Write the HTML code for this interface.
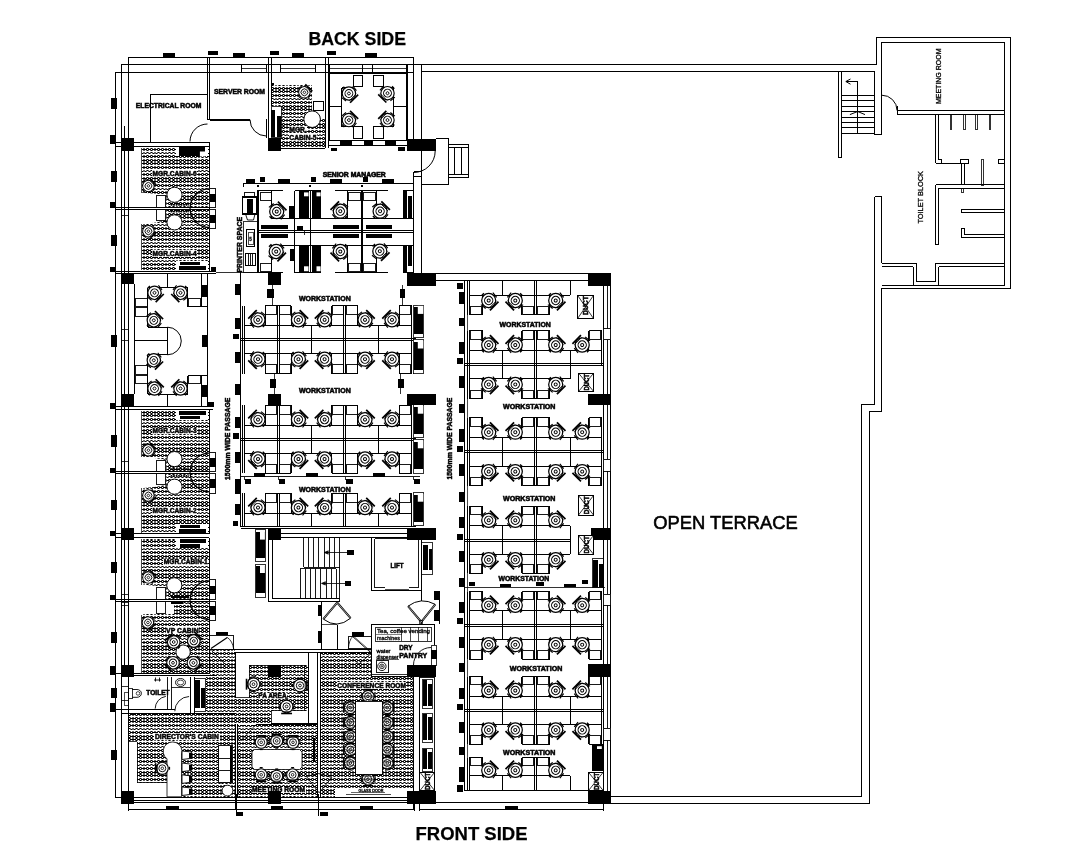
<!DOCTYPE html>
<html><head><meta charset="utf-8"><title>Office floor plan</title>
<style>html,body{margin:0;padding:0;background:#fff}body{width:1086px;height:856px;overflow:hidden;font-family:"Liberation Sans",sans-serif}svg{display:block}.k{shape-rendering:crispEdges}</style>
</head><body>
<svg width="1086" height="856" viewBox="0 0 1086 856">
<defs>
<pattern id="h" width="3.6" height="7.4" patternUnits="userSpaceOnUse">
<g fill="none" stroke="#000" stroke-width="0.8">
<circle cx="1.8" cy="1.85" r="1.05"/>
<path d="M0 1.85H0.75M2.85 1.85H3.6"/>
<path d="M0 5.9Q0.9 4.2 1.8 5.5T3.6 5.9" stroke-width="0.95"/>
</g>
</pattern>
<g id="c" fill="none" stroke="#000" transform="scale(1.08)">
<circle r="6.5" fill="#fff" stroke-width="1.15"/>
<circle r="3.8" stroke-width="1"/>
<circle r="1.4" stroke-width="0.9"/>
<path d="M-5.6 -7.2L5.6 -7.2" stroke-width="1.6"/>
<path d="M-4.8 -5.3L4.8 -5.3" stroke-width="0.8"/>
<path d="M-7.2 -3.2L-7.8 2.4M7.2 -3.2L7.8 2.4" stroke-width="1.1"/>
<path d="M-1.6 7.8L1.6 7.8" stroke-width="1.4"/>
</g>
<g id="c2" fill="none" stroke="#000" transform="scale(1.08)">
<circle r="6.5" fill="#fff" fill-opacity="0.45" stroke-width="1.2"/>
<circle r="3.8" stroke-width="1"/>
<circle r="1.4" stroke-width="0.9"/>
<path d="M-5.6 -7.2L5.6 -7.2" stroke-width="1.6"/>
<path d="M-7.2 -3.2L-7.8 2.4M7.2 -3.2L7.8 2.4" stroke-width="1.1"/>
</g>
</defs>
<rect width="1086" height="856" fill="#fff"/>
<g fill="none" shape-rendering="crispEdges" stroke-width="1"><path stroke="#000" d="M272 85.5h1m6 0h1m3 0h1m6 0h1m3 0h1m6 0h1m3 0h1M272 87.5h1m6 0h1m3 0h1m6 0h1m3 0h1m6 0h1m3 0h1M273 88.5h6m1 0h3m1 0h6m1 0h3m1 0h6m1 0h3m1 0h6M272 89.5h1m6 0h1m3 0h1m6 0h1m3 0h1m6 0h1m3 0h1M272 90.5h1m6 0h1m3 0h1m6 0h1m3 0h1m6 0h1m3 0h1M273 91.5h6m1 0h3m1 0h6m1 0h3m1 0h6m1 0h3m1 0h6M272 92.5h1m6 0h1m3 0h1m6 0h1m3 0h1m6 0h1m3 0h1M272 94.5h1m6 0h1m3 0h1m6 0h1m3 0h1m6 0h1m3 0h1M273 95.5h6m1 0h3m1 0h6m1 0h3m1 0h6m1 0h3m1 0h6M272 96.5h1m6 0h1m3 0h1m6 0h1m3 0h1m6 0h1m3 0h1M272 98.5h1m6 0h1m3 0h1m6 0h1m3 0h1m6 0h1m3 0h1M274 99.5h1m2 0h1m3 0h1m3 0h1m2 0h1m3 0h1m3 0h1m2 0h1m3 0h1m3 0h1m2 0h1M272 101.5h1m6 0h1m3 0h1m6 0h1m3 0h1m6 0h1m3 0h1M273 102.5h6m1 0h3m1 0h6m1 0h3m1 0h6m1 0h3m1 0h6M272 103.5h1m6 0h1m3 0h1m6 0h1m3 0h1m6 0h1m3 0h1M272 105.5h1m6 0h1m3 0h1m6 0h1m3 0h1m6 0h1m3 0h1M273 106.5h6m1 0h3m1 0h6m1 0h3m1 0h6m1 0h3m1 0h6M272 107.5h1m6 0h1m3 0h1m6 0h1m3 0h1m6 0h1m3 0h1M272 108.5h1m6 0h1m3 0h1m6 0h1m3 0h1m6 0h1m3 0h1M273 109.5h6m1 0h3m1 0h6m1 0h3m1 0h6m1 0h3m1 0h6M283 110.5h1m6 0h1m3 0h1m6 0h1m3 0h1M283 112.5h1m6 0h1m3 0h1m6 0h1m3 0h1M280 113.5h3m1 0h6m1 0h3m1 0h6m1 0h3m1 0h6M283 114.5h1m6 0h1m3 0h1m6 0h1m3 0h1M283 116.5h1m6 0h1m3 0h1m6 0h1m3 0h1M281 117.5h1m3 0h1m2 0h1m3 0h1m3 0h1m2 0h1m3 0h1m3 0h1m2 0h1M283 119.5h1m6 0h1m3 0h1m6 0h1m3 0h1m6 0h1m3 0h1m6 0h1M280 120.5h3m1 0h6m1 0h3m1 0h6m1 0h3m1 0h6m1 0h3m1 0h6m1 0h1M283 121.5h1m6 0h1m3 0h1m6 0h1m3 0h1m6 0h1m3 0h1m6 0h1M283 123.5h1m6 0h1m3 0h1m6 0h1m3 0h1m6 0h1m3 0h1m6 0h1M280 124.5h3m1 0h6m1 0h3m1 0h6m1 0h3m1 0h6m1 0h3m1 0h6m1 0h1M283 125.5h1m6 0h1m3 0h1m6 0h1m3 0h1m6 0h1m3 0h1m6 0h1M283 126.5h1m28 0h1m3 0h1m6 0h1M280 127.5h3m1 0h5m18 0h5m1 0h3m1 0h6m1 0h1M283 128.5h1m28 0h1m3 0h1m6 0h1M283 130.5h1m28 0h1m3 0h1m6 0h1M280 131.5h3m1 0h5m18 0h5m1 0h3m1 0h6m1 0h1M283 132.5h1m6 0h1m3 0h1m6 0h1m3 0h1m6 0h1m3 0h1m6 0h1M283 134.5h1m39 0h1M281 135.5h1m3 0h1m2 0h1m29 0h1m2 0h1M283 137.5h1m39 0h1M280 138.5h3m1 0h5m28 0h6m1 0h1M283 139.5h1m39 0h1M283 141.5h1m6 0h1m3 0h1m6 0h1m3 0h1m6 0h1m3 0h1m6 0h1M280 142.5h3m1 0h6m1 0h3m1 0h6m1 0h3m1 0h6m1 0h3m1 0h6m1 0h1M283 143.5h1m6 0h1m3 0h1m6 0h1m3 0h1m6 0h1m3 0h1m6 0h1M283 144.5h1m6 0h1m3 0h1m6 0h1m3 0h1m6 0h1m3 0h1m6 0h1M280 145.5h3m1 0h6m1 0h3m1 0h6m1 0h3m1 0h6m1 0h3m1 0h6m1 0h1M283 146.5h1m6 0h1m3 0h1m6 0h1m3 0h1m6 0h1m3 0h1m6 0h1M147 148.5h1m3 0h1m6 0h1m3 0h1m6 0h1m3 0h1M142 149.5h5m1 0h3m1 0h6m1 0h3m1 0h6m1 0h3m1 0h2m32 0h1M147 150.5h1m3 0h1m6 0h1m3 0h1m6 0h1m3 0h1M147 152.5h1m3 0h1m6 0h1m3 0h1m6 0h1m3 0h1M142 153.5h1m2 0h1m3 0h1m3 0h1m2 0h1m3 0h1m3 0h1m2 0h1m3 0h1m3 0h1m32 0h1M147 155.5h1m3 0h1m6 0h1m3 0h1m6 0h1m3 0h1M142 156.5h5m1 0h3m1 0h6m1 0h3m1 0h6m1 0h3m1 0h6m1 0h3m1 0h6m1 0h3m1 0h6m1 0h3m1 0h2M147 157.5h1m3 0h1m6 0h1m3 0h1m6 0h1m3 0h1m6 0h1m3 0h1m6 0h1m3 0h1m6 0h1m3 0h1M147 159.5h1m3 0h1m6 0h1m3 0h1m6 0h1m3 0h1m6 0h1m3 0h1m6 0h1m3 0h1m6 0h1m3 0h1M142 160.5h5m1 0h3m1 0h6m1 0h3m1 0h6m1 0h3m1 0h6m1 0h3m1 0h6m1 0h3m1 0h6m1 0h3m1 0h2M147 161.5h1m3 0h1m6 0h1m3 0h1m6 0h1m3 0h1m6 0h1m3 0h1m6 0h1m3 0h1m6 0h1m3 0h1M147 162.5h1m3 0h1m6 0h1m3 0h1m6 0h1m3 0h1m6 0h1m3 0h1m6 0h1m3 0h1m6 0h1m3 0h1M142 163.5h5m1 0h3m1 0h6m1 0h3m1 0h6m1 0h3m1 0h6m1 0h3m1 0h6m1 0h3m1 0h6m1 0h3m1 0h2M147 164.5h1m3 0h1m6 0h1m3 0h1m6 0h1m3 0h1m6 0h1m3 0h1m6 0h1m3 0h1m6 0h1m3 0h1M147 166.5h1m3 0h1m6 0h1m3 0h1m6 0h1m3 0h1m6 0h1m3 0h1m6 0h1m3 0h1m6 0h1m3 0h1M142 167.5h5m1 0h3m1 0h6m1 0h3m1 0h6m1 0h3m1 0h6m1 0h3m1 0h6m1 0h3m1 0h6m1 0h3m1 0h2M147 168.5h1m3 0h1m6 0h1m3 0h1m6 0h1m3 0h1m6 0h1m3 0h1m6 0h1m3 0h1m6 0h1m3 0h1M147 170.5h1m3 0h1m50 0h1m3 0h1M142 171.5h1m2 0h1m3 0h1m47 0h1m2 0h1m3 0h1m3 0h1M147 173.5h1m3 0h1m50 0h1m3 0h1M142 174.5h5m1 0h3m46 0h5m1 0h3m1 0h2M147 175.5h1m3 0h1m50 0h1m3 0h1M147 177.5h1m3 0h1m6 0h1m3 0h1m6 0h1m3 0h1m6 0h1m3 0h1m6 0h1m3 0h1m6 0h1m3 0h1M142 178.5h5m1 0h3m1 0h6m1 0h3m1 0h6m1 0h3m1 0h6m1 0h3m1 0h6m1 0h3m1 0h6m1 0h3m1 0h2M147 179.5h1m3 0h1m6 0h1m3 0h1m6 0h1m3 0h1m6 0h1m3 0h1m6 0h1m3 0h1m6 0h1m3 0h1M147 180.5h1m3 0h1m6 0h1m3 0h1m6 0h1m3 0h1m6 0h1m3 0h1m6 0h1m3 0h1m6 0h1m3 0h1M142 181.5h5m1 0h3m1 0h6m1 0h3m1 0h6m1 0h3m1 0h6m1 0h3m1 0h6m1 0h3m1 0h6m1 0h3m1 0h2M147 182.5h1m3 0h1m6 0h1m3 0h1m6 0h1m3 0h1m6 0h1m3 0h1m6 0h1m3 0h1m6 0h1m3 0h1M147 184.5h1m3 0h1m6 0h1m3 0h1m6 0h1m3 0h1m6 0h1m3 0h1m6 0h1m3 0h1m6 0h1m3 0h1M142 185.5h5m1 0h3m1 0h6m1 0h3m1 0h6m1 0h3m1 0h6m1 0h3m1 0h6m1 0h3m1 0h6m1 0h3m1 0h2M147 186.5h1m3 0h1m6 0h1m3 0h1m6 0h1m3 0h1m6 0h1m3 0h1m6 0h1m3 0h1m6 0h1m3 0h1M147 188.5h1m3 0h1m6 0h1m3 0h1m6 0h1m3 0h1m6 0h1m3 0h1m6 0h1m3 0h1m6 0h1m3 0h1M142 189.5h1m2 0h1m3 0h1m3 0h1m2 0h1m3 0h1m3 0h1m2 0h1m3 0h1m3 0h1m2 0h1m3 0h1m3 0h1m2 0h1m3 0h1m3 0h1m2 0h1m3 0h1m3 0h1M147 191.5h1m3 0h1m6 0h1m3 0h1m6 0h1m3 0h1m6 0h1m3 0h1m6 0h1m3 0h1m6 0h1m3 0h1M142 192.5h5m1 0h3m1 0h6m1 0h3m1 0h6m1 0h3m1 0h6m1 0h3m1 0h6m1 0h3m1 0h6m1 0h3m1 0h2M147 193.5h1m3 0h1m6 0h1m3 0h1m6 0h1m3 0h1m6 0h1m3 0h1m6 0h1m3 0h1m6 0h1m3 0h1M147 195.5h1m3 0h1m6 0h1m3 0h1m6 0h1m3 0h1m6 0h1m3 0h1m6 0h1m3 0h1m6 0h1m3 0h1M142 196.5h5m1 0h3m1 0h6m1 0h3m1 0h6m1 0h3m1 0h6m1 0h3m1 0h6m1 0h3m1 0h6m1 0h3m1 0h2M147 197.5h1m3 0h1m6 0h1m3 0h1m6 0h1m3 0h1m6 0h1m3 0h1m6 0h1m3 0h1m6 0h1m3 0h1M147 198.5h1m3 0h1m6 0h1m3 0h1m6 0h1m3 0h1m6 0h1m3 0h1m6 0h1m3 0h1m6 0h1m3 0h1M142 199.5h5m1 0h3m1 0h6m1 0h3m1 0h6m1 0h3m1 0h6m1 0h3m1 0h6m1 0h3m1 0h6m1 0h3m1 0h2M147 200.5h1m3 0h1m6 0h1m3 0h1m6 0h1m3 0h1m6 0h1m3 0h1m6 0h1m3 0h1m6 0h1m3 0h1M147 202.5h1m3 0h1m6 0h1m3 0h1m6 0h1m3 0h1m6 0h1m3 0h1m6 0h1m3 0h1m6 0h1m3 0h1M142 203.5h5m1 0h3m1 0h6m1 0h3m1 0h6m1 0h3m1 0h6m1 0h3m1 0h6m1 0h3m1 0h6m1 0h3m1 0h2M147 204.5h1m3 0h1m6 0h1m3 0h1m6 0h1m3 0h1m6 0h1m3 0h1m6 0h1m3 0h1m6 0h1m3 0h1M147 206.5h1m3 0h1m6 0h1m3 0h1m6 0h1m3 0h1m6 0h1m3 0h1m6 0h1m3 0h1m6 0h1m3 0h1M147 209.5h1m3 0h1m6 0h1m3 0h1m6 0h1m3 0h1m6 0h1m3 0h1m6 0h1m3 0h1m6 0h1m3 0h1M142 210.5h5m1 0h3m1 0h6m1 0h3m1 0h6m1 0h3m1 0h6m1 0h3m1 0h6m1 0h3m1 0h6m1 0h3m1 0h2M147 211.5h1m3 0h1m6 0h1m3 0h1m6 0h1m3 0h1m6 0h1m3 0h1m6 0h1m3 0h1m6 0h1m3 0h1M147 213.5h1m3 0h1m6 0h1m3 0h1m6 0h1m3 0h1m6 0h1m3 0h1m6 0h1m3 0h1m6 0h1m3 0h1M142 214.5h5m1 0h3m1 0h6m1 0h3m1 0h6m1 0h3m1 0h6m1 0h3m1 0h6m1 0h3m1 0h6m1 0h3m1 0h2M147 215.5h1m3 0h1m6 0h1m3 0h1m6 0h1m3 0h1m6 0h1m3 0h1m6 0h1m3 0h1m6 0h1m3 0h1M147 216.5h1m3 0h1m6 0h1m3 0h1m6 0h1m3 0h1m6 0h1m3 0h1m6 0h1m3 0h1m6 0h1m3 0h1M142 217.5h5m1 0h3m1 0h6m1 0h3m1 0h6m1 0h3m1 0h6m1 0h3m1 0h6m1 0h3m1 0h6m1 0h3m1 0h2M147 218.5h1m3 0h1m6 0h1m3 0h1m6 0h1m3 0h1m6 0h1m3 0h1m6 0h1m3 0h1m6 0h1m3 0h1M147 220.5h1m3 0h1m6 0h1m3 0h1m6 0h1m3 0h1m6 0h1m3 0h1m6 0h1m3 0h1m6 0h1m3 0h1M142 221.5h5m1 0h3m1 0h6m1 0h3m1 0h6m1 0h3m1 0h6m1 0h3m1 0h6m1 0h3m1 0h6m1 0h3m1 0h2M147 222.5h1m3 0h1m6 0h1m3 0h1m6 0h1m3 0h1m6 0h1m3 0h1m6 0h1m3 0h1m6 0h1m3 0h1M147 224.5h1m3 0h1m6 0h1m3 0h1m6 0h1m3 0h1m6 0h1m3 0h1m6 0h1m3 0h1m6 0h1m3 0h1M142 225.5h1m2 0h1m3 0h1m3 0h1m2 0h1m3 0h1m3 0h1m2 0h1m3 0h1m3 0h1m2 0h1m3 0h1m3 0h1m2 0h1m3 0h1m3 0h1m2 0h1m3 0h1m3 0h1M147 227.5h1m3 0h1m6 0h1m3 0h1m6 0h1m3 0h1m6 0h1m3 0h1m6 0h1m3 0h1m6 0h1m3 0h1M142 228.5h5m1 0h3m1 0h6m1 0h3m1 0h6m1 0h3m1 0h6m1 0h3m1 0h6m1 0h3m1 0h6m1 0h3m1 0h2M147 229.5h1m3 0h1m6 0h1m3 0h1m6 0h1m3 0h1m6 0h1m3 0h1m6 0h1m3 0h1m6 0h1m3 0h1M147 231.5h1m3 0h1m6 0h1m3 0h1m6 0h1m3 0h1m6 0h1m3 0h1m6 0h1m3 0h1m6 0h1m3 0h1M142 232.5h5m1 0h3m1 0h6m1 0h3m1 0h6m1 0h3m1 0h6m1 0h3m1 0h6m1 0h3m1 0h6m1 0h3m1 0h2M147 233.5h1m3 0h1m6 0h1m3 0h1m6 0h1m3 0h1m6 0h1m3 0h1m6 0h1m3 0h1m6 0h1m3 0h1M147 234.5h1m3 0h1m6 0h1m3 0h1m6 0h1m3 0h1m6 0h1m3 0h1m6 0h1m3 0h1m6 0h1m3 0h1M142 235.5h5m1 0h3m1 0h6m1 0h3m1 0h6m1 0h3m1 0h6m1 0h3m1 0h6m1 0h3m1 0h6m1 0h3m1 0h2M147 236.5h1m3 0h1m6 0h1m3 0h1m6 0h1m3 0h1m6 0h1m3 0h1m6 0h1m3 0h1m6 0h1m3 0h1M147 238.5h1m3 0h1m6 0h1m3 0h1m6 0h1m3 0h1m6 0h1m3 0h1m6 0h1m3 0h1m6 0h1m3 0h1M142 239.5h5m1 0h3m1 0h6m1 0h3m1 0h6m1 0h3m1 0h6m1 0h3m1 0h6m1 0h3m1 0h6m1 0h3m1 0h2M147 240.5h1m3 0h1m6 0h1m3 0h1m6 0h1m3 0h1m6 0h1m3 0h1m6 0h1m3 0h1m6 0h1m3 0h1M147 242.5h1m3 0h1m6 0h1m3 0h1m6 0h1m3 0h1m6 0h1m3 0h1m6 0h1m3 0h1m6 0h1m3 0h1M142 243.5h1m2 0h1m3 0h1m3 0h1m2 0h1m3 0h1m3 0h1m2 0h1m3 0h1m3 0h1m2 0h1m3 0h1m3 0h1m2 0h1m3 0h1m3 0h1m2 0h1m3 0h1m3 0h1M147 245.5h1m3 0h1m6 0h1m3 0h1m6 0h1m3 0h1m6 0h1m3 0h1m6 0h1m3 0h1m6 0h1m3 0h1M142 246.5h5m1 0h3m1 0h6m1 0h3m1 0h6m1 0h3m1 0h6m1 0h3m1 0h6m1 0h3m1 0h6m1 0h3m1 0h2M147 247.5h1m3 0h1m6 0h1m3 0h1m6 0h1m3 0h1m6 0h1m3 0h1m6 0h1m3 0h1m6 0h1m3 0h1M147 249.5h1m3 0h1m6 0h1m3 0h1m6 0h1m3 0h1m6 0h1m3 0h1m6 0h1m3 0h1m6 0h1m3 0h1M142 250.5h5m1 0h3m46 0h5m1 0h3m1 0h2M147 251.5h1m3 0h1m50 0h1m3 0h1M147 252.5h1m3 0h1m50 0h1m3 0h1M142 253.5h5m1 0h3m46 0h5m1 0h3m1 0h2M147 254.5h1m3 0h1m50 0h1m3 0h1M147 256.5h1m3 0h1m50 0h1m3 0h1M142 257.5h5m1 0h3m1 0h6m1 0h3m1 0h6m1 0h3m1 0h6m1 0h3m1 0h6m1 0h3m1 0h6m1 0h3m1 0h2M147 258.5h1m3 0h1m6 0h1m3 0h1m6 0h1m3 0h1m6 0h1m3 0h1m6 0h1m3 0h1m6 0h1m3 0h1M147 260.5h1m3 0h1m6 0h1m3 0h1m6 0h1m3 0h1m6 0h1m3 0h1m6 0h1m3 0h1m6 0h1m3 0h1M142 261.5h1m2 0h1m3 0h1m3 0h1m2 0h1m3 0h1m3 0h1m2 0h1m3 0h1m3 0h1m32 0h1M147 263.5h1m3 0h1m6 0h1m3 0h1m6 0h1m3 0h1M142 264.5h5m1 0h3m1 0h6m1 0h3m1 0h6m1 0h3m1 0h2m32 0h1M147 265.5h1m3 0h1m6 0h1m3 0h1m6 0h1m3 0h1M147 267.5h1m3 0h1m6 0h1m3 0h1m6 0h1m3 0h1M142 268.5h5m1 0h3m1 0h6m1 0h3m1 0h6m1 0h3m1 0h2m32 0h1M147 269.5h1m3 0h1m6 0h1m3 0h1m6 0h1m3 0h1M147 411.5h1m3 0h1m6 0h1m3 0h1m6 0h1m3 0h1M142 412.5h5m1 0h3m1 0h6m1 0h3m1 0h6m1 0h3m1 0h2m32 0h1M147 413.5h1m3 0h1m6 0h1m3 0h1m6 0h1m3 0h1M147 414.5h1m3 0h1m6 0h1m3 0h1m6 0h1m3 0h1M142 415.5h5m1 0h3m1 0h6m1 0h3m1 0h6m1 0h3m1 0h2m32 0h1M147 416.5h1m3 0h1m6 0h1m3 0h1m6 0h1m3 0h1M147 418.5h1m3 0h1m6 0h1m3 0h1m6 0h1m3 0h1M142 419.5h5m1 0h3m1 0h6m1 0h3m1 0h6m1 0h3m1 0h2m32 0h1M147 420.5h1m3 0h1m6 0h1m3 0h1m6 0h1m3 0h1m6 0h1m3 0h1m6 0h1m3 0h1m6 0h1m3 0h1M147 422.5h1m3 0h1m6 0h1m3 0h1m6 0h1m3 0h1m6 0h1m3 0h1m6 0h1m3 0h1m6 0h1m3 0h1M142 423.5h1m2 0h1m3 0h1m3 0h1m2 0h1m3 0h1m3 0h1m2 0h1m3 0h1m3 0h1m2 0h1m3 0h1m3 0h1m2 0h1m3 0h1m3 0h1m2 0h1m3 0h1m3 0h1M147 425.5h1m3 0h1m6 0h1m3 0h1m6 0h1m3 0h1m6 0h1m3 0h1m6 0h1m3 0h1m6 0h1m3 0h1M142 426.5h5m1 0h3m1 0h6m1 0h3m1 0h6m1 0h3m1 0h6m1 0h3m1 0h6m1 0h3m1 0h6m1 0h3m1 0h2M147 427.5h1m3 0h1m6 0h1m3 0h1m6 0h1m3 0h1m6 0h1m3 0h1m6 0h1m3 0h1m6 0h1m3 0h1M147 429.5h1m3 0h1m50 0h1m3 0h1M142 430.5h5m1 0h3m46 0h5m1 0h3m1 0h2M147 431.5h1m3 0h1m50 0h1m3 0h1M147 432.5h1m3 0h1m50 0h1m3 0h1M142 433.5h5m1 0h3m46 0h5m1 0h3m1 0h2M147 434.5h1m3 0h1m6 0h1m3 0h1m6 0h1m3 0h1m6 0h1m3 0h1m6 0h1m3 0h1m6 0h1m3 0h1M147 436.5h1m3 0h1m6 0h1m3 0h1m6 0h1m3 0h1m6 0h1m3 0h1m6 0h1m3 0h1m6 0h1m3 0h1M142 437.5h5m1 0h3m1 0h6m1 0h3m1 0h6m1 0h3m1 0h6m1 0h3m1 0h6m1 0h3m1 0h6m1 0h3m1 0h2M147 438.5h1m3 0h1m6 0h1m3 0h1m6 0h1m3 0h1m6 0h1m3 0h1m6 0h1m3 0h1m6 0h1m3 0h1M147 440.5h1m3 0h1m6 0h1m3 0h1m6 0h1m3 0h1m6 0h1m3 0h1m6 0h1m3 0h1m6 0h1m3 0h1M142 441.5h1m2 0h1m3 0h1m3 0h1m2 0h1m3 0h1m3 0h1m2 0h1m3 0h1m3 0h1m2 0h1m3 0h1m3 0h1m2 0h1m3 0h1m3 0h1m2 0h1m3 0h1m3 0h1M147 443.5h1m3 0h1m6 0h1m3 0h1m6 0h1m3 0h1m6 0h1m3 0h1m6 0h1m3 0h1m6 0h1m3 0h1M142 444.5h5m1 0h3m1 0h6m1 0h3m1 0h6m1 0h3m1 0h6m1 0h3m1 0h6m1 0h3m1 0h6m1 0h3m1 0h2M147 445.5h1m3 0h1m6 0h1m3 0h1m6 0h1m3 0h1m6 0h1m3 0h1m6 0h1m3 0h1m6 0h1m3 0h1M147 447.5h1m3 0h1m6 0h1m3 0h1m6 0h1m3 0h1m6 0h1m3 0h1m6 0h1m3 0h1m6 0h1m3 0h1M142 448.5h5m1 0h3m1 0h6m1 0h3m1 0h6m1 0h3m1 0h6m1 0h3m1 0h6m1 0h3m1 0h6m1 0h3m1 0h2M147 449.5h1m3 0h1m6 0h1m3 0h1m6 0h1m3 0h1m6 0h1m3 0h1m6 0h1m3 0h1m6 0h1m3 0h1M147 450.5h1m3 0h1m6 0h1m3 0h1m6 0h1m3 0h1m6 0h1m3 0h1m6 0h1m3 0h1m6 0h1m3 0h1M142 451.5h5m1 0h3m1 0h6m1 0h3m1 0h6m1 0h3m1 0h6m1 0h3m1 0h6m1 0h3m1 0h6m1 0h3m1 0h2M147 452.5h1m3 0h1m6 0h1m3 0h1m6 0h1m3 0h1m6 0h1m3 0h1m6 0h1m3 0h1m6 0h1m3 0h1M147 454.5h1m3 0h1m6 0h1m3 0h1m6 0h1m3 0h1m6 0h1m3 0h1m6 0h1m3 0h1m6 0h1m3 0h1M142 455.5h5m1 0h3m1 0h6m1 0h3m1 0h6m1 0h3m1 0h6m1 0h3m1 0h6m1 0h3m1 0h6m1 0h3m1 0h2M147 456.5h1m3 0h1m6 0h1m3 0h1m6 0h1m3 0h1m6 0h1m3 0h1m6 0h1m3 0h1m6 0h1m3 0h1M147 458.5h1m3 0h1m6 0h1m3 0h1m6 0h1m3 0h1m6 0h1m3 0h1m6 0h1m3 0h1m6 0h1m3 0h1M142 459.5h1m2 0h1m3 0h1m3 0h1m2 0h1m3 0h1m3 0h1m2 0h1m3 0h1m3 0h1m2 0h1m3 0h1m3 0h1m2 0h1m3 0h1m3 0h1m2 0h1m3 0h1m3 0h1M147 461.5h1m3 0h1m6 0h1m3 0h1m6 0h1m3 0h1m6 0h1m3 0h1m6 0h1m3 0h1m6 0h1m3 0h1M142 462.5h5m1 0h3m1 0h6m1 0h3m1 0h6m1 0h3m1 0h6m1 0h3m1 0h6m1 0h3m1 0h6m1 0h3m1 0h2M147 463.5h1m3 0h1m6 0h1m3 0h1m6 0h1m3 0h1m6 0h1m3 0h1m6 0h1m3 0h1m6 0h1m3 0h1M147 465.5h1m3 0h1m6 0h1m3 0h1m6 0h1m3 0h1m6 0h1m3 0h1m6 0h1m3 0h1m6 0h1m3 0h1M142 466.5h5m1 0h3m1 0h6m1 0h3m1 0h6m1 0h3m1 0h6m1 0h3m1 0h6m1 0h3m1 0h6m1 0h3m1 0h2M147 467.5h1m3 0h1m6 0h1m3 0h1m6 0h1m3 0h1m6 0h1m3 0h1m6 0h1m3 0h1m6 0h1m3 0h1M147 468.5h1m3 0h1m6 0h1m3 0h1m6 0h1m3 0h1m6 0h1m3 0h1m6 0h1m3 0h1m6 0h1m3 0h1M142 469.5h5m1 0h3m1 0h6m1 0h3m1 0h6m1 0h3m1 0h6m1 0h3m1 0h6m1 0h3m1 0h6m1 0h3m1 0h2M147 470.5h1m3 0h1m6 0h1m3 0h1m6 0h1m3 0h1m6 0h1m3 0h1m6 0h1m3 0h1m6 0h1m3 0h1M147 474.5h1m3 0h1m6 0h1m3 0h1m6 0h1m3 0h1m6 0h1m3 0h1m6 0h1m3 0h1m6 0h1m3 0h1M147 476.5h1m3 0h1m6 0h1m3 0h1m6 0h1m3 0h1m6 0h1m3 0h1m6 0h1m3 0h1m6 0h1m3 0h1M142 477.5h1m2 0h1m3 0h1m3 0h1m2 0h1m3 0h1m3 0h1m2 0h1m3 0h1m3 0h1m2 0h1m3 0h1m3 0h1m2 0h1m3 0h1m3 0h1m2 0h1m3 0h1m3 0h1M147 479.5h1m3 0h1m6 0h1m3 0h1m6 0h1m3 0h1m6 0h1m3 0h1m6 0h1m3 0h1m6 0h1m3 0h1M142 480.5h5m1 0h3m1 0h6m1 0h3m1 0h6m1 0h3m1 0h6m1 0h3m1 0h6m1 0h3m1 0h6m1 0h3m1 0h2M147 481.5h1m3 0h1m6 0h1m3 0h1m6 0h1m3 0h1m6 0h1m3 0h1m6 0h1m3 0h1m6 0h1m3 0h1M147 483.5h1m3 0h1m6 0h1m3 0h1m6 0h1m3 0h1m6 0h1m3 0h1m6 0h1m3 0h1m6 0h1m3 0h1M142 484.5h5m1 0h3m1 0h6m1 0h3m1 0h6m1 0h3m1 0h6m1 0h3m1 0h6m1 0h3m1 0h6m1 0h3m1 0h2M147 485.5h1m3 0h1m6 0h1m3 0h1m6 0h1m3 0h1m6 0h1m3 0h1m6 0h1m3 0h1m6 0h1m3 0h1M147 486.5h1m3 0h1m6 0h1m3 0h1m6 0h1m3 0h1m6 0h1m3 0h1m6 0h1m3 0h1m6 0h1m3 0h1M142 487.5h5m1 0h3m1 0h6m1 0h3m1 0h6m1 0h3m1 0h6m1 0h3m1 0h6m1 0h3m1 0h6m1 0h3m1 0h2M147 488.5h1m3 0h1m6 0h1m3 0h1m6 0h1m3 0h1m6 0h1m3 0h1m6 0h1m3 0h1m6 0h1m3 0h1M147 490.5h1m3 0h1m6 0h1m3 0h1m6 0h1m3 0h1m6 0h1m3 0h1m6 0h1m3 0h1m6 0h1m3 0h1M142 491.5h5m1 0h3m1 0h6m1 0h3m1 0h6m1 0h3m1 0h6m1 0h3m1 0h6m1 0h3m1 0h6m1 0h3m1 0h2M147 492.5h1m3 0h1m6 0h1m3 0h1m6 0h1m3 0h1m6 0h1m3 0h1m6 0h1m3 0h1m6 0h1m3 0h1M147 494.5h1m3 0h1m6 0h1m3 0h1m6 0h1m3 0h1m6 0h1m3 0h1m6 0h1m3 0h1m6 0h1m3 0h1M142 495.5h1m2 0h1m3 0h1m3 0h1m2 0h1m3 0h1m3 0h1m2 0h1m3 0h1m3 0h1m2 0h1m3 0h1m3 0h1m2 0h1m3 0h1m3 0h1m2 0h1m3 0h1m3 0h1M147 497.5h1m3 0h1m6 0h1m3 0h1m6 0h1m3 0h1m6 0h1m3 0h1m6 0h1m3 0h1m6 0h1m3 0h1M142 498.5h5m1 0h3m1 0h6m1 0h3m1 0h6m1 0h3m1 0h6m1 0h3m1 0h6m1 0h3m1 0h6m1 0h3m1 0h2M147 499.5h1m3 0h1m6 0h1m3 0h1m6 0h1m3 0h1m6 0h1m3 0h1m6 0h1m3 0h1m6 0h1m3 0h1M147 501.5h1m3 0h1m6 0h1m3 0h1m6 0h1m3 0h1m6 0h1m3 0h1m6 0h1m3 0h1m6 0h1m3 0h1M142 502.5h5m1 0h3m1 0h6m1 0h3m1 0h6m1 0h3m1 0h6m1 0h3m1 0h6m1 0h3m1 0h6m1 0h3m1 0h2M147 503.5h1m3 0h1m6 0h1m3 0h1m6 0h1m3 0h1m6 0h1m3 0h1m6 0h1m3 0h1m6 0h1m3 0h1M147 504.5h1m3 0h1m6 0h1m3 0h1m6 0h1m3 0h1m6 0h1m3 0h1m6 0h1m3 0h1m6 0h1m3 0h1M142 505.5h5m1 0h3m1 0h6m1 0h3m1 0h6m1 0h3m1 0h6m1 0h3m1 0h6m1 0h3m1 0h6m1 0h3m1 0h2M147 506.5h1m3 0h1m6 0h1m3 0h1m6 0h1m3 0h1m6 0h1m3 0h1m6 0h1m3 0h1m6 0h1m3 0h1M147 508.5h1m3 0h1m50 0h1m3 0h1M142 509.5h5m1 0h3m46 0h5m1 0h3m1 0h2M147 510.5h1m3 0h1m50 0h1m3 0h1M147 512.5h1m3 0h1m50 0h1m3 0h1M142 513.5h1m2 0h1m3 0h1m47 0h1m2 0h1m3 0h1m3 0h1M147 515.5h1m3 0h1m6 0h1m3 0h1m6 0h1m3 0h1m6 0h1m3 0h1m6 0h1m3 0h1m6 0h1m3 0h1M142 516.5h5m1 0h3m1 0h6m1 0h3m1 0h6m1 0h3m1 0h6m1 0h3m1 0h6m1 0h3m1 0h6m1 0h3m1 0h2M147 517.5h1m3 0h1m6 0h1m3 0h1m6 0h1m3 0h1m6 0h1m3 0h1m6 0h1m3 0h1m6 0h1m3 0h1M147 519.5h1m3 0h1m6 0h1m3 0h1m6 0h1m3 0h1m6 0h1m3 0h1m6 0h1m3 0h1m6 0h1m3 0h1M142 520.5h5m1 0h3m1 0h6m1 0h3m1 0h6m1 0h3m1 0h6m1 0h3m1 0h6m1 0h3m1 0h6m1 0h3m1 0h2M147 521.5h1m3 0h1m6 0h1m3 0h1m6 0h1m3 0h1m6 0h1m3 0h1m6 0h1m3 0h1m6 0h1m3 0h1M147 522.5h1m3 0h1m6 0h1m3 0h1m6 0h1m3 0h1m6 0h1m3 0h1m6 0h1m3 0h1m6 0h1m3 0h1M142 523.5h5m1 0h3m1 0h6m1 0h3m1 0h6m1 0h3m1 0h6m1 0h3m1 0h6m1 0h3m1 0h6m1 0h3m1 0h2M147 524.5h1m3 0h1m6 0h1m3 0h1m6 0h1m3 0h1M147 526.5h1m3 0h1m6 0h1m3 0h1m6 0h1m3 0h1M142 527.5h5m1 0h3m1 0h6m1 0h3m1 0h6m1 0h3m1 0h2m32 0h1M147 528.5h1m3 0h1m6 0h1m3 0h1m6 0h1m3 0h1M147 530.5h1m3 0h1m6 0h1m3 0h1m6 0h1m3 0h1M142 531.5h1m2 0h1m3 0h1m3 0h1m2 0h1m3 0h1m3 0h1m2 0h1m3 0h1m3 0h1m32 0h1M147 539.5h1m3 0h1m6 0h1m3 0h1m6 0h1m3 0h1M147 540.5h1m3 0h1m6 0h1m3 0h1m6 0h1m3 0h1M142 541.5h5m1 0h3m1 0h6m1 0h3m1 0h6m1 0h3m1 0h2m32 0h1M147 542.5h1m3 0h1m6 0h1m3 0h1m6 0h1m3 0h1M147 544.5h1m3 0h1m6 0h1m3 0h1m6 0h1m3 0h1M142 545.5h5m1 0h3m1 0h6m1 0h3m1 0h6m1 0h3m1 0h2m32 0h1M147 546.5h1m3 0h1m6 0h1m3 0h1m6 0h1m3 0h1M147 548.5h1m3 0h1m6 0h1m3 0h1m6 0h1m3 0h1m6 0h1m3 0h1m6 0h1m3 0h1m6 0h1m3 0h1M142 549.5h1m2 0h1m3 0h1m3 0h1m2 0h1m3 0h1m3 0h1m2 0h1m3 0h1m3 0h1m2 0h1m3 0h1m3 0h1m2 0h1m3 0h1m3 0h1m2 0h1m3 0h1m3 0h1M147 551.5h1m3 0h1m6 0h1m3 0h1m6 0h1m3 0h1m6 0h1m3 0h1m6 0h1m3 0h1m6 0h1m3 0h1M142 552.5h5m1 0h3m1 0h6m1 0h3m1 0h6m1 0h3m1 0h6m1 0h3m1 0h6m1 0h3m1 0h6m1 0h3m1 0h2M147 553.5h1m3 0h1m6 0h1m3 0h1m6 0h1m3 0h1m6 0h1m3 0h1m6 0h1m3 0h1m6 0h1m3 0h1M147 555.5h1m3 0h1m6 0h1m3 0h1m6 0h1m3 0h1m6 0h1m3 0h1m6 0h1m3 0h1m6 0h1m3 0h1M142 556.5h5m1 0h3m1 0h6m1 0h3m1 0h6m1 0h3m1 0h6m1 0h3m1 0h6m1 0h3m1 0h6m1 0h3m1 0h2M147 557.5h1m3 0h1m6 0h1m3 0h1m6 0h1m3 0h1m6 0h1m3 0h1m6 0h1m3 0h1m6 0h1m3 0h1M147 558.5h1m3 0h1m6 0h1m3 0h1m6 0h1m3 0h1m6 0h1m3 0h1m6 0h1m3 0h1m6 0h1m3 0h1M142 559.5h5m1 0h3m1 0h6m1 0h3m46 0h1M147 560.5h1m3 0h1m6 0h1m3 0h1M147 562.5h1m3 0h1m6 0h1m3 0h1M142 563.5h5m1 0h3m1 0h6m1 0h3m46 0h1M147 564.5h1m3 0h1m6 0h1m3 0h1M147 566.5h1m3 0h1m6 0h1m3 0h1m6 0h1m3 0h1m6 0h1m3 0h1m6 0h1m3 0h1m6 0h1m3 0h1M142 567.5h1m2 0h1m3 0h1m3 0h1m2 0h1m3 0h1m3 0h1m2 0h1m3 0h1m3 0h1m2 0h1m3 0h1m3 0h1m2 0h1m3 0h1m3 0h1m2 0h1m3 0h1m3 0h1M147 569.5h1m3 0h1m6 0h1m3 0h1m6 0h1m3 0h1m6 0h1m3 0h1m6 0h1m3 0h1m6 0h1m3 0h1M142 570.5h5m1 0h3m1 0h6m1 0h3m1 0h6m1 0h3m1 0h6m1 0h3m1 0h6m1 0h3m1 0h6m1 0h3m1 0h2M147 571.5h1m3 0h1m6 0h1m3 0h1m6 0h1m3 0h1m6 0h1m3 0h1m6 0h1m3 0h1m6 0h1m3 0h1M147 573.5h1m3 0h1m6 0h1m3 0h1m6 0h1m3 0h1m6 0h1m3 0h1m6 0h1m3 0h1m6 0h1m3 0h1M142 574.5h5m1 0h3m1 0h6m1 0h3m1 0h6m1 0h3m1 0h6m1 0h3m1 0h6m1 0h3m1 0h6m1 0h3m1 0h2M147 575.5h1m3 0h1m6 0h1m3 0h1m6 0h1m3 0h1m6 0h1m3 0h1m6 0h1m3 0h1m6 0h1m3 0h1M147 576.5h1m3 0h1m6 0h1m3 0h1m6 0h1m3 0h1m6 0h1m3 0h1m6 0h1m3 0h1m6 0h1m3 0h1M142 577.5h5m1 0h3m1 0h6m1 0h3m1 0h6m1 0h3m1 0h6m1 0h3m1 0h6m1 0h3m1 0h6m1 0h3m1 0h2M147 578.5h1m3 0h1m6 0h1m3 0h1m6 0h1m3 0h1m6 0h1m3 0h1m6 0h1m3 0h1m6 0h1m3 0h1M147 580.5h1m3 0h1m6 0h1m3 0h1m6 0h1m3 0h1m6 0h1m3 0h1m6 0h1m3 0h1m6 0h1m3 0h1M142 581.5h5m1 0h3m1 0h6m1 0h3m1 0h6m1 0h3m1 0h6m1 0h3m1 0h6m1 0h3m1 0h6m1 0h3m1 0h2M147 582.5h1m3 0h1m6 0h1m3 0h1m6 0h1m3 0h1m6 0h1m3 0h1m6 0h1m3 0h1m6 0h1m3 0h1M147 584.5h1m3 0h1m6 0h1m3 0h1m6 0h1m3 0h1m6 0h1m3 0h1m6 0h1m3 0h1m6 0h1m3 0h1M142 585.5h1m2 0h1m3 0h1m3 0h1m2 0h1m3 0h1m3 0h1m2 0h1m3 0h1m3 0h1m2 0h1m3 0h1m3 0h1m2 0h1m3 0h1m3 0h1m2 0h1m3 0h1m3 0h1M147 587.5h1m3 0h1m6 0h1m3 0h1m6 0h1m3 0h1m6 0h1m3 0h1m6 0h1m3 0h1m6 0h1m3 0h1M142 588.5h5m1 0h3m1 0h6m1 0h3m1 0h6m1 0h3m1 0h6m1 0h3m1 0h6m1 0h3m1 0h6m1 0h3m1 0h2M147 589.5h1m3 0h1m6 0h1m3 0h1m6 0h1m3 0h1m6 0h1m3 0h1m6 0h1m3 0h1m6 0h1m3 0h1M147 591.5h1m3 0h1m6 0h1m3 0h1m6 0h1m3 0h1m6 0h1m3 0h1m6 0h1m3 0h1m6 0h1m3 0h1M142 592.5h5m1 0h3m1 0h6m1 0h3m1 0h6m1 0h3m1 0h6m1 0h3m1 0h6m1 0h3m1 0h6m1 0h3m1 0h2M147 593.5h1m3 0h1m6 0h1m3 0h1m6 0h1m3 0h1m6 0h1m3 0h1m6 0h1m3 0h1m6 0h1m3 0h1M147 594.5h1m3 0h1m6 0h1m3 0h1m6 0h1m3 0h1m6 0h1m3 0h1m6 0h1m3 0h1m6 0h1m3 0h1M142 595.5h5m1 0h3m1 0h6m1 0h3m1 0h6m1 0h3m1 0h6m1 0h3m1 0h6m1 0h3m1 0h6m1 0h3m1 0h2M147 596.5h1m3 0h1m6 0h1m3 0h1m6 0h1m3 0h1m6 0h1m3 0h1m6 0h1m3 0h1m6 0h1m3 0h1M147 598.5h1m3 0h1m6 0h1m3 0h1m6 0h1m3 0h1m6 0h1m3 0h1m6 0h1m3 0h1m6 0h1m3 0h1M180 602.5h1m3 0h1m6 0h1m3 0h1m6 0h1m3 0h1M175 603.5h1m2 0h1m3 0h1m3 0h1m2 0h1m3 0h1m3 0h1m2 0h1m3 0h1m3 0h1M180 605.5h1m3 0h1m6 0h1m3 0h1m6 0h1m3 0h1M174 606.5h6m1 0h3m1 0h6m1 0h3m1 0h6m1 0h3m1 0h2M180 607.5h1m3 0h1m6 0h1m3 0h1m6 0h1m3 0h1M180 609.5h1m3 0h1m6 0h1m3 0h1m6 0h1m3 0h1M174 610.5h6m1 0h3m1 0h6m1 0h3m1 0h6m1 0h3m1 0h2M180 611.5h1m3 0h1m6 0h1m3 0h1m6 0h1m3 0h1M180 612.5h1m3 0h1m6 0h1m3 0h1m6 0h1m3 0h1M174 613.5h6m1 0h3m1 0h6m1 0h3m1 0h6m1 0h3m1 0h2M147 614.5h1m3 0h1m6 0h1m3 0h1m6 0h1m3 0h1m6 0h1m3 0h1m6 0h1m3 0h1m6 0h1m3 0h1M147 616.5h1m3 0h1m6 0h1m3 0h1m6 0h1m3 0h1m6 0h1m3 0h1m6 0h1m3 0h1m6 0h1m3 0h1M142 617.5h5m1 0h3m1 0h6m1 0h3m1 0h6m1 0h3m1 0h6m1 0h3m1 0h6m1 0h3m1 0h6m1 0h3m1 0h2M147 618.5h1m3 0h1m6 0h1m3 0h1m6 0h1m3 0h1m6 0h1m3 0h1m6 0h1m3 0h1m6 0h1m3 0h1M147 620.5h1m3 0h1m6 0h1m3 0h1m6 0h1m3 0h1m6 0h1m3 0h1m6 0h1m3 0h1m6 0h1m3 0h1M142 621.5h1m2 0h1m3 0h1m3 0h1m2 0h1m3 0h1m3 0h1m2 0h1m3 0h1m3 0h1m2 0h1m3 0h1m3 0h1m2 0h1m3 0h1m3 0h1m2 0h1m3 0h1m3 0h1M147 623.5h1m3 0h1m6 0h1m3 0h1m6 0h1m3 0h1m6 0h1m3 0h1m6 0h1m3 0h1m6 0h1m3 0h1M142 624.5h5m1 0h3m1 0h6m1 0h3m1 0h6m1 0h3m1 0h6m1 0h3m1 0h6m1 0h3m1 0h6m1 0h3m1 0h2M147 625.5h1m3 0h1m6 0h1m3 0h1m6 0h1m3 0h1m6 0h1m3 0h1m6 0h1m3 0h1m6 0h1m3 0h1M147 627.5h1m3 0h1m6 0h1m3 0h1m39 0h1m3 0h1M142 628.5h5m1 0h3m1 0h6m1 0h3m1 0h3m33 0h3m1 0h3m1 0h2M147 629.5h1m3 0h1m6 0h1m3 0h1m39 0h1m3 0h1M147 630.5h1m3 0h1m6 0h1m3 0h1m39 0h1m3 0h1M142 631.5h5m1 0h3m1 0h6m1 0h3m1 0h3m33 0h3m1 0h3m1 0h2M147 632.5h1m3 0h1m6 0h1m3 0h1m39 0h1m3 0h1M147 634.5h1m3 0h1m6 0h1m3 0h1m6 0h1m3 0h1m6 0h1m3 0h1m6 0h1m3 0h1m6 0h1m3 0h1M142 635.5h5m1 0h3m1 0h6m1 0h3m1 0h6m1 0h3m1 0h6m1 0h3m1 0h6m1 0h3m1 0h6m1 0h3m1 0h2M147 636.5h1m3 0h1m6 0h1m3 0h1m6 0h1m3 0h1m6 0h1m3 0h1m6 0h1m3 0h1m6 0h1m3 0h1M147 638.5h1m3 0h1m6 0h1m3 0h1m6 0h1m3 0h1m6 0h1m3 0h1m6 0h1m3 0h1m6 0h1m3 0h1M142 639.5h1m2 0h1m3 0h1m3 0h1m2 0h1m3 0h1m3 0h1m2 0h1m3 0h1m3 0h1m2 0h1m3 0h1m3 0h1m2 0h1m3 0h1m3 0h1m2 0h1m3 0h1m3 0h1M147 641.5h1m3 0h1m6 0h1m3 0h1m6 0h1m3 0h1m6 0h1m3 0h1m6 0h1m3 0h1m6 0h1m3 0h1M142 642.5h5m1 0h3m1 0h6m1 0h3m1 0h6m1 0h3m1 0h6m1 0h3m1 0h6m1 0h3m1 0h6m1 0h3m1 0h2M147 643.5h1m3 0h1m6 0h1m3 0h1m6 0h1m3 0h1m6 0h1m3 0h1m6 0h1m3 0h1m6 0h1m3 0h1M147 645.5h1m3 0h1m6 0h1m3 0h1m6 0h1m3 0h1m6 0h1m3 0h1m6 0h1m3 0h1m6 0h1m3 0h1M142 646.5h5m1 0h3m1 0h6m1 0h3m1 0h6m1 0h3m1 0h6m1 0h3m1 0h6m1 0h3m1 0h6m1 0h3m1 0h2M147 647.5h1m3 0h1m6 0h1m3 0h1m6 0h1m3 0h1m6 0h1m3 0h1m6 0h1m3 0h1m6 0h1m3 0h1M147 648.5h1m3 0h1m6 0h1m3 0h1m6 0h1m3 0h1m6 0h1m3 0h1m6 0h1m3 0h1m6 0h1m3 0h1M142 649.5h5m1 0h3m1 0h6m1 0h3m1 0h6m1 0h3m1 0h6m1 0h3m1 0h6m1 0h3m1 0h6m1 0h3m1 0h2m1 0h3m1 0h3m1 0h6m1 0h3m1 0h6M147 650.5h1m3 0h1m6 0h1m3 0h1m6 0h1m3 0h1m6 0h1m3 0h1m6 0h1m3 0h1m6 0h1m3 0h1m6 0h1m3 0h1m6 0h1m3 0h1M147 652.5h1m3 0h1m6 0h1m3 0h1m6 0h1m3 0h1m6 0h1m3 0h1m6 0h1m3 0h1m6 0h1m3 0h1m6 0h1m3 0h1m6 0h1m3 0h1m6 0h1m3 0h1m6 0h1m3 0h1m6 0h1m3 0h1m6 0h1m3 0h1m6 0h1m3 0h1m6 0h1m3 0h1m6 0h1m3 0h1m6 0h1m3 0h1m6 0h1m3 0h1m6 0h1m3 0h1m6 0h1m3 0h1m6 0h1m3 0h1m6 0h1m3 0h1m6 0h1m3 0h1m6 0h1m3 0h1m6 0h1m3 0h1m6 0h1M142 653.5h5m1 0h3m1 0h6m1 0h3m1 0h6m1 0h3m1 0h6m1 0h3m1 0h6m1 0h3m1 0h6m1 0h3m1 0h2m1 0h3m1 0h3m1 0h6m1 0h3m1 0h6m85 0h3m1 0h3m1 0h6m1 0h3m1 0h6m1 0h3m1 0h6m1 0h3m1 0h6m1 0h3m1 0h6m1 0h3m1 0h6m1 0h3m1 0h6m1 0h3m1 0h6m1 0h2M147 654.5h1m3 0h1m6 0h1m3 0h1m6 0h1m3 0h1m6 0h1m3 0h1m6 0h1m3 0h1m6 0h1m3 0h1m6 0h1m3 0h1m6 0h1m3 0h1m6 0h1m87 0h1m3 0h1m6 0h1m3 0h1m6 0h1m3 0h1m6 0h1m3 0h1m6 0h1m3 0h1m6 0h1m3 0h1m6 0h1m3 0h1m6 0h1m3 0h1m6 0h1M147 656.5h1m3 0h1m6 0h1m3 0h1m6 0h1m3 0h1m6 0h1m3 0h1m6 0h1m3 0h1m6 0h1m3 0h1m6 0h1m3 0h1m6 0h1m3 0h1m6 0h1m87 0h1m3 0h1m6 0h1m3 0h1m6 0h1m3 0h1m6 0h1m3 0h1m6 0h1m3 0h1m6 0h1m3 0h1m6 0h1m3 0h1m6 0h1m3 0h1m6 0h1M142 657.5h1m2 0h1m3 0h1m3 0h1m2 0h1m3 0h1m3 0h1m2 0h1m3 0h1m3 0h1m2 0h1m3 0h1m3 0h1m2 0h1m3 0h1m3 0h1m2 0h1m3 0h1m3 0h1m2 0h1m3 0h1m3 0h1m2 0h1m3 0h1m3 0h1m2 0h1m87 0h1m3 0h1m3 0h1m2 0h1m3 0h1m3 0h1m2 0h1m3 0h1m3 0h1m2 0h1m3 0h1m3 0h1m2 0h1m3 0h1m3 0h1m2 0h1m3 0h1m3 0h1m2 0h1m3 0h1m3 0h1m2 0h1m3 0h1m3 0h1m2 0h1m3 0h1M147 659.5h1m3 0h1m6 0h1m3 0h1m6 0h1m3 0h1m6 0h1m3 0h1m6 0h1m3 0h1m6 0h1m3 0h1m6 0h1m3 0h1m6 0h1m3 0h1m6 0h1m87 0h1m3 0h1m6 0h1m3 0h1m6 0h1m3 0h1m6 0h1m3 0h1m6 0h1m3 0h1m6 0h1m3 0h1m6 0h1m3 0h1m6 0h1m3 0h1m6 0h1M142 660.5h5m1 0h3m1 0h6m1 0h3m1 0h6m1 0h3m1 0h6m1 0h3m1 0h6m1 0h3m1 0h6m1 0h3m1 0h2m1 0h3m1 0h3m1 0h6m1 0h3m1 0h6m85 0h3m1 0h3m1 0h6m1 0h3m1 0h6m1 0h3m1 0h6m1 0h3m1 0h6m1 0h3m1 0h6m1 0h3m1 0h6m1 0h3m1 0h6m1 0h3m1 0h6m1 0h2M147 661.5h1m3 0h1m6 0h1m3 0h1m6 0h1m3 0h1m6 0h1m3 0h1m6 0h1m3 0h1m6 0h1m3 0h1m6 0h1m3 0h1m6 0h1m3 0h1m6 0h1m87 0h1m3 0h1m6 0h1m3 0h1m6 0h1m3 0h1m6 0h1m3 0h1m6 0h1m3 0h1m6 0h1m3 0h1m6 0h1m3 0h1m6 0h1m3 0h1m6 0h1M147 663.5h1m3 0h1m6 0h1m3 0h1m6 0h1m3 0h1m6 0h1m3 0h1m6 0h1m3 0h1m6 0h1m3 0h1m6 0h1m3 0h1m6 0h1m3 0h1m6 0h1m87 0h1m3 0h1m6 0h1m3 0h1m6 0h1m3 0h1m6 0h1m3 0h1m6 0h1m3 0h1m6 0h1m3 0h1m6 0h1m3 0h1m6 0h1m3 0h1m6 0h1M142 664.5h5m1 0h3m1 0h6m1 0h3m1 0h6m1 0h3m1 0h6m1 0h3m1 0h6m1 0h3m1 0h6m1 0h3m1 0h2m1 0h3m1 0h3m1 0h6m1 0h3m1 0h6m85 0h3m1 0h3m1 0h6m1 0h3m1 0h6m1 0h3m1 0h6m1 0h3m1 0h6m1 0h3m1 0h6m1 0h3m1 0h6m1 0h3m1 0h6m1 0h3m1 0h6m1 0h2M147 665.5h1m3 0h1m6 0h1m3 0h1m6 0h1m3 0h1m6 0h1m3 0h1m6 0h1m3 0h1m6 0h1m3 0h1m6 0h1m3 0h1m6 0h1m3 0h1m6 0h1m14 0h1m6 0h1m3 0h1m6 0h1m3 0h1m6 0h1m3 0h1m6 0h1m3 0h1m6 0h1m3 0h1m17 0h1m3 0h1m6 0h1m3 0h1m6 0h1m3 0h1m6 0h1m3 0h1m6 0h1m3 0h1m6 0h1m3 0h1m6 0h1m3 0h1m6 0h1m3 0h1m6 0h1M147 666.5h1m3 0h1m6 0h1m3 0h1m6 0h1m3 0h1m6 0h1m3 0h1m6 0h1m3 0h1m6 0h1m3 0h1m6 0h1m3 0h1m6 0h1m3 0h1m6 0h1m14 0h1m6 0h1m3 0h1m6 0h1m3 0h1m6 0h1m3 0h1m6 0h1m3 0h1m6 0h1m3 0h1m17 0h1m3 0h1m6 0h1m3 0h1m6 0h1m3 0h1m6 0h1m3 0h1m6 0h1m3 0h1m6 0h1m3 0h1m6 0h1m3 0h1m6 0h1m3 0h1m6 0h1M142 667.5h5m1 0h3m1 0h6m1 0h3m1 0h6m1 0h3m1 0h6m1 0h3m1 0h6m1 0h3m1 0h6m1 0h3m1 0h2m1 0h3m1 0h3m1 0h6m1 0h3m1 0h6m14 0h1m1 0h6m1 0h3m1 0h6m1 0h3m1 0h6m1 0h3m1 0h6m1 0h3m1 0h6m1 0h3m1 0h2m12 0h3m1 0h3m1 0h6m1 0h3m1 0h6m1 0h3m1 0h6m1 0h3m1 0h6m1 0h3m1 0h6m1 0h3m1 0h6m1 0h3m1 0h6m1 0h3m1 0h6m1 0h2M147 668.5h1m3 0h1m6 0h1m3 0h1m6 0h1m3 0h1m6 0h1m3 0h1m6 0h1m3 0h1m6 0h1m3 0h1m6 0h1m3 0h1m6 0h1m3 0h1m6 0h1m14 0h1m6 0h1m3 0h1m6 0h1m3 0h1m6 0h1m3 0h1m6 0h1m3 0h1m6 0h1m3 0h1m17 0h1m3 0h1m6 0h1m3 0h1m6 0h1m3 0h1m6 0h1m3 0h1m6 0h1m3 0h1m6 0h1m3 0h1m6 0h1m3 0h1m6 0h1m3 0h1m6 0h1M147 670.5h1m3 0h1m6 0h1m3 0h1m6 0h1m3 0h1m6 0h1m3 0h1m6 0h1m3 0h1m6 0h1m3 0h1m6 0h1m3 0h1m6 0h1m3 0h1m6 0h1m14 0h1m6 0h1m3 0h1m6 0h1m3 0h1m6 0h1m3 0h1m6 0h1m3 0h1m6 0h1m3 0h1m17 0h1m3 0h1m6 0h1m3 0h1m6 0h1m3 0h1m6 0h1m3 0h1m6 0h1m3 0h1m6 0h1m3 0h1m6 0h1m3 0h1m6 0h1m3 0h1m6 0h1M142 671.5h5m1 0h3m1 0h6m1 0h3m1 0h6m1 0h3m1 0h6m1 0h3m1 0h6m1 0h3m1 0h6m1 0h3m1 0h2m1 0h3m1 0h3m1 0h6m1 0h3m1 0h6m14 0h1m1 0h6m1 0h3m1 0h6m1 0h3m1 0h6m1 0h3m1 0h6m1 0h3m1 0h6m1 0h3m1 0h2m12 0h3m1 0h3m1 0h6m1 0h3m1 0h6m1 0h3m1 0h6m1 0h3m1 0h6m1 0h3m1 0h6m1 0h3m1 0h6m1 0h3m1 0h6m1 0h3m1 0h6m1 0h2M147 672.5h1m3 0h1m6 0h1m3 0h1m6 0h1m3 0h1m6 0h1m3 0h1m6 0h1m3 0h1m6 0h1m3 0h1m6 0h1m3 0h1m6 0h1m3 0h1m6 0h1m14 0h1m6 0h1m3 0h1m6 0h1m3 0h1m6 0h1m3 0h1m6 0h1m3 0h1m6 0h1m3 0h1m17 0h1m3 0h1m6 0h1m3 0h1m6 0h1m3 0h1m6 0h1m3 0h1m6 0h1m3 0h1m6 0h1m3 0h1m6 0h1m3 0h1m6 0h1m3 0h1m6 0h1M213 674.5h1m3 0h1m6 0h1m3 0h1m6 0h1m14 0h1m6 0h1m3 0h1m6 0h1m3 0h1m6 0h1m3 0h1m6 0h1m3 0h1m6 0h1m3 0h1m17 0h1m3 0h1m6 0h1m3 0h1m6 0h1m3 0h1m6 0h1m3 0h1m6 0h1m3 0h1m6 0h1m3 0h1m6 0h1m3 0h1m6 0h1m3 0h1m6 0h1M211 675.5h1m3 0h1m3 0h1m2 0h1m3 0h1m3 0h1m2 0h1m18 0h1m2 0h1m3 0h1m3 0h1m2 0h1m3 0h1m3 0h1m2 0h1m3 0h1m3 0h1m2 0h1m3 0h1m3 0h1m2 0h1m3 0h1m3 0h1m13 0h1m3 0h1m3 0h1m2 0h1m3 0h1m3 0h1m2 0h1m3 0h1m3 0h1m2 0h1m3 0h1m3 0h1m2 0h1m3 0h1m3 0h1m2 0h1m3 0h1m3 0h1m2 0h1m3 0h1m3 0h1m2 0h1m3 0h1m3 0h1m2 0h1m3 0h1M206 677.5h1m6 0h1m3 0h1m6 0h1m3 0h1m6 0h1m14 0h1m6 0h1m3 0h1m6 0h1m3 0h1m6 0h1m3 0h1m6 0h1m3 0h1m6 0h1m3 0h1m17 0h1m3 0h1m6 0h1m3 0h1m6 0h1m3 0h1m6 0h1m3 0h1m6 0h1m3 0h1m6 0h1m3 0h1m6 0h1m3 0h1m6 0h1m3 0h1m6 0h1M207 678.5h6m1 0h3m1 0h6m1 0h3m1 0h6m14 0h1m1 0h6m1 0h3m1 0h6m1 0h3m1 0h6m1 0h3m1 0h6m1 0h3m1 0h6m1 0h3m1 0h2m12 0h3m1 0h3m1 0h6m1 0h3m1 0h6m1 0h3m1 0h6m1 0h3m1 0h6m1 0h3m1 0h6m1 0h3m1 0h6m1 0h3m1 0h6m1 0h3m1 0h6m1 0h2M206 679.5h1m6 0h1m3 0h1m6 0h1m3 0h1m6 0h1m14 0h1m6 0h1m3 0h1m6 0h1m3 0h1m6 0h1m3 0h1m6 0h1m3 0h1m6 0h1m3 0h1m17 0h1m3 0h1m6 0h1m3 0h1m6 0h1m3 0h1m6 0h1m3 0h1m6 0h1m3 0h1m6 0h1m3 0h1m6 0h1m3 0h1m6 0h1m3 0h1m6 0h1M206 681.5h1m6 0h1m3 0h1m6 0h1m3 0h1m6 0h1m14 0h1m6 0h1m3 0h1m6 0h1m3 0h1m6 0h1m3 0h1m6 0h1m3 0h1m6 0h1m3 0h1m17 0h1m3 0h1m6 0h1m3 0h1m6 0h1m3 0h1m6 0h1m3 0h1m6 0h1m3 0h1m6 0h1m3 0h1m6 0h1m3 0h1m6 0h1m3 0h1m6 0h1M207 682.5h6m1 0h3m1 0h6m1 0h3m1 0h6m14 0h1m1 0h6m1 0h3m1 0h6m1 0h3m1 0h6m1 0h3m1 0h6m1 0h3m1 0h6m1 0h3m1 0h2m12 0h3m1 0h3m1 0h6m1 0h2m69 0h5m1 0h2M206 683.5h1m6 0h1m3 0h1m6 0h1m3 0h1m6 0h1m14 0h1m6 0h1m3 0h1m6 0h1m3 0h1m6 0h1m3 0h1m6 0h1m3 0h1m6 0h1m3 0h1m17 0h1m3 0h1m6 0h1m76 0h1M206 684.5h1m6 0h1m3 0h1m6 0h1m3 0h1m6 0h1m14 0h1m6 0h1m3 0h1m6 0h1m3 0h1m6 0h1m3 0h1m6 0h1m3 0h1m6 0h1m3 0h1m17 0h1m3 0h1m6 0h1m76 0h1M207 685.5h6m1 0h3m1 0h6m1 0h3m1 0h6m14 0h1m1 0h6m1 0h3m1 0h6m1 0h3m1 0h6m1 0h3m1 0h6m1 0h3m1 0h6m1 0h3m1 0h2m12 0h3m1 0h3m1 0h6m1 0h2m69 0h5m1 0h2M206 686.5h1m6 0h1m3 0h1m6 0h1m3 0h1m6 0h1m14 0h1m6 0h1m3 0h1m6 0h1m3 0h1m6 0h1m3 0h1m6 0h1m3 0h1m6 0h1m3 0h1m17 0h1m3 0h1m6 0h1m76 0h1M206 688.5h1m6 0h1m3 0h1m6 0h1m3 0h1m6 0h1m14 0h1m6 0h1m3 0h1m6 0h1m3 0h1m6 0h1m3 0h1m6 0h1m3 0h1m6 0h1m3 0h1m17 0h1m3 0h1m6 0h1m76 0h1M207 689.5h6m1 0h3m1 0h6m1 0h3m1 0h6m14 0h1m1 0h6m1 0h3m1 0h6m1 0h3m1 0h6m1 0h3m1 0h6m1 0h3m1 0h6m1 0h3m1 0h2m12 0h3m1 0h3m1 0h6m1 0h3m1 0h6m1 0h3m1 0h6m1 0h3m1 0h6m1 0h3m1 0h6m1 0h3m1 0h6m1 0h3m1 0h6m1 0h3m1 0h6m1 0h2M206 690.5h1m6 0h1m3 0h1m6 0h1m3 0h1m6 0h1m14 0h1m6 0h1m3 0h1m6 0h1m3 0h1m6 0h1m3 0h1m6 0h1m3 0h1m6 0h1m3 0h1m17 0h1m3 0h1m6 0h1m3 0h1m6 0h1m3 0h1m6 0h1m3 0h1m6 0h1m3 0h1m6 0h1m3 0h1m6 0h1m3 0h1m6 0h1m3 0h1m6 0h1M206 692.5h1m6 0h1m3 0h1m6 0h1m3 0h1m6 0h1m14 0h1m6 0h1m3 0h1m6 0h1m3 0h1m6 0h1m3 0h1m6 0h1m3 0h1m6 0h1m3 0h1m17 0h1m3 0h1m6 0h1m3 0h1m6 0h1m3 0h1m6 0h1m3 0h1m6 0h1m3 0h1m6 0h1m3 0h1m6 0h1m3 0h1m6 0h1m3 0h1m6 0h1M208 693.5h1m2 0h1m3 0h1m3 0h1m2 0h1m3 0h1m3 0h1m2 0h1m18 0h1m2 0h1m32 0h1m3 0h1m3 0h1m2 0h1m3 0h1m3 0h1m13 0h1m3 0h1m3 0h1m2 0h1m3 0h1m3 0h1m2 0h1m3 0h1m3 0h1m2 0h1m3 0h1m3 0h1m2 0h1m3 0h1m3 0h1m2 0h1m3 0h1m3 0h1m2 0h1m3 0h1m3 0h1m2 0h1m3 0h1m3 0h1m2 0h1m3 0h1M206 695.5h1m6 0h1m3 0h1m6 0h1m3 0h1m6 0h1m14 0h1m6 0h1m32 0h1m3 0h1m6 0h1m3 0h1m17 0h1m3 0h1m6 0h1m3 0h1m6 0h1m3 0h1m6 0h1m3 0h1m6 0h1m3 0h1m6 0h1m3 0h1m6 0h1m3 0h1m6 0h1m3 0h1m6 0h1M207 696.5h6m1 0h3m1 0h6m1 0h3m1 0h6m14 0h1m1 0h6m30 0h3m1 0h3m1 0h6m1 0h3m1 0h2m12 0h3m1 0h3m1 0h6m1 0h3m1 0h6m1 0h3m1 0h6m1 0h3m1 0h6m1 0h3m1 0h6m1 0h3m1 0h6m1 0h3m1 0h6m1 0h3m1 0h6m1 0h2M206 697.5h1m6 0h1m3 0h1m6 0h1m3 0h1m6 0h1m14 0h1m6 0h1m32 0h1m3 0h1m6 0h1m3 0h1m17 0h1m3 0h1m6 0h1m3 0h1m6 0h1m3 0h1m6 0h1m3 0h1m6 0h1m3 0h1m6 0h1m3 0h1m6 0h1m3 0h1m6 0h1m3 0h1m6 0h1M206 699.5h1m6 0h1m3 0h1m6 0h1m3 0h1m6 0h1m3 0h1m6 0h1m3 0h1m6 0h1m3 0h1m6 0h1m3 0h1m6 0h1m3 0h1m6 0h1m3 0h1m6 0h1m3 0h1m17 0h1m3 0h1m6 0h1m3 0h1m6 0h1m3 0h1m6 0h1m3 0h1m6 0h1m3 0h1m6 0h1m3 0h1m6 0h1m3 0h1m6 0h1m3 0h1m6 0h1M207 700.5h6m1 0h3m1 0h6m1 0h3m1 0h6m1 0h3m1 0h6m1 0h3m1 0h6m1 0h3m1 0h6m1 0h3m1 0h6m1 0h3m1 0h6m1 0h3m1 0h6m1 0h3m1 0h2m12 0h3m1 0h3m1 0h6m1 0h3m1 0h6m1 0h3m1 0h6m1 0h3m1 0h6m1 0h3m1 0h6m1 0h3m1 0h6m1 0h3m1 0h6m1 0h3m1 0h6m1 0h2M206 701.5h1m6 0h1m3 0h1m6 0h1m3 0h1m6 0h1m3 0h1m6 0h1m3 0h1m6 0h1m3 0h1m6 0h1m3 0h1m6 0h1m3 0h1m6 0h1m3 0h1m6 0h1m3 0h1m17 0h1m3 0h1m6 0h1m3 0h1m6 0h1m3 0h1m6 0h1m3 0h1m6 0h1m3 0h1m6 0h1m3 0h1m6 0h1m3 0h1m6 0h1m3 0h1m6 0h1M206 702.5h1m6 0h1m3 0h1m6 0h1m3 0h1m6 0h1m3 0h1m6 0h1m3 0h1m6 0h1m3 0h1m6 0h1m3 0h1m6 0h1m3 0h1m6 0h1m3 0h1m6 0h1m3 0h1m17 0h1m3 0h1m6 0h1m3 0h1m6 0h1m3 0h1m6 0h1m3 0h1m6 0h1m3 0h1m6 0h1m3 0h1m6 0h1m3 0h1m6 0h1m3 0h1m6 0h1M207 703.5h6m1 0h3m1 0h6m1 0h3m1 0h6m1 0h3m1 0h6m1 0h3m1 0h6m1 0h3m1 0h6m1 0h3m1 0h6m1 0h3m1 0h6m1 0h3m1 0h6m1 0h3m1 0h2m12 0h3m1 0h3m1 0h6m1 0h3m1 0h6m1 0h3m1 0h6m1 0h3m1 0h6m1 0h3m1 0h6m1 0h3m1 0h6m1 0h3m1 0h6m1 0h3m1 0h6m1 0h2M206 704.5h1m6 0h1m3 0h1m6 0h1m3 0h1m6 0h1m3 0h1m6 0h1m3 0h1m6 0h1m3 0h1m6 0h1m3 0h1m6 0h1m3 0h1m6 0h1m3 0h1m6 0h1m3 0h1m17 0h1m3 0h1m6 0h1m3 0h1m6 0h1m3 0h1m6 0h1m3 0h1m6 0h1m3 0h1m6 0h1m3 0h1m6 0h1m3 0h1m6 0h1m3 0h1m6 0h1M206 706.5h1m6 0h1m3 0h1m6 0h1m3 0h1m6 0h1m3 0h1m6 0h1m3 0h1m6 0h1m3 0h1m6 0h1m3 0h1m6 0h1m3 0h1m6 0h1m3 0h1m6 0h1m3 0h1m17 0h1m3 0h1m6 0h1m3 0h1m6 0h1m3 0h1m6 0h1m3 0h1m6 0h1m3 0h1m6 0h1m3 0h1m6 0h1m3 0h1m6 0h1m3 0h1m6 0h1M207 707.5h6m1 0h3m1 0h6m1 0h3m1 0h6m1 0h3m1 0h6m1 0h3m1 0h6m1 0h3m1 0h6m1 0h3m1 0h6m1 0h3m1 0h6m1 0h3m1 0h6m1 0h3m1 0h2m12 0h3m1 0h3m1 0h6m1 0h3m1 0h6m1 0h3m1 0h6m1 0h3m1 0h6m1 0h3m1 0h6m1 0h3m1 0h6m1 0h3m1 0h6m1 0h3m1 0h6m1 0h2M206 708.5h1m6 0h1m3 0h1m6 0h1m3 0h1m6 0h1m3 0h1m6 0h1m3 0h1m6 0h1m3 0h1m6 0h1m3 0h1m6 0h1m3 0h1m6 0h1m3 0h1m6 0h1m3 0h1m17 0h1m3 0h1m6 0h1m3 0h1m6 0h1m3 0h1m6 0h1m3 0h1m6 0h1m3 0h1m6 0h1m3 0h1m6 0h1m3 0h1m6 0h1m3 0h1m6 0h1M206 710.5h1m6 0h1m3 0h1m6 0h1m3 0h1m6 0h1m3 0h1m6 0h1m3 0h1m6 0h1m3 0h1m6 0h1m3 0h1m6 0h1m3 0h1m6 0h1m3 0h1m6 0h1m3 0h1m17 0h1m3 0h1m6 0h1m3 0h1m6 0h1m3 0h1m6 0h1m3 0h1m6 0h1m3 0h1m6 0h1m3 0h1m6 0h1m3 0h1m6 0h1m3 0h1m6 0h1M208 711.5h1m2 0h1m3 0h1m3 0h1m2 0h1m3 0h1m3 0h1m2 0h1m3 0h1m3 0h1m2 0h1m3 0h1m3 0h1m2 0h1m3 0h1m3 0h1m2 0h1m3 0h1m50 0h1m3 0h1m3 0h1m2 0h1m3 0h1m3 0h1m2 0h1m3 0h1m3 0h1m2 0h1m3 0h1m3 0h1m2 0h1m3 0h1m3 0h1m2 0h1m3 0h1m3 0h1m2 0h1m3 0h1m3 0h1m2 0h1m3 0h1m3 0h1m2 0h1m3 0h1M129 713.5h1m6 0h1m3 0h1m6 0h1m3 0h1m6 0h1m3 0h1m6 0h1m3 0h1m6 0h1m3 0h1m6 0h1m3 0h1m6 0h1m3 0h1m6 0h1m3 0h1m6 0h1m3 0h1m6 0h1m3 0h1m6 0h1m3 0h1m6 0h1m3 0h1m6 0h1m54 0h1m3 0h1m6 0h1m3 0h1m6 0h1m3 0h1m6 0h1m3 0h1m6 0h1m3 0h1m6 0h1m3 0h1m6 0h1m3 0h1m6 0h1m3 0h1m6 0h1M128 714.5h1m1 0h6m1 0h3m1 0h6m1 0h3m1 0h6m1 0h3m1 0h6m1 0h3m1 0h6m1 0h3m1 0h6m1 0h3m1 0h6m1 0h3m1 0h6m1 0h3m1 0h6m1 0h3m1 0h6m1 0h3m1 0h6m1 0h3m1 0h6m1 0h3m1 0h6m1 0h2m49 0h3m1 0h3m1 0h6m1 0h3m1 0h6m1 0h3m1 0h6m1 0h3m1 0h6m1 0h3m1 0h6m1 0h3m1 0h6m1 0h3m1 0h6m1 0h3m1 0h6m1 0h2M129 715.5h1m6 0h1m3 0h1m6 0h1m3 0h1m6 0h1m3 0h1m6 0h1m3 0h1m6 0h1m3 0h1m6 0h1m3 0h1m6 0h1m3 0h1m6 0h1m3 0h1m6 0h1m3 0h1m6 0h1m3 0h1m6 0h1m3 0h1m6 0h1m3 0h1m6 0h1m54 0h1m3 0h1m6 0h1m3 0h1m6 0h1m3 0h1m6 0h1m3 0h1m6 0h1m3 0h1m6 0h1m3 0h1m6 0h1m3 0h1m6 0h1m3 0h1m6 0h1M129 717.5h1m6 0h1m3 0h1m6 0h1m3 0h1m6 0h1m3 0h1m6 0h1m3 0h1m6 0h1m3 0h1m6 0h1m3 0h1m6 0h1m3 0h1m6 0h1m3 0h1m6 0h1m3 0h1m6 0h1m3 0h1m6 0h1m3 0h1m6 0h1m3 0h1m6 0h1m54 0h1m3 0h1m6 0h1m3 0h1m6 0h1m3 0h1m6 0h1m3 0h1m6 0h1m3 0h1m6 0h1m3 0h1m6 0h1m3 0h1m6 0h1m3 0h1m6 0h1M128 718.5h1m1 0h6m1 0h3m1 0h6m1 0h3m1 0h6m1 0h3m1 0h6m1 0h3m1 0h6m1 0h3m1 0h6m1 0h3m1 0h6m1 0h3m1 0h6m1 0h3m1 0h6m1 0h3m1 0h6m1 0h3m1 0h6m1 0h3m1 0h6m1 0h3m1 0h6m1 0h2m49 0h3m1 0h3m1 0h6m1 0h3m1 0h6m1 0h3m1 0h6m1 0h3m1 0h6m1 0h3m1 0h6m1 0h3m1 0h6m1 0h3m1 0h6m1 0h3m1 0h6m1 0h2M129 719.5h1m6 0h1m3 0h1m6 0h1m3 0h1m6 0h1m3 0h1m6 0h1m3 0h1m6 0h1m3 0h1m6 0h1m3 0h1m6 0h1m3 0h1m6 0h1m3 0h1m6 0h1m3 0h1m6 0h1m3 0h1m6 0h1m3 0h1m6 0h1m3 0h1m6 0h1m54 0h1m3 0h1m6 0h1m3 0h1m6 0h1m3 0h1m6 0h1m3 0h1m6 0h1m3 0h1m6 0h1m3 0h1m6 0h1m3 0h1m6 0h1m3 0h1m6 0h1M129 720.5h1m6 0h1m3 0h1m6 0h1m3 0h1m6 0h1m3 0h1m6 0h1m3 0h1m6 0h1m3 0h1m6 0h1m3 0h1m6 0h1m3 0h1m6 0h1m3 0h1m6 0h1m3 0h1m6 0h1m3 0h1m6 0h1m3 0h1m6 0h1m3 0h1m6 0h1m54 0h1m3 0h1m6 0h1m3 0h1m6 0h1m3 0h1m6 0h1m3 0h1m6 0h1m3 0h1m6 0h1m3 0h1m6 0h1m3 0h1m6 0h1m3 0h1m6 0h1M128 721.5h1m1 0h6m1 0h3m1 0h6m1 0h3m1 0h6m1 0h3m1 0h6m1 0h3m1 0h6m1 0h3m1 0h6m1 0h3m1 0h6m1 0h3m1 0h6m1 0h3m1 0h6m1 0h3m1 0h6m1 0h3m1 0h6m1 0h3m1 0h6m1 0h3m1 0h6m1 0h2m49 0h3m1 0h3m1 0h6m1 0h3m1 0h6m1 0h3m1 0h6m1 0h3m1 0h6m1 0h3m1 0h6m1 0h3m1 0h6m1 0h3m1 0h6m1 0h3m1 0h6m1 0h2M129 722.5h1m6 0h1m3 0h1m6 0h1m3 0h1m6 0h1m3 0h1m6 0h1m3 0h1m6 0h1m3 0h1m6 0h1m3 0h1m6 0h1m3 0h1m6 0h1m3 0h1m6 0h1m3 0h1m6 0h1m3 0h1m6 0h1m3 0h1m6 0h1m3 0h1m6 0h1m54 0h1m3 0h1m6 0h1m3 0h1m6 0h1m3 0h1m6 0h1m3 0h1m6 0h1m3 0h1m6 0h1m3 0h1m6 0h1m3 0h1m6 0h1m3 0h1m6 0h1M129 724.5h1m6 0h1m3 0h1m6 0h1m3 0h1m6 0h1m3 0h1m6 0h1m3 0h1m6 0h1m3 0h1m6 0h1m3 0h1m6 0h1m3 0h1m6 0h1m3 0h1m6 0h1m3 0h1m94 0h1m3 0h1m6 0h1m3 0h1m6 0h1m3 0h1m6 0h1m3 0h1m6 0h1m3 0h1m6 0h1m3 0h1m6 0h1m3 0h1m6 0h1m3 0h1m6 0h1M128 725.5h1m1 0h6m1 0h3m1 0h6m1 0h3m1 0h6m1 0h3m1 0h6m1 0h3m1 0h6m1 0h3m1 0h6m1 0h3m1 0h6m1 0h3m1 0h6m1 0h3m1 0h6m1 0h3m1 0h6m2 0h2m1 0h6m1 0h3m1 0h6m1 0h3m1 0h6m1 0h3m1 0h6m1 0h3m1 0h6m1 0h3m1 0h6m1 0h3m1 0h6m1 0h3m1 0h1m2 0h3m1 0h3m1 0h6m1 0h3m1 0h6m1 0h3m1 0h6m1 0h3m1 0h6m1 0h3m1 0h6m1 0h3m1 0h6m1 0h3m1 0h6m1 0h3m1 0h6m1 0h2M129 726.5h1m6 0h1m3 0h1m6 0h1m3 0h1m6 0h1m3 0h1m6 0h1m3 0h1m6 0h1m3 0h1m6 0h1m3 0h1m6 0h1m3 0h1m6 0h1m3 0h1m6 0h1m3 0h1m10 0h1m6 0h1m3 0h1m6 0h1m3 0h1m6 0h1m3 0h1m6 0h1m3 0h1m6 0h1m3 0h1m6 0h1m3 0h1m6 0h1m3 0h1m6 0h1m3 0h1m6 0h1m3 0h1m6 0h1m3 0h1m6 0h1m3 0h1m6 0h1m3 0h1m6 0h1m3 0h1m6 0h1m3 0h1m6 0h1m3 0h1m6 0h1M129 728.5h1m6 0h1m3 0h1m6 0h1m3 0h1m6 0h1m3 0h1m6 0h1m3 0h1m6 0h1m3 0h1m6 0h1m3 0h1m6 0h1m3 0h1m6 0h1m3 0h1m6 0h1m3 0h1m10 0h1m6 0h1m3 0h1m6 0h1m3 0h1m6 0h1m3 0h1m6 0h1m3 0h1m6 0h1m3 0h1m6 0h1m3 0h1m6 0h1m3 0h1m6 0h1m3 0h1m6 0h1m3 0h1m6 0h1m3 0h1m6 0h1m3 0h1m6 0h1m3 0h1m6 0h1m3 0h1m6 0h1m3 0h1m6 0h1m3 0h1m6 0h1M131 729.5h1m2 0h1m3 0h1m3 0h1m2 0h1m3 0h1m3 0h1m2 0h1m3 0h1m3 0h1m2 0h1m3 0h1m3 0h1m2 0h1m3 0h1m3 0h1m2 0h1m3 0h1m3 0h1m2 0h1m3 0h1m3 0h1m2 0h1m3 0h1m3 0h1m2 0h1m3 0h1m3 0h1m2 0h1m3 0h1m3 0h1m2 0h1m3 0h1m3 0h1m2 0h1m3 0h1m3 0h1m2 0h1m3 0h1m3 0h1m2 0h1m3 0h1m3 0h1m2 0h1m3 0h1m3 0h1m2 0h1m3 0h1m3 0h1m2 0h1m3 0h1m6 0h1m3 0h1m3 0h1m2 0h1m3 0h1m3 0h1m2 0h1m3 0h1m3 0h1m2 0h1m3 0h1m3 0h1m2 0h1m3 0h1m3 0h1m2 0h1m3 0h1m3 0h1m2 0h1m3 0h1m3 0h1m2 0h1m3 0h1m3 0h1m2 0h1m3 0h1M129 731.5h1m6 0h1m3 0h1m6 0h1m3 0h1m6 0h1m3 0h1m6 0h1m3 0h1m6 0h1m3 0h1m6 0h1m3 0h1m6 0h1m3 0h1m6 0h1m3 0h1m6 0h1m3 0h1m10 0h1m6 0h1m3 0h1m6 0h1m3 0h1m6 0h1m3 0h1m6 0h1m3 0h1m6 0h1m3 0h1m6 0h1m3 0h1m6 0h1m3 0h1m6 0h1m3 0h1m6 0h1m3 0h1m6 0h1m3 0h1m6 0h1m3 0h1m6 0h1m3 0h1m6 0h1m3 0h1m6 0h1m3 0h1m6 0h1m3 0h1m6 0h1M128 732.5h1m1 0h6m1 0h3m1 0h6m1 0h3m1 0h6m1 0h3m1 0h6m1 0h3m1 0h6m1 0h3m1 0h6m1 0h3m1 0h6m1 0h3m1 0h6m1 0h3m1 0h6m1 0h3m1 0h6m2 0h2m1 0h6m1 0h3m1 0h6m1 0h3m1 0h6m1 0h3m1 0h6m1 0h3m1 0h6m1 0h3m1 0h6m1 0h3m1 0h6m1 0h3m1 0h1m2 0h3m1 0h3m1 0h6m1 0h3m1 0h6m1 0h3m1 0h6m1 0h3m1 0h6m1 0h3m1 0h6m1 0h3m1 0h6m1 0h3m1 0h6m1 0h3m1 0h6m1 0h2M129 733.5h1m6 0h1m3 0h1m6 0h1m3 0h1m72 0h1m3 0h1m10 0h1m6 0h1m3 0h1m6 0h1m3 0h1m6 0h1m3 0h1m6 0h1m3 0h1m6 0h1m3 0h1m6 0h1m3 0h1m6 0h1m3 0h1m6 0h1m3 0h1m6 0h1m3 0h1m6 0h1m3 0h1m6 0h1m3 0h1m6 0h1m3 0h1m6 0h1m3 0h1m6 0h1m3 0h1m6 0h1m3 0h1m6 0h1M129 735.5h1m6 0h1m3 0h1m6 0h1m3 0h1m72 0h1m3 0h1m10 0h1m6 0h1m3 0h1m6 0h1m3 0h1m6 0h1m3 0h1m6 0h1m3 0h1m6 0h1m3 0h1m6 0h1m3 0h1m6 0h1m3 0h1m6 0h1m3 0h1m6 0h1m3 0h1m6 0h1m3 0h1m6 0h1m3 0h1m6 0h1m3 0h1m6 0h1m3 0h1m6 0h1m3 0h1m6 0h1m3 0h1m6 0h1M128 736.5h1m1 0h6m1 0h3m1 0h6m1 0h3m1 0h2m66 0h4m1 0h3m1 0h6m2 0h2m1 0h6m1 0h3m1 0h6m1 0h3m1 0h6m1 0h3m1 0h6m1 0h3m1 0h6m1 0h3m1 0h6m1 0h3m1 0h6m1 0h3m1 0h1m2 0h3m1 0h3m1 0h6m1 0h3m1 0h6m1 0h3m1 0h6m1 0h3m1 0h6m1 0h3m1 0h6m1 0h3m1 0h6m1 0h3m1 0h6m1 0h3m1 0h6m1 0h2M129 737.5h1m6 0h1m3 0h1m6 0h1m3 0h1m72 0h1m3 0h1m10 0h1m6 0h1m3 0h1m6 0h1m3 0h1m6 0h1m3 0h1m6 0h1m3 0h1m6 0h1m3 0h1m6 0h1m3 0h1m6 0h1m3 0h1m6 0h1m3 0h1m6 0h1m3 0h1m6 0h1m3 0h1m6 0h1m3 0h1m6 0h1m3 0h1m6 0h1m3 0h1m6 0h1m3 0h1m6 0h1m3 0h1m6 0h1M129 738.5h1m6 0h1m3 0h1m6 0h1m3 0h1m72 0h1m3 0h1m10 0h1m6 0h1m3 0h1m6 0h1m3 0h1m6 0h1m3 0h1m6 0h1m3 0h1m6 0h1m3 0h1m6 0h1m3 0h1m6 0h1m3 0h1m6 0h1m3 0h1m6 0h1m3 0h1m6 0h1m3 0h1m6 0h1m3 0h1m6 0h1m3 0h1m6 0h1m3 0h1m6 0h1m3 0h1m6 0h1m3 0h1m6 0h1M128 739.5h1m1 0h6m1 0h3m1 0h6m1 0h3m1 0h2m66 0h4m1 0h3m1 0h6m2 0h2m1 0h6m1 0h3m1 0h6m1 0h3m1 0h6m1 0h3m1 0h6m1 0h3m1 0h6m1 0h3m1 0h6m1 0h3m1 0h6m1 0h3m1 0h1m2 0h3m1 0h3m1 0h6m1 0h3m1 0h6m1 0h3m1 0h6m1 0h3m1 0h6m1 0h3m1 0h6m1 0h3m1 0h6m1 0h3m1 0h6m1 0h3m1 0h6m1 0h2M129 740.5h1m6 0h1m3 0h1m6 0h1m3 0h1m6 0h1m3 0h1m6 0h1m3 0h1m6 0h1m3 0h1m6 0h1m3 0h1m6 0h1m3 0h1m6 0h1m3 0h1m6 0h1m3 0h1m10 0h1m6 0h1m3 0h1m6 0h1m3 0h1m6 0h1m3 0h1m6 0h1m3 0h1m6 0h1m3 0h1m6 0h1m3 0h1m6 0h1m3 0h1m6 0h1m3 0h1m6 0h1m3 0h1m6 0h1m3 0h1m6 0h1m3 0h1m6 0h1m3 0h1m6 0h1m3 0h1m6 0h1m3 0h1m6 0h1m3 0h1m6 0h1M140 742.5h1m6 0h1m3 0h1m6 0h1m3 0h1m6 0h1m3 0h1m6 0h1m3 0h1m6 0h1m3 0h1m6 0h1m3 0h1m6 0h1m3 0h1m6 0h1m3 0h1m10 0h1m6 0h1m3 0h1m6 0h1m3 0h1m6 0h1m3 0h1m6 0h1m3 0h1m6 0h1m3 0h1m6 0h1m3 0h1m6 0h1m3 0h1m6 0h1m3 0h1m6 0h1m3 0h1m6 0h1m3 0h1m6 0h1m3 0h1m6 0h1m3 0h1m6 0h1m3 0h1m6 0h1m3 0h1m6 0h1m3 0h1m6 0h1M137 743.5h3m1 0h6m1 0h3m1 0h6m1 0h3m1 0h6m1 0h3m1 0h6m1 0h3m1 0h6m1 0h3m1 0h6m1 0h3m1 0h6m1 0h3m1 0h6m1 0h3m1 0h6m2 0h2m1 0h6m1 0h3m1 0h6m1 0h3m1 0h6m1 0h3m1 0h6m1 0h3m1 0h6m1 0h3m1 0h6m1 0h3m1 0h6m1 0h3m1 0h1m2 0h3m1 0h3m1 0h6m1 0h3m1 0h6m1 0h3m1 0h6m1 0h3m1 0h6m1 0h3m1 0h6m1 0h3m1 0h6m1 0h3m1 0h6m1 0h3m1 0h6m1 0h2M140 744.5h1m6 0h1m3 0h1m6 0h1m3 0h1m6 0h1m3 0h1m6 0h1m3 0h1m6 0h1m3 0h1m6 0h1m3 0h1m6 0h1m3 0h1m6 0h1m3 0h1m10 0h1m6 0h1m3 0h1m6 0h1m3 0h1m6 0h1m3 0h1m6 0h1m3 0h1m6 0h1m3 0h1m6 0h1m3 0h1m6 0h1m3 0h1m6 0h1m3 0h1m6 0h1m3 0h1m6 0h1m3 0h1m6 0h1m3 0h1m6 0h1m3 0h1m6 0h1m3 0h1m6 0h1m3 0h1m6 0h1m3 0h1m6 0h1M140 746.5h1m6 0h1m3 0h1m6 0h1m3 0h1m6 0h1m3 0h1m6 0h1m3 0h1m6 0h1m3 0h1m6 0h1m3 0h1m6 0h1m3 0h1m6 0h1m3 0h1m10 0h1m6 0h1m3 0h1m6 0h1m3 0h1m6 0h1m3 0h1m6 0h1m3 0h1m6 0h1m3 0h1m6 0h1m3 0h1m6 0h1m3 0h1m6 0h1m3 0h1m6 0h1m3 0h1m6 0h1m3 0h1m6 0h1m3 0h1m6 0h1m3 0h1m6 0h1m3 0h1m6 0h1m3 0h1m6 0h1m3 0h1m6 0h1M138 747.5h1m3 0h1m2 0h1m3 0h1m3 0h1m2 0h1m3 0h1m3 0h1m2 0h1m3 0h1m3 0h1m2 0h1m3 0h1m3 0h1m2 0h1m3 0h1m3 0h1m2 0h1m3 0h1m3 0h1m2 0h1m3 0h1m3 0h1m2 0h1m3 0h1m3 0h1m2 0h1m3 0h1m3 0h1m2 0h1m3 0h1m3 0h1m2 0h1m3 0h1m3 0h1m2 0h1m3 0h1m3 0h1m2 0h1m3 0h1m3 0h1m2 0h1m3 0h1m3 0h1m2 0h1m3 0h1m3 0h1m2 0h1m3 0h1m6 0h1m3 0h1m3 0h1m2 0h1m3 0h1m3 0h1m2 0h1m3 0h1m3 0h1m2 0h1m3 0h1m3 0h1m2 0h1m3 0h1m3 0h1m2 0h1m3 0h1m3 0h1m2 0h1m3 0h1m3 0h1m2 0h1m3 0h1m3 0h1m2 0h1m3 0h1M140 749.5h1m6 0h1m3 0h1m6 0h1m3 0h1m6 0h1m3 0h1m6 0h1m3 0h1m6 0h1m3 0h1m6 0h1m3 0h1m6 0h1m3 0h1m6 0h1m3 0h1m10 0h1m6 0h1m3 0h1m6 0h1m3 0h1m6 0h1m3 0h1m6 0h1m3 0h1m6 0h1m3 0h1m6 0h1m3 0h1m6 0h1m3 0h1m6 0h1m3 0h1m6 0h1m3 0h1m6 0h1m3 0h1m6 0h1m3 0h1m6 0h1m3 0h1m6 0h1m3 0h1m6 0h1m3 0h1m6 0h1m3 0h1m6 0h1M137 750.5h3m1 0h6m1 0h3m1 0h6m1 0h3m1 0h6m1 0h3m1 0h6m1 0h3m1 0h6m1 0h3m1 0h6m1 0h3m1 0h6m1 0h3m1 0h6m1 0h3m1 0h6m2 0h2m1 0h6m1 0h3m1 0h6m1 0h3m1 0h6m1 0h3m1 0h6m1 0h3m1 0h6m1 0h3m1 0h6m1 0h3m1 0h6m1 0h3m1 0h1m2 0h3m1 0h3m1 0h6m1 0h3m1 0h6m1 0h3m1 0h6m1 0h3m1 0h6m1 0h3m1 0h6m1 0h3m1 0h6m1 0h3m1 0h6m1 0h3m1 0h6m1 0h2M140 751.5h1m6 0h1m3 0h1m6 0h1m3 0h1m6 0h1m3 0h1m6 0h1m3 0h1m6 0h1m3 0h1m6 0h1m3 0h1m6 0h1m3 0h1m6 0h1m3 0h1m10 0h1m6 0h1m3 0h1m6 0h1m3 0h1m6 0h1m3 0h1m6 0h1m3 0h1m6 0h1m3 0h1m6 0h1m3 0h1m6 0h1m3 0h1m6 0h1m3 0h1m6 0h1m3 0h1m6 0h1m3 0h1m6 0h1m3 0h1m6 0h1m3 0h1m6 0h1m3 0h1m6 0h1m3 0h1m6 0h1m3 0h1m6 0h1M140 753.5h1m6 0h1m3 0h1m6 0h1m3 0h1m6 0h1m3 0h1m6 0h1m3 0h1m6 0h1m3 0h1m6 0h1m3 0h1m6 0h1m3 0h1m6 0h1m3 0h1m10 0h1m6 0h1m3 0h1m6 0h1m3 0h1m6 0h1m3 0h1m6 0h1m3 0h1m6 0h1m3 0h1m6 0h1m3 0h1m6 0h1m3 0h1m6 0h1m3 0h1m6 0h1m3 0h1m6 0h1m3 0h1m6 0h1m3 0h1m6 0h1m3 0h1m6 0h1m3 0h1m6 0h1m3 0h1m6 0h1m3 0h1m6 0h1M137 754.5h3m1 0h6m1 0h3m1 0h6m1 0h3m1 0h6m1 0h3m1 0h6m1 0h3m1 0h6m1 0h3m1 0h6m1 0h3m1 0h6m1 0h3m1 0h6m1 0h3m1 0h6m2 0h2m1 0h6m1 0h3m1 0h6m1 0h3m1 0h6m1 0h3m1 0h6m1 0h3m1 0h6m1 0h3m1 0h6m1 0h3m1 0h6m1 0h3m1 0h1m2 0h3m1 0h3m1 0h6m1 0h3m1 0h6m1 0h3m1 0h6m1 0h3m1 0h6m1 0h3m1 0h6m1 0h3m1 0h6m1 0h3m1 0h6m1 0h3m1 0h6m1 0h2M140 755.5h1m6 0h1m3 0h1m6 0h1m3 0h1m6 0h1m3 0h1m6 0h1m3 0h1m6 0h1m3 0h1m6 0h1m3 0h1m6 0h1m3 0h1m6 0h1m3 0h1m10 0h1m6 0h1m3 0h1m6 0h1m3 0h1m6 0h1m3 0h1m6 0h1m3 0h1m6 0h1m3 0h1m6 0h1m3 0h1m6 0h1m3 0h1m6 0h1m3 0h1m6 0h1m3 0h1m6 0h1m3 0h1m6 0h1m3 0h1m6 0h1m3 0h1m6 0h1m3 0h1m6 0h1m3 0h1m6 0h1m3 0h1m6 0h1M140 756.5h1m6 0h1m3 0h1m6 0h1m3 0h1m6 0h1m3 0h1m6 0h1m3 0h1m6 0h1m3 0h1m6 0h1m3 0h1m6 0h1m3 0h1m6 0h1m3 0h1m10 0h1m6 0h1m3 0h1m6 0h1m3 0h1m6 0h1m3 0h1m6 0h1m3 0h1m6 0h1m3 0h1m6 0h1m3 0h1m6 0h1m3 0h1m6 0h1m3 0h1m6 0h1m3 0h1m6 0h1m3 0h1m6 0h1m3 0h1m6 0h1m3 0h1m6 0h1m3 0h1m6 0h1m3 0h1m6 0h1m3 0h1m6 0h1M137 757.5h3m1 0h6m1 0h3m1 0h6m1 0h3m1 0h6m1 0h3m1 0h6m1 0h3m1 0h6m1 0h3m1 0h6m1 0h3m1 0h6m1 0h3m1 0h6m1 0h3m1 0h6m2 0h2m1 0h6m1 0h3m1 0h6m1 0h3m1 0h6m1 0h3m1 0h6m1 0h3m1 0h6m1 0h3m1 0h6m1 0h3m1 0h6m1 0h3m1 0h1m2 0h3m1 0h3m1 0h6m1 0h3m1 0h6m1 0h3m1 0h6m1 0h3m1 0h6m1 0h3m1 0h6m1 0h3m1 0h6m1 0h3m1 0h6m1 0h3m1 0h6m1 0h2M140 758.5h1m6 0h1m3 0h1m6 0h1m3 0h1m6 0h1m3 0h1m6 0h1m3 0h1m6 0h1m3 0h1m6 0h1m3 0h1m6 0h1m3 0h1m6 0h1m3 0h1m10 0h1m6 0h1m3 0h1m6 0h1m3 0h1m6 0h1m3 0h1m6 0h1m3 0h1m6 0h1m3 0h1m6 0h1m3 0h1m6 0h1m3 0h1m6 0h1m3 0h1m6 0h1m3 0h1m6 0h1m3 0h1m6 0h1m3 0h1m6 0h1m3 0h1m6 0h1m3 0h1m6 0h1m3 0h1m6 0h1m3 0h1m6 0h1M140 760.5h1m6 0h1m3 0h1m6 0h1m3 0h1m6 0h1m3 0h1m6 0h1m3 0h1m6 0h1m3 0h1m6 0h1m3 0h1m6 0h1m3 0h1m6 0h1m3 0h1m10 0h1m6 0h1m3 0h1m6 0h1m3 0h1m6 0h1m3 0h1m6 0h1m3 0h1m6 0h1m3 0h1m6 0h1m3 0h1m6 0h1m3 0h1m6 0h1m3 0h1m6 0h1m3 0h1m6 0h1m3 0h1m6 0h1m3 0h1m6 0h1m3 0h1m6 0h1m3 0h1m6 0h1m3 0h1m6 0h1m3 0h1m6 0h1M137 761.5h3m1 0h6m1 0h3m1 0h6m1 0h3m1 0h6m1 0h3m1 0h6m1 0h3m1 0h6m1 0h3m1 0h6m1 0h3m1 0h6m1 0h3m1 0h6m1 0h3m1 0h6m2 0h2m1 0h6m1 0h3m1 0h6m1 0h3m1 0h6m1 0h3m1 0h6m1 0h3m1 0h6m1 0h3m1 0h6m1 0h3m1 0h6m1 0h3m1 0h1m2 0h3m1 0h3m1 0h6m1 0h3m1 0h6m1 0h3m1 0h6m1 0h3m1 0h6m1 0h3m1 0h6m1 0h3m1 0h6m1 0h3m1 0h6m1 0h3m1 0h6m1 0h2M140 762.5h1m6 0h1m3 0h1m6 0h1m3 0h1m6 0h1m3 0h1m6 0h1m3 0h1m6 0h1m3 0h1m6 0h1m3 0h1m6 0h1m3 0h1m6 0h1m3 0h1m10 0h1m6 0h1m3 0h1m6 0h1m3 0h1m6 0h1m3 0h1m6 0h1m3 0h1m6 0h1m3 0h1m6 0h1m3 0h1m6 0h1m3 0h1m6 0h1m3 0h1m6 0h1m3 0h1m6 0h1m3 0h1m6 0h1m3 0h1m6 0h1m3 0h1m6 0h1m3 0h1m6 0h1m3 0h1m6 0h1m3 0h1m6 0h1M140 764.5h1m6 0h1m3 0h1m6 0h1m3 0h1m6 0h1m3 0h1m6 0h1m3 0h1m6 0h1m3 0h1m6 0h1m3 0h1m6 0h1m3 0h1m6 0h1m3 0h1m10 0h1m6 0h1m3 0h1m6 0h1m3 0h1m6 0h1m3 0h1m6 0h1m3 0h1m6 0h1m3 0h1m6 0h1m3 0h1m6 0h1m3 0h1m6 0h1m3 0h1m6 0h1m3 0h1m6 0h1m3 0h1m6 0h1m3 0h1m6 0h1m3 0h1m6 0h1m3 0h1m6 0h1m3 0h1m6 0h1m3 0h1m6 0h1M138 765.5h1m3 0h1m2 0h1m3 0h1m3 0h1m2 0h1m3 0h1m3 0h1m2 0h1m3 0h1m3 0h1m2 0h1m3 0h1m3 0h1m2 0h1m3 0h1m3 0h1m2 0h1m3 0h1m3 0h1m2 0h1m3 0h1m3 0h1m2 0h1m3 0h1m3 0h1m2 0h1m3 0h1m3 0h1m2 0h1m3 0h1m3 0h1m2 0h1m3 0h1m3 0h1m2 0h1m3 0h1m3 0h1m2 0h1m3 0h1m3 0h1m2 0h1m3 0h1m3 0h1m2 0h1m3 0h1m3 0h1m2 0h1m3 0h1m6 0h1m3 0h1m3 0h1m2 0h1m3 0h1m3 0h1m2 0h1m3 0h1m3 0h1m2 0h1m3 0h1m3 0h1m2 0h1m3 0h1m3 0h1m2 0h1m3 0h1m3 0h1m2 0h1m3 0h1m3 0h1m2 0h1m3 0h1m3 0h1m2 0h1m3 0h1M140 767.5h1m6 0h1m3 0h1m6 0h1m3 0h1m6 0h1m3 0h1m6 0h1m3 0h1m6 0h1m3 0h1m6 0h1m3 0h1m6 0h1m3 0h1m6 0h1m3 0h1m10 0h1m6 0h1m3 0h1m6 0h1m3 0h1m6 0h1m3 0h1m6 0h1m3 0h1m6 0h1m3 0h1m6 0h1m3 0h1m6 0h1m3 0h1m6 0h1m3 0h1m6 0h1m3 0h1m6 0h1m3 0h1m6 0h1m3 0h1m6 0h1m3 0h1m6 0h1m3 0h1m6 0h1m3 0h1m6 0h1m3 0h1m6 0h1M137 768.5h3m1 0h6m1 0h3m1 0h6m1 0h3m1 0h6m1 0h3m1 0h6m1 0h3m1 0h6m1 0h3m1 0h6m1 0h3m1 0h6m1 0h3m1 0h6m1 0h3m1 0h6m2 0h2m1 0h6m1 0h3m1 0h6m1 0h3m1 0h6m1 0h3m1 0h6m1 0h3m1 0h6m1 0h3m1 0h6m1 0h3m1 0h6m1 0h3m1 0h1m2 0h3m1 0h3m1 0h6m1 0h3m1 0h6m1 0h3m1 0h6m1 0h3m1 0h6m1 0h3m1 0h6m1 0h3m1 0h6m1 0h3m1 0h6m1 0h3m1 0h6m1 0h2M140 769.5h1m6 0h1m3 0h1m6 0h1m3 0h1m6 0h1m3 0h1m6 0h1m3 0h1m6 0h1m3 0h1m6 0h1m3 0h1m6 0h1m3 0h1m6 0h1m3 0h1m10 0h1m6 0h1m3 0h1m6 0h1m3 0h1m6 0h1m3 0h1m6 0h1m3 0h1m6 0h1m3 0h1m6 0h1m3 0h1m6 0h1m3 0h1m6 0h1m3 0h1m6 0h1m3 0h1m6 0h1m3 0h1m6 0h1m3 0h1m6 0h1m3 0h1m6 0h1m3 0h1m6 0h1m3 0h1m6 0h1m3 0h1m6 0h1M140 771.5h1m6 0h1m3 0h1m6 0h1m3 0h1m6 0h1m3 0h1m6 0h1m3 0h1m6 0h1m3 0h1m6 0h1m3 0h1m6 0h1m3 0h1m6 0h1m3 0h1m10 0h1m6 0h1m3 0h1m6 0h1m3 0h1m6 0h1m3 0h1m6 0h1m3 0h1m6 0h1m3 0h1m6 0h1m3 0h1m6 0h1m3 0h1m6 0h1m3 0h1m6 0h1m3 0h1m6 0h1m3 0h1m6 0h1m3 0h1m6 0h1m3 0h1m6 0h1m3 0h1m6 0h1m3 0h1m6 0h1m3 0h1m6 0h1M137 772.5h3m1 0h6m1 0h3m1 0h6m1 0h3m1 0h6m1 0h3m1 0h6m1 0h3m1 0h6m1 0h3m1 0h6m1 0h3m1 0h6m1 0h3m1 0h6m1 0h3m1 0h6m2 0h2m1 0h6m1 0h3m1 0h6m1 0h3m1 0h6m1 0h3m1 0h6m1 0h3m1 0h6m1 0h3m1 0h6m1 0h3m1 0h6m1 0h3m1 0h1m2 0h3m1 0h3m1 0h6m1 0h3m1 0h6m1 0h3m1 0h6m1 0h3m1 0h6m1 0h3m1 0h6m1 0h3m1 0h6m1 0h3m1 0h6m1 0h3m1 0h6m1 0h2M140 773.5h1m6 0h1m3 0h1m6 0h1m3 0h1m6 0h1m3 0h1m6 0h1m3 0h1m6 0h1m3 0h1m6 0h1m3 0h1m6 0h1m3 0h1m6 0h1m3 0h1m10 0h1m6 0h1m3 0h1m6 0h1m3 0h1m6 0h1m3 0h1m6 0h1m3 0h1m6 0h1m3 0h1m6 0h1m3 0h1m6 0h1m3 0h1m6 0h1m3 0h1m6 0h1m3 0h1m6 0h1m3 0h1m6 0h1m3 0h1m6 0h1m3 0h1m6 0h1m3 0h1m6 0h1m3 0h1m6 0h1m3 0h1m6 0h1M140 774.5h1m6 0h1m3 0h1m6 0h1m3 0h1m6 0h1m3 0h1m6 0h1m3 0h1m6 0h1m3 0h1m6 0h1m3 0h1m6 0h1m3 0h1m6 0h1m3 0h1m10 0h1m6 0h1m3 0h1m6 0h1m3 0h1m6 0h1m3 0h1m6 0h1m3 0h1m6 0h1m3 0h1m6 0h1m3 0h1m6 0h1m3 0h1m6 0h1m3 0h1m6 0h1m3 0h1m6 0h1m3 0h1m6 0h1m3 0h1m6 0h1m3 0h1m6 0h1m3 0h1m6 0h1m3 0h1m6 0h1m3 0h1m6 0h1M137 775.5h3m1 0h6m1 0h3m1 0h6m1 0h3m1 0h6m1 0h3m1 0h6m1 0h3m1 0h6m1 0h3m1 0h6m1 0h3m1 0h6m1 0h3m1 0h6m1 0h3m1 0h6m2 0h2m1 0h6m1 0h3m1 0h6m1 0h3m1 0h6m1 0h3m1 0h6m1 0h3m1 0h6m1 0h3m1 0h6m1 0h3m1 0h6m1 0h3m1 0h1m2 0h3m1 0h3m1 0h6m1 0h3m1 0h6m1 0h3m1 0h6m1 0h3m1 0h6m1 0h3m1 0h6m1 0h3m1 0h6m1 0h3m1 0h6m1 0h3m1 0h6m1 0h2M140 776.5h1m6 0h1m3 0h1m6 0h1m3 0h1m6 0h1m3 0h1m6 0h1m3 0h1m6 0h1m3 0h1m6 0h1m3 0h1m6 0h1m3 0h1m6 0h1m3 0h1m10 0h1m6 0h1m3 0h1m6 0h1m3 0h1m6 0h1m3 0h1m6 0h1m3 0h1m6 0h1m3 0h1m6 0h1m3 0h1m6 0h1m3 0h1m6 0h1m3 0h1m6 0h1m3 0h1m6 0h1m3 0h1m6 0h1m3 0h1m6 0h1m3 0h1m6 0h1m3 0h1m6 0h1m3 0h1m6 0h1m3 0h1m6 0h1M140 778.5h1m6 0h1m3 0h1m6 0h1m3 0h1m6 0h1m3 0h1m6 0h1m3 0h1m6 0h1m3 0h1m6 0h1m3 0h1m6 0h1m3 0h1m6 0h1m3 0h1m10 0h1m6 0h1m3 0h1m6 0h1m3 0h1m6 0h1m3 0h1m6 0h1m3 0h1m6 0h1m3 0h1m6 0h1m3 0h1m6 0h1m3 0h1m6 0h1m3 0h1m6 0h1m3 0h1m6 0h1m3 0h1m6 0h1m3 0h1m6 0h1m3 0h1m6 0h1m3 0h1m6 0h1m3 0h1m6 0h1m3 0h1m6 0h1M137 779.5h3m1 0h6m1 0h3m1 0h6m1 0h3m1 0h6m1 0h3m1 0h6m1 0h3m1 0h6m1 0h3m1 0h6m1 0h3m1 0h6m1 0h3m1 0h6m1 0h3m1 0h6m2 0h2m1 0h6m1 0h3m1 0h6m1 0h3m1 0h6m1 0h3m1 0h6m1 0h3m1 0h6m1 0h3m1 0h6m1 0h3m1 0h6m1 0h3m1 0h1m2 0h3m1 0h3m1 0h6m1 0h3m1 0h6m1 0h3m1 0h6m1 0h3m1 0h6m1 0h3m1 0h6m1 0h3m1 0h6m1 0h3m1 0h6m1 0h3m1 0h6m1 0h2M140 780.5h1m6 0h1m3 0h1m6 0h1m3 0h1m6 0h1m3 0h1m6 0h1m3 0h1m6 0h1m3 0h1m6 0h1m3 0h1m6 0h1m3 0h1m6 0h1m3 0h1m10 0h1m6 0h1m3 0h1m6 0h1m3 0h1m6 0h1m3 0h1m6 0h1m3 0h1m6 0h1m3 0h1m6 0h1m3 0h1m6 0h1m3 0h1m6 0h1m3 0h1m6 0h1m3 0h1m6 0h1m3 0h1m6 0h1m3 0h1m6 0h1m3 0h1m6 0h1m3 0h1m6 0h1m3 0h1m6 0h1m3 0h1m6 0h1M140 782.5h1m6 0h1m3 0h1m6 0h1m3 0h1m6 0h1m3 0h1m6 0h1m3 0h1m6 0h1m3 0h1m6 0h1m3 0h1m6 0h1m3 0h1m6 0h1m3 0h1m10 0h1m6 0h1m3 0h1m6 0h1m3 0h1m6 0h1m3 0h1m6 0h1m3 0h1m6 0h1m3 0h1m6 0h1m3 0h1m6 0h1m3 0h1m6 0h1m3 0h1m6 0h1m3 0h1m6 0h1m3 0h1m6 0h1m3 0h1m6 0h1m3 0h1m6 0h1m3 0h1m6 0h1m3 0h1m6 0h1m3 0h1m6 0h1M182 783.5h1m3 0h1m2 0h1m3 0h1m3 0h1m2 0h1m3 0h1m3 0h1m2 0h1m3 0h1m3 0h1m2 0h1m3 0h1m3 0h1m2 0h1m3 0h1m3 0h1m2 0h1m3 0h1m3 0h1m2 0h1m3 0h1m3 0h1m2 0h1m3 0h1m3 0h1m2 0h1m3 0h1m3 0h1m2 0h1m3 0h1m3 0h1m2 0h1m3 0h1m3 0h1m2 0h1m3 0h1m6 0h1m3 0h1m3 0h1m2 0h1m3 0h1m3 0h1m2 0h1m3 0h1m3 0h1m2 0h1m3 0h1m3 0h1m2 0h1m3 0h1m3 0h1m2 0h1m3 0h1m3 0h1m2 0h1m3 0h1m3 0h1m2 0h1m3 0h1m3 0h1m2 0h1m3 0h1M184 785.5h1m6 0h1m3 0h1m6 0h1m3 0h1m6 0h1m3 0h1m6 0h1m3 0h1m10 0h1m6 0h1m3 0h1m6 0h1m3 0h1m6 0h1m3 0h1m6 0h1m3 0h1m6 0h1m3 0h1m6 0h1m3 0h1m6 0h1m3 0h1m6 0h1m3 0h1m6 0h1m3 0h1m6 0h1m3 0h1m6 0h1m3 0h1m6 0h1m3 0h1m6 0h1m3 0h1m6 0h1m3 0h1m6 0h1m3 0h1m6 0h1M182 786.5h2m1 0h6m1 0h3m1 0h6m1 0h3m1 0h6m1 0h3m1 0h6m1 0h3m1 0h6m2 0h2m1 0h6m1 0h3m1 0h6m1 0h3m1 0h6m1 0h3m1 0h6m1 0h3m1 0h6m1 0h3m1 0h6m1 0h3m1 0h6m1 0h3m1 0h1m2 0h3m1 0h3m1 0h6m1 0h3m1 0h6m1 0h3m1 0h6m1 0h3m1 0h6m1 0h3m1 0h6m1 0h3m1 0h6m1 0h3m1 0h6m1 0h3m1 0h6m1 0h2M184 787.5h1m6 0h1m3 0h1m6 0h1m3 0h1m6 0h1m3 0h1m6 0h1m3 0h1m10 0h1m6 0h1m3 0h1m61 0h1m3 0h1m6 0h1m3 0h1m6 0h1m3 0h1m6 0h1m3 0h1m6 0h1m3 0h1m6 0h1m3 0h1m6 0h1m3 0h1m6 0h1m3 0h1m6 0h1m3 0h1m6 0h1M184 789.5h1m6 0h1m3 0h1m6 0h1m3 0h1m6 0h1m3 0h1m6 0h1m3 0h1m10 0h1m6 0h1m3 0h1m61 0h1m3 0h1m6 0h1m3 0h1m6 0h1M182 790.5h2m1 0h6m1 0h3m1 0h6m1 0h3m1 0h6m1 0h3m1 0h6m1 0h3m1 0h6m2 0h2m1 0h6m1 0h3m1 0h1m54 0h6m1 0h3m1 0h1m2 0h3m1 0h3m1 0h6M184 791.5h1m6 0h1m3 0h1m6 0h1m3 0h1m6 0h1m3 0h1m6 0h1m3 0h1m10 0h1m6 0h1m3 0h1m61 0h1m3 0h1m6 0h1m3 0h1m6 0h1M184 792.5h1m6 0h1m3 0h1m6 0h1m3 0h1m6 0h1m3 0h1m6 0h1m3 0h1m10 0h1m6 0h1m3 0h1m61 0h1m3 0h1m6 0h1m3 0h1m6 0h1M182 793.5h2m1 0h6m1 0h3m1 0h6m1 0h3m1 0h6m1 0h3m1 0h6m1 0h3m1 0h6m2 0h2m1 0h6m1 0h3m1 0h6m1 0h3m1 0h6m1 0h3m1 0h6m1 0h3m1 0h6m1 0h3m1 0h6m1 0h3m1 0h6m1 0h3m1 0h1m2 0h3m1 0h3m1 0h6M184 794.5h1m6 0h1m3 0h1m6 0h1m3 0h1m6 0h1m3 0h1m6 0h1m3 0h1m10 0h1m6 0h1m3 0h1m6 0h1m3 0h1m6 0h1m3 0h1m6 0h1m3 0h1m6 0h1m3 0h1m6 0h1m3 0h1m6 0h1m3 0h1m6 0h1m3 0h1m6 0h1M184 796.5h1m6 0h1m3 0h1m6 0h1m3 0h1m6 0h1m3 0h1m6 0h1m3 0h1m10 0h1m6 0h1m3 0h1m6 0h1m3 0h1m6 0h1m3 0h1m6 0h1m3 0h1m6 0h1m3 0h1m6 0h1m3 0h1m6 0h1m3 0h1m6 0h1m3 0h1m6 0h1M128 797.5h1m1 0h6m1 0h3m1 0h6m1 0h3m1 0h6m1 0h3m1 0h6m1 0h3m1 0h6m1 0h3m1 0h6m1 0h3m1 0h6m1 0h3m1 0h6m1 0h3m1 0h6m1 0h3m1 0h6m2 0h2m1 0h6m1 0h3m1 0h6m1 0h3m1 0h6m1 0h3m1 0h6m1 0h3m1 0h6m1 0h3m1 0h6m1 0h3m1 0h6m1 0h3m1 0h1m2 0h3m1 0h3m1 0h6"/><path stroke="#666" d="M273 85.5h1m1 0h2m1 0h1m1 0h1m1 0h1m1 0h1m1 0h2m1 0h1m1 0h1m1 0h1m1 0h1m1 0h2m1 0h1m1 0h1m1 0h1m1 0h1m1 0h2m1 0h1M273 87.5h1m1 0h2m1 0h1m1 0h1m1 0h1m1 0h1m1 0h2m1 0h1m1 0h1m1 0h1m1 0h1m1 0h2m1 0h1m1 0h1m1 0h1m1 0h1m1 0h2m1 0h1M273 89.5h1m1 0h2m1 0h1m1 0h1m1 0h1m1 0h1m1 0h2m1 0h1m1 0h1m1 0h1m1 0h1m1 0h2m1 0h1m1 0h1m1 0h1m1 0h1m1 0h2m1 0h1M273 90.5h1m1 0h2m1 0h1m1 0h1m1 0h1m1 0h1m1 0h2m1 0h1m1 0h1m1 0h1m1 0h1m1 0h2m1 0h1m1 0h1m1 0h1m1 0h1m1 0h2m1 0h1M273 92.5h1m1 0h2m1 0h1m1 0h1m1 0h1m1 0h1m1 0h2m1 0h1m1 0h1m1 0h1m1 0h1m1 0h2m1 0h1m1 0h1m1 0h1m1 0h1m1 0h2m1 0h1M273 94.5h1m1 0h2m1 0h1m1 0h1m1 0h1m1 0h1m1 0h2m1 0h1m1 0h1m1 0h1m1 0h1m1 0h2m1 0h1m1 0h1m1 0h1m1 0h1m1 0h2m1 0h1M273 96.5h1m1 0h2m1 0h1m1 0h1m1 0h1m1 0h1m1 0h2m1 0h1m1 0h1m1 0h1m1 0h1m1 0h2m1 0h1m1 0h1m1 0h1m1 0h1m1 0h2m1 0h1M273 98.5h1m1 0h2m1 0h1m1 0h1m1 0h1m1 0h1m1 0h2m1 0h1m1 0h1m1 0h1m1 0h1m1 0h2m1 0h1m1 0h1m1 0h1m1 0h1m1 0h2m1 0h1M273 99.5h1m1 0h2m1 0h1m1 0h1m1 0h1m1 0h1m1 0h2m1 0h1m1 0h1m1 0h1m1 0h1m1 0h2m1 0h1m1 0h1m1 0h1m1 0h1m1 0h2m1 0h1M273 101.5h1m1 0h2m1 0h1m1 0h1m1 0h1m1 0h1m1 0h2m1 0h1m1 0h1m1 0h1m1 0h1m1 0h2m1 0h1m1 0h1m1 0h1m1 0h1m1 0h2m1 0h1M273 103.5h1m1 0h2m1 0h1m1 0h1m1 0h1m1 0h1m1 0h2m1 0h1m1 0h1m1 0h1m1 0h1m1 0h2m1 0h1m1 0h1m1 0h1m1 0h1m1 0h2m1 0h1M273 105.5h1m1 0h2m1 0h1m1 0h1m1 0h1m1 0h1m1 0h2m1 0h1m1 0h1m1 0h1m1 0h1m1 0h2m1 0h1m1 0h1m1 0h1m1 0h1m1 0h2m1 0h1M273 107.5h1m1 0h2m1 0h1m1 0h1m1 0h1m1 0h1m1 0h2m1 0h1m1 0h1m1 0h1m1 0h1m1 0h2m1 0h1m1 0h1m1 0h1m1 0h1m1 0h2m1 0h1M273 108.5h1m1 0h2m1 0h1m1 0h1m1 0h1m1 0h1m1 0h2m1 0h1m1 0h1m1 0h1m1 0h1m1 0h2m1 0h1m1 0h1m1 0h1m1 0h1m1 0h2m1 0h1M280 110.5h1m1 0h1m1 0h1m1 0h2m1 0h1m1 0h1m1 0h1m1 0h1m1 0h2m1 0h1m1 0h1m1 0h1m1 0h1m1 0h2m1 0h1M280 112.5h1m1 0h1m1 0h1m1 0h2m1 0h1m1 0h1m1 0h1m1 0h1m1 0h2m1 0h1m1 0h1m1 0h1m1 0h1m1 0h2m1 0h1M280 114.5h1m1 0h1m1 0h1m1 0h2m1 0h1m1 0h1m1 0h1m1 0h1m1 0h2m1 0h1m1 0h1m1 0h1m1 0h1m1 0h2m1 0h1M280 116.5h1m1 0h1m1 0h1m1 0h2m1 0h1m1 0h1m1 0h1m1 0h1m1 0h2m1 0h1m1 0h1m1 0h1m1 0h1m1 0h2m1 0h1M280 117.5h1m1 0h1m1 0h1m1 0h2m1 0h1m1 0h1m1 0h1m1 0h1m1 0h2m1 0h1m1 0h1m1 0h1m1 0h1m1 0h2m1 0h1M280 119.5h1m1 0h1m1 0h1m1 0h2m1 0h1m1 0h1m1 0h1m1 0h1m1 0h2m1 0h1m1 0h1m1 0h1m1 0h1m1 0h2m1 0h1m1 0h1m1 0h1m1 0h1m1 0h2m1 0h1m1 0h1M280 121.5h1m1 0h1m1 0h1m1 0h2m1 0h1m1 0h1m1 0h1m1 0h1m1 0h2m1 0h1m1 0h1m1 0h1m1 0h1m1 0h2m1 0h1m1 0h1m1 0h1m1 0h1m1 0h2m1 0h1m1 0h1M280 123.5h1m1 0h1m1 0h1m1 0h2m1 0h1m1 0h1m1 0h1m1 0h1m1 0h2m1 0h1m1 0h1m1 0h1m1 0h1m1 0h2m1 0h1m1 0h1m1 0h1m1 0h1m1 0h2m1 0h1m1 0h1M280 125.5h1m1 0h1m1 0h1m1 0h2m1 0h1m1 0h1m1 0h1m1 0h1m1 0h2m1 0h1m1 0h1m1 0h1m1 0h1m1 0h2m1 0h1m1 0h1m1 0h1m1 0h1m1 0h2m1 0h1m1 0h1M280 126.5h1m1 0h1m1 0h1m1 0h2m20 0h2m1 0h1m1 0h1m1 0h1m1 0h1m1 0h2m1 0h1m1 0h1M280 128.5h1m1 0h1m1 0h1m1 0h2m20 0h2m1 0h1m1 0h1m1 0h1m1 0h1m1 0h2m1 0h1m1 0h1M280 130.5h1m1 0h1m1 0h1m1 0h2m20 0h2m1 0h1m1 0h1m1 0h1m1 0h1m1 0h2m1 0h1m1 0h1M280 132.5h1m1 0h1m1 0h1m1 0h2m1 0h1m1 0h1m1 0h1m1 0h1m1 0h2m1 0h1m1 0h1m1 0h1m1 0h1m1 0h2m1 0h1m1 0h1m1 0h1m1 0h1m1 0h2m1 0h1m1 0h1M280 134.5h1m1 0h1m1 0h1m1 0h2m29 0h1m1 0h2m1 0h1m1 0h1M280 135.5h1m1 0h1m1 0h1m1 0h2m29 0h1m1 0h2m1 0h1m1 0h1M280 137.5h1m1 0h1m1 0h1m1 0h2m29 0h1m1 0h2m1 0h1m1 0h1M280 139.5h1m1 0h1m1 0h1m1 0h2m29 0h1m1 0h2m1 0h1m1 0h1M280 141.5h1m1 0h1m1 0h1m1 0h2m1 0h1m1 0h1m1 0h1m1 0h1m1 0h2m1 0h1m1 0h1m1 0h1m1 0h1m1 0h2m1 0h1m1 0h1m1 0h1m1 0h1m1 0h2m1 0h1m1 0h1M280 143.5h1m1 0h1m1 0h1m1 0h2m1 0h1m1 0h1m1 0h1m1 0h1m1 0h2m1 0h1m1 0h1m1 0h1m1 0h1m1 0h2m1 0h1m1 0h1m1 0h1m1 0h1m1 0h2m1 0h1m1 0h1M280 144.5h1m1 0h1m1 0h1m1 0h2m1 0h1m1 0h1m1 0h1m1 0h1m1 0h2m1 0h1m1 0h1m1 0h1m1 0h1m1 0h2m1 0h1m1 0h1m1 0h1m1 0h1m1 0h2m1 0h1m1 0h1M280 146.5h1m1 0h1m1 0h1m1 0h2m1 0h1m1 0h1m1 0h1m1 0h1m1 0h2m1 0h1m1 0h1m1 0h1m1 0h1m1 0h2m1 0h1m1 0h1m1 0h1m1 0h1m1 0h2m1 0h1m1 0h1M143 148.5h2m1 0h1m1 0h1m1 0h1m1 0h1m1 0h2m1 0h1m1 0h1m1 0h1m1 0h1m1 0h2m1 0h1m1 0h1m1 0h1m1 0h1M143 150.5h2m1 0h1m1 0h1m1 0h1m1 0h1m1 0h2m1 0h1m1 0h1m1 0h1m1 0h1m1 0h2m1 0h1m1 0h1m1 0h1m1 0h1M143 152.5h2m1 0h1m1 0h1m1 0h1m1 0h1m1 0h2m1 0h1m1 0h1m1 0h1m1 0h1m1 0h2m1 0h1m1 0h1m1 0h1m1 0h1M143 153.5h2m1 0h1m1 0h1m1 0h1m1 0h1m1 0h2m1 0h1m1 0h1m1 0h1m1 0h1m1 0h2m1 0h1m1 0h1m1 0h1m1 0h1M143 155.5h2m1 0h1m1 0h1m1 0h1m1 0h1m1 0h2m1 0h1m1 0h1m1 0h1m1 0h1m1 0h2m1 0h1m1 0h1m1 0h1m1 0h1M143 157.5h2m1 0h1m1 0h1m1 0h1m1 0h1m1 0h2m1 0h1m1 0h1m1 0h1m1 0h1m1 0h2m1 0h1m1 0h1m1 0h1m1 0h1m1 0h2m1 0h1m1 0h1m1 0h1m1 0h1m1 0h2m1 0h1m1 0h1m1 0h1m1 0h1m1 0h2m1 0h1m1 0h1m1 0h1m1 0h1M143 159.5h2m1 0h1m1 0h1m1 0h1m1 0h1m1 0h2m1 0h1m1 0h1m1 0h1m1 0h1m1 0h2m1 0h1m1 0h1m1 0h1m1 0h1m1 0h2m1 0h1m1 0h1m1 0h1m1 0h1m1 0h2m1 0h1m1 0h1m1 0h1m1 0h1m1 0h2m1 0h1m1 0h1m1 0h1m1 0h1M143 161.5h2m1 0h1m1 0h1m1 0h1m1 0h1m1 0h2m1 0h1m1 0h1m1 0h1m1 0h1m1 0h2m1 0h1m1 0h1m1 0h1m1 0h1m1 0h2m1 0h1m1 0h1m1 0h1m1 0h1m1 0h2m1 0h1m1 0h1m1 0h1m1 0h1m1 0h2m1 0h1m1 0h1m1 0h1m1 0h1M143 162.5h2m1 0h1m1 0h1m1 0h1m1 0h1m1 0h2m1 0h1m1 0h1m1 0h1m1 0h1m1 0h2m1 0h1m1 0h1m1 0h1m1 0h1m1 0h2m1 0h1m1 0h1m1 0h1m1 0h1m1 0h2m1 0h1m1 0h1m1 0h1m1 0h1m1 0h2m1 0h1m1 0h1m1 0h1m1 0h1M143 164.5h2m1 0h1m1 0h1m1 0h1m1 0h1m1 0h2m1 0h1m1 0h1m1 0h1m1 0h1m1 0h2m1 0h1m1 0h1m1 0h1m1 0h1m1 0h2m1 0h1m1 0h1m1 0h1m1 0h1m1 0h2m1 0h1m1 0h1m1 0h1m1 0h1m1 0h2m1 0h1m1 0h1m1 0h1m1 0h1M143 166.5h2m1 0h1m1 0h1m1 0h1m1 0h1m1 0h2m1 0h1m1 0h1m1 0h1m1 0h1m1 0h2m1 0h1m1 0h1m1 0h1m1 0h1m1 0h2m1 0h1m1 0h1m1 0h1m1 0h1m1 0h2m1 0h1m1 0h1m1 0h1m1 0h1m1 0h2m1 0h1m1 0h1m1 0h1m1 0h1M143 168.5h2m1 0h1m1 0h1m1 0h1m1 0h1m1 0h2m1 0h1m1 0h1m1 0h1m1 0h1m1 0h2m1 0h1m1 0h1m1 0h1m1 0h1m1 0h2m1 0h1m1 0h1m1 0h1m1 0h1m1 0h2m1 0h1m1 0h1m1 0h1m1 0h1m1 0h2m1 0h1m1 0h1m1 0h1m1 0h1M143 170.5h2m1 0h1m1 0h1m1 0h1m47 0h2m1 0h1m1 0h1m1 0h1m1 0h1M143 171.5h2m1 0h1m1 0h1m1 0h1m47 0h2m1 0h1m1 0h1m1 0h1m1 0h1M143 173.5h2m1 0h1m1 0h1m1 0h1m47 0h2m1 0h1m1 0h1m1 0h1m1 0h1M143 175.5h2m1 0h1m1 0h1m1 0h1m47 0h2m1 0h1m1 0h1m1 0h1m1 0h1M143 177.5h2m1 0h1m1 0h1m1 0h1m1 0h1m1 0h2m1 0h1m1 0h1m1 0h1m1 0h1m1 0h2m1 0h1m1 0h1m1 0h1m1 0h1m1 0h2m1 0h1m1 0h1m1 0h1m1 0h1m1 0h2m1 0h1m1 0h1m1 0h1m1 0h1m1 0h2m1 0h1m1 0h1m1 0h1m1 0h1M143 179.5h2m1 0h1m1 0h1m1 0h1m1 0h1m1 0h2m1 0h1m1 0h1m1 0h1m1 0h1m1 0h2m1 0h1m1 0h1m1 0h1m1 0h1m1 0h2m1 0h1m1 0h1m1 0h1m1 0h1m1 0h2m1 0h1m1 0h1m1 0h1m1 0h1m1 0h2m1 0h1m1 0h1m1 0h1m1 0h1M143 180.5h2m1 0h1m1 0h1m1 0h1m1 0h1m1 0h2m1 0h1m1 0h1m1 0h1m1 0h1m1 0h2m1 0h1m1 0h1m1 0h1m1 0h1m1 0h2m1 0h1m1 0h1m1 0h1m1 0h1m1 0h2m1 0h1m1 0h1m1 0h1m1 0h1m1 0h2m1 0h1m1 0h1m1 0h1m1 0h1M143 182.5h2m1 0h1m1 0h1m1 0h1m1 0h1m1 0h2m1 0h1m1 0h1m1 0h1m1 0h1m1 0h2m1 0h1m1 0h1m1 0h1m1 0h1m1 0h2m1 0h1m1 0h1m1 0h1m1 0h1m1 0h2m1 0h1m1 0h1m1 0h1m1 0h1m1 0h2m1 0h1m1 0h1m1 0h1m1 0h1M143 184.5h2m1 0h1m1 0h1m1 0h1m1 0h1m1 0h2m1 0h1m1 0h1m1 0h1m1 0h1m1 0h2m1 0h1m1 0h1m1 0h1m1 0h1m1 0h2m1 0h1m1 0h1m1 0h1m1 0h1m1 0h2m1 0h1m1 0h1m1 0h1m1 0h1m1 0h2m1 0h1m1 0h1m1 0h1m1 0h1M143 186.5h2m1 0h1m1 0h1m1 0h1m1 0h1m1 0h2m1 0h1m1 0h1m1 0h1m1 0h1m1 0h2m1 0h1m1 0h1m1 0h1m1 0h1m1 0h2m1 0h1m1 0h1m1 0h1m1 0h1m1 0h2m1 0h1m1 0h1m1 0h1m1 0h1m1 0h2m1 0h1m1 0h1m1 0h1m1 0h1M143 188.5h2m1 0h1m1 0h1m1 0h1m1 0h1m1 0h2m1 0h1m1 0h1m1 0h1m1 0h1m1 0h2m1 0h1m1 0h1m1 0h1m1 0h1m1 0h2m1 0h1m1 0h1m1 0h1m1 0h1m1 0h2m1 0h1m1 0h1m1 0h1m1 0h1m1 0h2m1 0h1m1 0h1m1 0h1m1 0h1M143 189.5h2m1 0h1m1 0h1m1 0h1m1 0h1m1 0h2m1 0h1m1 0h1m1 0h1m1 0h1m1 0h2m1 0h1m1 0h1m1 0h1m1 0h1m1 0h2m1 0h1m1 0h1m1 0h1m1 0h1m1 0h2m1 0h1m1 0h1m1 0h1m1 0h1m1 0h2m1 0h1m1 0h1m1 0h1m1 0h1M143 191.5h2m1 0h1m1 0h1m1 0h1m1 0h1m1 0h2m1 0h1m1 0h1m1 0h1m1 0h1m1 0h2m1 0h1m1 0h1m1 0h1m1 0h1m1 0h2m1 0h1m1 0h1m1 0h1m1 0h1m1 0h2m1 0h1m1 0h1m1 0h1m1 0h1m1 0h2m1 0h1m1 0h1m1 0h1m1 0h1M143 193.5h2m1 0h1m1 0h1m1 0h1m1 0h1m1 0h2m1 0h1m1 0h1m1 0h1m1 0h1m1 0h2m1 0h1m1 0h1m1 0h1m1 0h1m1 0h2m1 0h1m1 0h1m1 0h1m1 0h1m1 0h2m1 0h1m1 0h1m1 0h1m1 0h1m1 0h2m1 0h1m1 0h1m1 0h1m1 0h1M143 195.5h2m1 0h1m1 0h1m1 0h1m1 0h1m1 0h2m1 0h1m1 0h1m1 0h1m1 0h1m1 0h2m1 0h1m1 0h1m1 0h1m1 0h1m1 0h2m1 0h1m1 0h1m1 0h1m1 0h1m1 0h2m1 0h1m1 0h1m1 0h1m1 0h1m1 0h2m1 0h1m1 0h1m1 0h1m1 0h1M143 197.5h2m1 0h1m1 0h1m1 0h1m1 0h1m1 0h2m1 0h1m1 0h1m1 0h1m1 0h1m1 0h2m1 0h1m1 0h1m1 0h1m1 0h1m1 0h2m1 0h1m1 0h1m1 0h1m1 0h1m1 0h2m1 0h1m1 0h1m1 0h1m1 0h1m1 0h2m1 0h1m1 0h1m1 0h1m1 0h1M143 198.5h2m1 0h1m1 0h1m1 0h1m1 0h1m1 0h2m1 0h1m1 0h1m1 0h1m1 0h1m1 0h2m1 0h1m1 0h1m1 0h1m1 0h1m1 0h2m1 0h1m1 0h1m1 0h1m1 0h1m1 0h2m1 0h1m1 0h1m1 0h1m1 0h1m1 0h2m1 0h1m1 0h1m1 0h1m1 0h1M143 200.5h2m1 0h1m1 0h1m1 0h1m1 0h1m1 0h2m1 0h1m1 0h1m1 0h1m1 0h1m1 0h2m1 0h1m1 0h1m1 0h1m1 0h1m1 0h2m1 0h1m1 0h1m1 0h1m1 0h1m1 0h2m1 0h1m1 0h1m1 0h1m1 0h1m1 0h2m1 0h1m1 0h1m1 0h1m1 0h1M143 202.5h2m1 0h1m1 0h1m1 0h1m1 0h1m1 0h2m1 0h1m1 0h1m1 0h1m1 0h1m1 0h2m1 0h1m1 0h1m1 0h1m1 0h1m1 0h2m1 0h1m1 0h1m1 0h1m1 0h1m1 0h2m1 0h1m1 0h1m1 0h1m1 0h1m1 0h2m1 0h1m1 0h1m1 0h1m1 0h1M143 204.5h2m1 0h1m1 0h1m1 0h1m1 0h1m1 0h2m1 0h1m1 0h1m1 0h1m1 0h1m1 0h2m1 0h1m1 0h1m1 0h1m1 0h1m1 0h2m1 0h1m1 0h1m1 0h1m1 0h1m1 0h2m1 0h1m1 0h1m1 0h1m1 0h1m1 0h2m1 0h1m1 0h1m1 0h1m1 0h1M143 206.5h2m1 0h1m1 0h1m1 0h1m1 0h1m1 0h2m1 0h1m1 0h1m1 0h1m1 0h1m1 0h2m1 0h1m1 0h1m1 0h1m1 0h1m1 0h2m1 0h1m1 0h1m1 0h1m1 0h1m1 0h2m1 0h1m1 0h1m1 0h1m1 0h1m1 0h2m1 0h1m1 0h1m1 0h1m1 0h1M143 209.5h2m1 0h1m1 0h1m1 0h1m1 0h1m1 0h2m1 0h1m1 0h1m1 0h1m1 0h1m1 0h2m1 0h1m1 0h1m1 0h1m1 0h1m1 0h2m1 0h1m1 0h1m1 0h1m1 0h1m1 0h2m1 0h1m1 0h1m1 0h1m1 0h1m1 0h2m1 0h1m1 0h1m1 0h1m1 0h1M143 211.5h2m1 0h1m1 0h1m1 0h1m1 0h1m1 0h2m1 0h1m1 0h1m1 0h1m1 0h1m1 0h2m1 0h1m1 0h1m1 0h1m1 0h1m1 0h2m1 0h1m1 0h1m1 0h1m1 0h1m1 0h2m1 0h1m1 0h1m1 0h1m1 0h1m1 0h2m1 0h1m1 0h1m1 0h1m1 0h1M143 213.5h2m1 0h1m1 0h1m1 0h1m1 0h1m1 0h2m1 0h1m1 0h1m1 0h1m1 0h1m1 0h2m1 0h1m1 0h1m1 0h1m1 0h1m1 0h2m1 0h1m1 0h1m1 0h1m1 0h1m1 0h2m1 0h1m1 0h1m1 0h1m1 0h1m1 0h2m1 0h1m1 0h1m1 0h1m1 0h1M143 215.5h2m1 0h1m1 0h1m1 0h1m1 0h1m1 0h2m1 0h1m1 0h1m1 0h1m1 0h1m1 0h2m1 0h1m1 0h1m1 0h1m1 0h1m1 0h2m1 0h1m1 0h1m1 0h1m1 0h1m1 0h2m1 0h1m1 0h1m1 0h1m1 0h1m1 0h2m1 0h1m1 0h1m1 0h1m1 0h1M143 216.5h2m1 0h1m1 0h1m1 0h1m1 0h1m1 0h2m1 0h1m1 0h1m1 0h1m1 0h1m1 0h2m1 0h1m1 0h1m1 0h1m1 0h1m1 0h2m1 0h1m1 0h1m1 0h1m1 0h1m1 0h2m1 0h1m1 0h1m1 0h1m1 0h1m1 0h2m1 0h1m1 0h1m1 0h1m1 0h1M143 218.5h2m1 0h1m1 0h1m1 0h1m1 0h1m1 0h2m1 0h1m1 0h1m1 0h1m1 0h1m1 0h2m1 0h1m1 0h1m1 0h1m1 0h1m1 0h2m1 0h1m1 0h1m1 0h1m1 0h1m1 0h2m1 0h1m1 0h1m1 0h1m1 0h1m1 0h2m1 0h1m1 0h1m1 0h1m1 0h1M143 220.5h2m1 0h1m1 0h1m1 0h1m1 0h1m1 0h2m1 0h1m1 0h1m1 0h1m1 0h1m1 0h2m1 0h1m1 0h1m1 0h1m1 0h1m1 0h2m1 0h1m1 0h1m1 0h1m1 0h1m1 0h2m1 0h1m1 0h1m1 0h1m1 0h1m1 0h2m1 0h1m1 0h1m1 0h1m1 0h1M143 222.5h2m1 0h1m1 0h1m1 0h1m1 0h1m1 0h2m1 0h1m1 0h1m1 0h1m1 0h1m1 0h2m1 0h1m1 0h1m1 0h1m1 0h1m1 0h2m1 0h1m1 0h1m1 0h1m1 0h1m1 0h2m1 0h1m1 0h1m1 0h1m1 0h1m1 0h2m1 0h1m1 0h1m1 0h1m1 0h1M143 224.5h2m1 0h1m1 0h1m1 0h1m1 0h1m1 0h2m1 0h1m1 0h1m1 0h1m1 0h1m1 0h2m1 0h1m1 0h1m1 0h1m1 0h1m1 0h2m1 0h1m1 0h1m1 0h1m1 0h1m1 0h2m1 0h1m1 0h1m1 0h1m1 0h1m1 0h2m1 0h1m1 0h1m1 0h1m1 0h1M143 225.5h2m1 0h1m1 0h1m1 0h1m1 0h1m1 0h2m1 0h1m1 0h1m1 0h1m1 0h1m1 0h2m1 0h1m1 0h1m1 0h1m1 0h1m1 0h2m1 0h1m1 0h1m1 0h1m1 0h1m1 0h2m1 0h1m1 0h1m1 0h1m1 0h1m1 0h2m1 0h1m1 0h1m1 0h1m1 0h1M143 227.5h2m1 0h1m1 0h1m1 0h1m1 0h1m1 0h2m1 0h1m1 0h1m1 0h1m1 0h1m1 0h2m1 0h1m1 0h1m1 0h1m1 0h1m1 0h2m1 0h1m1 0h1m1 0h1m1 0h1m1 0h2m1 0h1m1 0h1m1 0h1m1 0h1m1 0h2m1 0h1m1 0h1m1 0h1m1 0h1M143 229.5h2m1 0h1m1 0h1m1 0h1m1 0h1m1 0h2m1 0h1m1 0h1m1 0h1m1 0h1m1 0h2m1 0h1m1 0h1m1 0h1m1 0h1m1 0h2m1 0h1m1 0h1m1 0h1m1 0h1m1 0h2m1 0h1m1 0h1m1 0h1m1 0h1m1 0h2m1 0h1m1 0h1m1 0h1m1 0h1M143 231.5h2m1 0h1m1 0h1m1 0h1m1 0h1m1 0h2m1 0h1m1 0h1m1 0h1m1 0h1m1 0h2m1 0h1m1 0h1m1 0h1m1 0h1m1 0h2m1 0h1m1 0h1m1 0h1m1 0h1m1 0h2m1 0h1m1 0h1m1 0h1m1 0h1m1 0h2m1 0h1m1 0h1m1 0h1m1 0h1M143 233.5h2m1 0h1m1 0h1m1 0h1m1 0h1m1 0h2m1 0h1m1 0h1m1 0h1m1 0h1m1 0h2m1 0h1m1 0h1m1 0h1m1 0h1m1 0h2m1 0h1m1 0h1m1 0h1m1 0h1m1 0h2m1 0h1m1 0h1m1 0h1m1 0h1m1 0h2m1 0h1m1 0h1m1 0h1m1 0h1M143 234.5h2m1 0h1m1 0h1m1 0h1m1 0h1m1 0h2m1 0h1m1 0h1m1 0h1m1 0h1m1 0h2m1 0h1m1 0h1m1 0h1m1 0h1m1 0h2m1 0h1m1 0h1m1 0h1m1 0h1m1 0h2m1 0h1m1 0h1m1 0h1m1 0h1m1 0h2m1 0h1m1 0h1m1 0h1m1 0h1M143 236.5h2m1 0h1m1 0h1m1 0h1m1 0h1m1 0h2m1 0h1m1 0h1m1 0h1m1 0h1m1 0h2m1 0h1m1 0h1m1 0h1m1 0h1m1 0h2m1 0h1m1 0h1m1 0h1m1 0h1m1 0h2m1 0h1m1 0h1m1 0h1m1 0h1m1 0h2m1 0h1m1 0h1m1 0h1m1 0h1M143 238.5h2m1 0h1m1 0h1m1 0h1m1 0h1m1 0h2m1 0h1m1 0h1m1 0h1m1 0h1m1 0h2m1 0h1m1 0h1m1 0h1m1 0h1m1 0h2m1 0h1m1 0h1m1 0h1m1 0h1m1 0h2m1 0h1m1 0h1m1 0h1m1 0h1m1 0h2m1 0h1m1 0h1m1 0h1m1 0h1M143 240.5h2m1 0h1m1 0h1m1 0h1m1 0h1m1 0h2m1 0h1m1 0h1m1 0h1m1 0h1m1 0h2m1 0h1m1 0h1m1 0h1m1 0h1m1 0h2m1 0h1m1 0h1m1 0h1m1 0h1m1 0h2m1 0h1m1 0h1m1 0h1m1 0h1m1 0h2m1 0h1m1 0h1m1 0h1m1 0h1M143 242.5h2m1 0h1m1 0h1m1 0h1m1 0h1m1 0h2m1 0h1m1 0h1m1 0h1m1 0h1m1 0h2m1 0h1m1 0h1m1 0h1m1 0h1m1 0h2m1 0h1m1 0h1m1 0h1m1 0h1m1 0h2m1 0h1m1 0h1m1 0h1m1 0h1m1 0h2m1 0h1m1 0h1m1 0h1m1 0h1M143 243.5h2m1 0h1m1 0h1m1 0h1m1 0h1m1 0h2m1 0h1m1 0h1m1 0h1m1 0h1m1 0h2m1 0h1m1 0h1m1 0h1m1 0h1m1 0h2m1 0h1m1 0h1m1 0h1m1 0h1m1 0h2m1 0h1m1 0h1m1 0h1m1 0h1m1 0h2m1 0h1m1 0h1m1 0h1m1 0h1M143 245.5h2m1 0h1m1 0h1m1 0h1m1 0h1m1 0h2m1 0h1m1 0h1m1 0h1m1 0h1m1 0h2m1 0h1m1 0h1m1 0h1m1 0h1m1 0h2m1 0h1m1 0h1m1 0h1m1 0h1m1 0h2m1 0h1m1 0h1m1 0h1m1 0h1m1 0h2m1 0h1m1 0h1m1 0h1m1 0h1M143 247.5h2m1 0h1m1 0h1m1 0h1m1 0h1m1 0h2m1 0h1m1 0h1m1 0h1m1 0h1m1 0h2m1 0h1m1 0h1m1 0h1m1 0h1m1 0h2m1 0h1m1 0h1m1 0h1m1 0h1m1 0h2m1 0h1m1 0h1m1 0h1m1 0h1m1 0h2m1 0h1m1 0h1m1 0h1m1 0h1M143 249.5h2m1 0h1m1 0h1m1 0h1m1 0h1m1 0h2m1 0h1m1 0h1m1 0h1m1 0h1m1 0h2m1 0h1m1 0h1m1 0h1m1 0h1m1 0h2m1 0h1m1 0h1m1 0h1m1 0h1m1 0h2m1 0h1m1 0h1m1 0h1m1 0h1m1 0h2m1 0h1m1 0h1m1 0h1m1 0h1M143 251.5h2m1 0h1m1 0h1m1 0h1m47 0h2m1 0h1m1 0h1m1 0h1m1 0h1M143 252.5h2m1 0h1m1 0h1m1 0h1m47 0h2m1 0h1m1 0h1m1 0h1m1 0h1M143 254.5h2m1 0h1m1 0h1m1 0h1m47 0h2m1 0h1m1 0h1m1 0h1m1 0h1M143 256.5h2m1 0h1m1 0h1m1 0h1m47 0h2m1 0h1m1 0h1m1 0h1m1 0h1M143 258.5h2m1 0h1m1 0h1m1 0h1m1 0h1m1 0h2m1 0h1m1 0h1m1 0h1m1 0h1m1 0h2m1 0h1m1 0h1m1 0h1m1 0h1m1 0h2m1 0h1m1 0h1m1 0h1m1 0h1m1 0h2m1 0h1m1 0h1m1 0h1m1 0h1m1 0h2m1 0h1m1 0h1m1 0h1m1 0h1M143 260.5h2m1 0h1m1 0h1m1 0h1m1 0h1m1 0h2m1 0h1m1 0h1m1 0h1m1 0h1m1 0h2m1 0h1m1 0h1m1 0h1m1 0h1m1 0h2m1 0h1m1 0h1m1 0h1m1 0h1m1 0h2m1 0h1m1 0h1m1 0h1m1 0h1m1 0h2m1 0h1m1 0h1m1 0h1m1 0h1M143 261.5h2m1 0h1m1 0h1m1 0h1m1 0h1m1 0h2m1 0h1m1 0h1m1 0h1m1 0h1m1 0h2m1 0h1m1 0h1m1 0h1m1 0h1M143 263.5h2m1 0h1m1 0h1m1 0h1m1 0h1m1 0h2m1 0h1m1 0h1m1 0h1m1 0h1m1 0h2m1 0h1m1 0h1m1 0h1m1 0h1M143 265.5h2m1 0h1m1 0h1m1 0h1m1 0h1m1 0h2m1 0h1m1 0h1m1 0h1m1 0h1m1 0h2m1 0h1m1 0h1m1 0h1m1 0h1M143 267.5h2m1 0h1m1 0h1m1 0h1m1 0h1m1 0h2m1 0h1m1 0h1m1 0h1m1 0h1m1 0h2m1 0h1m1 0h1m1 0h1m1 0h1M143 269.5h2m1 0h1m1 0h1m1 0h1m1 0h1m1 0h2m1 0h1m1 0h1m1 0h1m1 0h1m1 0h2m1 0h1m1 0h1m1 0h1m1 0h1M143 411.5h2m1 0h1m1 0h1m1 0h1m1 0h1m1 0h2m1 0h1m1 0h1m1 0h1m1 0h1m1 0h2m1 0h1m1 0h1m1 0h1m1 0h1M143 413.5h2m1 0h1m1 0h1m1 0h1m1 0h1m1 0h2m1 0h1m1 0h1m1 0h1m1 0h1m1 0h2m1 0h1m1 0h1m1 0h1m1 0h1M143 414.5h2m1 0h1m1 0h1m1 0h1m1 0h1m1 0h2m1 0h1m1 0h1m1 0h1m1 0h1m1 0h2m1 0h1m1 0h1m1 0h1m1 0h1M143 416.5h2m1 0h1m1 0h1m1 0h1m1 0h1m1 0h2m1 0h1m1 0h1m1 0h1m1 0h1m1 0h2m1 0h1m1 0h1m1 0h1m1 0h1M143 418.5h2m1 0h1m1 0h1m1 0h1m1 0h1m1 0h2m1 0h1m1 0h1m1 0h1m1 0h1m1 0h2m1 0h1m1 0h1m1 0h1m1 0h1M143 420.5h2m1 0h1m1 0h1m1 0h1m1 0h1m1 0h2m1 0h1m1 0h1m1 0h1m1 0h1m1 0h2m1 0h1m1 0h1m1 0h1m1 0h1m1 0h2m1 0h1m1 0h1m1 0h1m1 0h1m1 0h2m1 0h1m1 0h1m1 0h1m1 0h1m1 0h2m1 0h1m1 0h1m1 0h1m1 0h1M143 422.5h2m1 0h1m1 0h1m1 0h1m1 0h1m1 0h2m1 0h1m1 0h1m1 0h1m1 0h1m1 0h2m1 0h1m1 0h1m1 0h1m1 0h1m1 0h2m1 0h1m1 0h1m1 0h1m1 0h1m1 0h2m1 0h1m1 0h1m1 0h1m1 0h1m1 0h2m1 0h1m1 0h1m1 0h1m1 0h1M143 423.5h2m1 0h1m1 0h1m1 0h1m1 0h1m1 0h2m1 0h1m1 0h1m1 0h1m1 0h1m1 0h2m1 0h1m1 0h1m1 0h1m1 0h1m1 0h2m1 0h1m1 0h1m1 0h1m1 0h1m1 0h2m1 0h1m1 0h1m1 0h1m1 0h1m1 0h2m1 0h1m1 0h1m1 0h1m1 0h1M143 425.5h2m1 0h1m1 0h1m1 0h1m1 0h1m1 0h2m1 0h1m1 0h1m1 0h1m1 0h1m1 0h2m1 0h1m1 0h1m1 0h1m1 0h1m1 0h2m1 0h1m1 0h1m1 0h1m1 0h1m1 0h2m1 0h1m1 0h1m1 0h1m1 0h1m1 0h2m1 0h1m1 0h1m1 0h1m1 0h1M143 427.5h2m1 0h1m1 0h1m1 0h1m1 0h1m1 0h2m1 0h1m1 0h1m1 0h1m1 0h1m1 0h2m1 0h1m1 0h1m1 0h1m1 0h1m1 0h2m1 0h1m1 0h1m1 0h1m1 0h1m1 0h2m1 0h1m1 0h1m1 0h1m1 0h1m1 0h2m1 0h1m1 0h1m1 0h1m1 0h1M143 429.5h2m1 0h1m1 0h1m1 0h1m47 0h2m1 0h1m1 0h1m1 0h1m1 0h1M143 431.5h2m1 0h1m1 0h1m1 0h1m47 0h2m1 0h1m1 0h1m1 0h1m1 0h1M143 432.5h2m1 0h1m1 0h1m1 0h1m47 0h2m1 0h1m1 0h1m1 0h1m1 0h1M143 434.5h2m1 0h1m1 0h1m1 0h1m1 0h1m1 0h2m1 0h1m1 0h1m1 0h1m1 0h1m1 0h2m1 0h1m1 0h1m1 0h1m1 0h1m1 0h2m1 0h1m1 0h1m1 0h1m1 0h1m1 0h2m1 0h1m1 0h1m1 0h1m1 0h1m1 0h2m1 0h1m1 0h1m1 0h1m1 0h1M143 436.5h2m1 0h1m1 0h1m1 0h1m1 0h1m1 0h2m1 0h1m1 0h1m1 0h1m1 0h1m1 0h2m1 0h1m1 0h1m1 0h1m1 0h1m1 0h2m1 0h1m1 0h1m1 0h1m1 0h1m1 0h2m1 0h1m1 0h1m1 0h1m1 0h1m1 0h2m1 0h1m1 0h1m1 0h1m1 0h1M143 438.5h2m1 0h1m1 0h1m1 0h1m1 0h1m1 0h2m1 0h1m1 0h1m1 0h1m1 0h1m1 0h2m1 0h1m1 0h1m1 0h1m1 0h1m1 0h2m1 0h1m1 0h1m1 0h1m1 0h1m1 0h2m1 0h1m1 0h1m1 0h1m1 0h1m1 0h2m1 0h1m1 0h1m1 0h1m1 0h1M143 440.5h2m1 0h1m1 0h1m1 0h1m1 0h1m1 0h2m1 0h1m1 0h1m1 0h1m1 0h1m1 0h2m1 0h1m1 0h1m1 0h1m1 0h1m1 0h2m1 0h1m1 0h1m1 0h1m1 0h1m1 0h2m1 0h1m1 0h1m1 0h1m1 0h1m1 0h2m1 0h1m1 0h1m1 0h1m1 0h1M143 441.5h2m1 0h1m1 0h1m1 0h1m1 0h1m1 0h2m1 0h1m1 0h1m1 0h1m1 0h1m1 0h2m1 0h1m1 0h1m1 0h1m1 0h1m1 0h2m1 0h1m1 0h1m1 0h1m1 0h1m1 0h2m1 0h1m1 0h1m1 0h1m1 0h1m1 0h2m1 0h1m1 0h1m1 0h1m1 0h1M143 443.5h2m1 0h1m1 0h1m1 0h1m1 0h1m1 0h2m1 0h1m1 0h1m1 0h1m1 0h1m1 0h2m1 0h1m1 0h1m1 0h1m1 0h1m1 0h2m1 0h1m1 0h1m1 0h1m1 0h1m1 0h2m1 0h1m1 0h1m1 0h1m1 0h1m1 0h2m1 0h1m1 0h1m1 0h1m1 0h1M143 445.5h2m1 0h1m1 0h1m1 0h1m1 0h1m1 0h2m1 0h1m1 0h1m1 0h1m1 0h1m1 0h2m1 0h1m1 0h1m1 0h1m1 0h1m1 0h2m1 0h1m1 0h1m1 0h1m1 0h1m1 0h2m1 0h1m1 0h1m1 0h1m1 0h1m1 0h2m1 0h1m1 0h1m1 0h1m1 0h1M143 447.5h2m1 0h1m1 0h1m1 0h1m1 0h1m1 0h2m1 0h1m1 0h1m1 0h1m1 0h1m1 0h2m1 0h1m1 0h1m1 0h1m1 0h1m1 0h2m1 0h1m1 0h1m1 0h1m1 0h1m1 0h2m1 0h1m1 0h1m1 0h1m1 0h1m1 0h2m1 0h1m1 0h1m1 0h1m1 0h1M143 449.5h2m1 0h1m1 0h1m1 0h1m1 0h1m1 0h2m1 0h1m1 0h1m1 0h1m1 0h1m1 0h2m1 0h1m1 0h1m1 0h1m1 0h1m1 0h2m1 0h1m1 0h1m1 0h1m1 0h1m1 0h2m1 0h1m1 0h1m1 0h1m1 0h1m1 0h2m1 0h1m1 0h1m1 0h1m1 0h1M143 450.5h2m1 0h1m1 0h1m1 0h1m1 0h1m1 0h2m1 0h1m1 0h1m1 0h1m1 0h1m1 0h2m1 0h1m1 0h1m1 0h1m1 0h1m1 0h2m1 0h1m1 0h1m1 0h1m1 0h1m1 0h2m1 0h1m1 0h1m1 0h1m1 0h1m1 0h2m1 0h1m1 0h1m1 0h1m1 0h1M143 452.5h2m1 0h1m1 0h1m1 0h1m1 0h1m1 0h2m1 0h1m1 0h1m1 0h1m1 0h1m1 0h2m1 0h1m1 0h1m1 0h1m1 0h1m1 0h2m1 0h1m1 0h1m1 0h1m1 0h1m1 0h2m1 0h1m1 0h1m1 0h1m1 0h1m1 0h2m1 0h1m1 0h1m1 0h1m1 0h1M143 454.5h2m1 0h1m1 0h1m1 0h1m1 0h1m1 0h2m1 0h1m1 0h1m1 0h1m1 0h1m1 0h2m1 0h1m1 0h1m1 0h1m1 0h1m1 0h2m1 0h1m1 0h1m1 0h1m1 0h1m1 0h2m1 0h1m1 0h1m1 0h1m1 0h1m1 0h2m1 0h1m1 0h1m1 0h1m1 0h1M143 456.5h2m1 0h1m1 0h1m1 0h1m1 0h1m1 0h2m1 0h1m1 0h1m1 0h1m1 0h1m1 0h2m1 0h1m1 0h1m1 0h1m1 0h1m1 0h2m1 0h1m1 0h1m1 0h1m1 0h1m1 0h2m1 0h1m1 0h1m1 0h1m1 0h1m1 0h2m1 0h1m1 0h1m1 0h1m1 0h1M143 458.5h2m1 0h1m1 0h1m1 0h1m1 0h1m1 0h2m1 0h1m1 0h1m1 0h1m1 0h1m1 0h2m1 0h1m1 0h1m1 0h1m1 0h1m1 0h2m1 0h1m1 0h1m1 0h1m1 0h1m1 0h2m1 0h1m1 0h1m1 0h1m1 0h1m1 0h2m1 0h1m1 0h1m1 0h1m1 0h1M143 459.5h2m1 0h1m1 0h1m1 0h1m1 0h1m1 0h2m1 0h1m1 0h1m1 0h1m1 0h1m1 0h2m1 0h1m1 0h1m1 0h1m1 0h1m1 0h2m1 0h1m1 0h1m1 0h1m1 0h1m1 0h2m1 0h1m1 0h1m1 0h1m1 0h1m1 0h2m1 0h1m1 0h1m1 0h1m1 0h1M143 461.5h2m1 0h1m1 0h1m1 0h1m1 0h1m1 0h2m1 0h1m1 0h1m1 0h1m1 0h1m1 0h2m1 0h1m1 0h1m1 0h1m1 0h1m1 0h2m1 0h1m1 0h1m1 0h1m1 0h1m1 0h2m1 0h1m1 0h1m1 0h1m1 0h1m1 0h2m1 0h1m1 0h1m1 0h1m1 0h1M143 463.5h2m1 0h1m1 0h1m1 0h1m1 0h1m1 0h2m1 0h1m1 0h1m1 0h1m1 0h1m1 0h2m1 0h1m1 0h1m1 0h1m1 0h1m1 0h2m1 0h1m1 0h1m1 0h1m1 0h1m1 0h2m1 0h1m1 0h1m1 0h1m1 0h1m1 0h2m1 0h1m1 0h1m1 0h1m1 0h1M143 465.5h2m1 0h1m1 0h1m1 0h1m1 0h1m1 0h2m1 0h1m1 0h1m1 0h1m1 0h1m1 0h2m1 0h1m1 0h1m1 0h1m1 0h1m1 0h2m1 0h1m1 0h1m1 0h1m1 0h1m1 0h2m1 0h1m1 0h1m1 0h1m1 0h1m1 0h2m1 0h1m1 0h1m1 0h1m1 0h1M143 467.5h2m1 0h1m1 0h1m1 0h1m1 0h1m1 0h2m1 0h1m1 0h1m1 0h1m1 0h1m1 0h2m1 0h1m1 0h1m1 0h1m1 0h1m1 0h2m1 0h1m1 0h1m1 0h1m1 0h1m1 0h2m1 0h1m1 0h1m1 0h1m1 0h1m1 0h2m1 0h1m1 0h1m1 0h1m1 0h1M143 468.5h2m1 0h1m1 0h1m1 0h1m1 0h1m1 0h2m1 0h1m1 0h1m1 0h1m1 0h1m1 0h2m1 0h1m1 0h1m1 0h1m1 0h1m1 0h2m1 0h1m1 0h1m1 0h1m1 0h1m1 0h2m1 0h1m1 0h1m1 0h1m1 0h1m1 0h2m1 0h1m1 0h1m1 0h1m1 0h1M143 470.5h2m1 0h1m1 0h1m1 0h1m1 0h1m1 0h2m1 0h1m1 0h1m1 0h1m1 0h1m1 0h2m1 0h1m1 0h1m1 0h1m1 0h1m1 0h2m1 0h1m1 0h1m1 0h1m1 0h1m1 0h2m1 0h1m1 0h1m1 0h1m1 0h1m1 0h2m1 0h1m1 0h1m1 0h1m1 0h1M143 474.5h2m1 0h1m1 0h1m1 0h1m1 0h1m1 0h2m1 0h1m1 0h1m1 0h1m1 0h1m1 0h2m1 0h1m1 0h1m1 0h1m1 0h1m1 0h2m1 0h1m1 0h1m1 0h1m1 0h1m1 0h2m1 0h1m1 0h1m1 0h1m1 0h1m1 0h2m1 0h1m1 0h1m1 0h1m1 0h1M143 476.5h2m1 0h1m1 0h1m1 0h1m1 0h1m1 0h2m1 0h1m1 0h1m1 0h1m1 0h1m1 0h2m1 0h1m1 0h1m1 0h1m1 0h1m1 0h2m1 0h1m1 0h1m1 0h1m1 0h1m1 0h2m1 0h1m1 0h1m1 0h1m1 0h1m1 0h2m1 0h1m1 0h1m1 0h1m1 0h1M143 477.5h2m1 0h1m1 0h1m1 0h1m1 0h1m1 0h2m1 0h1m1 0h1m1 0h1m1 0h1m1 0h2m1 0h1m1 0h1m1 0h1m1 0h1m1 0h2m1 0h1m1 0h1m1 0h1m1 0h1m1 0h2m1 0h1m1 0h1m1 0h1m1 0h1m1 0h2m1 0h1m1 0h1m1 0h1m1 0h1M143 479.5h2m1 0h1m1 0h1m1 0h1m1 0h1m1 0h2m1 0h1m1 0h1m1 0h1m1 0h1m1 0h2m1 0h1m1 0h1m1 0h1m1 0h1m1 0h2m1 0h1m1 0h1m1 0h1m1 0h1m1 0h2m1 0h1m1 0h1m1 0h1m1 0h1m1 0h2m1 0h1m1 0h1m1 0h1m1 0h1M143 481.5h2m1 0h1m1 0h1m1 0h1m1 0h1m1 0h2m1 0h1m1 0h1m1 0h1m1 0h1m1 0h2m1 0h1m1 0h1m1 0h1m1 0h1m1 0h2m1 0h1m1 0h1m1 0h1m1 0h1m1 0h2m1 0h1m1 0h1m1 0h1m1 0h1m1 0h2m1 0h1m1 0h1m1 0h1m1 0h1M143 483.5h2m1 0h1m1 0h1m1 0h1m1 0h1m1 0h2m1 0h1m1 0h1m1 0h1m1 0h1m1 0h2m1 0h1m1 0h1m1 0h1m1 0h1m1 0h2m1 0h1m1 0h1m1 0h1m1 0h1m1 0h2m1 0h1m1 0h1m1 0h1m1 0h1m1 0h2m1 0h1m1 0h1m1 0h1m1 0h1M143 485.5h2m1 0h1m1 0h1m1 0h1m1 0h1m1 0h2m1 0h1m1 0h1m1 0h1m1 0h1m1 0h2m1 0h1m1 0h1m1 0h1m1 0h1m1 0h2m1 0h1m1 0h1m1 0h1m1 0h1m1 0h2m1 0h1m1 0h1m1 0h1m1 0h1m1 0h2m1 0h1m1 0h1m1 0h1m1 0h1M143 486.5h2m1 0h1m1 0h1m1 0h1m1 0h1m1 0h2m1 0h1m1 0h1m1 0h1m1 0h1m1 0h2m1 0h1m1 0h1m1 0h1m1 0h1m1 0h2m1 0h1m1 0h1m1 0h1m1 0h1m1 0h2m1 0h1m1 0h1m1 0h1m1 0h1m1 0h2m1 0h1m1 0h1m1 0h1m1 0h1M143 488.5h2m1 0h1m1 0h1m1 0h1m1 0h1m1 0h2m1 0h1m1 0h1m1 0h1m1 0h1m1 0h2m1 0h1m1 0h1m1 0h1m1 0h1m1 0h2m1 0h1m1 0h1m1 0h1m1 0h1m1 0h2m1 0h1m1 0h1m1 0h1m1 0h1m1 0h2m1 0h1m1 0h1m1 0h1m1 0h1M143 490.5h2m1 0h1m1 0h1m1 0h1m1 0h1m1 0h2m1 0h1m1 0h1m1 0h1m1 0h1m1 0h2m1 0h1m1 0h1m1 0h1m1 0h1m1 0h2m1 0h1m1 0h1m1 0h1m1 0h1m1 0h2m1 0h1m1 0h1m1 0h1m1 0h1m1 0h2m1 0h1m1 0h1m1 0h1m1 0h1M143 492.5h2m1 0h1m1 0h1m1 0h1m1 0h1m1 0h2m1 0h1m1 0h1m1 0h1m1 0h1m1 0h2m1 0h1m1 0h1m1 0h1m1 0h1m1 0h2m1 0h1m1 0h1m1 0h1m1 0h1m1 0h2m1 0h1m1 0h1m1 0h1m1 0h1m1 0h2m1 0h1m1 0h1m1 0h1m1 0h1M143 494.5h2m1 0h1m1 0h1m1 0h1m1 0h1m1 0h2m1 0h1m1 0h1m1 0h1m1 0h1m1 0h2m1 0h1m1 0h1m1 0h1m1 0h1m1 0h2m1 0h1m1 0h1m1 0h1m1 0h1m1 0h2m1 0h1m1 0h1m1 0h1m1 0h1m1 0h2m1 0h1m1 0h1m1 0h1m1 0h1M143 495.5h2m1 0h1m1 0h1m1 0h1m1 0h1m1 0h2m1 0h1m1 0h1m1 0h1m1 0h1m1 0h2m1 0h1m1 0h1m1 0h1m1 0h1m1 0h2m1 0h1m1 0h1m1 0h1m1 0h1m1 0h2m1 0h1m1 0h1m1 0h1m1 0h1m1 0h2m1 0h1m1 0h1m1 0h1m1 0h1M143 497.5h2m1 0h1m1 0h1m1 0h1m1 0h1m1 0h2m1 0h1m1 0h1m1 0h1m1 0h1m1 0h2m1 0h1m1 0h1m1 0h1m1 0h1m1 0h2m1 0h1m1 0h1m1 0h1m1 0h1m1 0h2m1 0h1m1 0h1m1 0h1m1 0h1m1 0h2m1 0h1m1 0h1m1 0h1m1 0h1M143 499.5h2m1 0h1m1 0h1m1 0h1m1 0h1m1 0h2m1 0h1m1 0h1m1 0h1m1 0h1m1 0h2m1 0h1m1 0h1m1 0h1m1 0h1m1 0h2m1 0h1m1 0h1m1 0h1m1 0h1m1 0h2m1 0h1m1 0h1m1 0h1m1 0h1m1 0h2m1 0h1m1 0h1m1 0h1m1 0h1M143 501.5h2m1 0h1m1 0h1m1 0h1m1 0h1m1 0h2m1 0h1m1 0h1m1 0h1m1 0h1m1 0h2m1 0h1m1 0h1m1 0h1m1 0h1m1 0h2m1 0h1m1 0h1m1 0h1m1 0h1m1 0h2m1 0h1m1 0h1m1 0h1m1 0h1m1 0h2m1 0h1m1 0h1m1 0h1m1 0h1M143 503.5h2m1 0h1m1 0h1m1 0h1m1 0h1m1 0h2m1 0h1m1 0h1m1 0h1m1 0h1m1 0h2m1 0h1m1 0h1m1 0h1m1 0h1m1 0h2m1 0h1m1 0h1m1 0h1m1 0h1m1 0h2m1 0h1m1 0h1m1 0h1m1 0h1m1 0h2m1 0h1m1 0h1m1 0h1m1 0h1M143 504.5h2m1 0h1m1 0h1m1 0h1m1 0h1m1 0h2m1 0h1m1 0h1m1 0h1m1 0h1m1 0h2m1 0h1m1 0h1m1 0h1m1 0h1m1 0h2m1 0h1m1 0h1m1 0h1m1 0h1m1 0h2m1 0h1m1 0h1m1 0h1m1 0h1m1 0h2m1 0h1m1 0h1m1 0h1m1 0h1M143 506.5h2m1 0h1m1 0h1m1 0h1m1 0h1m1 0h2m1 0h1m1 0h1m1 0h1m1 0h1m1 0h2m1 0h1m1 0h1m1 0h1m1 0h1m1 0h2m1 0h1m1 0h1m1 0h1m1 0h1m1 0h2m1 0h1m1 0h1m1 0h1m1 0h1m1 0h2m1 0h1m1 0h1m1 0h1m1 0h1M143 508.5h2m1 0h1m1 0h1m1 0h1m47 0h2m1 0h1m1 0h1m1 0h1m1 0h1M143 510.5h2m1 0h1m1 0h1m1 0h1m47 0h2m1 0h1m1 0h1m1 0h1m1 0h1M143 512.5h2m1 0h1m1 0h1m1 0h1m47 0h2m1 0h1m1 0h1m1 0h1m1 0h1M143 513.5h2m1 0h1m1 0h1m1 0h1m47 0h2m1 0h1m1 0h1m1 0h1m1 0h1M143 515.5h2m1 0h1m1 0h1m1 0h1m1 0h1m1 0h2m1 0h1m1 0h1m1 0h1m1 0h1m1 0h2m1 0h1m1 0h1m1 0h1m1 0h1m1 0h2m1 0h1m1 0h1m1 0h1m1 0h1m1 0h2m1 0h1m1 0h1m1 0h1m1 0h1m1 0h2m1 0h1m1 0h1m1 0h1m1 0h1M143 517.5h2m1 0h1m1 0h1m1 0h1m1 0h1m1 0h2m1 0h1m1 0h1m1 0h1m1 0h1m1 0h2m1 0h1m1 0h1m1 0h1m1 0h1m1 0h2m1 0h1m1 0h1m1 0h1m1 0h1m1 0h2m1 0h1m1 0h1m1 0h1m1 0h1m1 0h2m1 0h1m1 0h1m1 0h1m1 0h1M143 519.5h2m1 0h1m1 0h1m1 0h1m1 0h1m1 0h2m1 0h1m1 0h1m1 0h1m1 0h1m1 0h2m1 0h1m1 0h1m1 0h1m1 0h1m1 0h2m1 0h1m1 0h1m1 0h1m1 0h1m1 0h2m1 0h1m1 0h1m1 0h1m1 0h1m1 0h2m1 0h1m1 0h1m1 0h1m1 0h1M143 521.5h2m1 0h1m1 0h1m1 0h1m1 0h1m1 0h2m1 0h1m1 0h1m1 0h1m1 0h1m1 0h2m1 0h1m1 0h1m1 0h1m1 0h1m1 0h2m1 0h1m1 0h1m1 0h1m1 0h1m1 0h2m1 0h1m1 0h1m1 0h1m1 0h1m1 0h2m1 0h1m1 0h1m1 0h1m1 0h1M143 522.5h2m1 0h1m1 0h1m1 0h1m1 0h1m1 0h2m1 0h1m1 0h1m1 0h1m1 0h1m1 0h2m1 0h1m1 0h1m1 0h1m1 0h1m1 0h2m1 0h1m1 0h1m1 0h1m1 0h1m1 0h2m1 0h1m1 0h1m1 0h1m1 0h1m1 0h2m1 0h1m1 0h1m1 0h1m1 0h1M143 524.5h2m1 0h1m1 0h1m1 0h1m1 0h1m1 0h2m1 0h1m1 0h1m1 0h1m1 0h1m1 0h2m1 0h1m1 0h1m1 0h1m1 0h1M143 526.5h2m1 0h1m1 0h1m1 0h1m1 0h1m1 0h2m1 0h1m1 0h1m1 0h1m1 0h1m1 0h2m1 0h1m1 0h1m1 0h1m1 0h1M143 528.5h2m1 0h1m1 0h1m1 0h1m1 0h1m1 0h2m1 0h1m1 0h1m1 0h1m1 0h1m1 0h2m1 0h1m1 0h1m1 0h1m1 0h1M143 530.5h2m1 0h1m1 0h1m1 0h1m1 0h1m1 0h2m1 0h1m1 0h1m1 0h1m1 0h1m1 0h2m1 0h1m1 0h1m1 0h1m1 0h1M143 531.5h2m1 0h1m1 0h1m1 0h1m1 0h1m1 0h2m1 0h1m1 0h1m1 0h1m1 0h1m1 0h2m1 0h1m1 0h1m1 0h1m1 0h1M143 539.5h2m1 0h1m1 0h1m1 0h1m1 0h1m1 0h2m1 0h1m1 0h1m1 0h1m1 0h1m1 0h2m1 0h1m1 0h1m1 0h1m1 0h1M143 540.5h2m1 0h1m1 0h1m1 0h1m1 0h1m1 0h2m1 0h1m1 0h1m1 0h1m1 0h1m1 0h2m1 0h1m1 0h1m1 0h1m1 0h1M143 542.5h2m1 0h1m1 0h1m1 0h1m1 0h1m1 0h2m1 0h1m1 0h1m1 0h1m1 0h1m1 0h2m1 0h1m1 0h1m1 0h1m1 0h1M143 544.5h2m1 0h1m1 0h1m1 0h1m1 0h1m1 0h2m1 0h1m1 0h1m1 0h1m1 0h1m1 0h2m1 0h1m1 0h1m1 0h1m1 0h1M143 546.5h2m1 0h1m1 0h1m1 0h1m1 0h1m1 0h2m1 0h1m1 0h1m1 0h1m1 0h1m1 0h2m1 0h1m1 0h1m1 0h1m1 0h1M143 548.5h2m1 0h1m1 0h1m1 0h1m1 0h1m1 0h2m1 0h1m1 0h1m1 0h1m1 0h1m1 0h2m1 0h1m1 0h1m1 0h1m1 0h1m1 0h2m1 0h1m1 0h1m1 0h1m1 0h1m1 0h2m1 0h1m1 0h1m1 0h1m1 0h1m1 0h2m1 0h1m1 0h1m1 0h1m1 0h1M143 549.5h2m1 0h1m1 0h1m1 0h1m1 0h1m1 0h2m1 0h1m1 0h1m1 0h1m1 0h1m1 0h2m1 0h1m1 0h1m1 0h1m1 0h1m1 0h2m1 0h1m1 0h1m1 0h1m1 0h1m1 0h2m1 0h1m1 0h1m1 0h1m1 0h1m1 0h2m1 0h1m1 0h1m1 0h1m1 0h1M143 551.5h2m1 0h1m1 0h1m1 0h1m1 0h1m1 0h2m1 0h1m1 0h1m1 0h1m1 0h1m1 0h2m1 0h1m1 0h1m1 0h1m1 0h1m1 0h2m1 0h1m1 0h1m1 0h1m1 0h1m1 0h2m1 0h1m1 0h1m1 0h1m1 0h1m1 0h2m1 0h1m1 0h1m1 0h1m1 0h1M143 553.5h2m1 0h1m1 0h1m1 0h1m1 0h1m1 0h2m1 0h1m1 0h1m1 0h1m1 0h1m1 0h2m1 0h1m1 0h1m1 0h1m1 0h1m1 0h2m1 0h1m1 0h1m1 0h1m1 0h1m1 0h2m1 0h1m1 0h1m1 0h1m1 0h1m1 0h2m1 0h1m1 0h1m1 0h1m1 0h1M143 555.5h2m1 0h1m1 0h1m1 0h1m1 0h1m1 0h2m1 0h1m1 0h1m1 0h1m1 0h1m1 0h2m1 0h1m1 0h1m1 0h1m1 0h1m1 0h2m1 0h1m1 0h1m1 0h1m1 0h1m1 0h2m1 0h1m1 0h1m1 0h1m1 0h1m1 0h2m1 0h1m1 0h1m1 0h1m1 0h1M143 557.5h2m1 0h1m1 0h1m1 0h1m1 0h1m1 0h2m1 0h1m1 0h1m1 0h1m1 0h1m1 0h2m1 0h1m1 0h1m1 0h1m1 0h1m1 0h2m1 0h1m1 0h1m1 0h1m1 0h1m1 0h2m1 0h1m1 0h1m1 0h1m1 0h1m1 0h2m1 0h1m1 0h1m1 0h1m1 0h1M143 558.5h2m1 0h1m1 0h1m1 0h1m1 0h1m1 0h2m1 0h1m1 0h1m1 0h1m1 0h1m1 0h2m1 0h1m1 0h1m1 0h1m1 0h1m1 0h2m1 0h1m1 0h1m1 0h1m1 0h1m1 0h2m1 0h1m1 0h1m1 0h1m1 0h1m1 0h2m1 0h1m1 0h1m1 0h1m1 0h1M143 560.5h2m1 0h1m1 0h1m1 0h1m1 0h1m1 0h2m1 0h1m1 0h1m1 0h1M143 562.5h2m1 0h1m1 0h1m1 0h1m1 0h1m1 0h2m1 0h1m1 0h1m1 0h1M143 564.5h2m1 0h1m1 0h1m1 0h1m1 0h1m1 0h2m1 0h1m1 0h1m1 0h1M143 566.5h2m1 0h1m1 0h1m1 0h1m1 0h1m1 0h2m1 0h1m1 0h1m1 0h1m1 0h1m1 0h2m1 0h1m1 0h1m1 0h1m1 0h1m1 0h2m1 0h1m1 0h1m1 0h1m1 0h1m1 0h2m1 0h1m1 0h1m1 0h1m1 0h1m1 0h2m1 0h1m1 0h1m1 0h1m1 0h1M143 567.5h2m1 0h1m1 0h1m1 0h1m1 0h1m1 0h2m1 0h1m1 0h1m1 0h1m1 0h1m1 0h2m1 0h1m1 0h1m1 0h1m1 0h1m1 0h2m1 0h1m1 0h1m1 0h1m1 0h1m1 0h2m1 0h1m1 0h1m1 0h1m1 0h1m1 0h2m1 0h1m1 0h1m1 0h1m1 0h1M143 569.5h2m1 0h1m1 0h1m1 0h1m1 0h1m1 0h2m1 0h1m1 0h1m1 0h1m1 0h1m1 0h2m1 0h1m1 0h1m1 0h1m1 0h1m1 0h2m1 0h1m1 0h1m1 0h1m1 0h1m1 0h2m1 0h1m1 0h1m1 0h1m1 0h1m1 0h2m1 0h1m1 0h1m1 0h1m1 0h1M143 571.5h2m1 0h1m1 0h1m1 0h1m1 0h1m1 0h2m1 0h1m1 0h1m1 0h1m1 0h1m1 0h2m1 0h1m1 0h1m1 0h1m1 0h1m1 0h2m1 0h1m1 0h1m1 0h1m1 0h1m1 0h2m1 0h1m1 0h1m1 0h1m1 0h1m1 0h2m1 0h1m1 0h1m1 0h1m1 0h1M143 573.5h2m1 0h1m1 0h1m1 0h1m1 0h1m1 0h2m1 0h1m1 0h1m1 0h1m1 0h1m1 0h2m1 0h1m1 0h1m1 0h1m1 0h1m1 0h2m1 0h1m1 0h1m1 0h1m1 0h1m1 0h2m1 0h1m1 0h1m1 0h1m1 0h1m1 0h2m1 0h1m1 0h1m1 0h1m1 0h1M143 575.5h2m1 0h1m1 0h1m1 0h1m1 0h1m1 0h2m1 0h1m1 0h1m1 0h1m1 0h1m1 0h2m1 0h1m1 0h1m1 0h1m1 0h1m1 0h2m1 0h1m1 0h1m1 0h1m1 0h1m1 0h2m1 0h1m1 0h1m1 0h1m1 0h1m1 0h2m1 0h1m1 0h1m1 0h1m1 0h1M143 576.5h2m1 0h1m1 0h1m1 0h1m1 0h1m1 0h2m1 0h1m1 0h1m1 0h1m1 0h1m1 0h2m1 0h1m1 0h1m1 0h1m1 0h1m1 0h2m1 0h1m1 0h1m1 0h1m1 0h1m1 0h2m1 0h1m1 0h1m1 0h1m1 0h1m1 0h2m1 0h1m1 0h1m1 0h1m1 0h1M143 578.5h2m1 0h1m1 0h1m1 0h1m1 0h1m1 0h2m1 0h1m1 0h1m1 0h1m1 0h1m1 0h2m1 0h1m1 0h1m1 0h1m1 0h1m1 0h2m1 0h1m1 0h1m1 0h1m1 0h1m1 0h2m1 0h1m1 0h1m1 0h1m1 0h1m1 0h2m1 0h1m1 0h1m1 0h1m1 0h1M143 580.5h2m1 0h1m1 0h1m1 0h1m1 0h1m1 0h2m1 0h1m1 0h1m1 0h1m1 0h1m1 0h2m1 0h1m1 0h1m1 0h1m1 0h1m1 0h2m1 0h1m1 0h1m1 0h1m1 0h1m1 0h2m1 0h1m1 0h1m1 0h1m1 0h1m1 0h2m1 0h1m1 0h1m1 0h1m1 0h1M143 582.5h2m1 0h1m1 0h1m1 0h1m1 0h1m1 0h2m1 0h1m1 0h1m1 0h1m1 0h1m1 0h2m1 0h1m1 0h1m1 0h1m1 0h1m1 0h2m1 0h1m1 0h1m1 0h1m1 0h1m1 0h2m1 0h1m1 0h1m1 0h1m1 0h1m1 0h2m1 0h1m1 0h1m1 0h1m1 0h1M143 584.5h2m1 0h1m1 0h1m1 0h1m1 0h1m1 0h2m1 0h1m1 0h1m1 0h1m1 0h1m1 0h2m1 0h1m1 0h1m1 0h1m1 0h1m1 0h2m1 0h1m1 0h1m1 0h1m1 0h1m1 0h2m1 0h1m1 0h1m1 0h1m1 0h1m1 0h2m1 0h1m1 0h1m1 0h1m1 0h1M143 585.5h2m1 0h1m1 0h1m1 0h1m1 0h1m1 0h2m1 0h1m1 0h1m1 0h1m1 0h1m1 0h2m1 0h1m1 0h1m1 0h1m1 0h1m1 0h2m1 0h1m1 0h1m1 0h1m1 0h1m1 0h2m1 0h1m1 0h1m1 0h1m1 0h1m1 0h2m1 0h1m1 0h1m1 0h1m1 0h1M143 587.5h2m1 0h1m1 0h1m1 0h1m1 0h1m1 0h2m1 0h1m1 0h1m1 0h1m1 0h1m1 0h2m1 0h1m1 0h1m1 0h1m1 0h1m1 0h2m1 0h1m1 0h1m1 0h1m1 0h1m1 0h2m1 0h1m1 0h1m1 0h1m1 0h1m1 0h2m1 0h1m1 0h1m1 0h1m1 0h1M143 589.5h2m1 0h1m1 0h1m1 0h1m1 0h1m1 0h2m1 0h1m1 0h1m1 0h1m1 0h1m1 0h2m1 0h1m1 0h1m1 0h1m1 0h1m1 0h2m1 0h1m1 0h1m1 0h1m1 0h1m1 0h2m1 0h1m1 0h1m1 0h1m1 0h1m1 0h2m1 0h1m1 0h1m1 0h1m1 0h1M143 591.5h2m1 0h1m1 0h1m1 0h1m1 0h1m1 0h2m1 0h1m1 0h1m1 0h1m1 0h1m1 0h2m1 0h1m1 0h1m1 0h1m1 0h1m1 0h2m1 0h1m1 0h1m1 0h1m1 0h1m1 0h2m1 0h1m1 0h1m1 0h1m1 0h1m1 0h2m1 0h1m1 0h1m1 0h1m1 0h1M143 593.5h2m1 0h1m1 0h1m1 0h1m1 0h1m1 0h2m1 0h1m1 0h1m1 0h1m1 0h1m1 0h2m1 0h1m1 0h1m1 0h1m1 0h1m1 0h2m1 0h1m1 0h1m1 0h1m1 0h1m1 0h2m1 0h1m1 0h1m1 0h1m1 0h1m1 0h2m1 0h1m1 0h1m1 0h1m1 0h1M143 594.5h2m1 0h1m1 0h1m1 0h1m1 0h1m1 0h2m1 0h1m1 0h1m1 0h1m1 0h1m1 0h2m1 0h1m1 0h1m1 0h1m1 0h1m1 0h2m1 0h1m1 0h1m1 0h1m1 0h1m1 0h2m1 0h1m1 0h1m1 0h1m1 0h1m1 0h2m1 0h1m1 0h1m1 0h1m1 0h1M143 596.5h2m1 0h1m1 0h1m1 0h1m1 0h1m1 0h2m1 0h1m1 0h1m1 0h1m1 0h1m1 0h2m1 0h1m1 0h1m1 0h1m1 0h1m1 0h2m1 0h1m1 0h1m1 0h1m1 0h1m1 0h2m1 0h1m1 0h1m1 0h1m1 0h1m1 0h2m1 0h1m1 0h1m1 0h1m1 0h1M143 598.5h2m1 0h1m1 0h1m1 0h1m1 0h1m1 0h2m1 0h1m1 0h1m1 0h1m1 0h1m1 0h2m1 0h1m1 0h1m1 0h1m1 0h1m1 0h2m1 0h1m1 0h1m1 0h1m1 0h1m1 0h2m1 0h1m1 0h1m1 0h1m1 0h1m1 0h2m1 0h1m1 0h1m1 0h1m1 0h1M174 602.5h1m1 0h2m1 0h1m1 0h1m1 0h1m1 0h1m1 0h2m1 0h1m1 0h1m1 0h1m1 0h1m1 0h2m1 0h1m1 0h1m1 0h1m1 0h1M174 603.5h1m1 0h2m1 0h1m1 0h1m1 0h1m1 0h1m1 0h2m1 0h1m1 0h1m1 0h1m1 0h1m1 0h2m1 0h1m1 0h1m1 0h1m1 0h1M174 605.5h1m1 0h2m1 0h1m1 0h1m1 0h1m1 0h1m1 0h2m1 0h1m1 0h1m1 0h1m1 0h1m1 0h2m1 0h1m1 0h1m1 0h1m1 0h1M174 607.5h1m1 0h2m1 0h1m1 0h1m1 0h1m1 0h1m1 0h2m1 0h1m1 0h1m1 0h1m1 0h1m1 0h2m1 0h1m1 0h1m1 0h1m1 0h1M174 609.5h1m1 0h2m1 0h1m1 0h1m1 0h1m1 0h1m1 0h2m1 0h1m1 0h1m1 0h1m1 0h1m1 0h2m1 0h1m1 0h1m1 0h1m1 0h1M174 611.5h1m1 0h2m1 0h1m1 0h1m1 0h1m1 0h1m1 0h2m1 0h1m1 0h1m1 0h1m1 0h1m1 0h2m1 0h1m1 0h1m1 0h1m1 0h1M174 612.5h1m1 0h2m1 0h1m1 0h1m1 0h1m1 0h1m1 0h2m1 0h1m1 0h1m1 0h1m1 0h1m1 0h2m1 0h1m1 0h1m1 0h1m1 0h1M143 614.5h2m1 0h1m1 0h1m1 0h1m1 0h1m1 0h2m1 0h1m1 0h1m1 0h1m1 0h1m1 0h2m1 0h1m1 0h1m1 0h1m1 0h1m1 0h2m1 0h1m1 0h1m1 0h1m1 0h1m1 0h2m1 0h1m1 0h1m1 0h1m1 0h1m1 0h2m1 0h1m1 0h1m1 0h1m1 0h1M143 616.5h2m1 0h1m1 0h1m1 0h1m1 0h1m1 0h2m1 0h1m1 0h1m1 0h1m1 0h1m1 0h2m1 0h1m1 0h1m1 0h1m1 0h1m1 0h2m1 0h1m1 0h1m1 0h1m1 0h1m1 0h2m1 0h1m1 0h1m1 0h1m1 0h1m1 0h2m1 0h1m1 0h1m1 0h1m1 0h1M143 618.5h2m1 0h1m1 0h1m1 0h1m1 0h1m1 0h2m1 0h1m1 0h1m1 0h1m1 0h1m1 0h2m1 0h1m1 0h1m1 0h1m1 0h1m1 0h2m1 0h1m1 0h1m1 0h1m1 0h1m1 0h2m1 0h1m1 0h1m1 0h1m1 0h1m1 0h2m1 0h1m1 0h1m1 0h1m1 0h1M143 620.5h2m1 0h1m1 0h1m1 0h1m1 0h1m1 0h2m1 0h1m1 0h1m1 0h1m1 0h1m1 0h2m1 0h1m1 0h1m1 0h1m1 0h1m1 0h2m1 0h1m1 0h1m1 0h1m1 0h1m1 0h2m1 0h1m1 0h1m1 0h1m1 0h1m1 0h2m1 0h1m1 0h1m1 0h1m1 0h1M143 621.5h2m1 0h1m1 0h1m1 0h1m1 0h1m1 0h2m1 0h1m1 0h1m1 0h1m1 0h1m1 0h2m1 0h1m1 0h1m1 0h1m1 0h1m1 0h2m1 0h1m1 0h1m1 0h1m1 0h1m1 0h2m1 0h1m1 0h1m1 0h1m1 0h1m1 0h2m1 0h1m1 0h1m1 0h1m1 0h1M143 623.5h2m1 0h1m1 0h1m1 0h1m1 0h1m1 0h2m1 0h1m1 0h1m1 0h1m1 0h1m1 0h2m1 0h1m1 0h1m1 0h1m1 0h1m1 0h2m1 0h1m1 0h1m1 0h1m1 0h1m1 0h2m1 0h1m1 0h1m1 0h1m1 0h1m1 0h2m1 0h1m1 0h1m1 0h1m1 0h1M143 625.5h2m1 0h1m1 0h1m1 0h1m1 0h1m1 0h2m1 0h1m1 0h1m1 0h1m1 0h1m1 0h2m1 0h1m1 0h1m1 0h1m1 0h1m1 0h2m1 0h1m1 0h1m1 0h1m1 0h1m1 0h2m1 0h1m1 0h1m1 0h1m1 0h1m1 0h2m1 0h1m1 0h1m1 0h1m1 0h1M143 627.5h2m1 0h1m1 0h1m1 0h1m1 0h1m1 0h2m1 0h1m1 0h1m1 0h1m1 0h1m1 0h1m33 0h1m1 0h1m1 0h1m1 0h1m1 0h1M143 629.5h2m1 0h1m1 0h1m1 0h1m1 0h1m1 0h2m1 0h1m1 0h1m1 0h1m1 0h1m1 0h1m33 0h1m1 0h1m1 0h1m1 0h1m1 0h1M143 630.5h2m1 0h1m1 0h1m1 0h1m1 0h1m1 0h2m1 0h1m1 0h1m1 0h1m1 0h1m1 0h1m33 0h1m1 0h1m1 0h1m1 0h1m1 0h1M143 632.5h2m1 0h1m1 0h1m1 0h1m1 0h1m1 0h2m1 0h1m1 0h1m1 0h1m1 0h1m1 0h1m33 0h1m1 0h1m1 0h1m1 0h1m1 0h1M143 634.5h2m1 0h1m1 0h1m1 0h1m1 0h1m1 0h2m1 0h1m1 0h1m1 0h1m1 0h1m1 0h2m1 0h1m1 0h1m1 0h1m1 0h1m1 0h2m1 0h1m1 0h1m1 0h1m1 0h1m1 0h2m1 0h1m1 0h1m1 0h1m1 0h1m1 0h2m1 0h1m1 0h1m1 0h1m1 0h1M143 636.5h2m1 0h1m1 0h1m1 0h1m1 0h1m1 0h2m1 0h1m1 0h1m1 0h1m1 0h1m1 0h2m1 0h1m1 0h1m1 0h1m1 0h1m1 0h2m1 0h1m1 0h1m1 0h1m1 0h1m1 0h2m1 0h1m1 0h1m1 0h1m1 0h1m1 0h2m1 0h1m1 0h1m1 0h1m1 0h1M143 638.5h2m1 0h1m1 0h1m1 0h1m1 0h1m1 0h2m1 0h1m1 0h1m1 0h1m1 0h1m1 0h2m1 0h1m1 0h1m1 0h1m1 0h1m1 0h2m1 0h1m1 0h1m1 0h1m1 0h1m1 0h2m1 0h1m1 0h1m1 0h1m1 0h1m1 0h2m1 0h1m1 0h1m1 0h1m1 0h1M143 639.5h2m1 0h1m1 0h1m1 0h1m1 0h1m1 0h2m1 0h1m1 0h1m1 0h1m1 0h1m1 0h2m1 0h1m1 0h1m1 0h1m1 0h1m1 0h2m1 0h1m1 0h1m1 0h1m1 0h1m1 0h2m1 0h1m1 0h1m1 0h1m1 0h1m1 0h2m1 0h1m1 0h1m1 0h1m1 0h1M143 641.5h2m1 0h1m1 0h1m1 0h1m1 0h1m1 0h2m1 0h1m1 0h1m1 0h1m1 0h1m1 0h2m1 0h1m1 0h1m1 0h1m1 0h1m1 0h2m1 0h1m1 0h1m1 0h1m1 0h1m1 0h2m1 0h1m1 0h1m1 0h1m1 0h1m1 0h2m1 0h1m1 0h1m1 0h1m1 0h1M143 643.5h2m1 0h1m1 0h1m1 0h1m1 0h1m1 0h2m1 0h1m1 0h1m1 0h1m1 0h1m1 0h2m1 0h1m1 0h1m1 0h1m1 0h1m1 0h2m1 0h1m1 0h1m1 0h1m1 0h1m1 0h2m1 0h1m1 0h1m1 0h1m1 0h1m1 0h2m1 0h1m1 0h1m1 0h1m1 0h1M143 645.5h2m1 0h1m1 0h1m1 0h1m1 0h1m1 0h2m1 0h1m1 0h1m1 0h1m1 0h1m1 0h2m1 0h1m1 0h1m1 0h1m1 0h1m1 0h2m1 0h1m1 0h1m1 0h1m1 0h1m1 0h2m1 0h1m1 0h1m1 0h1m1 0h1m1 0h2m1 0h1m1 0h1m1 0h1m1 0h1M143 647.5h2m1 0h1m1 0h1m1 0h1m1 0h1m1 0h2m1 0h1m1 0h1m1 0h1m1 0h1m1 0h2m1 0h1m1 0h1m1 0h1m1 0h1m1 0h2m1 0h1m1 0h1m1 0h1m1 0h1m1 0h2m1 0h1m1 0h1m1 0h1m1 0h1m1 0h2m1 0h1m1 0h1m1 0h1m1 0h1M143 648.5h2m1 0h1m1 0h1m1 0h1m1 0h1m1 0h2m1 0h1m1 0h1m1 0h1m1 0h1m1 0h2m1 0h1m1 0h1m1 0h1m1 0h1m1 0h2m1 0h1m1 0h1m1 0h1m1 0h1m1 0h2m1 0h1m1 0h1m1 0h1m1 0h1m1 0h2m1 0h1m1 0h1m1 0h1m1 0h1M143 650.5h2m1 0h1m1 0h1m1 0h1m1 0h1m1 0h2m1 0h1m1 0h1m1 0h1m1 0h1m1 0h2m1 0h1m1 0h1m1 0h1m1 0h1m1 0h2m1 0h1m1 0h1m1 0h1m1 0h1m1 0h2m1 0h1m1 0h1m1 0h1m1 0h1m1 0h2m1 0h1m1 0h1m1 0h1m1 0h1m2 0h1m1 0h1m1 0h1m1 0h1m1 0h1m1 0h2m1 0h1m1 0h1m1 0h1m1 0h1m1 0h2m1 0h1M143 652.5h2m1 0h1m1 0h1m1 0h1m1 0h1m1 0h2m1 0h1m1 0h1m1 0h1m1 0h1m1 0h2m1 0h1m1 0h1m1 0h1m1 0h1m1 0h2m1 0h1m1 0h1m1 0h1m1 0h1m1 0h2m1 0h1m1 0h1m1 0h1m1 0h1m1 0h2m1 0h1m1 0h1m1 0h1m1 0h1m2 0h1m1 0h1m1 0h1m1 0h1m1 0h1m1 0h2m1 0h1m1 0h1m1 0h1m1 0h1m1 0h2m1 0h1m1 0h1m1 0h1m1 0h1m1 0h2m1 0h1m1 0h1m1 0h1m1 0h1m1 0h2m1 0h1m1 0h1m1 0h1m1 0h1m1 0h2m1 0h1m1 0h1m1 0h1m1 0h1m1 0h2m1 0h1m1 0h1m1 0h1m1 0h1m1 0h2m1 0h1m1 0h1m1 0h1m1 0h1m1 0h2m1 0h1m1 0h1m1 0h1m1 0h1m1 0h2m1 0h1m1 0h1m1 0h1m1 0h1m2 0h1m1 0h1m1 0h1m1 0h1m1 0h1m1 0h2m1 0h1m1 0h1m1 0h1m1 0h1m1 0h2m1 0h1m1 0h1m1 0h1m1 0h1m1 0h2m1 0h1m1 0h1m1 0h1m1 0h1m1 0h2m1 0h1m1 0h1m1 0h1m1 0h1m1 0h2m1 0h1m1 0h1m1 0h1m1 0h1m1 0h2m1 0h1m1 0h1m1 0h1m1 0h1m1 0h2m1 0h1m1 0h1m1 0h1m1 0h1m1 0h2m1 0h1m1 0h1M143 654.5h2m1 0h1m1 0h1m1 0h1m1 0h1m1 0h2m1 0h1m1 0h1m1 0h1m1 0h1m1 0h2m1 0h1m1 0h1m1 0h1m1 0h1m1 0h2m1 0h1m1 0h1m1 0h1m1 0h1m1 0h2m1 0h1m1 0h1m1 0h1m1 0h1m1 0h2m1 0h1m1 0h1m1 0h1m1 0h1m2 0h1m1 0h1m1 0h1m1 0h1m1 0h1m1 0h2m1 0h1m1 0h1m1 0h1m1 0h1m1 0h2m1 0h1m85 0h1m1 0h1m1 0h1m1 0h1m1 0h1m1 0h2m1 0h1m1 0h1m1 0h1m1 0h1m1 0h2m1 0h1m1 0h1m1 0h1m1 0h1m1 0h2m1 0h1m1 0h1m1 0h1m1 0h1m1 0h2m1 0h1m1 0h1m1 0h1m1 0h1m1 0h2m1 0h1m1 0h1m1 0h1m1 0h1m1 0h2m1 0h1m1 0h1m1 0h1m1 0h1m1 0h2m1 0h1m1 0h1m1 0h1m1 0h1m1 0h2m1 0h1m1 0h1M143 656.5h2m1 0h1m1 0h1m1 0h1m1 0h1m1 0h2m1 0h1m1 0h1m1 0h1m1 0h1m1 0h2m1 0h1m1 0h1m1 0h1m1 0h1m1 0h2m1 0h1m1 0h1m1 0h1m1 0h1m1 0h2m1 0h1m1 0h1m1 0h1m1 0h1m1 0h2m1 0h1m1 0h1m1 0h1m1 0h1m2 0h1m1 0h1m1 0h1m1 0h1m1 0h1m1 0h2m1 0h1m1 0h1m1 0h1m1 0h1m1 0h2m1 0h1m85 0h1m1 0h1m1 0h1m1 0h1m1 0h1m1 0h2m1 0h1m1 0h1m1 0h1m1 0h1m1 0h2m1 0h1m1 0h1m1 0h1m1 0h1m1 0h2m1 0h1m1 0h1m1 0h1m1 0h1m1 0h2m1 0h1m1 0h1m1 0h1m1 0h1m1 0h2m1 0h1m1 0h1m1 0h1m1 0h1m1 0h2m1 0h1m1 0h1m1 0h1m1 0h1m1 0h2m1 0h1m1 0h1m1 0h1m1 0h1m1 0h2m1 0h1m1 0h1M143 657.5h2m1 0h1m1 0h1m1 0h1m1 0h1m1 0h2m1 0h1m1 0h1m1 0h1m1 0h1m1 0h2m1 0h1m1 0h1m1 0h1m1 0h1m1 0h2m1 0h1m1 0h1m1 0h1m1 0h1m1 0h2m1 0h1m1 0h1m1 0h1m1 0h1m1 0h2m1 0h1m1 0h1m1 0h1m1 0h1m2 0h1m1 0h1m1 0h1m1 0h1m1 0h1m1 0h2m1 0h1m1 0h1m1 0h1m1 0h1m1 0h2m1 0h1m85 0h1m1 0h1m1 0h1m1 0h1m1 0h1m1 0h2m1 0h1m1 0h1m1 0h1m1 0h1m1 0h2m1 0h1m1 0h1m1 0h1m1 0h1m1 0h2m1 0h1m1 0h1m1 0h1m1 0h1m1 0h2m1 0h1m1 0h1m1 0h1m1 0h1m1 0h2m1 0h1m1 0h1m1 0h1m1 0h1m1 0h2m1 0h1m1 0h1m1 0h1m1 0h1m1 0h2m1 0h1m1 0h1m1 0h1m1 0h1m1 0h2m1 0h1m1 0h1M143 659.5h2m1 0h1m1 0h1m1 0h1m1 0h1m1 0h2m1 0h1m1 0h1m1 0h1m1 0h1m1 0h2m1 0h1m1 0h1m1 0h1m1 0h1m1 0h2m1 0h1m1 0h1m1 0h1m1 0h1m1 0h2m1 0h1m1 0h1m1 0h1m1 0h1m1 0h2m1 0h1m1 0h1m1 0h1m1 0h1m2 0h1m1 0h1m1 0h1m1 0h1m1 0h1m1 0h2m1 0h1m1 0h1m1 0h1m1 0h1m1 0h2m1 0h1m85 0h1m1 0h1m1 0h1m1 0h1m1 0h1m1 0h2m1 0h1m1 0h1m1 0h1m1 0h1m1 0h2m1 0h1m1 0h1m1 0h1m1 0h1m1 0h2m1 0h1m1 0h1m1 0h1m1 0h1m1 0h2m1 0h1m1 0h1m1 0h1m1 0h1m1 0h2m1 0h1m1 0h1m1 0h1m1 0h1m1 0h2m1 0h1m1 0h1m1 0h1m1 0h1m1 0h2m1 0h1m1 0h1m1 0h1m1 0h1m1 0h2m1 0h1m1 0h1M143 661.5h2m1 0h1m1 0h1m1 0h1m1 0h1m1 0h2m1 0h1m1 0h1m1 0h1m1 0h1m1 0h2m1 0h1m1 0h1m1 0h1m1 0h1m1 0h2m1 0h1m1 0h1m1 0h1m1 0h1m1 0h2m1 0h1m1 0h1m1 0h1m1 0h1m1 0h2m1 0h1m1 0h1m1 0h1m1 0h1m2 0h1m1 0h1m1 0h1m1 0h1m1 0h1m1 0h2m1 0h1m1 0h1m1 0h1m1 0h1m1 0h2m1 0h1m85 0h1m1 0h1m1 0h1m1 0h1m1 0h1m1 0h2m1 0h1m1 0h1m1 0h1m1 0h1m1 0h2m1 0h1m1 0h1m1 0h1m1 0h1m1 0h2m1 0h1m1 0h1m1 0h1m1 0h1m1 0h2m1 0h1m1 0h1m1 0h1m1 0h1m1 0h2m1 0h1m1 0h1m1 0h1m1 0h1m1 0h2m1 0h1m1 0h1m1 0h1m1 0h1m1 0h2m1 0h1m1 0h1m1 0h1m1 0h1m1 0h2m1 0h1m1 0h1M143 663.5h2m1 0h1m1 0h1m1 0h1m1 0h1m1 0h2m1 0h1m1 0h1m1 0h1m1 0h1m1 0h2m1 0h1m1 0h1m1 0h1m1 0h1m1 0h2m1 0h1m1 0h1m1 0h1m1 0h1m1 0h2m1 0h1m1 0h1m1 0h1m1 0h1m1 0h2m1 0h1m1 0h1m1 0h1m1 0h1m2 0h1m1 0h1m1 0h1m1 0h1m1 0h1m1 0h2m1 0h1m1 0h1m1 0h1m1 0h1m1 0h2m1 0h1m85 0h1m1 0h1m1 0h1m1 0h1m1 0h1m1 0h2m1 0h1m1 0h1m1 0h1m1 0h1m1 0h2m1 0h1m1 0h1m1 0h1m1 0h1m1 0h2m1 0h1m1 0h1m1 0h1m1 0h1m1 0h2m1 0h1m1 0h1m1 0h1m1 0h1m1 0h2m1 0h1m1 0h1m1 0h1m1 0h1m1 0h2m1 0h1m1 0h1m1 0h1m1 0h1m1 0h2m1 0h1m1 0h1m1 0h1m1 0h1m1 0h2m1 0h1m1 0h1M143 665.5h2m1 0h1m1 0h1m1 0h1m1 0h1m1 0h2m1 0h1m1 0h1m1 0h1m1 0h1m1 0h2m1 0h1m1 0h1m1 0h1m1 0h1m1 0h2m1 0h1m1 0h1m1 0h1m1 0h1m1 0h2m1 0h1m1 0h1m1 0h1m1 0h1m1 0h2m1 0h1m1 0h1m1 0h1m1 0h1m2 0h1m1 0h1m1 0h1m1 0h1m1 0h1m1 0h2m1 0h1m1 0h1m1 0h1m1 0h1m1 0h2m1 0h1m14 0h1m1 0h1m1 0h2m1 0h1m1 0h1m1 0h1m1 0h1m1 0h2m1 0h1m1 0h1m1 0h1m1 0h1m1 0h2m1 0h1m1 0h1m1 0h1m1 0h1m1 0h2m1 0h1m1 0h1m1 0h1m1 0h1m1 0h2m1 0h1m1 0h1m1 0h1m1 0h1m13 0h1m1 0h1m1 0h1m1 0h1m1 0h1m1 0h2m1 0h1m1 0h1m1 0h1m1 0h1m1 0h2m1 0h1m1 0h1m1 0h1m1 0h1m1 0h2m1 0h1m1 0h1m1 0h1m1 0h1m1 0h2m1 0h1m1 0h1m1 0h1m1 0h1m1 0h2m1 0h1m1 0h1m1 0h1m1 0h1m1 0h2m1 0h1m1 0h1m1 0h1m1 0h1m1 0h2m1 0h1m1 0h1m1 0h1m1 0h1m1 0h2m1 0h1m1 0h1M143 666.5h2m1 0h1m1 0h1m1 0h1m1 0h1m1 0h2m1 0h1m1 0h1m1 0h1m1 0h1m1 0h2m1 0h1m1 0h1m1 0h1m1 0h1m1 0h2m1 0h1m1 0h1m1 0h1m1 0h1m1 0h2m1 0h1m1 0h1m1 0h1m1 0h1m1 0h2m1 0h1m1 0h1m1 0h1m1 0h1m2 0h1m1 0h1m1 0h1m1 0h1m1 0h1m1 0h2m1 0h1m1 0h1m1 0h1m1 0h1m1 0h2m1 0h1m14 0h1m1 0h1m1 0h2m1 0h1m1 0h1m1 0h1m1 0h1m1 0h2m1 0h1m1 0h1m1 0h1m1 0h1m1 0h2m1 0h1m1 0h1m1 0h1m1 0h1m1 0h2m1 0h1m1 0h1m1 0h1m1 0h1m1 0h2m1 0h1m1 0h1m1 0h1m1 0h1m13 0h1m1 0h1m1 0h1m1 0h1m1 0h1m1 0h2m1 0h1m1 0h1m1 0h1m1 0h1m1 0h2m1 0h1m1 0h1m1 0h1m1 0h1m1 0h2m1 0h1m1 0h1m1 0h1m1 0h1m1 0h2m1 0h1m1 0h1m1 0h1m1 0h1m1 0h2m1 0h1m1 0h1m1 0h1m1 0h1m1 0h2m1 0h1m1 0h1m1 0h1m1 0h1m1 0h2m1 0h1m1 0h1m1 0h1m1 0h1m1 0h2m1 0h1m1 0h1M143 668.5h2m1 0h1m1 0h1m1 0h1m1 0h1m1 0h2m1 0h1m1 0h1m1 0h1m1 0h1m1 0h2m1 0h1m1 0h1m1 0h1m1 0h1m1 0h2m1 0h1m1 0h1m1 0h1m1 0h1m1 0h2m1 0h1m1 0h1m1 0h1m1 0h1m1 0h2m1 0h1m1 0h1m1 0h1m1 0h1m2 0h1m1 0h1m1 0h1m1 0h1m1 0h1m1 0h2m1 0h1m1 0h1m1 0h1m1 0h1m1 0h2m1 0h1m14 0h1m1 0h1m1 0h2m1 0h1m1 0h1m1 0h1m1 0h1m1 0h2m1 0h1m1 0h1m1 0h1m1 0h1m1 0h2m1 0h1m1 0h1m1 0h1m1 0h1m1 0h2m1 0h1m1 0h1m1 0h1m1 0h1m1 0h2m1 0h1m1 0h1m1 0h1m1 0h1m13 0h1m1 0h1m1 0h1m1 0h1m1 0h1m1 0h2m1 0h1m1 0h1m1 0h1m1 0h1m1 0h2m1 0h1m1 0h1m1 0h1m1 0h1m1 0h2m1 0h1m1 0h1m1 0h1m1 0h1m1 0h2m1 0h1m1 0h1m1 0h1m1 0h1m1 0h2m1 0h1m1 0h1m1 0h1m1 0h1m1 0h2m1 0h1m1 0h1m1 0h1m1 0h1m1 0h2m1 0h1m1 0h1m1 0h1m1 0h1m1 0h2m1 0h1m1 0h1M143 670.5h2m1 0h1m1 0h1m1 0h1m1 0h1m1 0h2m1 0h1m1 0h1m1 0h1m1 0h1m1 0h2m1 0h1m1 0h1m1 0h1m1 0h1m1 0h2m1 0h1m1 0h1m1 0h1m1 0h1m1 0h2m1 0h1m1 0h1m1 0h1m1 0h1m1 0h2m1 0h1m1 0h1m1 0h1m1 0h1m2 0h1m1 0h1m1 0h1m1 0h1m1 0h1m1 0h2m1 0h1m1 0h1m1 0h1m1 0h1m1 0h2m1 0h1m14 0h1m1 0h1m1 0h2m1 0h1m1 0h1m1 0h1m1 0h1m1 0h2m1 0h1m1 0h1m1 0h1m1 0h1m1 0h2m1 0h1m1 0h1m1 0h1m1 0h1m1 0h2m1 0h1m1 0h1m1 0h1m1 0h1m1 0h2m1 0h1m1 0h1m1 0h1m1 0h1m13 0h1m1 0h1m1 0h1m1 0h1m1 0h1m1 0h2m1 0h1m1 0h1m1 0h1m1 0h1m1 0h2m1 0h1m1 0h1m1 0h1m1 0h1m1 0h2m1 0h1m1 0h1m1 0h1m1 0h1m1 0h2m1 0h1m1 0h1m1 0h1m1 0h1m1 0h2m1 0h1m1 0h1m1 0h1m1 0h1m1 0h2m1 0h1m1 0h1m1 0h1m1 0h1m1 0h2m1 0h1m1 0h1m1 0h1m1 0h1m1 0h2m1 0h1m1 0h1M143 672.5h2m1 0h1m1 0h1m1 0h1m1 0h1m1 0h2m1 0h1m1 0h1m1 0h1m1 0h1m1 0h2m1 0h1m1 0h1m1 0h1m1 0h1m1 0h2m1 0h1m1 0h1m1 0h1m1 0h1m1 0h2m1 0h1m1 0h1m1 0h1m1 0h1m1 0h2m1 0h1m1 0h1m1 0h1m1 0h1m2 0h1m1 0h1m1 0h1m1 0h1m1 0h1m1 0h2m1 0h1m1 0h1m1 0h1m1 0h1m1 0h2m1 0h1m14 0h1m1 0h1m1 0h2m1 0h1m1 0h1m1 0h1m1 0h1m1 0h2m1 0h1m1 0h1m1 0h1m1 0h1m1 0h2m1 0h1m1 0h1m1 0h1m1 0h1m1 0h2m1 0h1m1 0h1m1 0h1m1 0h1m1 0h2m1 0h1m1 0h1m1 0h1m1 0h1m13 0h1m1 0h1m1 0h1m1 0h1m1 0h1m1 0h2m1 0h1m1 0h1m1 0h1m1 0h1m1 0h2m1 0h1m1 0h1m1 0h1m1 0h1m1 0h2m1 0h1m1 0h1m1 0h1m1 0h1m1 0h2m1 0h1m1 0h1m1 0h1m1 0h1m1 0h2m1 0h1m1 0h1m1 0h1m1 0h1m1 0h2m1 0h1m1 0h1m1 0h1m1 0h1m1 0h2m1 0h1m1 0h1m1 0h1m1 0h1m1 0h2m1 0h1m1 0h1M210 674.5h1m1 0h1m1 0h1m1 0h1m1 0h1m1 0h2m1 0h1m1 0h1m1 0h1m1 0h1m1 0h2m1 0h1m14 0h1m1 0h1m1 0h2m1 0h1m1 0h1m1 0h1m1 0h1m1 0h2m1 0h1m1 0h1m1 0h1m1 0h1m1 0h2m1 0h1m1 0h1m1 0h1m1 0h1m1 0h2m1 0h1m1 0h1m1 0h1m1 0h1m1 0h2m1 0h1m1 0h1m1 0h1m1 0h1m13 0h1m1 0h1m1 0h1m1 0h1m1 0h1m1 0h2m1 0h1m1 0h1m1 0h1m1 0h1m1 0h2m1 0h1m1 0h1m1 0h1m1 0h1m1 0h2m1 0h1m1 0h1m1 0h1m1 0h1m1 0h2m1 0h1m1 0h1m1 0h1m1 0h1m1 0h2m1 0h1m1 0h1m1 0h1m1 0h1m1 0h2m1 0h1m1 0h1m1 0h1m1 0h1m1 0h2m1 0h1m1 0h1m1 0h1m1 0h1m1 0h2m1 0h1m1 0h1M210 675.5h1m1 0h1m1 0h1m1 0h1m1 0h1m1 0h2m1 0h1m1 0h1m1 0h1m1 0h1m1 0h2m1 0h1m14 0h1m1 0h1m1 0h2m1 0h1m1 0h1m1 0h1m1 0h1m1 0h2m1 0h1m1 0h1m1 0h1m1 0h1m1 0h2m1 0h1m1 0h1m1 0h1m1 0h1m1 0h2m1 0h1m1 0h1m1 0h1m1 0h1m1 0h2m1 0h1m1 0h1m1 0h1m1 0h1m13 0h1m1 0h1m1 0h1m1 0h1m1 0h1m1 0h2m1 0h1m1 0h1m1 0h1m1 0h1m1 0h2m1 0h1m1 0h1m1 0h1m1 0h1m1 0h2m1 0h1m1 0h1m1 0h1m1 0h1m1 0h2m1 0h1m1 0h1m1 0h1m1 0h1m1 0h2m1 0h1m1 0h1m1 0h1m1 0h1m1 0h2m1 0h1m1 0h1m1 0h1m1 0h1m1 0h2m1 0h1m1 0h1m1 0h1m1 0h1m1 0h2m1 0h1m1 0h1M207 677.5h1m1 0h2m1 0h1m1 0h1m1 0h1m1 0h1m1 0h2m1 0h1m1 0h1m1 0h1m1 0h1m1 0h2m1 0h1m14 0h1m1 0h1m1 0h2m1 0h1m1 0h1m1 0h1m1 0h1m1 0h2m1 0h1m1 0h1m1 0h1m1 0h1m1 0h2m1 0h1m1 0h1m1 0h1m1 0h1m1 0h2m1 0h1m1 0h1m1 0h1m1 0h1m1 0h2m1 0h1m1 0h1m1 0h1m1 0h1m13 0h1m1 0h1m1 0h1m1 0h1m1 0h1m1 0h2m1 0h1m1 0h1m1 0h1m1 0h1m1 0h2m1 0h1m1 0h1m1 0h1m1 0h1m1 0h2m1 0h1m1 0h1m1 0h1m1 0h1m1 0h2m1 0h1m1 0h1m1 0h1m1 0h1m1 0h2m1 0h1m1 0h1m1 0h1m1 0h1m1 0h2m1 0h1m1 0h1m1 0h1m1 0h1m1 0h2m1 0h1m1 0h1m1 0h1m1 0h1m1 0h2m1 0h1m1 0h1M207 679.5h1m1 0h2m1 0h1m1 0h1m1 0h1m1 0h1m1 0h2m1 0h1m1 0h1m1 0h1m1 0h1m1 0h2m1 0h1m14 0h1m1 0h1m1 0h2m1 0h1m1 0h1m1 0h1m1 0h1m1 0h2m1 0h1m1 0h1m1 0h1m1 0h1m1 0h2m1 0h1m1 0h1m1 0h1m1 0h1m1 0h2m1 0h1m1 0h1m1 0h1m1 0h1m1 0h2m1 0h1m1 0h1m1 0h1m1 0h1m13 0h1m1 0h1m1 0h1m1 0h1m1 0h1m1 0h2m1 0h1m1 0h1m1 0h1m1 0h1m1 0h2m1 0h1m1 0h1m1 0h1m1 0h1m1 0h2m1 0h1m1 0h1m1 0h1m1 0h1m1 0h2m1 0h1m1 0h1m1 0h1m1 0h1m1 0h2m1 0h1m1 0h1m1 0h1m1 0h1m1 0h2m1 0h1m1 0h1m1 0h1m1 0h1m1 0h2m1 0h1m1 0h1m1 0h1m1 0h1m1 0h2m1 0h1m1 0h1M207 681.5h1m1 0h2m1 0h1m1 0h1m1 0h1m1 0h1m1 0h2m1 0h1m1 0h1m1 0h1m1 0h1m1 0h2m1 0h1m14 0h1m1 0h1m1 0h2m1 0h1m1 0h1m1 0h1m1 0h1m1 0h2m1 0h1m1 0h1m1 0h1m1 0h1m1 0h2m1 0h1m1 0h1m1 0h1m1 0h1m1 0h2m1 0h1m1 0h1m1 0h1m1 0h1m1 0h2m1 0h1m1 0h1m1 0h1m1 0h1m13 0h1m1 0h1m1 0h1m1 0h1m1 0h1m1 0h2m1 0h1m1 0h1m1 0h1m1 0h1m1 0h2m1 0h1m1 0h1m1 0h1m1 0h1m1 0h2m1 0h1m1 0h1m1 0h1m1 0h1m1 0h2m1 0h1m1 0h1m1 0h1m1 0h1m1 0h2m1 0h1m1 0h1m1 0h1m1 0h1m1 0h2m1 0h1m1 0h1m1 0h1m1 0h1m1 0h2m1 0h1m1 0h1m1 0h1m1 0h1m1 0h2m1 0h1m1 0h1M207 683.5h1m1 0h2m1 0h1m1 0h1m1 0h1m1 0h1m1 0h2m1 0h1m1 0h1m1 0h1m1 0h1m1 0h2m1 0h1m14 0h1m1 0h1m1 0h2m1 0h1m1 0h1m1 0h1m1 0h1m1 0h2m1 0h1m1 0h1m1 0h1m1 0h1m1 0h2m1 0h1m1 0h1m1 0h1m1 0h1m1 0h2m1 0h1m1 0h1m1 0h1m1 0h1m1 0h2m1 0h1m1 0h1m1 0h1m1 0h1m13 0h1m1 0h1m1 0h1m1 0h1m1 0h1m1 0h2m1 0h1m1 0h1m71 0h2m1 0h1m1 0h1M207 684.5h1m1 0h2m1 0h1m1 0h1m1 0h1m1 0h1m1 0h2m1 0h1m1 0h1m1 0h1m1 0h1m1 0h2m1 0h1m14 0h1m1 0h1m1 0h2m1 0h1m1 0h1m1 0h1m1 0h1m1 0h2m1 0h1m1 0h1m1 0h1m1 0h1m1 0h2m1 0h1m1 0h1m1 0h1m1 0h1m1 0h2m1 0h1m1 0h1m1 0h1m1 0h1m1 0h2m1 0h1m1 0h1m1 0h1m1 0h1m13 0h1m1 0h1m1 0h1m1 0h1m1 0h1m1 0h2m1 0h1m1 0h1m71 0h2m1 0h1m1 0h1M207 686.5h1m1 0h2m1 0h1m1 0h1m1 0h1m1 0h1m1 0h2m1 0h1m1 0h1m1 0h1m1 0h1m1 0h2m1 0h1m14 0h1m1 0h1m1 0h2m1 0h1m1 0h1m1 0h1m1 0h1m1 0h2m1 0h1m1 0h1m1 0h1m1 0h1m1 0h2m1 0h1m1 0h1m1 0h1m1 0h1m1 0h2m1 0h1m1 0h1m1 0h1m1 0h1m1 0h2m1 0h1m1 0h1m1 0h1m1 0h1m13 0h1m1 0h1m1 0h1m1 0h1m1 0h1m1 0h2m1 0h1m1 0h1m71 0h2m1 0h1m1 0h1M207 688.5h1m1 0h2m1 0h1m1 0h1m1 0h1m1 0h1m1 0h2m1 0h1m1 0h1m1 0h1m1 0h1m1 0h2m1 0h1m14 0h1m1 0h1m1 0h2m1 0h1m1 0h1m1 0h1m1 0h1m1 0h2m1 0h1m1 0h1m1 0h1m1 0h1m1 0h2m1 0h1m1 0h1m1 0h1m1 0h1m1 0h2m1 0h1m1 0h1m1 0h1m1 0h1m1 0h2m1 0h1m1 0h1m1 0h1m1 0h1m13 0h1m1 0h1m1 0h1m1 0h1m1 0h1m1 0h2m1 0h1m1 0h1m71 0h2m1 0h1m1 0h1M207 690.5h1m1 0h2m1 0h1m1 0h1m1 0h1m1 0h1m1 0h2m1 0h1m1 0h1m1 0h1m1 0h1m1 0h2m1 0h1m14 0h1m1 0h1m1 0h2m1 0h1m1 0h1m1 0h1m1 0h1m1 0h2m1 0h1m1 0h1m1 0h1m1 0h1m1 0h2m1 0h1m1 0h1m1 0h1m1 0h1m1 0h2m1 0h1m1 0h1m1 0h1m1 0h1m1 0h2m1 0h1m1 0h1m1 0h1m1 0h1m13 0h1m1 0h1m1 0h1m1 0h1m1 0h1m1 0h2m1 0h1m1 0h1m1 0h1m1 0h1m1 0h2m1 0h1m1 0h1m1 0h1m1 0h1m1 0h2m1 0h1m1 0h1m1 0h1m1 0h1m1 0h2m1 0h1m1 0h1m1 0h1m1 0h1m1 0h2m1 0h1m1 0h1m1 0h1m1 0h1m1 0h2m1 0h1m1 0h1m1 0h1m1 0h1m1 0h2m1 0h1m1 0h1m1 0h1m1 0h1m1 0h2m1 0h1m1 0h1M207 692.5h1m1 0h2m1 0h1m1 0h1m1 0h1m1 0h1m1 0h2m1 0h1m1 0h1m1 0h1m1 0h1m1 0h2m1 0h1m14 0h1m1 0h1m1 0h2m1 0h1m1 0h1m1 0h1m1 0h1m1 0h2m1 0h1m1 0h1m1 0h1m1 0h1m1 0h2m1 0h1m1 0h1m1 0h1m1 0h1m1 0h2m1 0h1m1 0h1m1 0h1m1 0h1m1 0h2m1 0h1m1 0h1m1 0h1m1 0h1m13 0h1m1 0h1m1 0h1m1 0h1m1 0h1m1 0h2m1 0h1m1 0h1m1 0h1m1 0h1m1 0h2m1 0h1m1 0h1m1 0h1m1 0h1m1 0h2m1 0h1m1 0h1m1 0h1m1 0h1m1 0h2m1 0h1m1 0h1m1 0h1m1 0h1m1 0h2m1 0h1m1 0h1m1 0h1m1 0h1m1 0h2m1 0h1m1 0h1m1 0h1m1 0h1m1 0h2m1 0h1m1 0h1m1 0h1m1 0h1m1 0h2m1 0h1m1 0h1M207 693.5h1m1 0h2m1 0h1m1 0h1m1 0h1m1 0h1m1 0h2m1 0h1m1 0h1m1 0h1m1 0h1m1 0h2m1 0h1m14 0h1m1 0h1m1 0h2m1 0h1m30 0h1m1 0h1m1 0h1m1 0h1m1 0h1m1 0h2m1 0h1m1 0h1m1 0h1m1 0h1m13 0h1m1 0h1m1 0h1m1 0h1m1 0h1m1 0h2m1 0h1m1 0h1m1 0h1m1 0h1m1 0h2m1 0h1m1 0h1m1 0h1m1 0h1m1 0h2m1 0h1m1 0h1m1 0h1m1 0h1m1 0h2m1 0h1m1 0h1m1 0h1m1 0h1m1 0h2m1 0h1m1 0h1m1 0h1m1 0h1m1 0h2m1 0h1m1 0h1m1 0h1m1 0h1m1 0h2m1 0h1m1 0h1m1 0h1m1 0h1m1 0h2m1 0h1m1 0h1M207 695.5h1m1 0h2m1 0h1m1 0h1m1 0h1m1 0h1m1 0h2m1 0h1m1 0h1m1 0h1m1 0h1m1 0h2m1 0h1m14 0h1m1 0h1m1 0h2m1 0h1m30 0h1m1 0h1m1 0h1m1 0h1m1 0h1m1 0h2m1 0h1m1 0h1m1 0h1m1 0h1m13 0h1m1 0h1m1 0h1m1 0h1m1 0h1m1 0h2m1 0h1m1 0h1m1 0h1m1 0h1m1 0h2m1 0h1m1 0h1m1 0h1m1 0h1m1 0h2m1 0h1m1 0h1m1 0h1m1 0h1m1 0h2m1 0h1m1 0h1m1 0h1m1 0h1m1 0h2m1 0h1m1 0h1m1 0h1m1 0h1m1 0h2m1 0h1m1 0h1m1 0h1m1 0h1m1 0h2m1 0h1m1 0h1m1 0h1m1 0h1m1 0h2m1 0h1m1 0h1M207 697.5h1m1 0h2m1 0h1m1 0h1m1 0h1m1 0h1m1 0h2m1 0h1m1 0h1m1 0h1m1 0h1m1 0h2m1 0h1m14 0h1m1 0h1m1 0h2m1 0h1m30 0h1m1 0h1m1 0h1m1 0h1m1 0h1m1 0h2m1 0h1m1 0h1m1 0h1m1 0h1m13 0h1m1 0h1m1 0h1m1 0h1m1 0h1m1 0h2m1 0h1m1 0h1m1 0h1m1 0h1m1 0h2m1 0h1m1 0h1m1 0h1m1 0h1m1 0h2m1 0h1m1 0h1m1 0h1m1 0h1m1 0h2m1 0h1m1 0h1m1 0h1m1 0h1m1 0h2m1 0h1m1 0h1m1 0h1m1 0h1m1 0h2m1 0h1m1 0h1m1 0h1m1 0h1m1 0h2m1 0h1m1 0h1m1 0h1m1 0h1m1 0h2m1 0h1m1 0h1M207 699.5h1m1 0h2m1 0h1m1 0h1m1 0h1m1 0h1m1 0h2m1 0h1m1 0h1m1 0h1m1 0h1m1 0h2m1 0h1m1 0h1m1 0h1m1 0h1m1 0h2m1 0h1m1 0h1m1 0h1m1 0h1m1 0h2m1 0h1m1 0h1m1 0h1m1 0h1m1 0h2m1 0h1m1 0h1m1 0h1m1 0h1m1 0h2m1 0h1m1 0h1m1 0h1m1 0h1m1 0h2m1 0h1m1 0h1m1 0h1m1 0h1m1 0h2m1 0h1m1 0h1m1 0h1m1 0h1m13 0h1m1 0h1m1 0h1m1 0h1m1 0h1m1 0h2m1 0h1m1 0h1m1 0h1m1 0h1m1 0h2m1 0h1m1 0h1m1 0h1m1 0h1m1 0h2m1 0h1m1 0h1m1 0h1m1 0h1m1 0h2m1 0h1m1 0h1m1 0h1m1 0h1m1 0h2m1 0h1m1 0h1m1 0h1m1 0h1m1 0h2m1 0h1m1 0h1m1 0h1m1 0h1m1 0h2m1 0h1m1 0h1m1 0h1m1 0h1m1 0h2m1 0h1m1 0h1M207 701.5h1m1 0h2m1 0h1m1 0h1m1 0h1m1 0h1m1 0h2m1 0h1m1 0h1m1 0h1m1 0h1m1 0h2m1 0h1m1 0h1m1 0h1m1 0h1m1 0h2m1 0h1m1 0h1m1 0h1m1 0h1m1 0h2m1 0h1m1 0h1m1 0h1m1 0h1m1 0h2m1 0h1m1 0h1m1 0h1m1 0h1m1 0h2m1 0h1m1 0h1m1 0h1m1 0h1m1 0h2m1 0h1m1 0h1m1 0h1m1 0h1m1 0h2m1 0h1m1 0h1m1 0h1m1 0h1m13 0h1m1 0h1m1 0h1m1 0h1m1 0h1m1 0h2m1 0h1m1 0h1m1 0h1m1 0h1m1 0h2m1 0h1m1 0h1m1 0h1m1 0h1m1 0h2m1 0h1m1 0h1m1 0h1m1 0h1m1 0h2m1 0h1m1 0h1m1 0h1m1 0h1m1 0h2m1 0h1m1 0h1m1 0h1m1 0h1m1 0h2m1 0h1m1 0h1m1 0h1m1 0h1m1 0h2m1 0h1m1 0h1m1 0h1m1 0h1m1 0h2m1 0h1m1 0h1M207 702.5h1m1 0h2m1 0h1m1 0h1m1 0h1m1 0h1m1 0h2m1 0h1m1 0h1m1 0h1m1 0h1m1 0h2m1 0h1m1 0h1m1 0h1m1 0h1m1 0h2m1 0h1m1 0h1m1 0h1m1 0h1m1 0h2m1 0h1m1 0h1m1 0h1m1 0h1m1 0h2m1 0h1m1 0h1m1 0h1m1 0h1m1 0h2m1 0h1m1 0h1m1 0h1m1 0h1m1 0h2m1 0h1m1 0h1m1 0h1m1 0h1m1 0h2m1 0h1m1 0h1m1 0h1m1 0h1m13 0h1m1 0h1m1 0h1m1 0h1m1 0h1m1 0h2m1 0h1m1 0h1m1 0h1m1 0h1m1 0h2m1 0h1m1 0h1m1 0h1m1 0h1m1 0h2m1 0h1m1 0h1m1 0h1m1 0h1m1 0h2m1 0h1m1 0h1m1 0h1m1 0h1m1 0h2m1 0h1m1 0h1m1 0h1m1 0h1m1 0h2m1 0h1m1 0h1m1 0h1m1 0h1m1 0h2m1 0h1m1 0h1m1 0h1m1 0h1m1 0h2m1 0h1m1 0h1M207 704.5h1m1 0h2m1 0h1m1 0h1m1 0h1m1 0h1m1 0h2m1 0h1m1 0h1m1 0h1m1 0h1m1 0h2m1 0h1m1 0h1m1 0h1m1 0h1m1 0h2m1 0h1m1 0h1m1 0h1m1 0h1m1 0h2m1 0h1m1 0h1m1 0h1m1 0h1m1 0h2m1 0h1m1 0h1m1 0h1m1 0h1m1 0h2m1 0h1m1 0h1m1 0h1m1 0h1m1 0h2m1 0h1m1 0h1m1 0h1m1 0h1m1 0h2m1 0h1m1 0h1m1 0h1m1 0h1m13 0h1m1 0h1m1 0h1m1 0h1m1 0h1m1 0h2m1 0h1m1 0h1m1 0h1m1 0h1m1 0h2m1 0h1m1 0h1m1 0h1m1 0h1m1 0h2m1 0h1m1 0h1m1 0h1m1 0h1m1 0h2m1 0h1m1 0h1m1 0h1m1 0h1m1 0h2m1 0h1m1 0h1m1 0h1m1 0h1m1 0h2m1 0h1m1 0h1m1 0h1m1 0h1m1 0h2m1 0h1m1 0h1m1 0h1m1 0h1m1 0h2m1 0h1m1 0h1M207 706.5h1m1 0h2m1 0h1m1 0h1m1 0h1m1 0h1m1 0h2m1 0h1m1 0h1m1 0h1m1 0h1m1 0h2m1 0h1m1 0h1m1 0h1m1 0h1m1 0h2m1 0h1m1 0h1m1 0h1m1 0h1m1 0h2m1 0h1m1 0h1m1 0h1m1 0h1m1 0h2m1 0h1m1 0h1m1 0h1m1 0h1m1 0h2m1 0h1m1 0h1m1 0h1m1 0h1m1 0h2m1 0h1m1 0h1m1 0h1m1 0h1m1 0h2m1 0h1m1 0h1m1 0h1m1 0h1m13 0h1m1 0h1m1 0h1m1 0h1m1 0h1m1 0h2m1 0h1m1 0h1m1 0h1m1 0h1m1 0h2m1 0h1m1 0h1m1 0h1m1 0h1m1 0h2m1 0h1m1 0h1m1 0h1m1 0h1m1 0h2m1 0h1m1 0h1m1 0h1m1 0h1m1 0h2m1 0h1m1 0h1m1 0h1m1 0h1m1 0h2m1 0h1m1 0h1m1 0h1m1 0h1m1 0h2m1 0h1m1 0h1m1 0h1m1 0h1m1 0h2m1 0h1m1 0h1M207 708.5h1m1 0h2m1 0h1m1 0h1m1 0h1m1 0h1m1 0h2m1 0h1m1 0h1m1 0h1m1 0h1m1 0h2m1 0h1m1 0h1m1 0h1m1 0h1m1 0h2m1 0h1m1 0h1m1 0h1m1 0h1m1 0h2m1 0h1m1 0h1m1 0h1m1 0h1m1 0h2m1 0h1m1 0h1m1 0h1m1 0h1m1 0h2m1 0h1m1 0h1m1 0h1m1 0h1m1 0h2m1 0h1m1 0h1m1 0h1m1 0h1m1 0h2m1 0h1m1 0h1m1 0h1m1 0h1m13 0h1m1 0h1m1 0h1m1 0h1m1 0h1m1 0h2m1 0h1m1 0h1m1 0h1m1 0h1m1 0h2m1 0h1m1 0h1m1 0h1m1 0h1m1 0h2m1 0h1m1 0h1m1 0h1m1 0h1m1 0h2m1 0h1m1 0h1m1 0h1m1 0h1m1 0h2m1 0h1m1 0h1m1 0h1m1 0h1m1 0h2m1 0h1m1 0h1m1 0h1m1 0h1m1 0h2m1 0h1m1 0h1m1 0h1m1 0h1m1 0h2m1 0h1m1 0h1M207 710.5h1m1 0h2m1 0h1m1 0h1m1 0h1m1 0h1m1 0h2m1 0h1m1 0h1m1 0h1m1 0h1m1 0h2m1 0h1m1 0h1m1 0h1m1 0h1m1 0h2m1 0h1m1 0h1m1 0h1m1 0h1m1 0h2m1 0h1m1 0h1m1 0h1m1 0h1m1 0h2m1 0h1m1 0h1m1 0h1m1 0h1m1 0h2m1 0h1m1 0h1m1 0h1m1 0h1m1 0h2m1 0h1m1 0h1m1 0h1m1 0h1m1 0h2m1 0h1m1 0h1m1 0h1m1 0h1m13 0h1m1 0h1m1 0h1m1 0h1m1 0h1m1 0h2m1 0h1m1 0h1m1 0h1m1 0h1m1 0h2m1 0h1m1 0h1m1 0h1m1 0h1m1 0h2m1 0h1m1 0h1m1 0h1m1 0h1m1 0h2m1 0h1m1 0h1m1 0h1m1 0h1m1 0h2m1 0h1m1 0h1m1 0h1m1 0h1m1 0h2m1 0h1m1 0h1m1 0h1m1 0h1m1 0h2m1 0h1m1 0h1m1 0h1m1 0h1m1 0h2m1 0h1m1 0h1M207 711.5h1m1 0h2m1 0h1m1 0h1m1 0h1m1 0h1m1 0h2m1 0h1m1 0h1m1 0h1m1 0h1m1 0h2m1 0h1m1 0h1m1 0h1m1 0h1m1 0h2m1 0h1m1 0h1m1 0h1m1 0h1m1 0h2m1 0h1m1 0h1m1 0h1m1 0h1m1 0h2m1 0h1m1 0h1m50 0h1m1 0h1m1 0h1m1 0h1m1 0h1m1 0h2m1 0h1m1 0h1m1 0h1m1 0h1m1 0h2m1 0h1m1 0h1m1 0h1m1 0h1m1 0h2m1 0h1m1 0h1m1 0h1m1 0h1m1 0h2m1 0h1m1 0h1m1 0h1m1 0h1m1 0h2m1 0h1m1 0h1m1 0h1m1 0h1m1 0h2m1 0h1m1 0h1m1 0h1m1 0h1m1 0h2m1 0h1m1 0h1m1 0h1m1 0h1m1 0h2m1 0h1m1 0h1M128 713.5h1m1 0h1m1 0h2m1 0h1m1 0h1m1 0h1m1 0h1m1 0h2m1 0h1m1 0h1m1 0h1m1 0h1m1 0h2m1 0h1m1 0h1m1 0h1m1 0h1m1 0h2m1 0h1m1 0h1m1 0h1m1 0h1m1 0h2m1 0h1m1 0h1m1 0h1m1 0h1m1 0h2m1 0h1m1 0h1m1 0h1m1 0h1m1 0h2m1 0h1m1 0h1m1 0h1m1 0h1m1 0h2m1 0h1m1 0h1m1 0h1m1 0h1m1 0h2m1 0h1m1 0h1m1 0h1m1 0h1m1 0h2m1 0h1m1 0h1m1 0h1m1 0h1m1 0h2m1 0h1m1 0h1m1 0h1m1 0h1m1 0h2m1 0h1m1 0h1m1 0h1m1 0h1m1 0h2m1 0h1m1 0h1m50 0h1m1 0h1m1 0h1m1 0h1m1 0h1m1 0h2m1 0h1m1 0h1m1 0h1m1 0h1m1 0h2m1 0h1m1 0h1m1 0h1m1 0h1m1 0h2m1 0h1m1 0h1m1 0h1m1 0h1m1 0h2m1 0h1m1 0h1m1 0h1m1 0h1m1 0h2m1 0h1m1 0h1m1 0h1m1 0h1m1 0h2m1 0h1m1 0h1m1 0h1m1 0h1m1 0h2m1 0h1m1 0h1m1 0h1m1 0h1m1 0h2m1 0h1m1 0h1M128 715.5h1m1 0h1m1 0h2m1 0h1m1 0h1m1 0h1m1 0h1m1 0h2m1 0h1m1 0h1m1 0h1m1 0h1m1 0h2m1 0h1m1 0h1m1 0h1m1 0h1m1 0h2m1 0h1m1 0h1m1 0h1m1 0h1m1 0h2m1 0h1m1 0h1m1 0h1m1 0h1m1 0h2m1 0h1m1 0h1m1 0h1m1 0h1m1 0h2m1 0h1m1 0h1m1 0h1m1 0h1m1 0h2m1 0h1m1 0h1m1 0h1m1 0h1m1 0h2m1 0h1m1 0h1m1 0h1m1 0h1m1 0h2m1 0h1m1 0h1m1 0h1m1 0h1m1 0h2m1 0h1m1 0h1m1 0h1m1 0h1m1 0h2m1 0h1m1 0h1m1 0h1m1 0h1m1 0h2m1 0h1m1 0h1m50 0h1m1 0h1m1 0h1m1 0h1m1 0h1m1 0h2m1 0h1m1 0h1m1 0h1m1 0h1m1 0h2m1 0h1m1 0h1m1 0h1m1 0h1m1 0h2m1 0h1m1 0h1m1 0h1m1 0h1m1 0h2m1 0h1m1 0h1m1 0h1m1 0h1m1 0h2m1 0h1m1 0h1m1 0h1m1 0h1m1 0h2m1 0h1m1 0h1m1 0h1m1 0h1m1 0h2m1 0h1m1 0h1m1 0h1m1 0h1m1 0h2m1 0h1m1 0h1M128 717.5h1m1 0h1m1 0h2m1 0h1m1 0h1m1 0h1m1 0h1m1 0h2m1 0h1m1 0h1m1 0h1m1 0h1m1 0h2m1 0h1m1 0h1m1 0h1m1 0h1m1 0h2m1 0h1m1 0h1m1 0h1m1 0h1m1 0h2m1 0h1m1 0h1m1 0h1m1 0h1m1 0h2m1 0h1m1 0h1m1 0h1m1 0h1m1 0h2m1 0h1m1 0h1m1 0h1m1 0h1m1 0h2m1 0h1m1 0h1m1 0h1m1 0h1m1 0h2m1 0h1m1 0h1m1 0h1m1 0h1m1 0h2m1 0h1m1 0h1m1 0h1m1 0h1m1 0h2m1 0h1m1 0h1m1 0h1m1 0h1m1 0h2m1 0h1m1 0h1m1 0h1m1 0h1m1 0h2m1 0h1m1 0h1m50 0h1m1 0h1m1 0h1m1 0h1m1 0h1m1 0h2m1 0h1m1 0h1m1 0h1m1 0h1m1 0h2m1 0h1m1 0h1m1 0h1m1 0h1m1 0h2m1 0h1m1 0h1m1 0h1m1 0h1m1 0h2m1 0h1m1 0h1m1 0h1m1 0h1m1 0h2m1 0h1m1 0h1m1 0h1m1 0h1m1 0h2m1 0h1m1 0h1m1 0h1m1 0h1m1 0h2m1 0h1m1 0h1m1 0h1m1 0h1m1 0h2m1 0h1m1 0h1M128 719.5h1m1 0h1m1 0h2m1 0h1m1 0h1m1 0h1m1 0h1m1 0h2m1 0h1m1 0h1m1 0h1m1 0h1m1 0h2m1 0h1m1 0h1m1 0h1m1 0h1m1 0h2m1 0h1m1 0h1m1 0h1m1 0h1m1 0h2m1 0h1m1 0h1m1 0h1m1 0h1m1 0h2m1 0h1m1 0h1m1 0h1m1 0h1m1 0h2m1 0h1m1 0h1m1 0h1m1 0h1m1 0h2m1 0h1m1 0h1m1 0h1m1 0h1m1 0h2m1 0h1m1 0h1m1 0h1m1 0h1m1 0h2m1 0h1m1 0h1m1 0h1m1 0h1m1 0h2m1 0h1m1 0h1m1 0h1m1 0h1m1 0h2m1 0h1m1 0h1m1 0h1m1 0h1m1 0h2m1 0h1m1 0h1m50 0h1m1 0h1m1 0h1m1 0h1m1 0h1m1 0h2m1 0h1m1 0h1m1 0h1m1 0h1m1 0h2m1 0h1m1 0h1m1 0h1m1 0h1m1 0h2m1 0h1m1 0h1m1 0h1m1 0h1m1 0h2m1 0h1m1 0h1m1 0h1m1 0h1m1 0h2m1 0h1m1 0h1m1 0h1m1 0h1m1 0h2m1 0h1m1 0h1m1 0h1m1 0h1m1 0h2m1 0h1m1 0h1m1 0h1m1 0h1m1 0h2m1 0h1m1 0h1M128 720.5h1m1 0h1m1 0h2m1 0h1m1 0h1m1 0h1m1 0h1m1 0h2m1 0h1m1 0h1m1 0h1m1 0h1m1 0h2m1 0h1m1 0h1m1 0h1m1 0h1m1 0h2m1 0h1m1 0h1m1 0h1m1 0h1m1 0h2m1 0h1m1 0h1m1 0h1m1 0h1m1 0h2m1 0h1m1 0h1m1 0h1m1 0h1m1 0h2m1 0h1m1 0h1m1 0h1m1 0h1m1 0h2m1 0h1m1 0h1m1 0h1m1 0h1m1 0h2m1 0h1m1 0h1m1 0h1m1 0h1m1 0h2m1 0h1m1 0h1m1 0h1m1 0h1m1 0h2m1 0h1m1 0h1m1 0h1m1 0h1m1 0h2m1 0h1m1 0h1m1 0h1m1 0h1m1 0h2m1 0h1m1 0h1m50 0h1m1 0h1m1 0h1m1 0h1m1 0h1m1 0h2m1 0h1m1 0h1m1 0h1m1 0h1m1 0h2m1 0h1m1 0h1m1 0h1m1 0h1m1 0h2m1 0h1m1 0h1m1 0h1m1 0h1m1 0h2m1 0h1m1 0h1m1 0h1m1 0h1m1 0h2m1 0h1m1 0h1m1 0h1m1 0h1m1 0h2m1 0h1m1 0h1m1 0h1m1 0h1m1 0h2m1 0h1m1 0h1m1 0h1m1 0h1m1 0h2m1 0h1m1 0h1M128 722.5h1m1 0h1m1 0h2m1 0h1m1 0h1m1 0h1m1 0h1m1 0h2m1 0h1m1 0h1m1 0h1m1 0h1m1 0h2m1 0h1m1 0h1m1 0h1m1 0h1m1 0h2m1 0h1m1 0h1m1 0h1m1 0h1m1 0h2m1 0h1m1 0h1m1 0h1m1 0h1m1 0h2m1 0h1m1 0h1m1 0h1m1 0h1m1 0h2m1 0h1m1 0h1m1 0h1m1 0h1m1 0h2m1 0h1m1 0h1m1 0h1m1 0h1m1 0h2m1 0h1m1 0h1m1 0h1m1 0h1m1 0h2m1 0h1m1 0h1m1 0h1m1 0h1m1 0h2m1 0h1m1 0h1m1 0h1m1 0h1m1 0h2m1 0h1m1 0h1m1 0h1m1 0h1m1 0h2m1 0h1m1 0h1m50 0h1m1 0h1m1 0h1m1 0h1m1 0h1m1 0h2m1 0h1m1 0h1m1 0h1m1 0h1m1 0h2m1 0h1m1 0h1m1 0h1m1 0h1m1 0h2m1 0h1m1 0h1m1 0h1m1 0h1m1 0h2m1 0h1m1 0h1m1 0h1m1 0h1m1 0h2m1 0h1m1 0h1m1 0h1m1 0h1m1 0h2m1 0h1m1 0h1m1 0h1m1 0h1m1 0h2m1 0h1m1 0h1m1 0h1m1 0h1m1 0h2m1 0h1m1 0h1M128 724.5h1m1 0h1m1 0h2m1 0h1m1 0h1m1 0h1m1 0h1m1 0h2m1 0h1m1 0h1m1 0h1m1 0h1m1 0h2m1 0h1m1 0h1m1 0h1m1 0h1m1 0h2m1 0h1m1 0h1m1 0h1m1 0h1m1 0h2m1 0h1m1 0h1m1 0h1m1 0h1m1 0h2m1 0h1m1 0h1m1 0h1m1 0h1m1 0h2m1 0h1m1 0h1m1 0h1m1 0h1m1 0h2m1 0h1m1 0h1m1 0h1m1 0h1m1 0h2m1 0h1m1 0h1m1 0h1m1 0h1m1 0h2m1 0h1m85 0h1m1 0h1m1 0h1m1 0h1m1 0h1m1 0h2m1 0h1m1 0h1m1 0h1m1 0h1m1 0h2m1 0h1m1 0h1m1 0h1m1 0h1m1 0h2m1 0h1m1 0h1m1 0h1m1 0h1m1 0h2m1 0h1m1 0h1m1 0h1m1 0h1m1 0h2m1 0h1m1 0h1m1 0h1m1 0h1m1 0h2m1 0h1m1 0h1m1 0h1m1 0h1m1 0h2m1 0h1m1 0h1m1 0h1m1 0h1m1 0h2m1 0h1m1 0h1M128 726.5h1m1 0h1m1 0h2m1 0h1m1 0h1m1 0h1m1 0h1m1 0h2m1 0h1m1 0h1m1 0h1m1 0h1m1 0h2m1 0h1m1 0h1m1 0h1m1 0h1m1 0h2m1 0h1m1 0h1m1 0h1m1 0h1m1 0h2m1 0h1m1 0h1m1 0h1m1 0h1m1 0h2m1 0h1m1 0h1m1 0h1m1 0h1m1 0h2m1 0h1m1 0h1m1 0h1m1 0h1m1 0h2m1 0h1m1 0h1m1 0h1m1 0h1m1 0h2m1 0h1m1 0h1m1 0h1m1 0h1m1 0h2m1 0h1m3 0h1m1 0h1m1 0h2m1 0h1m1 0h1m1 0h1m1 0h1m1 0h2m1 0h1m1 0h1m1 0h1m1 0h1m1 0h2m1 0h1m1 0h1m1 0h1m1 0h1m1 0h2m1 0h1m1 0h1m1 0h1m1 0h1m1 0h2m1 0h1m1 0h1m1 0h1m1 0h1m1 0h2m1 0h1m1 0h1m1 0h1m1 0h1m1 0h2m1 0h1m1 0h1m1 0h1m1 0h1m2 0h1m1 0h1m1 0h1m1 0h1m1 0h1m1 0h2m1 0h1m1 0h1m1 0h1m1 0h1m1 0h2m1 0h1m1 0h1m1 0h1m1 0h1m1 0h2m1 0h1m1 0h1m1 0h1m1 0h1m1 0h2m1 0h1m1 0h1m1 0h1m1 0h1m1 0h2m1 0h1m1 0h1m1 0h1m1 0h1m1 0h2m1 0h1m1 0h1m1 0h1m1 0h1m1 0h2m1 0h1m1 0h1m1 0h1m1 0h1m1 0h2m1 0h1m1 0h1M128 728.5h1m1 0h1m1 0h2m1 0h1m1 0h1m1 0h1m1 0h1m1 0h2m1 0h1m1 0h1m1 0h1m1 0h1m1 0h2m1 0h1m1 0h1m1 0h1m1 0h1m1 0h2m1 0h1m1 0h1m1 0h1m1 0h1m1 0h2m1 0h1m1 0h1m1 0h1m1 0h1m1 0h2m1 0h1m1 0h1m1 0h1m1 0h1m1 0h2m1 0h1m1 0h1m1 0h1m1 0h1m1 0h2m1 0h1m1 0h1m1 0h1m1 0h1m1 0h2m1 0h1m1 0h1m1 0h1m1 0h1m1 0h2m1 0h1m3 0h1m1 0h1m1 0h2m1 0h1m1 0h1m1 0h1m1 0h1m1 0h2m1 0h1m1 0h1m1 0h1m1 0h1m1 0h2m1 0h1m1 0h1m1 0h1m1 0h1m1 0h2m1 0h1m1 0h1m1 0h1m1 0h1m1 0h2m1 0h1m1 0h1m1 0h1m1 0h1m1 0h2m1 0h1m1 0h1m1 0h1m1 0h1m1 0h2m1 0h1m1 0h1m1 0h1m1 0h1m2 0h1m1 0h1m1 0h1m1 0h1m1 0h1m1 0h2m1 0h1m1 0h1m1 0h1m1 0h1m1 0h2m1 0h1m1 0h1m1 0h1m1 0h1m1 0h2m1 0h1m1 0h1m1 0h1m1 0h1m1 0h2m1 0h1m1 0h1m1 0h1m1 0h1m1 0h2m1 0h1m1 0h1m1 0h1m1 0h1m1 0h2m1 0h1m1 0h1m1 0h1m1 0h1m1 0h2m1 0h1m1 0h1m1 0h1m1 0h1m1 0h2m1 0h1m1 0h1M128 729.5h1m1 0h1m1 0h2m1 0h1m1 0h1m1 0h1m1 0h1m1 0h2m1 0h1m1 0h1m1 0h1m1 0h1m1 0h2m1 0h1m1 0h1m1 0h1m1 0h1m1 0h2m1 0h1m1 0h1m1 0h1m1 0h1m1 0h2m1 0h1m1 0h1m1 0h1m1 0h1m1 0h2m1 0h1m1 0h1m1 0h1m1 0h1m1 0h2m1 0h1m1 0h1m1 0h1m1 0h1m1 0h2m1 0h1m1 0h1m1 0h1m1 0h1m1 0h2m1 0h1m1 0h1m1 0h1m1 0h1m1 0h2m1 0h1m3 0h1m1 0h1m1 0h2m1 0h1m1 0h1m1 0h1m1 0h1m1 0h2m1 0h1m1 0h1m1 0h1m1 0h1m1 0h2m1 0h1m1 0h1m1 0h1m1 0h1m1 0h2m1 0h1m1 0h1m1 0h1m1 0h1m1 0h2m1 0h1m1 0h1m1 0h1m1 0h1m1 0h2m1 0h1m1 0h1m1 0h1m1 0h1m1 0h2m1 0h1m1 0h1m1 0h1m1 0h1m2 0h1m1 0h1m1 0h1m1 0h1m1 0h1m1 0h2m1 0h1m1 0h1m1 0h1m1 0h1m1 0h2m1 0h1m1 0h1m1 0h1m1 0h1m1 0h2m1 0h1m1 0h1m1 0h1m1 0h1m1 0h2m1 0h1m1 0h1m1 0h1m1 0h1m1 0h2m1 0h1m1 0h1m1 0h1m1 0h1m1 0h2m1 0h1m1 0h1m1 0h1m1 0h1m1 0h2m1 0h1m1 0h1m1 0h1m1 0h1m1 0h2m1 0h1m1 0h1M128 731.5h1m1 0h1m1 0h2m1 0h1m1 0h1m1 0h1m1 0h1m1 0h2m1 0h1m1 0h1m1 0h1m1 0h1m1 0h2m1 0h1m1 0h1m1 0h1m1 0h1m1 0h2m1 0h1m1 0h1m1 0h1m1 0h1m1 0h2m1 0h1m1 0h1m1 0h1m1 0h1m1 0h2m1 0h1m1 0h1m1 0h1m1 0h1m1 0h2m1 0h1m1 0h1m1 0h1m1 0h1m1 0h2m1 0h1m1 0h1m1 0h1m1 0h1m1 0h2m1 0h1m1 0h1m1 0h1m1 0h1m1 0h2m1 0h1m3 0h1m1 0h1m1 0h2m1 0h1m1 0h1m1 0h1m1 0h1m1 0h2m1 0h1m1 0h1m1 0h1m1 0h1m1 0h2m1 0h1m1 0h1m1 0h1m1 0h1m1 0h2m1 0h1m1 0h1m1 0h1m1 0h1m1 0h2m1 0h1m1 0h1m1 0h1m1 0h1m1 0h2m1 0h1m1 0h1m1 0h1m1 0h1m1 0h2m1 0h1m1 0h1m1 0h1m1 0h1m2 0h1m1 0h1m1 0h1m1 0h1m1 0h1m1 0h2m1 0h1m1 0h1m1 0h1m1 0h1m1 0h2m1 0h1m1 0h1m1 0h1m1 0h1m1 0h2m1 0h1m1 0h1m1 0h1m1 0h1m1 0h2m1 0h1m1 0h1m1 0h1m1 0h1m1 0h2m1 0h1m1 0h1m1 0h1m1 0h1m1 0h2m1 0h1m1 0h1m1 0h1m1 0h1m1 0h2m1 0h1m1 0h1m1 0h1m1 0h1m1 0h2m1 0h1m1 0h1M128 733.5h1m1 0h1m1 0h2m1 0h1m1 0h1m1 0h1m1 0h1m1 0h2m1 0h1m1 0h1m1 0h1m1 0h1m67 0h2m1 0h1m1 0h1m1 0h1m1 0h1m1 0h2m1 0h1m3 0h1m1 0h1m1 0h2m1 0h1m1 0h1m1 0h1m1 0h1m1 0h2m1 0h1m1 0h1m1 0h1m1 0h1m1 0h2m1 0h1m1 0h1m1 0h1m1 0h1m1 0h2m1 0h1m1 0h1m1 0h1m1 0h1m1 0h2m1 0h1m1 0h1m1 0h1m1 0h1m1 0h2m1 0h1m1 0h1m1 0h1m1 0h1m1 0h2m1 0h1m1 0h1m1 0h1m1 0h1m2 0h1m1 0h1m1 0h1m1 0h1m1 0h1m1 0h2m1 0h1m1 0h1m1 0h1m1 0h1m1 0h2m1 0h1m1 0h1m1 0h1m1 0h1m1 0h2m1 0h1m1 0h1m1 0h1m1 0h1m1 0h2m1 0h1m1 0h1m1 0h1m1 0h1m1 0h2m1 0h1m1 0h1m1 0h1m1 0h1m1 0h2m1 0h1m1 0h1m1 0h1m1 0h1m1 0h2m1 0h1m1 0h1m1 0h1m1 0h1m1 0h2m1 0h1m1 0h1M128 735.5h1m1 0h1m1 0h2m1 0h1m1 0h1m1 0h1m1 0h1m1 0h2m1 0h1m1 0h1m1 0h1m1 0h1m67 0h2m1 0h1m1 0h1m1 0h1m1 0h1m1 0h2m1 0h1m3 0h1m1 0h1m1 0h2m1 0h1m1 0h1m1 0h1m1 0h1m1 0h2m1 0h1m1 0h1m1 0h1m1 0h1m1 0h2m1 0h1m1 0h1m1 0h1m1 0h1m1 0h2m1 0h1m1 0h1m1 0h1m1 0h1m1 0h2m1 0h1m1 0h1m1 0h1m1 0h1m1 0h2m1 0h1m1 0h1m1 0h1m1 0h1m1 0h2m1 0h1m1 0h1m1 0h1m1 0h1m2 0h1m1 0h1m1 0h1m1 0h1m1 0h1m1 0h2m1 0h1m1 0h1m1 0h1m1 0h1m1 0h2m1 0h1m1 0h1m1 0h1m1 0h1m1 0h2m1 0h1m1 0h1m1 0h1m1 0h1m1 0h2m1 0h1m1 0h1m1 0h1m1 0h1m1 0h2m1 0h1m1 0h1m1 0h1m1 0h1m1 0h2m1 0h1m1 0h1m1 0h1m1 0h1m1 0h2m1 0h1m1 0h1m1 0h1m1 0h1m1 0h2m1 0h1m1 0h1M128 737.5h1m1 0h1m1 0h2m1 0h1m1 0h1m1 0h1m1 0h1m1 0h2m1 0h1m1 0h1m1 0h1m1 0h1m67 0h2m1 0h1m1 0h1m1 0h1m1 0h1m1 0h2m1 0h1m3 0h1m1 0h1m1 0h2m1 0h1m1 0h1m1 0h1m1 0h1m1 0h2m1 0h1m1 0h1m1 0h1m1 0h1m1 0h2m1 0h1m1 0h1m1 0h1m1 0h1m1 0h2m1 0h1m1 0h1m1 0h1m1 0h1m1 0h2m1 0h1m1 0h1m1 0h1m1 0h1m1 0h2m1 0h1m1 0h1m1 0h1m1 0h1m1 0h2m1 0h1m1 0h1m1 0h1m1 0h1m2 0h1m1 0h1m1 0h1m1 0h1m1 0h1m1 0h2m1 0h1m1 0h1m1 0h1m1 0h1m1 0h2m1 0h1m1 0h1m1 0h1m1 0h1m1 0h2m1 0h1m1 0h1m1 0h1m1 0h1m1 0h2m1 0h1m1 0h1m1 0h1m1 0h1m1 0h2m1 0h1m1 0h1m1 0h1m1 0h1m1 0h2m1 0h1m1 0h1m1 0h1m1 0h1m1 0h2m1 0h1m1 0h1m1 0h1m1 0h1m1 0h2m1 0h1m1 0h1M128 738.5h1m1 0h1m1 0h2m1 0h1m1 0h1m1 0h1m1 0h1m1 0h2m1 0h1m1 0h1m1 0h1m1 0h1m67 0h2m1 0h1m1 0h1m1 0h1m1 0h1m1 0h2m1 0h1m3 0h1m1 0h1m1 0h2m1 0h1m1 0h1m1 0h1m1 0h1m1 0h2m1 0h1m1 0h1m1 0h1m1 0h1m1 0h2m1 0h1m1 0h1m1 0h1m1 0h1m1 0h2m1 0h1m1 0h1m1 0h1m1 0h1m1 0h2m1 0h1m1 0h1m1 0h1m1 0h1m1 0h2m1 0h1m1 0h1m1 0h1m1 0h1m1 0h2m1 0h1m1 0h1m1 0h1m1 0h1m2 0h1m1 0h1m1 0h1m1 0h1m1 0h1m1 0h2m1 0h1m1 0h1m1 0h1m1 0h1m1 0h2m1 0h1m1 0h1m1 0h1m1 0h1m1 0h2m1 0h1m1 0h1m1 0h1m1 0h1m1 0h2m1 0h1m1 0h1m1 0h1m1 0h1m1 0h2m1 0h1m1 0h1m1 0h1m1 0h1m1 0h2m1 0h1m1 0h1m1 0h1m1 0h1m1 0h2m1 0h1m1 0h1m1 0h1m1 0h1m1 0h2m1 0h1m1 0h1M128 740.5h1m1 0h1m1 0h2m1 0h1m1 0h1m1 0h1m1 0h1m1 0h2m1 0h1m1 0h1m1 0h1m1 0h1m1 0h2m1 0h1m1 0h1m1 0h1m1 0h1m1 0h2m1 0h1m1 0h1m1 0h1m1 0h1m1 0h2m1 0h1m1 0h1m1 0h1m1 0h1m1 0h2m1 0h1m1 0h1m1 0h1m1 0h1m1 0h2m1 0h1m1 0h1m1 0h1m1 0h1m1 0h2m1 0h1m1 0h1m1 0h1m1 0h1m1 0h2m1 0h1m1 0h1m1 0h1m1 0h1m1 0h2m1 0h1m3 0h1m1 0h1m1 0h2m1 0h1m1 0h1m1 0h1m1 0h1m1 0h2m1 0h1m1 0h1m1 0h1m1 0h1m1 0h2m1 0h1m1 0h1m1 0h1m1 0h1m1 0h2m1 0h1m1 0h1m1 0h1m1 0h1m1 0h2m1 0h1m1 0h1m1 0h1m1 0h1m1 0h2m1 0h1m1 0h1m1 0h1m1 0h1m1 0h2m1 0h1m1 0h1m1 0h1m1 0h1m2 0h1m1 0h1m1 0h1m1 0h1m1 0h1m1 0h2m1 0h1m1 0h1m1 0h1m1 0h1m1 0h2m1 0h1m1 0h1m1 0h1m1 0h1m1 0h2m1 0h1m1 0h1m1 0h1m1 0h1m1 0h2m1 0h1m1 0h1m1 0h1m1 0h1m1 0h2m1 0h1m1 0h1m1 0h1m1 0h1m1 0h2m1 0h1m1 0h1m1 0h1m1 0h1m1 0h2m1 0h1m1 0h1m1 0h1m1 0h1m1 0h2m1 0h1m1 0h1M137 742.5h1m1 0h1m1 0h1m1 0h2m1 0h1m1 0h1m1 0h1m1 0h1m1 0h2m1 0h1m1 0h1m1 0h1m1 0h1m1 0h2m1 0h1m1 0h1m1 0h1m1 0h1m1 0h2m1 0h1m1 0h1m1 0h1m1 0h1m1 0h2m1 0h1m1 0h1m1 0h1m1 0h1m1 0h2m1 0h1m1 0h1m1 0h1m1 0h1m1 0h2m1 0h1m1 0h1m1 0h1m1 0h1m1 0h2m1 0h1m1 0h1m1 0h1m1 0h1m1 0h2m1 0h1m3 0h1m1 0h1m1 0h2m1 0h1m1 0h1m1 0h1m1 0h1m1 0h2m1 0h1m1 0h1m1 0h1m1 0h1m1 0h2m1 0h1m1 0h1m1 0h1m1 0h1m1 0h2m1 0h1m1 0h1m1 0h1m1 0h1m1 0h2m1 0h1m1 0h1m1 0h1m1 0h1m1 0h2m1 0h1m1 0h1m1 0h1m1 0h1m1 0h2m1 0h1m1 0h1m1 0h1m1 0h1m2 0h1m1 0h1m1 0h1m1 0h1m1 0h1m1 0h2m1 0h1m1 0h1m1 0h1m1 0h1m1 0h2m1 0h1m1 0h1m1 0h1m1 0h1m1 0h2m1 0h1m1 0h1m1 0h1m1 0h1m1 0h2m1 0h1m1 0h1m1 0h1m1 0h1m1 0h2m1 0h1m1 0h1m1 0h1m1 0h1m1 0h2m1 0h1m1 0h1m1 0h1m1 0h1m1 0h2m1 0h1m1 0h1m1 0h1m1 0h1m1 0h2m1 0h1m1 0h1M137 744.5h1m1 0h1m1 0h1m1 0h2m1 0h1m1 0h1m1 0h1m1 0h1m1 0h2m1 0h1m1 0h1m1 0h1m1 0h1m1 0h2m1 0h1m1 0h1m1 0h1m1 0h1m1 0h2m1 0h1m1 0h1m1 0h1m1 0h1m1 0h2m1 0h1m1 0h1m1 0h1m1 0h1m1 0h2m1 0h1m1 0h1m1 0h1m1 0h1m1 0h2m1 0h1m1 0h1m1 0h1m1 0h1m1 0h2m1 0h1m1 0h1m1 0h1m1 0h1m1 0h2m1 0h1m3 0h1m1 0h1m1 0h2m1 0h1m1 0h1m1 0h1m1 0h1m1 0h2m1 0h1m1 0h1m1 0h1m1 0h1m1 0h2m1 0h1m1 0h1m1 0h1m1 0h1m1 0h2m1 0h1m1 0h1m1 0h1m1 0h1m1 0h2m1 0h1m1 0h1m1 0h1m1 0h1m1 0h2m1 0h1m1 0h1m1 0h1m1 0h1m1 0h2m1 0h1m1 0h1m1 0h1m1 0h1m2 0h1m1 0h1m1 0h1m1 0h1m1 0h1m1 0h2m1 0h1m1 0h1m1 0h1m1 0h1m1 0h2m1 0h1m1 0h1m1 0h1m1 0h1m1 0h2m1 0h1m1 0h1m1 0h1m1 0h1m1 0h2m1 0h1m1 0h1m1 0h1m1 0h1m1 0h2m1 0h1m1 0h1m1 0h1m1 0h1m1 0h2m1 0h1m1 0h1m1 0h1m1 0h1m1 0h2m1 0h1m1 0h1m1 0h1m1 0h1m1 0h2m1 0h1m1 0h1M137 746.5h1m1 0h1m1 0h1m1 0h2m1 0h1m1 0h1m1 0h1m1 0h1m1 0h2m1 0h1m1 0h1m1 0h1m1 0h1m1 0h2m1 0h1m1 0h1m1 0h1m1 0h1m1 0h2m1 0h1m1 0h1m1 0h1m1 0h1m1 0h2m1 0h1m1 0h1m1 0h1m1 0h1m1 0h2m1 0h1m1 0h1m1 0h1m1 0h1m1 0h2m1 0h1m1 0h1m1 0h1m1 0h1m1 0h2m1 0h1m1 0h1m1 0h1m1 0h1m1 0h2m1 0h1m3 0h1m1 0h1m1 0h2m1 0h1m1 0h1m1 0h1m1 0h1m1 0h2m1 0h1m1 0h1m1 0h1m1 0h1m1 0h2m1 0h1m1 0h1m1 0h1m1 0h1m1 0h2m1 0h1m1 0h1m1 0h1m1 0h1m1 0h2m1 0h1m1 0h1m1 0h1m1 0h1m1 0h2m1 0h1m1 0h1m1 0h1m1 0h1m1 0h2m1 0h1m1 0h1m1 0h1m1 0h1m2 0h1m1 0h1m1 0h1m1 0h1m1 0h1m1 0h2m1 0h1m1 0h1m1 0h1m1 0h1m1 0h2m1 0h1m1 0h1m1 0h1m1 0h1m1 0h2m1 0h1m1 0h1m1 0h1m1 0h1m1 0h2m1 0h1m1 0h1m1 0h1m1 0h1m1 0h2m1 0h1m1 0h1m1 0h1m1 0h1m1 0h2m1 0h1m1 0h1m1 0h1m1 0h1m1 0h2m1 0h1m1 0h1m1 0h1m1 0h1m1 0h2m1 0h1m1 0h1M137 747.5h1m1 0h1m1 0h1m1 0h2m1 0h1m1 0h1m1 0h1m1 0h1m1 0h2m1 0h1m1 0h1m1 0h1m1 0h1m1 0h2m1 0h1m1 0h1m1 0h1m1 0h1m1 0h2m1 0h1m1 0h1m1 0h1m1 0h1m1 0h2m1 0h1m1 0h1m1 0h1m1 0h1m1 0h2m1 0h1m1 0h1m1 0h1m1 0h1m1 0h2m1 0h1m1 0h1m1 0h1m1 0h1m1 0h2m1 0h1m1 0h1m1 0h1m1 0h1m1 0h2m1 0h1m3 0h1m1 0h1m1 0h2m1 0h1m1 0h1m1 0h1m1 0h1m1 0h2m1 0h1m1 0h1m1 0h1m1 0h1m1 0h2m1 0h1m1 0h1m1 0h1m1 0h1m1 0h2m1 0h1m1 0h1m1 0h1m1 0h1m1 0h2m1 0h1m1 0h1m1 0h1m1 0h1m1 0h2m1 0h1m1 0h1m1 0h1m1 0h1m1 0h2m1 0h1m1 0h1m1 0h1m1 0h1m2 0h1m1 0h1m1 0h1m1 0h1m1 0h1m1 0h2m1 0h1m1 0h1m1 0h1m1 0h1m1 0h2m1 0h1m1 0h1m1 0h1m1 0h1m1 0h2m1 0h1m1 0h1m1 0h1m1 0h1m1 0h2m1 0h1m1 0h1m1 0h1m1 0h1m1 0h2m1 0h1m1 0h1m1 0h1m1 0h1m1 0h2m1 0h1m1 0h1m1 0h1m1 0h1m1 0h2m1 0h1m1 0h1m1 0h1m1 0h1m1 0h2m1 0h1m1 0h1M137 749.5h1m1 0h1m1 0h1m1 0h2m1 0h1m1 0h1m1 0h1m1 0h1m1 0h2m1 0h1m1 0h1m1 0h1m1 0h1m1 0h2m1 0h1m1 0h1m1 0h1m1 0h1m1 0h2m1 0h1m1 0h1m1 0h1m1 0h1m1 0h2m1 0h1m1 0h1m1 0h1m1 0h1m1 0h2m1 0h1m1 0h1m1 0h1m1 0h1m1 0h2m1 0h1m1 0h1m1 0h1m1 0h1m1 0h2m1 0h1m1 0h1m1 0h1m1 0h1m1 0h2m1 0h1m3 0h1m1 0h1m1 0h2m1 0h1m1 0h1m1 0h1m1 0h1m1 0h2m1 0h1m1 0h1m1 0h1m1 0h1m1 0h2m1 0h1m1 0h1m1 0h1m1 0h1m1 0h2m1 0h1m1 0h1m1 0h1m1 0h1m1 0h2m1 0h1m1 0h1m1 0h1m1 0h1m1 0h2m1 0h1m1 0h1m1 0h1m1 0h1m1 0h2m1 0h1m1 0h1m1 0h1m1 0h1m2 0h1m1 0h1m1 0h1m1 0h1m1 0h1m1 0h2m1 0h1m1 0h1m1 0h1m1 0h1m1 0h2m1 0h1m1 0h1m1 0h1m1 0h1m1 0h2m1 0h1m1 0h1m1 0h1m1 0h1m1 0h2m1 0h1m1 0h1m1 0h1m1 0h1m1 0h2m1 0h1m1 0h1m1 0h1m1 0h1m1 0h2m1 0h1m1 0h1m1 0h1m1 0h1m1 0h2m1 0h1m1 0h1m1 0h1m1 0h1m1 0h2m1 0h1m1 0h1M137 751.5h1m1 0h1m1 0h1m1 0h2m1 0h1m1 0h1m1 0h1m1 0h1m1 0h2m1 0h1m1 0h1m1 0h1m1 0h1m1 0h2m1 0h1m1 0h1m1 0h1m1 0h1m1 0h2m1 0h1m1 0h1m1 0h1m1 0h1m1 0h2m1 0h1m1 0h1m1 0h1m1 0h1m1 0h2m1 0h1m1 0h1m1 0h1m1 0h1m1 0h2m1 0h1m1 0h1m1 0h1m1 0h1m1 0h2m1 0h1m1 0h1m1 0h1m1 0h1m1 0h2m1 0h1m3 0h1m1 0h1m1 0h2m1 0h1m1 0h1m1 0h1m1 0h1m1 0h2m1 0h1m1 0h1m1 0h1m1 0h1m1 0h2m1 0h1m1 0h1m1 0h1m1 0h1m1 0h2m1 0h1m1 0h1m1 0h1m1 0h1m1 0h2m1 0h1m1 0h1m1 0h1m1 0h1m1 0h2m1 0h1m1 0h1m1 0h1m1 0h1m1 0h2m1 0h1m1 0h1m1 0h1m1 0h1m2 0h1m1 0h1m1 0h1m1 0h1m1 0h1m1 0h2m1 0h1m1 0h1m1 0h1m1 0h1m1 0h2m1 0h1m1 0h1m1 0h1m1 0h1m1 0h2m1 0h1m1 0h1m1 0h1m1 0h1m1 0h2m1 0h1m1 0h1m1 0h1m1 0h1m1 0h2m1 0h1m1 0h1m1 0h1m1 0h1m1 0h2m1 0h1m1 0h1m1 0h1m1 0h1m1 0h2m1 0h1m1 0h1m1 0h1m1 0h1m1 0h2m1 0h1m1 0h1M137 753.5h1m1 0h1m1 0h1m1 0h2m1 0h1m1 0h1m1 0h1m1 0h1m1 0h2m1 0h1m1 0h1m1 0h1m1 0h1m1 0h2m1 0h1m1 0h1m1 0h1m1 0h1m1 0h2m1 0h1m1 0h1m1 0h1m1 0h1m1 0h2m1 0h1m1 0h1m1 0h1m1 0h1m1 0h2m1 0h1m1 0h1m1 0h1m1 0h1m1 0h2m1 0h1m1 0h1m1 0h1m1 0h1m1 0h2m1 0h1m1 0h1m1 0h1m1 0h1m1 0h2m1 0h1m3 0h1m1 0h1m1 0h2m1 0h1m1 0h1m1 0h1m1 0h1m1 0h2m1 0h1m1 0h1m1 0h1m1 0h1m1 0h2m1 0h1m1 0h1m1 0h1m1 0h1m1 0h2m1 0h1m1 0h1m1 0h1m1 0h1m1 0h2m1 0h1m1 0h1m1 0h1m1 0h1m1 0h2m1 0h1m1 0h1m1 0h1m1 0h1m1 0h2m1 0h1m1 0h1m1 0h1m1 0h1m2 0h1m1 0h1m1 0h1m1 0h1m1 0h1m1 0h2m1 0h1m1 0h1m1 0h1m1 0h1m1 0h2m1 0h1m1 0h1m1 0h1m1 0h1m1 0h2m1 0h1m1 0h1m1 0h1m1 0h1m1 0h2m1 0h1m1 0h1m1 0h1m1 0h1m1 0h2m1 0h1m1 0h1m1 0h1m1 0h1m1 0h2m1 0h1m1 0h1m1 0h1m1 0h1m1 0h2m1 0h1m1 0h1m1 0h1m1 0h1m1 0h2m1 0h1m1 0h1M137 755.5h1m1 0h1m1 0h1m1 0h2m1 0h1m1 0h1m1 0h1m1 0h1m1 0h2m1 0h1m1 0h1m1 0h1m1 0h1m1 0h2m1 0h1m1 0h1m1 0h1m1 0h1m1 0h2m1 0h1m1 0h1m1 0h1m1 0h1m1 0h2m1 0h1m1 0h1m1 0h1m1 0h1m1 0h2m1 0h1m1 0h1m1 0h1m1 0h1m1 0h2m1 0h1m1 0h1m1 0h1m1 0h1m1 0h2m1 0h1m1 0h1m1 0h1m1 0h1m1 0h2m1 0h1m3 0h1m1 0h1m1 0h2m1 0h1m1 0h1m1 0h1m1 0h1m1 0h2m1 0h1m1 0h1m1 0h1m1 0h1m1 0h2m1 0h1m1 0h1m1 0h1m1 0h1m1 0h2m1 0h1m1 0h1m1 0h1m1 0h1m1 0h2m1 0h1m1 0h1m1 0h1m1 0h1m1 0h2m1 0h1m1 0h1m1 0h1m1 0h1m1 0h2m1 0h1m1 0h1m1 0h1m1 0h1m2 0h1m1 0h1m1 0h1m1 0h1m1 0h1m1 0h2m1 0h1m1 0h1m1 0h1m1 0h1m1 0h2m1 0h1m1 0h1m1 0h1m1 0h1m1 0h2m1 0h1m1 0h1m1 0h1m1 0h1m1 0h2m1 0h1m1 0h1m1 0h1m1 0h1m1 0h2m1 0h1m1 0h1m1 0h1m1 0h1m1 0h2m1 0h1m1 0h1m1 0h1m1 0h1m1 0h2m1 0h1m1 0h1m1 0h1m1 0h1m1 0h2m1 0h1m1 0h1M137 756.5h1m1 0h1m1 0h1m1 0h2m1 0h1m1 0h1m1 0h1m1 0h1m1 0h2m1 0h1m1 0h1m1 0h1m1 0h1m1 0h2m1 0h1m1 0h1m1 0h1m1 0h1m1 0h2m1 0h1m1 0h1m1 0h1m1 0h1m1 0h2m1 0h1m1 0h1m1 0h1m1 0h1m1 0h2m1 0h1m1 0h1m1 0h1m1 0h1m1 0h2m1 0h1m1 0h1m1 0h1m1 0h1m1 0h2m1 0h1m1 0h1m1 0h1m1 0h1m1 0h2m1 0h1m3 0h1m1 0h1m1 0h2m1 0h1m1 0h1m1 0h1m1 0h1m1 0h2m1 0h1m1 0h1m1 0h1m1 0h1m1 0h2m1 0h1m1 0h1m1 0h1m1 0h1m1 0h2m1 0h1m1 0h1m1 0h1m1 0h1m1 0h2m1 0h1m1 0h1m1 0h1m1 0h1m1 0h2m1 0h1m1 0h1m1 0h1m1 0h1m1 0h2m1 0h1m1 0h1m1 0h1m1 0h1m2 0h1m1 0h1m1 0h1m1 0h1m1 0h1m1 0h2m1 0h1m1 0h1m1 0h1m1 0h1m1 0h2m1 0h1m1 0h1m1 0h1m1 0h1m1 0h2m1 0h1m1 0h1m1 0h1m1 0h1m1 0h2m1 0h1m1 0h1m1 0h1m1 0h1m1 0h2m1 0h1m1 0h1m1 0h1m1 0h1m1 0h2m1 0h1m1 0h1m1 0h1m1 0h1m1 0h2m1 0h1m1 0h1m1 0h1m1 0h1m1 0h2m1 0h1m1 0h1M137 758.5h1m1 0h1m1 0h1m1 0h2m1 0h1m1 0h1m1 0h1m1 0h1m1 0h2m1 0h1m1 0h1m1 0h1m1 0h1m1 0h2m1 0h1m1 0h1m1 0h1m1 0h1m1 0h2m1 0h1m1 0h1m1 0h1m1 0h1m1 0h2m1 0h1m1 0h1m1 0h1m1 0h1m1 0h2m1 0h1m1 0h1m1 0h1m1 0h1m1 0h2m1 0h1m1 0h1m1 0h1m1 0h1m1 0h2m1 0h1m1 0h1m1 0h1m1 0h1m1 0h2m1 0h1m3 0h1m1 0h1m1 0h2m1 0h1m1 0h1m1 0h1m1 0h1m1 0h2m1 0h1m1 0h1m1 0h1m1 0h1m1 0h2m1 0h1m1 0h1m1 0h1m1 0h1m1 0h2m1 0h1m1 0h1m1 0h1m1 0h1m1 0h2m1 0h1m1 0h1m1 0h1m1 0h1m1 0h2m1 0h1m1 0h1m1 0h1m1 0h1m1 0h2m1 0h1m1 0h1m1 0h1m1 0h1m2 0h1m1 0h1m1 0h1m1 0h1m1 0h1m1 0h2m1 0h1m1 0h1m1 0h1m1 0h1m1 0h2m1 0h1m1 0h1m1 0h1m1 0h1m1 0h2m1 0h1m1 0h1m1 0h1m1 0h1m1 0h2m1 0h1m1 0h1m1 0h1m1 0h1m1 0h2m1 0h1m1 0h1m1 0h1m1 0h1m1 0h2m1 0h1m1 0h1m1 0h1m1 0h1m1 0h2m1 0h1m1 0h1m1 0h1m1 0h1m1 0h2m1 0h1m1 0h1M137 760.5h1m1 0h1m1 0h1m1 0h2m1 0h1m1 0h1m1 0h1m1 0h1m1 0h2m1 0h1m1 0h1m1 0h1m1 0h1m1 0h2m1 0h1m1 0h1m1 0h1m1 0h1m1 0h2m1 0h1m1 0h1m1 0h1m1 0h1m1 0h2m1 0h1m1 0h1m1 0h1m1 0h1m1 0h2m1 0h1m1 0h1m1 0h1m1 0h1m1 0h2m1 0h1m1 0h1m1 0h1m1 0h1m1 0h2m1 0h1m1 0h1m1 0h1m1 0h1m1 0h2m1 0h1m3 0h1m1 0h1m1 0h2m1 0h1m1 0h1m1 0h1m1 0h1m1 0h2m1 0h1m1 0h1m1 0h1m1 0h1m1 0h2m1 0h1m1 0h1m1 0h1m1 0h1m1 0h2m1 0h1m1 0h1m1 0h1m1 0h1m1 0h2m1 0h1m1 0h1m1 0h1m1 0h1m1 0h2m1 0h1m1 0h1m1 0h1m1 0h1m1 0h2m1 0h1m1 0h1m1 0h1m1 0h1m2 0h1m1 0h1m1 0h1m1 0h1m1 0h1m1 0h2m1 0h1m1 0h1m1 0h1m1 0h1m1 0h2m1 0h1m1 0h1m1 0h1m1 0h1m1 0h2m1 0h1m1 0h1m1 0h1m1 0h1m1 0h2m1 0h1m1 0h1m1 0h1m1 0h1m1 0h2m1 0h1m1 0h1m1 0h1m1 0h1m1 0h2m1 0h1m1 0h1m1 0h1m1 0h1m1 0h2m1 0h1m1 0h1m1 0h1m1 0h1m1 0h2m1 0h1m1 0h1M137 762.5h1m1 0h1m1 0h1m1 0h2m1 0h1m1 0h1m1 0h1m1 0h1m1 0h2m1 0h1m1 0h1m1 0h1m1 0h1m1 0h2m1 0h1m1 0h1m1 0h1m1 0h1m1 0h2m1 0h1m1 0h1m1 0h1m1 0h1m1 0h2m1 0h1m1 0h1m1 0h1m1 0h1m1 0h2m1 0h1m1 0h1m1 0h1m1 0h1m1 0h2m1 0h1m1 0h1m1 0h1m1 0h1m1 0h2m1 0h1m1 0h1m1 0h1m1 0h1m1 0h2m1 0h1m3 0h1m1 0h1m1 0h2m1 0h1m1 0h1m1 0h1m1 0h1m1 0h2m1 0h1m1 0h1m1 0h1m1 0h1m1 0h2m1 0h1m1 0h1m1 0h1m1 0h1m1 0h2m1 0h1m1 0h1m1 0h1m1 0h1m1 0h2m1 0h1m1 0h1m1 0h1m1 0h1m1 0h2m1 0h1m1 0h1m1 0h1m1 0h1m1 0h2m1 0h1m1 0h1m1 0h1m1 0h1m2 0h1m1 0h1m1 0h1m1 0h1m1 0h1m1 0h2m1 0h1m1 0h1m1 0h1m1 0h1m1 0h2m1 0h1m1 0h1m1 0h1m1 0h1m1 0h2m1 0h1m1 0h1m1 0h1m1 0h1m1 0h2m1 0h1m1 0h1m1 0h1m1 0h1m1 0h2m1 0h1m1 0h1m1 0h1m1 0h1m1 0h2m1 0h1m1 0h1m1 0h1m1 0h1m1 0h2m1 0h1m1 0h1m1 0h1m1 0h1m1 0h2m1 0h1m1 0h1M137 764.5h1m1 0h1m1 0h1m1 0h2m1 0h1m1 0h1m1 0h1m1 0h1m1 0h2m1 0h1m1 0h1m1 0h1m1 0h1m1 0h2m1 0h1m1 0h1m1 0h1m1 0h1m1 0h2m1 0h1m1 0h1m1 0h1m1 0h1m1 0h2m1 0h1m1 0h1m1 0h1m1 0h1m1 0h2m1 0h1m1 0h1m1 0h1m1 0h1m1 0h2m1 0h1m1 0h1m1 0h1m1 0h1m1 0h2m1 0h1m1 0h1m1 0h1m1 0h1m1 0h2m1 0h1m3 0h1m1 0h1m1 0h2m1 0h1m1 0h1m1 0h1m1 0h1m1 0h2m1 0h1m1 0h1m1 0h1m1 0h1m1 0h2m1 0h1m1 0h1m1 0h1m1 0h1m1 0h2m1 0h1m1 0h1m1 0h1m1 0h1m1 0h2m1 0h1m1 0h1m1 0h1m1 0h1m1 0h2m1 0h1m1 0h1m1 0h1m1 0h1m1 0h2m1 0h1m1 0h1m1 0h1m1 0h1m2 0h1m1 0h1m1 0h1m1 0h1m1 0h1m1 0h2m1 0h1m1 0h1m1 0h1m1 0h1m1 0h2m1 0h1m1 0h1m1 0h1m1 0h1m1 0h2m1 0h1m1 0h1m1 0h1m1 0h1m1 0h2m1 0h1m1 0h1m1 0h1m1 0h1m1 0h2m1 0h1m1 0h1m1 0h1m1 0h1m1 0h2m1 0h1m1 0h1m1 0h1m1 0h1m1 0h2m1 0h1m1 0h1m1 0h1m1 0h1m1 0h2m1 0h1m1 0h1M137 765.5h1m1 0h1m1 0h1m1 0h2m1 0h1m1 0h1m1 0h1m1 0h1m1 0h2m1 0h1m1 0h1m1 0h1m1 0h1m1 0h2m1 0h1m1 0h1m1 0h1m1 0h1m1 0h2m1 0h1m1 0h1m1 0h1m1 0h1m1 0h2m1 0h1m1 0h1m1 0h1m1 0h1m1 0h2m1 0h1m1 0h1m1 0h1m1 0h1m1 0h2m1 0h1m1 0h1m1 0h1m1 0h1m1 0h2m1 0h1m1 0h1m1 0h1m1 0h1m1 0h2m1 0h1m3 0h1m1 0h1m1 0h2m1 0h1m1 0h1m1 0h1m1 0h1m1 0h2m1 0h1m1 0h1m1 0h1m1 0h1m1 0h2m1 0h1m1 0h1m1 0h1m1 0h1m1 0h2m1 0h1m1 0h1m1 0h1m1 0h1m1 0h2m1 0h1m1 0h1m1 0h1m1 0h1m1 0h2m1 0h1m1 0h1m1 0h1m1 0h1m1 0h2m1 0h1m1 0h1m1 0h1m1 0h1m2 0h1m1 0h1m1 0h1m1 0h1m1 0h1m1 0h2m1 0h1m1 0h1m1 0h1m1 0h1m1 0h2m1 0h1m1 0h1m1 0h1m1 0h1m1 0h2m1 0h1m1 0h1m1 0h1m1 0h1m1 0h2m1 0h1m1 0h1m1 0h1m1 0h1m1 0h2m1 0h1m1 0h1m1 0h1m1 0h1m1 0h2m1 0h1m1 0h1m1 0h1m1 0h1m1 0h2m1 0h1m1 0h1m1 0h1m1 0h1m1 0h2m1 0h1m1 0h1M137 767.5h1m1 0h1m1 0h1m1 0h2m1 0h1m1 0h1m1 0h1m1 0h1m1 0h2m1 0h1m1 0h1m1 0h1m1 0h1m1 0h2m1 0h1m1 0h1m1 0h1m1 0h1m1 0h2m1 0h1m1 0h1m1 0h1m1 0h1m1 0h2m1 0h1m1 0h1m1 0h1m1 0h1m1 0h2m1 0h1m1 0h1m1 0h1m1 0h1m1 0h2m1 0h1m1 0h1m1 0h1m1 0h1m1 0h2m1 0h1m1 0h1m1 0h1m1 0h1m1 0h2m1 0h1m3 0h1m1 0h1m1 0h2m1 0h1m1 0h1m1 0h1m1 0h1m1 0h2m1 0h1m1 0h1m1 0h1m1 0h1m1 0h2m1 0h1m1 0h1m1 0h1m1 0h1m1 0h2m1 0h1m1 0h1m1 0h1m1 0h1m1 0h2m1 0h1m1 0h1m1 0h1m1 0h1m1 0h2m1 0h1m1 0h1m1 0h1m1 0h1m1 0h2m1 0h1m1 0h1m1 0h1m1 0h1m2 0h1m1 0h1m1 0h1m1 0h1m1 0h1m1 0h2m1 0h1m1 0h1m1 0h1m1 0h1m1 0h2m1 0h1m1 0h1m1 0h1m1 0h1m1 0h2m1 0h1m1 0h1m1 0h1m1 0h1m1 0h2m1 0h1m1 0h1m1 0h1m1 0h1m1 0h2m1 0h1m1 0h1m1 0h1m1 0h1m1 0h2m1 0h1m1 0h1m1 0h1m1 0h1m1 0h2m1 0h1m1 0h1m1 0h1m1 0h1m1 0h2m1 0h1m1 0h1M137 769.5h1m1 0h1m1 0h1m1 0h2m1 0h1m1 0h1m1 0h1m1 0h1m1 0h2m1 0h1m1 0h1m1 0h1m1 0h1m1 0h2m1 0h1m1 0h1m1 0h1m1 0h1m1 0h2m1 0h1m1 0h1m1 0h1m1 0h1m1 0h2m1 0h1m1 0h1m1 0h1m1 0h1m1 0h2m1 0h1m1 0h1m1 0h1m1 0h1m1 0h2m1 0h1m1 0h1m1 0h1m1 0h1m1 0h2m1 0h1m1 0h1m1 0h1m1 0h1m1 0h2m1 0h1m3 0h1m1 0h1m1 0h2m1 0h1m1 0h1m1 0h1m1 0h1m1 0h2m1 0h1m1 0h1m1 0h1m1 0h1m1 0h2m1 0h1m1 0h1m1 0h1m1 0h1m1 0h2m1 0h1m1 0h1m1 0h1m1 0h1m1 0h2m1 0h1m1 0h1m1 0h1m1 0h1m1 0h2m1 0h1m1 0h1m1 0h1m1 0h1m1 0h2m1 0h1m1 0h1m1 0h1m1 0h1m2 0h1m1 0h1m1 0h1m1 0h1m1 0h1m1 0h2m1 0h1m1 0h1m1 0h1m1 0h1m1 0h2m1 0h1m1 0h1m1 0h1m1 0h1m1 0h2m1 0h1m1 0h1m1 0h1m1 0h1m1 0h2m1 0h1m1 0h1m1 0h1m1 0h1m1 0h2m1 0h1m1 0h1m1 0h1m1 0h1m1 0h2m1 0h1m1 0h1m1 0h1m1 0h1m1 0h2m1 0h1m1 0h1m1 0h1m1 0h1m1 0h2m1 0h1m1 0h1M137 771.5h1m1 0h1m1 0h1m1 0h2m1 0h1m1 0h1m1 0h1m1 0h1m1 0h2m1 0h1m1 0h1m1 0h1m1 0h1m1 0h2m1 0h1m1 0h1m1 0h1m1 0h1m1 0h2m1 0h1m1 0h1m1 0h1m1 0h1m1 0h2m1 0h1m1 0h1m1 0h1m1 0h1m1 0h2m1 0h1m1 0h1m1 0h1m1 0h1m1 0h2m1 0h1m1 0h1m1 0h1m1 0h1m1 0h2m1 0h1m1 0h1m1 0h1m1 0h1m1 0h2m1 0h1m3 0h1m1 0h1m1 0h2m1 0h1m1 0h1m1 0h1m1 0h1m1 0h2m1 0h1m1 0h1m1 0h1m1 0h1m1 0h2m1 0h1m1 0h1m1 0h1m1 0h1m1 0h2m1 0h1m1 0h1m1 0h1m1 0h1m1 0h2m1 0h1m1 0h1m1 0h1m1 0h1m1 0h2m1 0h1m1 0h1m1 0h1m1 0h1m1 0h2m1 0h1m1 0h1m1 0h1m1 0h1m2 0h1m1 0h1m1 0h1m1 0h1m1 0h1m1 0h2m1 0h1m1 0h1m1 0h1m1 0h1m1 0h2m1 0h1m1 0h1m1 0h1m1 0h1m1 0h2m1 0h1m1 0h1m1 0h1m1 0h1m1 0h2m1 0h1m1 0h1m1 0h1m1 0h1m1 0h2m1 0h1m1 0h1m1 0h1m1 0h1m1 0h2m1 0h1m1 0h1m1 0h1m1 0h1m1 0h2m1 0h1m1 0h1m1 0h1m1 0h1m1 0h2m1 0h1m1 0h1M137 773.5h1m1 0h1m1 0h1m1 0h2m1 0h1m1 0h1m1 0h1m1 0h1m1 0h2m1 0h1m1 0h1m1 0h1m1 0h1m1 0h2m1 0h1m1 0h1m1 0h1m1 0h1m1 0h2m1 0h1m1 0h1m1 0h1m1 0h1m1 0h2m1 0h1m1 0h1m1 0h1m1 0h1m1 0h2m1 0h1m1 0h1m1 0h1m1 0h1m1 0h2m1 0h1m1 0h1m1 0h1m1 0h1m1 0h2m1 0h1m1 0h1m1 0h1m1 0h1m1 0h2m1 0h1m3 0h1m1 0h1m1 0h2m1 0h1m1 0h1m1 0h1m1 0h1m1 0h2m1 0h1m1 0h1m1 0h1m1 0h1m1 0h2m1 0h1m1 0h1m1 0h1m1 0h1m1 0h2m1 0h1m1 0h1m1 0h1m1 0h1m1 0h2m1 0h1m1 0h1m1 0h1m1 0h1m1 0h2m1 0h1m1 0h1m1 0h1m1 0h1m1 0h2m1 0h1m1 0h1m1 0h1m1 0h1m2 0h1m1 0h1m1 0h1m1 0h1m1 0h1m1 0h2m1 0h1m1 0h1m1 0h1m1 0h1m1 0h2m1 0h1m1 0h1m1 0h1m1 0h1m1 0h2m1 0h1m1 0h1m1 0h1m1 0h1m1 0h2m1 0h1m1 0h1m1 0h1m1 0h1m1 0h2m1 0h1m1 0h1m1 0h1m1 0h1m1 0h2m1 0h1m1 0h1m1 0h1m1 0h1m1 0h2m1 0h1m1 0h1m1 0h1m1 0h1m1 0h2m1 0h1m1 0h1M137 774.5h1m1 0h1m1 0h1m1 0h2m1 0h1m1 0h1m1 0h1m1 0h1m1 0h2m1 0h1m1 0h1m1 0h1m1 0h1m1 0h2m1 0h1m1 0h1m1 0h1m1 0h1m1 0h2m1 0h1m1 0h1m1 0h1m1 0h1m1 0h2m1 0h1m1 0h1m1 0h1m1 0h1m1 0h2m1 0h1m1 0h1m1 0h1m1 0h1m1 0h2m1 0h1m1 0h1m1 0h1m1 0h1m1 0h2m1 0h1m1 0h1m1 0h1m1 0h1m1 0h2m1 0h1m3 0h1m1 0h1m1 0h2m1 0h1m1 0h1m1 0h1m1 0h1m1 0h2m1 0h1m1 0h1m1 0h1m1 0h1m1 0h2m1 0h1m1 0h1m1 0h1m1 0h1m1 0h2m1 0h1m1 0h1m1 0h1m1 0h1m1 0h2m1 0h1m1 0h1m1 0h1m1 0h1m1 0h2m1 0h1m1 0h1m1 0h1m1 0h1m1 0h2m1 0h1m1 0h1m1 0h1m1 0h1m2 0h1m1 0h1m1 0h1m1 0h1m1 0h1m1 0h2m1 0h1m1 0h1m1 0h1m1 0h1m1 0h2m1 0h1m1 0h1m1 0h1m1 0h1m1 0h2m1 0h1m1 0h1m1 0h1m1 0h1m1 0h2m1 0h1m1 0h1m1 0h1m1 0h1m1 0h2m1 0h1m1 0h1m1 0h1m1 0h1m1 0h2m1 0h1m1 0h1m1 0h1m1 0h1m1 0h2m1 0h1m1 0h1m1 0h1m1 0h1m1 0h2m1 0h1m1 0h1M137 776.5h1m1 0h1m1 0h1m1 0h2m1 0h1m1 0h1m1 0h1m1 0h1m1 0h2m1 0h1m1 0h1m1 0h1m1 0h1m1 0h2m1 0h1m1 0h1m1 0h1m1 0h1m1 0h2m1 0h1m1 0h1m1 0h1m1 0h1m1 0h2m1 0h1m1 0h1m1 0h1m1 0h1m1 0h2m1 0h1m1 0h1m1 0h1m1 0h1m1 0h2m1 0h1m1 0h1m1 0h1m1 0h1m1 0h2m1 0h1m1 0h1m1 0h1m1 0h1m1 0h2m1 0h1m3 0h1m1 0h1m1 0h2m1 0h1m1 0h1m1 0h1m1 0h1m1 0h2m1 0h1m1 0h1m1 0h1m1 0h1m1 0h2m1 0h1m1 0h1m1 0h1m1 0h1m1 0h2m1 0h1m1 0h1m1 0h1m1 0h1m1 0h2m1 0h1m1 0h1m1 0h1m1 0h1m1 0h2m1 0h1m1 0h1m1 0h1m1 0h1m1 0h2m1 0h1m1 0h1m1 0h1m1 0h1m2 0h1m1 0h1m1 0h1m1 0h1m1 0h1m1 0h2m1 0h1m1 0h1m1 0h1m1 0h1m1 0h2m1 0h1m1 0h1m1 0h1m1 0h1m1 0h2m1 0h1m1 0h1m1 0h1m1 0h1m1 0h2m1 0h1m1 0h1m1 0h1m1 0h1m1 0h2m1 0h1m1 0h1m1 0h1m1 0h1m1 0h2m1 0h1m1 0h1m1 0h1m1 0h1m1 0h2m1 0h1m1 0h1m1 0h1m1 0h1m1 0h2m1 0h1m1 0h1M137 778.5h1m1 0h1m1 0h1m1 0h2m1 0h1m1 0h1m1 0h1m1 0h1m1 0h2m1 0h1m1 0h1m1 0h1m1 0h1m1 0h2m1 0h1m1 0h1m1 0h1m1 0h1m1 0h2m1 0h1m1 0h1m1 0h1m1 0h1m1 0h2m1 0h1m1 0h1m1 0h1m1 0h1m1 0h2m1 0h1m1 0h1m1 0h1m1 0h1m1 0h2m1 0h1m1 0h1m1 0h1m1 0h1m1 0h2m1 0h1m1 0h1m1 0h1m1 0h1m1 0h2m1 0h1m3 0h1m1 0h1m1 0h2m1 0h1m1 0h1m1 0h1m1 0h1m1 0h2m1 0h1m1 0h1m1 0h1m1 0h1m1 0h2m1 0h1m1 0h1m1 0h1m1 0h1m1 0h2m1 0h1m1 0h1m1 0h1m1 0h1m1 0h2m1 0h1m1 0h1m1 0h1m1 0h1m1 0h2m1 0h1m1 0h1m1 0h1m1 0h1m1 0h2m1 0h1m1 0h1m1 0h1m1 0h1m2 0h1m1 0h1m1 0h1m1 0h1m1 0h1m1 0h2m1 0h1m1 0h1m1 0h1m1 0h1m1 0h2m1 0h1m1 0h1m1 0h1m1 0h1m1 0h2m1 0h1m1 0h1m1 0h1m1 0h1m1 0h2m1 0h1m1 0h1m1 0h1m1 0h1m1 0h2m1 0h1m1 0h1m1 0h1m1 0h1m1 0h2m1 0h1m1 0h1m1 0h1m1 0h1m1 0h2m1 0h1m1 0h1m1 0h1m1 0h1m1 0h2m1 0h1m1 0h1M137 780.5h1m1 0h1m1 0h1m1 0h2m1 0h1m1 0h1m1 0h1m1 0h1m1 0h2m1 0h1m1 0h1m1 0h1m1 0h1m1 0h2m1 0h1m1 0h1m1 0h1m1 0h1m1 0h2m1 0h1m1 0h1m1 0h1m1 0h1m1 0h2m1 0h1m1 0h1m1 0h1m1 0h1m1 0h2m1 0h1m1 0h1m1 0h1m1 0h1m1 0h2m1 0h1m1 0h1m1 0h1m1 0h1m1 0h2m1 0h1m1 0h1m1 0h1m1 0h1m1 0h2m1 0h1m3 0h1m1 0h1m1 0h2m1 0h1m1 0h1m1 0h1m1 0h1m1 0h2m1 0h1m1 0h1m1 0h1m1 0h1m1 0h2m1 0h1m1 0h1m1 0h1m1 0h1m1 0h2m1 0h1m1 0h1m1 0h1m1 0h1m1 0h2m1 0h1m1 0h1m1 0h1m1 0h1m1 0h2m1 0h1m1 0h1m1 0h1m1 0h1m1 0h2m1 0h1m1 0h1m1 0h1m1 0h1m2 0h1m1 0h1m1 0h1m1 0h1m1 0h1m1 0h2m1 0h1m1 0h1m1 0h1m1 0h1m1 0h2m1 0h1m1 0h1m1 0h1m1 0h1m1 0h2m1 0h1m1 0h1m1 0h1m1 0h1m1 0h2m1 0h1m1 0h1m1 0h1m1 0h1m1 0h2m1 0h1m1 0h1m1 0h1m1 0h1m1 0h2m1 0h1m1 0h1m1 0h1m1 0h1m1 0h2m1 0h1m1 0h1m1 0h1m1 0h1m1 0h2m1 0h1m1 0h1M137 782.5h1m1 0h1m1 0h1m1 0h2m1 0h1m1 0h1m1 0h1m1 0h1m1 0h2m1 0h1m1 0h1m1 0h1m1 0h1m1 0h2m1 0h1m1 0h1m1 0h1m1 0h1m1 0h2m1 0h1m1 0h1m1 0h1m1 0h1m1 0h2m1 0h1m1 0h1m1 0h1m1 0h1m1 0h2m1 0h1m1 0h1m1 0h1m1 0h1m1 0h2m1 0h1m1 0h1m1 0h1m1 0h1m1 0h2m1 0h1m1 0h1m1 0h1m1 0h1m1 0h2m1 0h1m3 0h1m1 0h1m1 0h2m1 0h1m1 0h1m1 0h1m1 0h1m1 0h2m1 0h1m1 0h1m1 0h1m1 0h1m1 0h2m1 0h1m1 0h1m1 0h1m1 0h1m1 0h2m1 0h1m1 0h1m1 0h1m1 0h1m1 0h2m1 0h1m1 0h1m1 0h1m1 0h1m1 0h2m1 0h1m1 0h1m1 0h1m1 0h1m1 0h2m1 0h1m1 0h1m1 0h1m1 0h1m2 0h1m1 0h1m1 0h1m1 0h1m1 0h1m1 0h2m1 0h1m1 0h1m1 0h1m1 0h1m1 0h2m1 0h1m1 0h1m1 0h1m1 0h1m1 0h2m1 0h1m1 0h1m1 0h1m1 0h1m1 0h2m1 0h1m1 0h1m1 0h1m1 0h1m1 0h2m1 0h1m1 0h1m1 0h1m1 0h1m1 0h2m1 0h1m1 0h1m1 0h1m1 0h1m1 0h2m1 0h1m1 0h1m1 0h1m1 0h1m1 0h2m1 0h1m1 0h1M183 783.5h1m1 0h1m1 0h2m1 0h1m1 0h1m1 0h1m1 0h1m1 0h2m1 0h1m1 0h1m1 0h1m1 0h1m1 0h2m1 0h1m1 0h1m1 0h1m1 0h1m1 0h2m1 0h1m1 0h1m1 0h1m1 0h1m1 0h2m1 0h1m3 0h1m1 0h1m1 0h2m1 0h1m1 0h1m1 0h1m1 0h1m1 0h2m1 0h1m1 0h1m1 0h1m1 0h1m1 0h2m1 0h1m1 0h1m1 0h1m1 0h1m1 0h2m1 0h1m1 0h1m1 0h1m1 0h1m1 0h2m1 0h1m1 0h1m1 0h1m1 0h1m1 0h2m1 0h1m1 0h1m1 0h1m1 0h1m1 0h2m1 0h1m1 0h1m1 0h1m1 0h1m2 0h1m1 0h1m1 0h1m1 0h1m1 0h1m1 0h2m1 0h1m1 0h1m1 0h1m1 0h1m1 0h2m1 0h1m1 0h1m1 0h1m1 0h1m1 0h2m1 0h1m1 0h1m1 0h1m1 0h1m1 0h2m1 0h1m1 0h1m1 0h1m1 0h1m1 0h2m1 0h1m1 0h1m1 0h1m1 0h1m1 0h2m1 0h1m1 0h1m1 0h1m1 0h1m1 0h2m1 0h1m1 0h1m1 0h1m1 0h1m1 0h2m1 0h1m1 0h1M183 785.5h1m1 0h1m1 0h2m1 0h1m1 0h1m1 0h1m1 0h1m1 0h2m1 0h1m1 0h1m1 0h1m1 0h1m1 0h2m1 0h1m1 0h1m1 0h1m1 0h1m1 0h2m1 0h1m1 0h1m1 0h1m1 0h1m1 0h2m1 0h1m3 0h1m1 0h1m1 0h2m1 0h1m1 0h1m1 0h1m1 0h1m1 0h2m1 0h1m1 0h1m1 0h1m1 0h1m1 0h2m1 0h1m1 0h1m1 0h1m1 0h1m1 0h2m1 0h1m1 0h1m1 0h1m1 0h1m1 0h2m1 0h1m1 0h1m1 0h1m1 0h1m1 0h2m1 0h1m1 0h1m1 0h1m1 0h1m1 0h2m1 0h1m1 0h1m1 0h1m1 0h1m2 0h1m1 0h1m1 0h1m1 0h1m1 0h1m1 0h2m1 0h1m1 0h1m1 0h1m1 0h1m1 0h2m1 0h1m1 0h1m1 0h1m1 0h1m1 0h2m1 0h1m1 0h1m1 0h1m1 0h1m1 0h2m1 0h1m1 0h1m1 0h1m1 0h1m1 0h2m1 0h1m1 0h1m1 0h1m1 0h1m1 0h2m1 0h1m1 0h1m1 0h1m1 0h1m1 0h2m1 0h1m1 0h1m1 0h1m1 0h1m1 0h2m1 0h1m1 0h1M183 787.5h1m1 0h1m1 0h2m1 0h1m1 0h1m1 0h1m1 0h1m1 0h2m1 0h1m1 0h1m1 0h1m1 0h1m1 0h2m1 0h1m1 0h1m1 0h1m1 0h1m1 0h2m1 0h1m1 0h1m1 0h1m1 0h1m1 0h2m1 0h1m3 0h1m1 0h1m1 0h2m1 0h1m1 0h1m1 0h1m1 0h1m54 0h1m1 0h2m1 0h1m1 0h1m1 0h1m1 0h1m2 0h1m1 0h1m1 0h1m1 0h1m1 0h1m1 0h2m1 0h1m1 0h1m1 0h1m1 0h1m1 0h2m1 0h1m1 0h1m1 0h1m1 0h1m1 0h2m1 0h1m1 0h1m1 0h1m1 0h1m1 0h2m1 0h1m1 0h1m1 0h1m1 0h1m1 0h2m1 0h1m1 0h1m1 0h1m1 0h1m1 0h2m1 0h1m1 0h1m1 0h1m1 0h1m1 0h2m1 0h1m1 0h1m1 0h1m1 0h1m1 0h2m1 0h1m1 0h1M183 789.5h1m1 0h1m1 0h2m1 0h1m1 0h1m1 0h1m1 0h1m1 0h2m1 0h1m1 0h1m1 0h1m1 0h1m1 0h2m1 0h1m1 0h1m1 0h1m1 0h1m1 0h2m1 0h1m1 0h1m1 0h1m1 0h1m1 0h2m1 0h1m3 0h1m1 0h1m1 0h2m1 0h1m1 0h1m1 0h1m1 0h1m54 0h1m1 0h2m1 0h1m1 0h1m1 0h1m1 0h1m2 0h1m1 0h1m1 0h1m1 0h1m1 0h1m1 0h2m1 0h1M183 791.5h1m1 0h1m1 0h2m1 0h1m1 0h1m1 0h1m1 0h1m1 0h2m1 0h1m1 0h1m1 0h1m1 0h1m1 0h2m1 0h1m1 0h1m1 0h1m1 0h1m1 0h2m1 0h1m1 0h1m1 0h1m1 0h1m1 0h2m1 0h1m3 0h1m1 0h1m1 0h2m1 0h1m1 0h1m1 0h1m1 0h1m54 0h1m1 0h2m1 0h1m1 0h1m1 0h1m1 0h1m2 0h1m1 0h1m1 0h1m1 0h1m1 0h1m1 0h2m1 0h1M183 792.5h1m1 0h1m1 0h2m1 0h1m1 0h1m1 0h1m1 0h1m1 0h2m1 0h1m1 0h1m1 0h1m1 0h1m1 0h2m1 0h1m1 0h1m1 0h1m1 0h1m1 0h2m1 0h1m1 0h1m1 0h1m1 0h1m1 0h2m1 0h1m3 0h1m1 0h1m1 0h2m1 0h1m1 0h1m1 0h1m1 0h1m54 0h1m1 0h2m1 0h1m1 0h1m1 0h1m1 0h1m2 0h1m1 0h1m1 0h1m1 0h1m1 0h1m1 0h2m1 0h1M183 794.5h1m1 0h1m1 0h2m1 0h1m1 0h1m1 0h1m1 0h1m1 0h2m1 0h1m1 0h1m1 0h1m1 0h1m1 0h2m1 0h1m1 0h1m1 0h1m1 0h1m1 0h2m1 0h1m1 0h1m1 0h1m1 0h1m1 0h2m1 0h1m3 0h1m1 0h1m1 0h2m1 0h1m1 0h1m1 0h1m1 0h1m1 0h2m1 0h1m1 0h1m1 0h1m1 0h1m1 0h2m1 0h1m1 0h1m1 0h1m1 0h1m1 0h2m1 0h1m1 0h1m1 0h1m1 0h1m1 0h2m1 0h1m1 0h1m1 0h1m1 0h1m1 0h2m1 0h1m1 0h1m1 0h1m1 0h1m1 0h2m1 0h1m1 0h1m1 0h1m1 0h1m2 0h1m1 0h1m1 0h1m1 0h1m1 0h1m1 0h2m1 0h1M183 796.5h1m1 0h1m1 0h2m1 0h1m1 0h1m1 0h1m1 0h1m1 0h2m1 0h1m1 0h1m1 0h1m1 0h1m1 0h2m1 0h1m1 0h1m1 0h1m1 0h1m1 0h2m1 0h1m1 0h1m1 0h1m1 0h1m1 0h2m1 0h1m3 0h1m1 0h1m1 0h2m1 0h1m1 0h1m1 0h1m1 0h1m1 0h2m1 0h1m1 0h1m1 0h1m1 0h1m1 0h2m1 0h1m1 0h1m1 0h1m1 0h1m1 0h2m1 0h1m1 0h1m1 0h1m1 0h1m1 0h2m1 0h1m1 0h1m1 0h1m1 0h1m1 0h2m1 0h1m1 0h1m1 0h1m1 0h1m1 0h2m1 0h1m1 0h1m1 0h1m1 0h1m2 0h1m1 0h1m1 0h1m1 0h1m1 0h1m1 0h2m1 0h1"/></g>
<g><path d="M141.2 192.4Q155 193.4 166.2 195.8L166.2 207.7L141.2 207.7Z" fill="#fff"/>
<path d="M141.2 224Q155 223 166.2 220.6L166.2 208.7L141.2 208.7Z" fill="#fff"/>
<path d="M141.2 456.7Q155 457.7 166.2 460.1L166.2 472L141.2 472Z" fill="#fff"/>
<path d="M141.2 488.3Q155 487.3 166.2 484.9L166.2 473L141.2 473Z" fill="#fff"/>
<path d="M141.2 584.4Q155 585.4 166.2 587.8L166.2 599.7L141.2 599.7Z" fill="#fff"/>
<rect class="k" x="371.8" y="624.7" width="63" height="51.6" stroke-width="1" fill="#fff"/>
<path d="M167 796.8V758.9A9.4 9.4 0 1 1 181.6 754V796.8Z" fill="#fff" stroke="#000" stroke-width="0.8"/>
<path d="M182 750.9 L191.6 752.1 L191.6 758.3 L182 759.5 Z" fill="#fff" stroke="#000" stroke-width="0.9"/>
<path d="M182 763 L191.6 764.2 L191.6 770.4 L182 771.6 Z" fill="#fff" stroke="#000" stroke-width="0.9"/>
<path d="M182 774.8 L191.6 776 L191.6 782.2 L182 783.4 Z" fill="#fff" stroke="#000" stroke-width="0.9"/>
<path d="M182 786.9 L191.6 788.1 L191.6 794.3 L182 795.5 Z" fill="#fff" stroke="#000" stroke-width="0.9"/>
<rect class="k" x="218.8" y="745.8" width="13.7" height="36.2" stroke-width="0.9" fill="#fff"/>
<path d="M254.5 749.5H299.5L302 752V767L299.5 769.5H254.5L252 767V752Z" fill="#fff" stroke="#000" stroke-width="0.8"/>
<rect class="k" x="356" y="701.3" width="26.3" height="72.5" stroke-width="0.9" fill="#fff"/></g>
<g fill="none" stroke="#000" stroke-width="1"><path d="M128 57L414 57" stroke-width="1" class="k"/>
<path d="M121.25 64.4L876.3 64.4" stroke-width="1" class="k"/>
<path d="M115.5 72L413.5 72" stroke-width="1" class="k"/>
<path d="M422 71.4L874.5 71.4" stroke-width="1" class="k"/>
<path d="M115.8 72L115.8 797.5" stroke-width="1" class="k"/>
<path d="M121.25 64.4L121.25 802.7" stroke-width="1" class="k"/>
<path d="M128 57L128 809.5" stroke-width="1" class="k"/>
<path d="M124.3 126L124.3 665" stroke-width="1" class="k"/>
<path d="M115.8 797.2L413.5 797.2" stroke-width="1" class="k"/>
<path d="M121.25 802.7L610.5 802.7" stroke-width="1" class="k"/>
<path d="M134.4 800.2L407.2 800.2" stroke-width="1" class="k"/>
<path d="M128 809.5L414 809.5" stroke-width="1" class="k"/>
<path d="M419.2 809.5L603.3 809.5" stroke-width="1" class="k"/>
<path d="M128.2 803.5L128.2 811" stroke-width="1" class="k"/>
<path d="M414 803.5L414 811" stroke-width="1" class="k"/>
<path d="M419.2 803.5L419.2 811" stroke-width="1" class="k"/>
<path d="M603.3 803.5L603.3 811" stroke-width="1" class="k"/>
<path d="M236.7 794L236.7 815.5" stroke-width="1" class="k"/>
<path d="M318.8 794L318.8 815.5" stroke-width="1" class="k"/>
<rect class="k" x="121.3" y="138" width="13.1" height="12.5" fill="#000" stroke="none"/>
<rect class="k" x="121.3" y="273.5" width="13.1" height="10.8" fill="#000" stroke="none"/>
<rect class="k" x="121.3" y="394" width="13.1" height="12" fill="#000" stroke="none"/>
<rect class="k" x="121.3" y="528" width="13.1" height="12" fill="#000" stroke="none"/>
<rect class="k" x="121.3" y="665" width="13.1" height="11.5" fill="#000" stroke="none"/>
<rect class="k" x="121.3" y="790.8" width="13.1" height="12.9" fill="#000" stroke="none"/>
<rect class="k" x="268" y="138" width="12.5" height="12.6" fill="#000" stroke="none"/>
<rect class="k" x="268" y="273" width="12.5" height="11.6" fill="#000" stroke="none"/>
<rect class="k" x="268" y="394" width="12.5" height="12" fill="#000" stroke="none"/>
<rect class="k" x="268" y="528" width="12.5" height="12" fill="#000" stroke="none"/>
<rect class="k" x="268" y="665" width="12.5" height="11.5" fill="#000" stroke="none"/>
<rect class="k" x="268" y="790.8" width="12.5" height="12.9" fill="#000" stroke="none"/>
<rect class="k" x="407.2" y="138.7" width="28.8" height="12.1" fill="#000" stroke="none"/>
<rect class="k" x="407.2" y="273.2" width="28.8" height="12.7" fill="#000" stroke="none"/>
<rect class="k" x="407.2" y="393.5" width="28.8" height="11.8" fill="#000" stroke="none"/>
<rect class="k" x="407.2" y="528" width="28.8" height="12" fill="#000" stroke="none"/>
<rect class="k" x="407.2" y="664.5" width="28.8" height="12" fill="#000" stroke="none"/>
<rect class="k" x="407.2" y="790.8" width="28.8" height="12.9" fill="#000" stroke="none"/>
<rect class="k" x="588" y="273.2" width="22.7" height="12.7" fill="#000" stroke="none"/>
<rect class="k" x="588" y="393.5" width="22.7" height="11.8" fill="#000" stroke="none"/>
<rect class="k" x="590.5" y="528" width="20.2" height="12" fill="#000" stroke="none"/>
<rect class="k" x="588" y="664" width="22.7" height="12.5" fill="#000" stroke="none"/>
<rect class="k" x="588" y="790.8" width="22.7" height="12.9" fill="#000" stroke="none"/>
<rect class="k" x="111.2" y="97.5" width="5.6" height="11.5" fill="#000" stroke="none"/>
<rect class="k" x="111.2" y="171" width="5.6" height="11.3" fill="#000" stroke="none"/>
<rect class="k" x="111.2" y="235" width="5.6" height="11" fill="#000" stroke="none"/>
<rect class="k" x="111.2" y="335.3" width="5.6" height="11.2" fill="#000" stroke="none"/>
<rect class="k" x="111.2" y="435.3" width="5.6" height="11.2" fill="#000" stroke="none"/>
<rect class="k" x="111.2" y="500" width="5.6" height="10" fill="#000" stroke="none"/>
<rect class="k" x="111.2" y="562.4" width="5.6" height="10.6" fill="#000" stroke="none"/>
<rect class="k" x="111.2" y="631.5" width="5.6" height="11" fill="#000" stroke="none"/>
<rect class="k" x="111.2" y="688.3" width="5.6" height="10" fill="#000" stroke="none"/>
<rect class="k" x="111.2" y="749.5" width="5.6" height="10" fill="#000" stroke="none"/>
<rect class="k" x="109.7" y="135" width="5.9" height="9" fill="#000" stroke="none"/>
<rect class="k" x="109.7" y="201.5" width="5.9" height="6.5" fill="#000" stroke="none"/>
<rect class="k" x="109.7" y="266.5" width="5.9" height="5.2" fill="#000" stroke="none"/>
<rect class="k" x="109.7" y="402.7" width="5.9" height="6.3" fill="#000" stroke="none"/>
<rect class="k" x="109.7" y="467.5" width="5.9" height="5.2" fill="#000" stroke="none"/>
<rect class="k" x="109.7" y="530.5" width="5.9" height="5.8" fill="#000" stroke="none"/>
<rect class="k" x="109.7" y="594.5" width="5.9" height="5.5" fill="#000" stroke="none"/>
<rect class="k" x="109.7" y="666.3" width="5.9" height="8.2" fill="#000" stroke="none"/>
<rect class="k" x="109.7" y="703.3" width="5.9" height="8.2" fill="#000" stroke="none"/>
<rect class="k" x="162.5" y="53" width="12.5" height="4" fill="#000" stroke="none"/>
<rect class="k" x="208" y="51.2" width="9.5" height="4" fill="#000" stroke="none"/>
<rect class="k" x="233" y="53" width="11.5" height="4" fill="#000" stroke="none"/>
<rect class="k" x="270" y="51.2" width="9" height="4" fill="#000" stroke="none"/>
<rect class="k" x="292" y="53" width="12" height="4" fill="#000" stroke="none"/>
<rect class="k" x="327" y="51.2" width="9" height="4" fill="#000" stroke="none"/>
<rect class="k" x="365" y="53" width="12" height="4" fill="#000" stroke="none"/>
<rect class="k" x="166" y="806" width="12.7" height="3.5" fill="#000" stroke="none"/>
<rect class="k" x="270.5" y="806" width="12.5" height="3.5" fill="#000" stroke="none"/>
<rect class="k" x="360" y="806" width="12.6" height="3.5" fill="#000" stroke="none"/>
<rect class="k" x="505" y="806" width="12.7" height="3.5" fill="#000" stroke="none"/>
<rect class="k" x="236.7" y="812.3" width="6.5" height="3.2" fill="#000" stroke="none"/>
<rect class="k" x="320.3" y="812.3" width="7.7" height="3.2" fill="#000" stroke="none"/>
<path class="k" d="M874.5 196.5L874.5 404.3L861.3 404.3L861.3 796.4L610.5 796.4" stroke-width="1" fill="none"/>
<path class="k" d="M881.75 288.3L881.75 411.3L869.5 411.3L869.5 803.3L610.5 803.3" stroke-width="1" fill="none"/>
<path d="M874.5 196.5L881.75 196.5" stroke-width="1" class="k"/>
<path d="M881.75 196.5L881.75 263.3" stroke-width="1" class="k"/>
<path d="M838.8 71.4L838.8 157.5" stroke-width="1" class="k"/>
<path d="M841.8 71.4L841.8 157.5" stroke-width="1" class="k"/>
<path d="M838.8 157.5L841.8 157.5" stroke-width="1" class="k"/>
<path d="M874.5 71.4L874.5 134.5" stroke-width="1" class="k"/>
<path d="M874.5 134.5L881.75 134.5" stroke-width="1" class="k"/>
<path d="M841.8 95.3L874.5 95.3" stroke-width="1" class="k"/>
<path d="M841.8 100.74L874.5 100.74" stroke-width="1" class="k"/>
<path d="M841.8 106.18L874.5 106.18" stroke-width="1" class="k"/>
<path d="M841.8 111.62L874.5 111.62" stroke-width="1" class="k"/>
<path d="M841.8 117.06L874.5 117.06" stroke-width="1" class="k"/>
<path d="M841.8 122.5L874.5 122.5" stroke-width="1" class="k"/>
<path d="M841.8 127.94L874.5 127.94" stroke-width="1" class="k"/>
<path d="M841.8 133.38L874.5 133.38" stroke-width="1" class="k"/>
<path d="M857.7 81.5L857.7 133.4" stroke-width="1" class="k"/>
<path d="M845.8 81.5L857.7 81.5" stroke-width="1" class="k"/>
<path d="M850.5 79L845.8 81.5L850.5 84.2" stroke-width="1" fill="none"/>
<path d="M849.9 114.6L857.7 111.5L865 114.6" stroke-width="1" fill="none"/>
<path class="k" d="M876.3 65L876.3 37.5L1010 37.5L1010 288.3L881.75 288.3" stroke-width="1" fill="none"/>
<path class="k" d="M881.75 134.5L881.75 42.5L1004.5 42.5L1004.5 285L938.8 285" stroke-width="1" fill="none"/>
<path d="M897 110.5L1004.5 110.5" stroke-width="1" class="k"/>
<path d="M897 114.5L1004.5 114.5" stroke-width="1" class="k"/>
<path d="M897 106.3L897 114.5" stroke-width="1" class="k"/>
<path d="M881.75 95.2A15.3 15.3 0 0 1 897.05 110.5" stroke-width="1" fill="none"/>
<path d="M935.5 114.5L935.5 163" stroke-width="1" class="k"/>
<path d="M938.8 114.5L938.8 159.5" stroke-width="1" class="k"/>
<rect class="k" x="950" y="114.5" width="1.6" height="15" stroke-width="0.8" fill="none"/>
<rect class="k" x="963.5" y="114.5" width="1.6" height="15" stroke-width="0.8" fill="none"/>
<rect class="k" x="975.5" y="114.5" width="1.6" height="15" stroke-width="0.8" fill="none"/>
<rect class="k" x="989.2" y="114.5" width="1.6" height="15" stroke-width="0.8" fill="none"/>
<path d="M935.5 163L960 163" stroke-width="1" class="k"/>
<path d="M938.8 159.5L941.8 159.5" stroke-width="1" class="k"/>
<path d="M941.8 159.5L941.8 163" stroke-width="1" class="k"/>
<rect class="k" x="960" y="159.5" width="8.3" height="3.5" stroke-width="1" fill="none"/>
<path d="M961.3 163L961.3 185" stroke-width="1" class="k"/>
<path d="M964.3 163L964.3 185" stroke-width="1" class="k"/>
<rect class="k" x="981.3" y="159.5" width="1.9" height="25.5" stroke-width="0.8" fill="none"/>
<rect class="k" x="998.3" y="159.5" width="6.2" height="3.5" stroke-width="1" fill="none"/>
<path d="M935.5 184.5L1004.5 184.5" stroke-width="1" class="k"/>
<path d="M938.8 188.3L1004.5 188.3" stroke-width="1" class="k"/>
<path d="M935.5 184.5L935.5 244.5" stroke-width="1" class="k"/>
<path d="M938.8 188.3L938.8 244.5" stroke-width="1" class="k"/>
<path d="M935.5 244.5L938.8 244.5" stroke-width="1" class="k"/>
<rect class="k" x="961.3" y="188.3" width="2.5" height="4.2" stroke-width="0.8" fill="none"/>
<rect class="k" x="961.3" y="209.2" width="43.2" height="3.1" stroke-width="1" fill="none"/>
<path class="k" d="M961.3 228L961.3 237.5L1004.5 237.5" stroke-width="1" fill="none"/>
<path class="k" d="M964.3 228L964.3 234.3L1004.5 234.3" stroke-width="1" fill="none"/>
<path d="M961.3 228L964.3 228" stroke-width="1" class="k"/>
<path d="M881.75 263.3L916.3 263.3" stroke-width="1" class="k"/>
<path d="M881.75 266.8L913.3 266.8" stroke-width="1" class="k"/>
<path d="M913.3 266.8L913.3 285" stroke-width="1" class="k"/>
<path d="M916.3 263.3L916.3 281.3" stroke-width="1" class="k"/>
<path d="M916.3 281.3L935.5 281.3" stroke-width="1" class="k"/>
<path d="M881.75 285L938.8 285" stroke-width="1" class="k"/>
<path d="M935.5 263.3L935.5 281.3" stroke-width="1" class="k"/>
<path d="M938.8 266.8L938.8 285" stroke-width="1" class="k"/>
<path d="M935.5 263.3L1004.5 263.3" stroke-width="1" class="k"/>
<path d="M938.8 266.8L1004.5 266.8" stroke-width="1" class="k"/>
<path d="M150 94.5L150 141.5" stroke-width="1" class="k"/>
<path d="M150 94.5L207 94.5" stroke-width="1" class="k"/>
<path d="M207 57L207 119.5" stroke-width="1" class="k"/>
<path d="M209.5 57L209.5 119" stroke-width="1" class="k"/>
<path d="M207 119L250 119" stroke-width="1" class="k"/>
<path d="M209.5 120.4L250 120.4" stroke-width="1" class="k"/>
<path d="M190 141.5A17.5 17.5 0 0 1 207.5 124" stroke-width="1" fill="none"/>
<path d="M250 119.7A16.3 16.3 0 0 0 266.3 136" stroke-width="1" fill="none"/>
<path d="M266.3 119L266.3 138" stroke-width="1" class="k"/>
<path d="M268.3 57L268.3 138" stroke-width="1" class="k"/>
<path d="M271.4 57L271.4 138" stroke-width="1" class="k"/>
<rect class="k" x="241" y="64.4" width="25" height="7.6" stroke-width="1" fill="none"/>
<path d="M241 68.4L266 68.4" stroke-width="0.8" class="k"/>
<rect class="k" x="280.5" y="64.4" width="35.1" height="7.6" stroke-width="1" fill="none"/>
<path d="M280.5 68.4L315.6 68.4" stroke-width="0.8" class="k"/>
<rect class="k" x="329.6" y="64.4" width="77.1" height="7.6" stroke-width="1" fill="none"/>
<path d="M329.6 68.4L406.7 68.4" stroke-width="0.8" class="k"/>
<path d="M362.9 64.4L362.9 72" stroke-width="1" class="k"/>
<path d="M372.6 64.4L372.6 72" stroke-width="1" class="k"/>
<path d="M325.2 57L325.2 148" stroke-width="1" class="k"/>
<path d="M328.2 57L328.2 148" stroke-width="1" class="k"/>
<rect class="k" x="271" y="106" width="10" height="31.6" stroke-width="0.8" fill="#fff"/>
<rect class="k" x="271.4" y="110.1" width="3.3" height="27.2" fill="#000" stroke="none"/>
<rect class="k" x="276.5" y="116.2" width="4.2" height="20.6" fill="#000" stroke="none"/>
<circle cx="312.1" cy="119.2" r="8.3" stroke-width="1" fill="#fff"/>
<rect class="k" x="313" y="101.2" width="10.5" height="9.3" stroke-width="1" fill="#fff"/>
<use href="#c" transform="translate(304.4 92.3) rotate(45) scale(0.82)"/>
<rect class="k" x="272" y="83" width="2" height="2" fill="#000" stroke="none"/>
<path d="M280.5 148.4L325.2 148.4" stroke-width="1" class="k"/>
<rect class="k" x="329.3" y="73.1" width="77.1" height="67.2" stroke-width="1" fill="none"/>
<path d="M341.9 87.7L341.9 127" stroke-width="1" class="k"/>
<path d="M393.6 87.7L393.6 127" stroke-width="1" class="k"/>
<path d="M329.3 106.1L341.9 106.1" stroke-width="1" class="k"/>
<path d="M393.6 106.1L406.4 106.1" stroke-width="1" class="k"/>
<rect class="k" x="353.3" y="75.4" width="9.2" height="11.4" stroke-width="1" fill="none"/>
<rect class="k" x="353.3" y="126.8" width="9.2" height="11.7" stroke-width="1" fill="none"/>
<rect class="k" x="373.8" y="75.4" width="9.2" height="11.4" stroke-width="1" fill="none"/>
<rect class="k" x="373.8" y="126.8" width="9.2" height="11.7" stroke-width="1" fill="none"/>
<path d="M341.9 87.7L353.3 87.7" stroke-width="1" class="k"/>
<path d="M383 87.7L393.6 87.7" stroke-width="1" class="k"/>
<path d="M341.9 126.8L353.3 126.8" stroke-width="1" class="k"/>
<path d="M383 126.8L393.6 126.8" stroke-width="1" class="k"/>
<use href="#c" transform="translate(348.9 93.5) rotate(135) scale(0.95)"/>
<use href="#c" transform="translate(387.5 93.2) rotate(-135) scale(0.95)"/>
<use href="#c" transform="translate(348.9 120.1) rotate(45) scale(0.95)"/>
<use href="#c" transform="translate(387.5 120.1) rotate(-45) scale(0.95)"/>
<path d="M328.2 140.3L407.1 140.3" stroke-width="1" class="k"/>
<path d="M328.2 145.5L407.1 145.5" stroke-width="1" class="k"/>
<rect class="k" x="340.1" y="140.6" width="11.4" height="4.9" fill="#000" stroke="none"/>
<rect class="k" x="363.8" y="140.6" width="9.3" height="4.9" fill="#000" stroke="none"/>
<rect class="k" x="384.8" y="140.6" width="11.4" height="4.9" fill="#000" stroke="none"/>
<rect class="k" x="330.5" y="147.8" width="6.5" height="3.5" fill="#000" stroke="none"/>
<rect class="k" x="398" y="147.3" width="6.6" height="3.5" fill="#000" stroke="none"/>
<path d="M407.1 64.4L407.1 139" stroke-width="1" class="k"/>
<path d="M413.6 57L413.6 139" stroke-width="1" class="k"/>
<path d="M421.6 64.4L421.6 139" stroke-width="1" class="k"/>
<path d="M413.6 171.6L413.6 272.8" stroke-width="1" class="k"/>
<path d="M421.6 151L421.6 272.8" stroke-width="1" class="k"/>
<path d="M413.6 171.6L421.6 171.6" stroke-width="1" class="k"/>
<path d="M413.6 176.4L421.6 176.4" stroke-width="1" class="k"/>
<path d="M435.2 151A21.5 21.5 0 0 1 413.7 172.5" stroke-width="1" fill="none"/>
<path class="k" d="M435.8 138.3L448.7 138.3L448.7 184.5L421.6 184.5" stroke-width="1" fill="none"/>
<rect class="k" x="448.7" y="144.4" width="20.2" height="33.1" stroke-width="1" fill="none"/>
<path d="M448.7 147.3L468.9 147.3" stroke-width="1" class="k"/>
<path d="M448.7 174.6L468.9 174.6" stroke-width="1" class="k"/>
<path d="M454.6 147.3L454.6 174.6" stroke-width="1" class="k"/>
<path d="M461.6 147.3L461.6 174.6" stroke-width="1" class="k"/>
<path d="M115.8 142L209.4 142" stroke-width="1" class="k"/>
<path d="M115.8 146L209.4 146" stroke-width="1" class="k"/>
<path d="M209.7 142L209.7 146" stroke-width="1" class="k"/>
<path d="M115.8 207.2L209.4 207.2" stroke-width="1" class="k"/>
<path d="M115.8 209.2L209.4 209.2" stroke-width="1" class="k"/>
<path d="M209.4 146L209.4 271.5" stroke-width="1" class="k"/>
<path d="M141.7 147.5L141.7 192.7" stroke-width="0.7" class="k"/>
<path d="M141.7 223.7L141.7 270" stroke-width="0.7" class="k"/>
<rect class="k" x="179.3" y="147" width="25.9" height="9.3" fill="#000" stroke="none"/>
<rect x="199.9" y="151.5" width="5.6" height="5" fill="#fff" stroke="none"/>
<rect class="k" x="179.1" y="266.2" width="26.5" height="3.8" fill="#000" stroke="none"/>
<rect class="k" x="180.4" y="261.9" width="19.4" height="3.4" fill="#000" stroke="none"/>
<circle cx="174.5" cy="194.8" r="7.6" stroke-width="1" fill="#fff"/>
<circle cx="174.5" cy="222.4" r="7.6" stroke-width="1" fill="#fff"/>
<rect class="k" x="156.6" y="195.9" width="8.6" height="11.3" stroke-width="0.9" fill="none"/>
<rect class="k" x="156.6" y="209.2" width="8.6" height="11.3" stroke-width="0.9" fill="none"/>
<use href="#c" transform="translate(148.4 185.9) rotate(45) scale(0.82)"/>
<use href="#c" transform="translate(148.4 231.2) rotate(135) scale(0.82)"/>
<path d="M170.7 204.8H188.8M170.7 211.6H188.8" stroke-width="1.8" stroke-dasharray="1.6 0.9"/>
<path d="M209.4 188.9A19.3 19.3 0 0 0 190.1 208.2" stroke-width="1.3" fill="none"/>
<path d="M209.4 227.5A19.3 19.3 0 0 1 190.1 208.2" stroke-width="1.3" fill="none"/>
<rect class="k" x="209.4" y="188.2" width="6.2" height="19.2" stroke-width="0.9" fill="#fff"/>
<rect class="k" x="209.4" y="209" width="6.2" height="19.7" stroke-width="0.9" fill="#fff"/>
<rect class="k" x="210" y="193.9" width="5.6" height="8.3" fill="#000" stroke="none"/>
<rect class="k" x="210" y="214.7" width="5.6" height="8.5" fill="#000" stroke="none"/>
<path d="M115.8 271.3L216 271.3" stroke-width="1" class="k"/>
<path d="M115.8 273.5L216 273.5" stroke-width="1" class="k"/>
<rect class="k" x="211.2" y="266.5" width="5.1" height="5" fill="#000" stroke="none"/>
<rect class="k" x="121.5" y="209.3" width="6.7" height="6.5" stroke-width="0.8" fill="none"/>
<rect class="k" x="121.5" y="461.2" width="6.7" height="10.3" stroke-width="0.8" fill="none"/>
<rect class="k" x="121.5" y="594.6" width="6.7" height="4.4" stroke-width="0.8" fill="none"/>
<rect class="k" x="121.5" y="602" width="6.7" height="3.7" stroke-width="0.8" fill="none"/>
<path d="M115.8 406.8L213 406.8" stroke-width="1" class="k"/>
<path d="M115.8 409.3L213 409.3" stroke-width="1" class="k"/>
<rect class="k" x="208" y="401.5" width="5.7" height="5.5" fill="#000" stroke="none"/>
<path d="M115.8 471.5L209.4 471.5" stroke-width="1" class="k"/>
<path d="M115.8 473.5L209.4 473.5" stroke-width="1" class="k"/>
<path d="M209.4 409.3L209.4 534.2" stroke-width="1" class="k"/>
<path d="M141.7 410.8L141.7 457" stroke-width="0.7" class="k"/>
<path d="M141.7 488L141.7 532.7" stroke-width="0.7" class="k"/>
<rect class="k" x="179.1" y="410.8" width="26.5" height="3.8" fill="#000" stroke="none"/>
<rect class="k" x="180.4" y="415.5" width="19.4" height="3.4" fill="#000" stroke="none"/>
<rect class="k" x="179.1" y="528.9" width="26.5" height="3.8" fill="#000" stroke="none"/>
<rect class="k" x="180.4" y="524.6" width="19.4" height="3.4" fill="#000" stroke="none"/>
<circle cx="174.5" cy="459.1" r="7.6" stroke-width="1" fill="#fff"/>
<circle cx="174.5" cy="486.7" r="7.6" stroke-width="1" fill="#fff"/>
<rect class="k" x="156.6" y="460.2" width="8.6" height="11.3" stroke-width="0.9" fill="none"/>
<rect class="k" x="156.6" y="473.5" width="8.6" height="11.3" stroke-width="0.9" fill="none"/>
<use href="#c" transform="translate(148.4 450.2) rotate(45) scale(0.82)"/>
<use href="#c" transform="translate(148.4 495.5) rotate(135) scale(0.82)"/>
<path d="M170.7 469.1H188.8M170.7 475.9H188.8" stroke-width="1.8" stroke-dasharray="1.6 0.9"/>
<path d="M209.4 453.2A19.3 19.3 0 0 0 190.1 472.5" stroke-width="1.3" fill="none"/>
<path d="M209.4 491.8A19.3 19.3 0 0 1 190.1 472.5" stroke-width="1.3" fill="none"/>
<rect class="k" x="209.4" y="452.5" width="6.2" height="19.2" stroke-width="0.9" fill="#fff"/>
<rect class="k" x="209.4" y="473.3" width="6.2" height="19.7" stroke-width="0.9" fill="#fff"/>
<rect class="k" x="210" y="458.2" width="5.6" height="8.3" fill="#000" stroke="none"/>
<rect class="k" x="210" y="479" width="5.6" height="8.5" fill="#000" stroke="none"/>
<path d="M115.8 533.8L209.4 533.8" stroke-width="1" class="k"/>
<path d="M115.8 537.5L209.4 537.5" stroke-width="1" class="k"/>
<path d="M115.8 599.2L209.4 599.2" stroke-width="1" class="k"/>
<path d="M115.8 601.2L209.4 601.2" stroke-width="1" class="k"/>
<path d="M209.4 537.5L209.4 674" stroke-width="1" class="k"/>
<path d="M141.7 539L141.7 584.7" stroke-width="0.7" class="k"/>
<path d="M141.7 614.5L141.7 673.4" stroke-width="0.7" class="k"/>
<rect class="k" x="179.5" y="539" width="26.8" height="4" fill="#000" stroke="none"/>
<rect class="k" x="180.4" y="544" width="19.4" height="3.5" fill="#000" stroke="none"/>
<circle cx="174.3" cy="585.3" r="7.6" stroke-width="1" fill="#fff"/>
<rect class="k" x="156.6" y="587.9" width="8.6" height="11.3" stroke-width="0.9" fill="none"/>
<rect class="k" x="156.6" y="601.7" width="8.6" height="11.3" stroke-width="0.9" fill="none"/>
<use href="#c" transform="translate(148.4 577.5) rotate(45) scale(0.82)"/>
<use href="#c" transform="translate(147.9 622.5) rotate(135) scale(0.82)"/>
<rect class="k" x="170.7" y="596" width="18.1" height="2" fill="#000" stroke="none"/>
<rect class="k" x="170.7" y="602.4" width="12.3" height="2" fill="#000" stroke="none"/>
<path d="M209.4 580.9A19.3 19.3 0 0 0 190.1 600.2" stroke-width="1.3" fill="none"/>
<path d="M209.4 619.5A19.3 19.3 0 0 1 190.1 600.2" stroke-width="1.3" fill="none"/>
<rect class="k" x="209.9" y="579.2" width="5.7" height="20" stroke-width="0.9" fill="#fff"/>
<rect class="k" x="209.9" y="601.5" width="5.7" height="18.7" stroke-width="0.9" fill="#fff"/>
<rect class="k" x="210.3" y="585.8" width="5.3" height="8.2" fill="#000" stroke="none"/>
<rect class="k" x="210.3" y="606.4" width="5.3" height="8.8" fill="#000" stroke="none"/>
<circle cx="183.1" cy="652.1" r="7.2" stroke-width="1" fill="#fff"/>
<use href="#c" transform="translate(173.7 642) rotate(-45) scale(0.9)"/>
<use href="#c" transform="translate(193.8 641) rotate(45) scale(0.9)"/>
<use href="#c" transform="translate(173 662.8) rotate(-135) scale(0.9)"/>
<use href="#c" transform="translate(193.4 662.8) rotate(135) scale(0.9)"/>
<path d="M115.8 673.4L209.4 673.4" stroke-width="1" class="k"/>
<path d="M133.7 675.8L216.5 675.8" stroke-width="1" class="k"/>
<path d="M207.5 273.5L207.5 406.8" stroke-width="1" class="k"/>
<path d="M134.3 284L134.3 394" stroke-width="1.3" class="k"/>
<path d="M201.3 273.5L201.3 306.5" stroke-width="1" class="k"/>
<path d="M201.3 375.5L201.3 406.8" stroke-width="1" class="k"/>
<rect class="k" x="202" y="285.3" width="5.5" height="11.2" fill="#000" stroke="none"/>
<rect class="k" x="202" y="335.3" width="5.5" height="11.2" fill="#000" stroke="none"/>
<rect class="k" x="202" y="385.3" width="5.5" height="11.2" fill="#000" stroke="none"/>
<path d="M167.5 273.5L167.5 287.8" stroke-width="1" class="k"/>
<path d="M167.5 394.2L167.5 406.8" stroke-width="1" class="k"/>
<path d="M147.5 287.8L187.5 287.8" stroke-width="1" class="k"/>
<path d="M147.5 394.2L187.5 394.2" stroke-width="1" class="k"/>
<path d="M147.5 287.8L147.5 327.3" stroke-width="1" class="k"/>
<path d="M147.5 354.8L147.5 394.2" stroke-width="1" class="k"/>
<path d="M187.5 287.8L187.5 306.5" stroke-width="1" class="k"/>
<path d="M187.5 375.5L187.5 394.2" stroke-width="1" class="k"/>
<path d="M187.5 306.5L207.5 306.5" stroke-width="1" class="k"/>
<path d="M187.5 375.5L207.5 375.5" stroke-width="1" class="k"/>
<rect class="k" x="135" y="298.5" width="12" height="8" stroke-width="0.9" fill="none"/>
<rect class="k" x="135" y="307.8" width="12" height="8.7" stroke-width="0.9" fill="none"/>
<rect class="k" x="135" y="365.5" width="12" height="8.7" stroke-width="0.9" fill="none"/>
<rect class="k" x="135" y="375.5" width="12" height="8" stroke-width="0.9" fill="none"/>
<rect class="k" x="188.8" y="298.5" width="11.2" height="8" stroke-width="0.9" fill="none"/>
<rect class="k" x="188.8" y="375.5" width="11.2" height="8" stroke-width="0.9" fill="none"/>
<path d="M147.5 327.3L167.5 327.3" stroke-width="1" class="k"/>
<path d="M147.5 354.8L167.5 354.8" stroke-width="1" class="k"/>
<path d="M167.5 327.3L167.5 354.8" stroke-width="1" class="k"/>
<path d="M167.5 327.2A13.8 13.8 0 0 1 167.5 354.8" stroke-width="1" fill="none"/>
<path d="M134.3 340.6L167.5 340.6" stroke-width="1.6" class="k"/>
<rect class="k" x="121.5" y="329" width="6.5" height="11.5" stroke-width="0.8" fill="none"/>
<use href="#c" transform="translate(154.5 292.8) rotate(135) scale(0.95)"/>
<use href="#c" transform="translate(180.5 292.8) rotate(-135) scale(0.95)"/>
<use href="#c" transform="translate(153.8 320.3) rotate(45) scale(0.95)"/>
<use href="#c" transform="translate(153.8 360.3) rotate(135) scale(0.95)"/>
<use href="#c" transform="translate(154.5 388.5) rotate(45) scale(0.95)"/>
<use href="#c" transform="translate(180.5 388.5) rotate(-45) scale(0.95)"/>
<path d="M243 183.1L413.8 183.1" stroke-width="1" class="k"/>
<rect class="k" x="246.2" y="179.3" width="8.7" height="3.8" fill="#000" stroke="none"/>
<rect class="k" x="259.7" y="177.2" width="5.2" height="4.5" fill="#000" stroke="none"/>
<rect class="k" x="278" y="179.3" width="12" height="3.8" fill="#000" stroke="none"/>
<rect class="k" x="310.5" y="177.2" width="5.8" height="4.5" fill="#000" stroke="none"/>
<rect class="k" x="329.8" y="179.3" width="12.2" height="3.8" fill="#000" stroke="none"/>
<rect class="k" x="362.6" y="177.2" width="5.2" height="4.5" fill="#000" stroke="none"/>
<rect class="k" x="382.4" y="179.3" width="11.4" height="3.8" fill="#000" stroke="none"/>
<path d="M243 183.1L243 187" stroke-width="1" class="k"/>
<rect class="k" x="257.2" y="184.5" width="1.6" height="2.3" fill="#000" stroke="none"/>
<rect class="k" x="309.2" y="184.5" width="1.6" height="2.3" fill="#000" stroke="none"/>
<rect class="k" x="361.2" y="184.5" width="1.6" height="2.3" fill="#000" stroke="none"/>
<path d="M257.4 190.7L257.4 272.5" stroke-width="1" class="k"/>
<path d="M258.9 190.7L258.9 272.5" stroke-width="1" class="k"/>
<path d="M257.4 190.7L283.3 190.7" stroke-width="1.3" class="k"/>
<path d="M257.4 272.5L283.3 272.5" stroke-width="1.3" class="k"/>
<path d="M294.7 190.7L321 190.7" stroke-width="1.3" class="k"/>
<path d="M294.7 272.5L321 272.5" stroke-width="1.3" class="k"/>
<path d="M335 190.7L387.6 190.7" stroke-width="1.3" class="k"/>
<path d="M335 272.5L387.6 272.5" stroke-width="1.3" class="k"/>
<path d="M403.4 190.7L413.8 190.7" stroke-width="1.3" class="k"/>
<path d="M403.4 272.5L413.8 272.5" stroke-width="1.3" class="k"/>
<path d="M257.4 230.5L413.8 230.5" stroke-width="1" class="k"/>
<path d="M257.4 232.3L413.8 232.3" stroke-width="1" class="k"/>
<path d="M310.5 190.7L310.5 272.5" stroke-width="1.6" class="k"/>
<path d="M361.9 190.7L361.9 272.5" stroke-width="1.6" class="k"/>
<path d="M294.7 190.7L294.7 272.5" stroke-width="1" class="k"/>
<path d="M271.9 190.7L271.9 218.2" stroke-width="1" class="k"/>
<path d="M271.9 245.4L271.9 272.5" stroke-width="1" class="k"/>
<path d="M347.8 190.7L347.8 218.2" stroke-width="1" class="k"/>
<path d="M347.8 245.4L347.8 272.5" stroke-width="1" class="k"/>
<path d="M376.2 190.7L376.2 218.2" stroke-width="1" class="k"/>
<path d="M376.2 245.4L376.2 272.5" stroke-width="1" class="k"/>
<path d="M271.9 218.2L413.8 218.2" stroke-width="1" class="k"/>
<path d="M271.9 245.4L413.8 245.4" stroke-width="1" class="k"/>
<rect class="k" x="260.2" y="192.4" width="10.8" height="8.3" stroke-width="0.9" fill="none"/>
<rect class="k" x="260.2" y="263.5" width="10.8" height="8" stroke-width="0.9" fill="none"/>
<rect class="k" x="348.2" y="192.4" width="12" height="8.3" stroke-width="0.9" fill="none"/>
<rect class="k" x="348.2" y="263.5" width="12" height="8" stroke-width="0.9" fill="none"/>
<rect class="k" x="363.6" y="192.4" width="12" height="8.3" stroke-width="0.9" fill="none"/>
<rect class="k" x="363.6" y="263.5" width="12" height="8" stroke-width="0.9" fill="none"/>
<rect class="k" x="299.1" y="191.4" width="9.8" height="26.1" fill="#000" stroke="none"/>
<rect x="304" y="192.4" width="4.5" height="3.9" fill="#fff" stroke="none"/>
<rect class="k" x="299.1" y="245.8" width="9.8" height="26.2" fill="#000" stroke="none"/>
<rect x="304" y="266.3" width="4.5" height="4.9" fill="#fff" stroke="none"/>
<rect class="k" x="311.6" y="191.4" width="9.4" height="26.1" fill="#000" stroke="none"/>
<rect x="316.5" y="192.4" width="4.1" height="3.9" fill="#fff" stroke="none"/>
<rect class="k" x="311.6" y="245.8" width="9.4" height="26.2" fill="#000" stroke="none"/>
<rect x="316.5" y="266.3" width="4.1" height="4.9" fill="#fff" stroke="none"/>
<rect class="k" x="288.9" y="206" width="5.8" height="12.2" fill="#000" stroke="none"/>
<rect class="k" x="290" y="249.2" width="5.2" height="11.6" fill="#000" stroke="none"/>
<rect class="k" x="297" y="225.7" width="6" height="5.7" fill="#000" stroke="none"/>
<path d="M304.3 229.5L304.3 235" stroke-width="0.8" class="k"/>
<rect class="k" x="261.4" y="225.2" width="26.8" height="3.5" fill="#000" stroke="none"/>
<rect class="k" x="261.4" y="234.3" width="26.8" height="3.5" fill="#000" stroke="none"/>
<rect class="k" x="333.3" y="225.2" width="25.4" height="3.5" fill="#000" stroke="none"/>
<rect class="k" x="333.3" y="234.3" width="25.4" height="3.5" fill="#000" stroke="none"/>
<rect class="k" x="366" y="225.2" width="26" height="3.5" fill="#000" stroke="none"/>
<rect class="k" x="366" y="234.3" width="26" height="3.5" fill="#000" stroke="none"/>
<rect class="k" x="403.4" y="191.4" width="3.6" height="26.1" fill="#000" stroke="none"/>
<rect class="k" x="408" y="195.5" width="4.2" height="22" fill="#000" stroke="none"/>
<rect class="k" x="403.4" y="245.8" width="3.6" height="26" fill="#000" stroke="none"/>
<rect class="k" x="408" y="245.8" width="4.2" height="19.7" fill="#000" stroke="none"/>
<use href="#c" transform="translate(276.7 211.5) rotate(45)"/>
<use href="#c" transform="translate(340.3 211.2) rotate(-45)"/>
<use href="#c" transform="translate(380.1 211.2) rotate(45)"/>
<use href="#c" transform="translate(276.2 251.5) rotate(135)"/>
<use href="#c" transform="translate(340.3 251.5) rotate(-135)"/>
<use href="#c" transform="translate(379.8 251.2) rotate(135)"/>
<rect class="k" x="244.8" y="192.4" width="9.5" height="5.1" stroke-width="0.9" fill="none"/>
<rect class="k" x="242.7" y="197" width="14" height="17" stroke-width="1.1" fill="none"/>
<rect class="k" x="246.5" y="198.5" width="6.3" height="14" fill="#000" stroke="none"/>
<path d="M245.5 214L247.5 220L253.5 220L255 214" stroke-width="0.9" fill="none"/>
<rect class="k" x="243.5" y="221" width="13.5" height="51.5" stroke-width="0.8" fill="none"/>
<rect class="k" x="246.9" y="229.6" width="8" height="16.6" stroke-width="1.1" fill="none"/>
<rect class="k" x="248.5" y="232" width="4.8" height="12" stroke-width="0.7" fill="none"/>
<rect class="k" x="245.6" y="253.8" width="9.7" height="11.7" stroke-width="1.2" fill="none"/>
<path d="M248.5 254L248.5 265.5" stroke-width="0.9" class="k"/>
<path d="M250.5 254L250.5 265.5" stroke-width="0.9" class="k"/>
<path d="M252.8 254L252.8 265.5" stroke-width="0.9" class="k"/>
<path d="M240.9 271.3L240.9 527" stroke-width="1" class="k"/>
<path d="M216 272.3L268 272.3" stroke-width="0.8" class="k"/>
<rect class="k" x="235" y="284" width="5.9" height="11.3" fill="#000" stroke="none"/>
<rect class="k" x="235" y="317.8" width="5.9" height="11.2" fill="#000" stroke="none"/>
<rect class="k" x="233.3" y="333.5" width="5.9" height="5.5" fill="#000" stroke="none"/>
<rect class="k" x="235" y="351.5" width="5.9" height="11.3" fill="#000" stroke="none"/>
<rect class="k" x="235" y="384" width="5.9" height="11.3" fill="#000" stroke="none"/>
<rect class="k" x="235" y="416.5" width="5.9" height="11.3" fill="#000" stroke="none"/>
<rect class="k" x="233.3" y="433.3" width="5.9" height="5.2" fill="#000" stroke="none"/>
<rect class="k" x="235" y="451.5" width="5.9" height="11.3" fill="#000" stroke="none"/>
<rect class="k" x="235" y="479" width="5.9" height="14.8" fill="#000" stroke="none"/>
<rect class="k" x="232.6" y="520.5" width="5.7" height="5.8" fill="#000" stroke="none"/>
<rect class="k" x="235" y="504.3" width="5.9" height="10.3" fill="#000" stroke="none"/>
<path d="M241 338.5L416 338.5" stroke-width="1" class="k"/>
<path d="M241 340.5L416 340.5" stroke-width="1" class="k"/>
<path d="M242.5 305.5L242.5 373.5" stroke-width="1" class="k"/>
<path d="M244.5 305.5L244.5 373.5" stroke-width="1" class="k"/>
<path d="M277.5 305.5L277.5 373.5" stroke-width="1" class="k"/>
<path d="M279.5 305.5L279.5 373.5" stroke-width="1" class="k"/>
<path d="M343.5 305.5L343.5 373.5" stroke-width="1" class="k"/>
<path d="M345.5 305.5L345.5 373.5" stroke-width="1" class="k"/>
<path d="M411.5 305.5L411.5 373.5" stroke-width="1" class="k"/>
<path d="M413.5 305.5L413.5 373.5" stroke-width="1" class="k"/>
<path d="M243.5 325.3L278.2 325.3" stroke-width="1" class="k"/>
<rect class="k" x="265.7" y="305.5" width="11" height="9.2" stroke-width="0.9" fill="none"/>
<path d="M265.3 305.5L265.3 325.3" stroke-width="1" class="k"/>
<use href="#c" transform="translate(258 319.8) rotate(-45)"/>
<path d="M278.2 325.3L344.8 325.3" stroke-width="1" class="k"/>
<rect class="k" x="279.7" y="305.5" width="11" height="9.2" stroke-width="0.9" fill="none"/>
<path d="M291.1 305.5L291.1 325.3" stroke-width="1" class="k"/>
<use href="#c" transform="translate(298.4 319.8) rotate(45)"/>
<rect class="k" x="332.3" y="305.5" width="11" height="9.2" stroke-width="0.9" fill="none"/>
<path d="M331.9 305.5L331.9 325.3" stroke-width="1" class="k"/>
<use href="#c" transform="translate(324.6 319.8) rotate(-45)"/>
<path d="M311.5 325.3L311.5 339.5" stroke-width="1" class="k"/>
<path d="M344.8 325.3L412.2 325.3" stroke-width="1" class="k"/>
<rect class="k" x="346.3" y="305.5" width="11" height="9.2" stroke-width="0.9" fill="none"/>
<path d="M357.7 305.5L357.7 325.3" stroke-width="1" class="k"/>
<use href="#c" transform="translate(365 319.8) rotate(45)"/>
<rect class="k" x="399.7" y="305.5" width="11" height="9.2" stroke-width="0.9" fill="none"/>
<path d="M399.3 305.5L399.3 325.3" stroke-width="1" class="k"/>
<use href="#c" transform="translate(392 319.8) rotate(-45)"/>
<path d="M378.5 325.3L378.5 339.5" stroke-width="1" class="k"/>
<path d="M265 305.5L291 305.5" stroke-width="1" class="k"/>
<path d="M332 305.5L358 305.5" stroke-width="1" class="k"/>
<path d="M399 305.5L412 305.5" stroke-width="1" class="k"/>
<path d="M243.5 353.7L278.2 353.7" stroke-width="1" class="k"/>
<rect class="k" x="265.7" y="364.3" width="11" height="9.2" stroke-width="0.9" fill="none"/>
<path d="M265.3 373.5L265.3 353.7" stroke-width="1" class="k"/>
<use href="#c" transform="translate(258 359.2) rotate(-135)"/>
<path d="M278.2 353.7L344.8 353.7" stroke-width="1" class="k"/>
<rect class="k" x="279.7" y="364.3" width="11" height="9.2" stroke-width="0.9" fill="none"/>
<path d="M291.1 373.5L291.1 353.7" stroke-width="1" class="k"/>
<use href="#c" transform="translate(298.4 359.2) rotate(135)"/>
<rect class="k" x="332.3" y="364.3" width="11" height="9.2" stroke-width="0.9" fill="none"/>
<path d="M331.9 373.5L331.9 353.7" stroke-width="1" class="k"/>
<use href="#c" transform="translate(324.6 359.2) rotate(-135)"/>
<path d="M311.5 353.7L311.5 339.5" stroke-width="1" class="k"/>
<path d="M344.8 353.7L412.2 353.7" stroke-width="1" class="k"/>
<rect class="k" x="346.3" y="364.3" width="11" height="9.2" stroke-width="0.9" fill="none"/>
<path d="M357.7 373.5L357.7 353.7" stroke-width="1" class="k"/>
<use href="#c" transform="translate(365 359.2) rotate(135)"/>
<rect class="k" x="399.7" y="364.3" width="11" height="9.2" stroke-width="0.9" fill="none"/>
<path d="M399.3 373.5L399.3 353.7" stroke-width="1" class="k"/>
<use href="#c" transform="translate(392 359.2) rotate(-135)"/>
<path d="M378.5 353.7L378.5 339.5" stroke-width="1" class="k"/>
<path d="M265 373.5L291 373.5" stroke-width="1" class="k"/>
<path d="M332 373.5L358 373.5" stroke-width="1" class="k"/>
<path d="M399 373.5L412 373.5" stroke-width="1" class="k"/>
<path d="M241 438.5L416 438.5" stroke-width="1" class="k"/>
<path d="M241 440.5L416 440.5" stroke-width="1" class="k"/>
<path d="M242.5 405.3L242.5 473.3" stroke-width="1" class="k"/>
<path d="M244.5 405.3L244.5 473.3" stroke-width="1" class="k"/>
<path d="M277.5 405.3L277.5 473.3" stroke-width="1" class="k"/>
<path d="M279.5 405.3L279.5 473.3" stroke-width="1" class="k"/>
<path d="M343.5 405.3L343.5 473.3" stroke-width="1" class="k"/>
<path d="M345.5 405.3L345.5 473.3" stroke-width="1" class="k"/>
<path d="M411.5 405.3L411.5 473.3" stroke-width="1" class="k"/>
<path d="M413.5 405.3L413.5 473.3" stroke-width="1" class="k"/>
<path d="M243.5 425.1L278.2 425.1" stroke-width="1" class="k"/>
<rect class="k" x="265.7" y="405.3" width="11" height="9.2" stroke-width="0.9" fill="none"/>
<path d="M265.3 405.3L265.3 425.1" stroke-width="1" class="k"/>
<use href="#c" transform="translate(258 419.6) rotate(-45)"/>
<path d="M278.2 425.1L344.8 425.1" stroke-width="1" class="k"/>
<rect class="k" x="279.7" y="405.3" width="11" height="9.2" stroke-width="0.9" fill="none"/>
<path d="M291.1 405.3L291.1 425.1" stroke-width="1" class="k"/>
<use href="#c" transform="translate(298.4 419.6) rotate(45)"/>
<rect class="k" x="332.3" y="405.3" width="11" height="9.2" stroke-width="0.9" fill="none"/>
<path d="M331.9 405.3L331.9 425.1" stroke-width="1" class="k"/>
<use href="#c" transform="translate(324.6 419.6) rotate(-45)"/>
<path d="M311.5 425.1L311.5 439.3" stroke-width="1" class="k"/>
<path d="M344.8 425.1L412.2 425.1" stroke-width="1" class="k"/>
<rect class="k" x="346.3" y="405.3" width="11" height="9.2" stroke-width="0.9" fill="none"/>
<path d="M357.7 405.3L357.7 425.1" stroke-width="1" class="k"/>
<use href="#c" transform="translate(365 419.6) rotate(45)"/>
<rect class="k" x="399.7" y="405.3" width="11" height="9.2" stroke-width="0.9" fill="none"/>
<path d="M399.3 405.3L399.3 425.1" stroke-width="1" class="k"/>
<use href="#c" transform="translate(392 419.6) rotate(-45)"/>
<path d="M378.5 425.1L378.5 439.3" stroke-width="1" class="k"/>
<path d="M265 405.3L291 405.3" stroke-width="1" class="k"/>
<path d="M332 405.3L358 405.3" stroke-width="1" class="k"/>
<path d="M399 405.3L412 405.3" stroke-width="1" class="k"/>
<path d="M243.5 453.5L278.2 453.5" stroke-width="1" class="k"/>
<rect class="k" x="265.7" y="464.1" width="11" height="9.2" stroke-width="0.9" fill="none"/>
<path d="M265.3 473.3L265.3 453.5" stroke-width="1" class="k"/>
<use href="#c" transform="translate(258 459) rotate(-135)"/>
<path d="M278.2 453.5L344.8 453.5" stroke-width="1" class="k"/>
<rect class="k" x="279.7" y="464.1" width="11" height="9.2" stroke-width="0.9" fill="none"/>
<path d="M291.1 473.3L291.1 453.5" stroke-width="1" class="k"/>
<use href="#c" transform="translate(298.4 459) rotate(135)"/>
<rect class="k" x="332.3" y="464.1" width="11" height="9.2" stroke-width="0.9" fill="none"/>
<path d="M331.9 473.3L331.9 453.5" stroke-width="1" class="k"/>
<use href="#c" transform="translate(324.6 459) rotate(-135)"/>
<path d="M311.5 453.5L311.5 439.3" stroke-width="1" class="k"/>
<path d="M344.8 453.5L412.2 453.5" stroke-width="1" class="k"/>
<rect class="k" x="346.3" y="464.1" width="11" height="9.2" stroke-width="0.9" fill="none"/>
<path d="M357.7 473.3L357.7 453.5" stroke-width="1" class="k"/>
<use href="#c" transform="translate(365 459) rotate(135)"/>
<rect class="k" x="399.7" y="464.1" width="11" height="9.2" stroke-width="0.9" fill="none"/>
<path d="M399.3 473.3L399.3 453.5" stroke-width="1" class="k"/>
<use href="#c" transform="translate(392 459) rotate(-135)"/>
<path d="M378.5 453.5L378.5 439.3" stroke-width="1" class="k"/>
<path d="M265 473.3L291 473.3" stroke-width="1" class="k"/>
<path d="M332 473.3L358 473.3" stroke-width="1" class="k"/>
<path d="M399 473.3L412 473.3" stroke-width="1" class="k"/>
<path d="M241 526.5L416 526.5" stroke-width="1" class="k"/>
<path d="M241 528.5L416 528.5" stroke-width="1" class="k"/>
<path d="M242.5 493.3L242.5 527.3" stroke-width="1" class="k"/>
<path d="M244.5 493.3L244.5 527.3" stroke-width="1" class="k"/>
<path d="M277.5 493.3L277.5 527.3" stroke-width="1" class="k"/>
<path d="M279.5 493.3L279.5 527.3" stroke-width="1" class="k"/>
<path d="M343.5 493.3L343.5 527.3" stroke-width="1" class="k"/>
<path d="M345.5 493.3L345.5 527.3" stroke-width="1" class="k"/>
<path d="M411.5 493.3L411.5 527.3" stroke-width="1" class="k"/>
<path d="M413.5 493.3L413.5 527.3" stroke-width="1" class="k"/>
<path d="M243.5 513.1L278.2 513.1" stroke-width="1" class="k"/>
<rect class="k" x="265.7" y="493.3" width="11" height="9.2" stroke-width="0.9" fill="none"/>
<path d="M265.3 493.3L265.3 513.1" stroke-width="1" class="k"/>
<use href="#c" transform="translate(258 507.6) rotate(-45)"/>
<path d="M278.2 513.1L344.8 513.1" stroke-width="1" class="k"/>
<rect class="k" x="279.7" y="493.3" width="11" height="9.2" stroke-width="0.9" fill="none"/>
<path d="M291.1 493.3L291.1 513.1" stroke-width="1" class="k"/>
<use href="#c" transform="translate(298.4 507.6) rotate(45)"/>
<rect class="k" x="332.3" y="493.3" width="11" height="9.2" stroke-width="0.9" fill="none"/>
<path d="M331.9 493.3L331.9 513.1" stroke-width="1" class="k"/>
<use href="#c" transform="translate(324.6 507.6) rotate(-45)"/>
<path d="M311.5 513.1L311.5 527.3" stroke-width="1" class="k"/>
<path d="M344.8 513.1L412.2 513.1" stroke-width="1" class="k"/>
<rect class="k" x="346.3" y="493.3" width="11" height="9.2" stroke-width="0.9" fill="none"/>
<path d="M357.7 493.3L357.7 513.1" stroke-width="1" class="k"/>
<use href="#c" transform="translate(365 507.6) rotate(45)"/>
<rect class="k" x="399.7" y="493.3" width="11" height="9.2" stroke-width="0.9" fill="none"/>
<path d="M399.3 493.3L399.3 513.1" stroke-width="1" class="k"/>
<use href="#c" transform="translate(392 507.6) rotate(-45)"/>
<path d="M378.5 513.1L378.5 527.3" stroke-width="1" class="k"/>
<path d="M265 493.3L291 493.3" stroke-width="1" class="k"/>
<path d="M332 493.3L358 493.3" stroke-width="1" class="k"/>
<path d="M399 493.3L412 493.3" stroke-width="1" class="k"/>
<rect class="k" x="413.1" y="305.1" width="10.7" height="32.8" stroke-width="0.8" fill="#fff"/>
<rect class="k" x="413.6" y="307.3" width="9.8" height="26.8" fill="#000" stroke="none"/>
<rect x="417.8" y="305.9" width="5.5" height="8" fill="#fff" stroke="none"/>
<rect class="k" x="413.1" y="339.7" width="10.7" height="33.7" stroke-width="0.8" fill="#fff"/>
<rect class="k" x="413.6" y="341.9" width="9.8" height="27.7" fill="#000" stroke="none"/>
<rect x="417.8" y="340.5" width="5.5" height="8" fill="#fff" stroke="none"/>
<rect class="k" x="413.1" y="404.9" width="10.7" height="32.8" stroke-width="0.8" fill="#fff"/>
<rect class="k" x="413.6" y="407.1" width="9.8" height="26.8" fill="#000" stroke="none"/>
<rect x="417.8" y="405.7" width="5.5" height="8" fill="#fff" stroke="none"/>
<rect class="k" x="413.1" y="439.5" width="10.7" height="33.7" stroke-width="0.8" fill="#fff"/>
<rect class="k" x="413.6" y="441.7" width="9.8" height="27.7" fill="#000" stroke="none"/>
<rect x="417.8" y="440.3" width="5.5" height="8" fill="#fff" stroke="none"/>
<rect class="k" x="413.1" y="492.9" width="10.7" height="32.8" stroke-width="0.8" fill="#fff"/>
<rect class="k" x="413.6" y="495.1" width="9.8" height="26.8" fill="#000" stroke="none"/>
<rect x="417.8" y="493.7" width="5.5" height="8" fill="#fff" stroke="none"/>
<rect class="k" x="267.4" y="289" width="6.4" height="8.8" fill="#000" stroke="none"/>
<rect class="k" x="399.6" y="289" width="5.2" height="8.8" fill="#000" stroke="none"/>
<rect class="k" x="270" y="379" width="5.5" height="8.8" fill="#000" stroke="none"/>
<rect class="k" x="398" y="379" width="5.5" height="8.8" fill="#000" stroke="none"/>
<path d="M272.4 284.5L272.4 305.3" stroke-width="0.8" class="k"/>
<path d="M402.5 285L402.5 305.3" stroke-width="0.8" class="k"/>
<path d="M274.3 373.7L274.3 394" stroke-width="0.8" class="k"/>
<path d="M400.8 373.7L400.8 394" stroke-width="0.8" class="k"/>
<path d="M241 476.9L420 476.9" stroke-width="0.9" class="k"/>
<rect class="k" x="253.5" y="472.8" width="11" height="4.1" fill="#000" stroke="none"/>
<rect class="k" x="306" y="472.8" width="12" height="4.1" fill="#000" stroke="none"/>
<rect class="k" x="373.2" y="472.8" width="11.6" height="4.1" fill="#000" stroke="none"/>
<rect class="k" x="245.2" y="479.3" width="5.5" height="4.2" fill="#000" stroke="none"/>
<rect class="k" x="278.7" y="479.3" width="6.7" height="4.2" fill="#000" stroke="none"/>
<rect class="k" x="346.1" y="479.3" width="6.9" height="4.2" fill="#000" stroke="none"/>
<rect class="k" x="413.7" y="479.3" width="6.1" height="4.2" fill="#000" stroke="none"/>
<path d="M244.5 476.9L244.5 480" stroke-width="0.8" class="k"/>
<path d="M278.2 476.9L278.2 480" stroke-width="0.8" class="k"/>
<path d="M345.5 476.9L345.5 480" stroke-width="0.8" class="k"/>
<path d="M413 476.9L413 480" stroke-width="0.8" class="k"/>
<path d="M464.7 281L464.7 791" stroke-width="1" class="k"/>
<path d="M467.3 281L467.3 791" stroke-width="0.7" class="k"/>
<path d="M464.7 280.8L571 280.8" stroke-width="1" class="k"/>
<path d="M467.5 280.8L467.5 314.8" stroke-width="1" class="k"/>
<path d="M469.5 280.8L469.5 314.8" stroke-width="1" class="k"/>
<path d="M534.5 280.8L534.5 314.8" stroke-width="1" class="k"/>
<path d="M536.5 280.8L536.5 314.8" stroke-width="1" class="k"/>
<path d="M468.5 295L535.5 295" stroke-width="1" class="k"/>
<rect class="k" x="470.5" y="306.5" width="11.2" height="8.3" stroke-width="0.9" fill="none"/>
<path d="M482.1 314.8L482.1 295" stroke-width="1" class="k"/>
<use href="#c" transform="translate(488.7 300.5) rotate(135)"/>
<rect class="k" x="522.3" y="306.5" width="11.2" height="8.3" stroke-width="0.9" fill="none"/>
<path d="M521.9 314.8L521.9 295" stroke-width="1" class="k"/>
<use href="#c" transform="translate(515.3 300.5) rotate(-135)"/>
<path d="M502 295L502 280.8" stroke-width="1" class="k"/>
<path d="M535.5 295L570 295" stroke-width="1" class="k"/>
<rect class="k" x="537.5" y="306.5" width="11.2" height="8.3" stroke-width="0.9" fill="none"/>
<path d="M549.1 314.8L549.1 295" stroke-width="1" class="k"/>
<use href="#c" transform="translate(555.7 300.5) rotate(135)"/>
<path d="M570 295L570 280.8" stroke-width="1" class="k"/>
<path d="M468.5 314.8L482.5 314.8" stroke-width="1" class="k"/>
<path d="M522.5 314.8L549.5 314.8" stroke-width="1" class="k"/>
<path d="M464.7 363.5L603.4 363.5" stroke-width="1" class="k"/>
<path d="M464.7 365.5L603.4 365.5" stroke-width="1" class="k"/>
<path d="M467.5 330.7L467.5 398.7" stroke-width="1" class="k"/>
<path d="M469.5 330.7L469.5 398.7" stroke-width="1" class="k"/>
<path d="M534.5 330.7L534.5 398.7" stroke-width="1" class="k"/>
<path d="M536.5 330.7L536.5 398.7" stroke-width="1" class="k"/>
<path d="M468.5 350.5L535.5 350.5" stroke-width="1" class="k"/>
<rect class="k" x="470.5" y="330.7" width="11.2" height="8.3" stroke-width="0.9" fill="none"/>
<path d="M482.1 330.7L482.1 350.5" stroke-width="1" class="k"/>
<use href="#c" transform="translate(488.7 345) rotate(45)"/>
<rect class="k" x="522.3" y="330.7" width="11.2" height="8.3" stroke-width="0.9" fill="none"/>
<path d="M521.9 330.7L521.9 350.5" stroke-width="1" class="k"/>
<use href="#c" transform="translate(515.3 345) rotate(-45)"/>
<path d="M502 350.5L502 364.7" stroke-width="1" class="k"/>
<path d="M535.5 350.5L602.4 350.5" stroke-width="1" class="k"/>
<rect class="k" x="537.5" y="330.7" width="11.2" height="8.3" stroke-width="0.9" fill="none"/>
<path d="M549.1 330.7L549.1 350.5" stroke-width="1" class="k"/>
<use href="#c" transform="translate(555.7 345) rotate(45)"/>
<rect class="k" x="589.2" y="330.7" width="11.2" height="8.3" stroke-width="0.9" fill="none"/>
<path d="M588.8 330.7L588.8 350.5" stroke-width="1" class="k"/>
<use href="#c" transform="translate(582.2 345) rotate(-45)"/>
<path d="M570 350.5L570 364.7" stroke-width="1" class="k"/>
<path d="M601.5 364.7L601.5 330.7" stroke-width="1" class="k"/>
<path d="M603.5 364.7L603.5 330.7" stroke-width="1" class="k"/>
<path d="M468.5 330.7L482.5 330.7" stroke-width="1" class="k"/>
<path d="M522.5 330.7L549.5 330.7" stroke-width="1" class="k"/>
<path d="M589.5 330.7L602.4 330.7" stroke-width="1" class="k"/>
<path d="M468.5 378.9L535.5 378.9" stroke-width="1" class="k"/>
<rect class="k" x="470.5" y="390.4" width="11.2" height="8.3" stroke-width="0.9" fill="none"/>
<path d="M482.1 398.7L482.1 378.9" stroke-width="1" class="k"/>
<use href="#c" transform="translate(488.7 384.4) rotate(135)"/>
<rect class="k" x="522.3" y="390.4" width="11.2" height="8.3" stroke-width="0.9" fill="none"/>
<path d="M521.9 398.7L521.9 378.9" stroke-width="1" class="k"/>
<use href="#c" transform="translate(515.3 384.4) rotate(-135)"/>
<path d="M502 378.9L502 364.7" stroke-width="1" class="k"/>
<path d="M535.5 378.9L570 378.9" stroke-width="1" class="k"/>
<rect class="k" x="537.5" y="390.4" width="11.2" height="8.3" stroke-width="0.9" fill="none"/>
<path d="M549.1 398.7L549.1 378.9" stroke-width="1" class="k"/>
<use href="#c" transform="translate(555.7 384.4) rotate(135)"/>
<path d="M570 378.9L570 364.7" stroke-width="1" class="k"/>
<path d="M468.5 398.7L482.5 398.7" stroke-width="1" class="k"/>
<path d="M522.5 398.7L549.5 398.7" stroke-width="1" class="k"/>
<path d="M464.7 450.5L603.4 450.5" stroke-width="1" class="k"/>
<path d="M464.7 452.5L603.4 452.5" stroke-width="1" class="k"/>
<path d="M467.5 417.9L467.5 485.9" stroke-width="1" class="k"/>
<path d="M469.5 417.9L469.5 485.9" stroke-width="1" class="k"/>
<path d="M534.5 417.9L534.5 485.9" stroke-width="1" class="k"/>
<path d="M536.5 417.9L536.5 485.9" stroke-width="1" class="k"/>
<path d="M468.5 437.7L535.5 437.7" stroke-width="1" class="k"/>
<rect class="k" x="470.5" y="417.9" width="11.2" height="8.3" stroke-width="0.9" fill="none"/>
<path d="M482.1 417.9L482.1 437.7" stroke-width="1" class="k"/>
<use href="#c" transform="translate(488.7 432.2) rotate(45)"/>
<rect class="k" x="522.3" y="417.9" width="11.2" height="8.3" stroke-width="0.9" fill="none"/>
<path d="M521.9 417.9L521.9 437.7" stroke-width="1" class="k"/>
<use href="#c" transform="translate(515.3 432.2) rotate(-45)"/>
<path d="M502 437.7L502 451.9" stroke-width="1" class="k"/>
<path d="M535.5 437.7L602.4 437.7" stroke-width="1" class="k"/>
<rect class="k" x="537.5" y="417.9" width="11.2" height="8.3" stroke-width="0.9" fill="none"/>
<path d="M549.1 417.9L549.1 437.7" stroke-width="1" class="k"/>
<use href="#c" transform="translate(555.7 432.2) rotate(45)"/>
<rect class="k" x="589.2" y="417.9" width="11.2" height="8.3" stroke-width="0.9" fill="none"/>
<path d="M588.8 417.9L588.8 437.7" stroke-width="1" class="k"/>
<use href="#c" transform="translate(582.2 432.2) rotate(-45)"/>
<path d="M570 437.7L570 451.9" stroke-width="1" class="k"/>
<path d="M601.5 451.9L601.5 417.9" stroke-width="1" class="k"/>
<path d="M603.5 451.9L603.5 417.9" stroke-width="1" class="k"/>
<path d="M468.5 417.9L482.5 417.9" stroke-width="1" class="k"/>
<path d="M522.5 417.9L549.5 417.9" stroke-width="1" class="k"/>
<path d="M589.5 417.9L602.4 417.9" stroke-width="1" class="k"/>
<path d="M468.5 466.1L535.5 466.1" stroke-width="1" class="k"/>
<rect class="k" x="470.5" y="477.6" width="11.2" height="8.3" stroke-width="0.9" fill="none"/>
<path d="M482.1 485.9L482.1 466.1" stroke-width="1" class="k"/>
<use href="#c" transform="translate(488.7 471.6) rotate(135)"/>
<rect class="k" x="522.3" y="477.6" width="11.2" height="8.3" stroke-width="0.9" fill="none"/>
<path d="M521.9 485.9L521.9 466.1" stroke-width="1" class="k"/>
<use href="#c" transform="translate(515.3 471.6) rotate(-135)"/>
<path d="M502 466.1L502 451.9" stroke-width="1" class="k"/>
<path d="M535.5 466.1L602.4 466.1" stroke-width="1" class="k"/>
<rect class="k" x="537.5" y="477.6" width="11.2" height="8.3" stroke-width="0.9" fill="none"/>
<path d="M549.1 485.9L549.1 466.1" stroke-width="1" class="k"/>
<use href="#c" transform="translate(555.7 471.6) rotate(135)"/>
<rect class="k" x="589.2" y="477.6" width="11.2" height="8.3" stroke-width="0.9" fill="none"/>
<path d="M588.8 485.9L588.8 466.1" stroke-width="1" class="k"/>
<use href="#c" transform="translate(582.2 471.6) rotate(-135)"/>
<path d="M570 466.1L570 451.9" stroke-width="1" class="k"/>
<path d="M601.5 451.9L601.5 485.9" stroke-width="1" class="k"/>
<path d="M603.5 451.9L603.5 485.9" stroke-width="1" class="k"/>
<path d="M468.5 485.9L482.5 485.9" stroke-width="1" class="k"/>
<path d="M522.5 485.9L549.5 485.9" stroke-width="1" class="k"/>
<path d="M589.5 485.9L602.4 485.9" stroke-width="1" class="k"/>
<path d="M464.7 539.5L570 539.5" stroke-width="1" class="k"/>
<path d="M464.7 541.5L570 541.5" stroke-width="1" class="k"/>
<path d="M467.5 506L467.5 573.2" stroke-width="1" class="k"/>
<path d="M469.5 506L469.5 573.2" stroke-width="1" class="k"/>
<path d="M534.5 506L534.5 573.2" stroke-width="1" class="k"/>
<path d="M536.5 506L536.5 573.2" stroke-width="1" class="k"/>
<path d="M468.5 525.8L535.5 525.8" stroke-width="1" class="k"/>
<rect class="k" x="470.5" y="506" width="11.2" height="8.3" stroke-width="0.9" fill="none"/>
<path d="M482.1 506L482.1 525.8" stroke-width="1" class="k"/>
<use href="#c" transform="translate(488.7 520.3) rotate(45)"/>
<rect class="k" x="522.3" y="506" width="11.2" height="8.3" stroke-width="0.9" fill="none"/>
<path d="M521.9 506L521.9 525.8" stroke-width="1" class="k"/>
<use href="#c" transform="translate(515.3 520.3) rotate(-45)"/>
<path d="M502 525.8L502 540" stroke-width="1" class="k"/>
<path d="M535.5 525.8L570 525.8" stroke-width="1" class="k"/>
<rect class="k" x="537.5" y="506" width="11.2" height="8.3" stroke-width="0.9" fill="none"/>
<path d="M549.1 506L549.1 525.8" stroke-width="1" class="k"/>
<use href="#c" transform="translate(555.7 520.3) rotate(45)"/>
<path d="M570 525.8L570 540" stroke-width="1" class="k"/>
<path d="M468.5 506L482.5 506" stroke-width="1" class="k"/>
<path d="M522.5 506L549.5 506" stroke-width="1" class="k"/>
<path d="M468.5 554.2L535.5 554.2" stroke-width="1" class="k"/>
<rect class="k" x="470.5" y="564.9" width="11.2" height="8.3" stroke-width="0.9" fill="none"/>
<path d="M482.1 573.2L482.1 554.2" stroke-width="1" class="k"/>
<use href="#c" transform="translate(488.7 559.7) rotate(135)"/>
<rect class="k" x="522.3" y="564.9" width="11.2" height="8.3" stroke-width="0.9" fill="none"/>
<path d="M521.9 573.2L521.9 554.2" stroke-width="1" class="k"/>
<use href="#c" transform="translate(515.3 559.7) rotate(-135)"/>
<path d="M502 554.2L502 540" stroke-width="1" class="k"/>
<path d="M535.5 554.2L570 554.2" stroke-width="1" class="k"/>
<rect class="k" x="537.5" y="564.9" width="11.2" height="8.3" stroke-width="0.9" fill="none"/>
<path d="M549.1 573.2L549.1 554.2" stroke-width="1" class="k"/>
<use href="#c" transform="translate(555.7 559.7) rotate(135)"/>
<path d="M570 554.2L570 540" stroke-width="1" class="k"/>
<path d="M468.5 573.2L482.5 573.2" stroke-width="1" class="k"/>
<path d="M522.5 573.2L549.5 573.2" stroke-width="1" class="k"/>
<path d="M464.7 624.5L603.4 624.5" stroke-width="1" class="k"/>
<path d="M464.7 626.5L603.4 626.5" stroke-width="1" class="k"/>
<path d="M467.5 591.6L467.5 659" stroke-width="1" class="k"/>
<path d="M469.5 591.6L469.5 659" stroke-width="1" class="k"/>
<path d="M534.5 591.6L534.5 659" stroke-width="1" class="k"/>
<path d="M536.5 591.6L536.5 659" stroke-width="1" class="k"/>
<path d="M468.5 610.8L535.5 610.8" stroke-width="1" class="k"/>
<rect class="k" x="470.5" y="591.6" width="11.2" height="8.3" stroke-width="0.9" fill="none"/>
<path d="M482.1 591.6L482.1 610.8" stroke-width="1" class="k"/>
<use href="#c" transform="translate(488.7 605.3) rotate(45)"/>
<rect class="k" x="522.3" y="591.6" width="11.2" height="8.3" stroke-width="0.9" fill="none"/>
<path d="M521.9 591.6L521.9 610.8" stroke-width="1" class="k"/>
<use href="#c" transform="translate(515.3 605.3) rotate(-45)"/>
<path d="M502 610.8L502 625" stroke-width="1" class="k"/>
<path d="M535.5 610.8L602.4 610.8" stroke-width="1" class="k"/>
<rect class="k" x="537.5" y="591.6" width="11.2" height="8.3" stroke-width="0.9" fill="none"/>
<path d="M549.1 591.6L549.1 610.8" stroke-width="1" class="k"/>
<use href="#c" transform="translate(555.7 605.3) rotate(45)"/>
<rect class="k" x="589.2" y="591.6" width="11.2" height="8.3" stroke-width="0.9" fill="none"/>
<path d="M588.8 591.6L588.8 610.8" stroke-width="1" class="k"/>
<use href="#c" transform="translate(582.2 605.3) rotate(-45)"/>
<path d="M570 610.8L570 625" stroke-width="1" class="k"/>
<path d="M601.5 625L601.5 591.6" stroke-width="1" class="k"/>
<path d="M603.5 625L603.5 591.6" stroke-width="1" class="k"/>
<path d="M468.5 591.6L482.5 591.6" stroke-width="1" class="k"/>
<path d="M522.5 591.6L549.5 591.6" stroke-width="1" class="k"/>
<path d="M589.5 591.6L602.4 591.6" stroke-width="1" class="k"/>
<path d="M468.5 639.2L535.5 639.2" stroke-width="1" class="k"/>
<rect class="k" x="470.5" y="650.7" width="11.2" height="8.3" stroke-width="0.9" fill="none"/>
<path d="M482.1 659L482.1 639.2" stroke-width="1" class="k"/>
<use href="#c" transform="translate(488.7 644.7) rotate(135)"/>
<rect class="k" x="522.3" y="650.7" width="11.2" height="8.3" stroke-width="0.9" fill="none"/>
<path d="M521.9 659L521.9 639.2" stroke-width="1" class="k"/>
<use href="#c" transform="translate(515.3 644.7) rotate(-135)"/>
<path d="M502 639.2L502 625" stroke-width="1" class="k"/>
<path d="M535.5 639.2L602.4 639.2" stroke-width="1" class="k"/>
<rect class="k" x="537.5" y="650.7" width="11.2" height="8.3" stroke-width="0.9" fill="none"/>
<path d="M549.1 659L549.1 639.2" stroke-width="1" class="k"/>
<use href="#c" transform="translate(555.7 644.7) rotate(135)"/>
<rect class="k" x="589.2" y="650.7" width="11.2" height="8.3" stroke-width="0.9" fill="none"/>
<path d="M588.8 659L588.8 639.2" stroke-width="1" class="k"/>
<use href="#c" transform="translate(582.2 644.7) rotate(-135)"/>
<path d="M570 639.2L570 625" stroke-width="1" class="k"/>
<path d="M601.5 625L601.5 659" stroke-width="1" class="k"/>
<path d="M603.5 625L603.5 659" stroke-width="1" class="k"/>
<path d="M468.5 659L482.5 659" stroke-width="1" class="k"/>
<path d="M522.5 659L549.5 659" stroke-width="1" class="k"/>
<path d="M589.5 659L602.4 659" stroke-width="1" class="k"/>
<path d="M464.7 709.5L603.4 709.5" stroke-width="1" class="k"/>
<path d="M464.7 711.5L603.4 711.5" stroke-width="1" class="k"/>
<path d="M467.5 676.6L467.5 744.2" stroke-width="1" class="k"/>
<path d="M469.5 676.6L469.5 744.2" stroke-width="1" class="k"/>
<path d="M534.5 676.6L534.5 744.2" stroke-width="1" class="k"/>
<path d="M536.5 676.6L536.5 744.2" stroke-width="1" class="k"/>
<path d="M468.5 696L535.5 696" stroke-width="1" class="k"/>
<rect class="k" x="470.5" y="676.6" width="11.2" height="8.3" stroke-width="0.9" fill="none"/>
<path d="M482.1 676.6L482.1 696" stroke-width="1" class="k"/>
<use href="#c" transform="translate(488.7 690.5) rotate(45)"/>
<rect class="k" x="522.3" y="676.6" width="11.2" height="8.3" stroke-width="0.9" fill="none"/>
<path d="M521.9 676.6L521.9 696" stroke-width="1" class="k"/>
<use href="#c" transform="translate(515.3 690.5) rotate(-45)"/>
<path d="M502 696L502 710.2" stroke-width="1" class="k"/>
<path d="M535.5 696L602.4 696" stroke-width="1" class="k"/>
<rect class="k" x="537.5" y="676.6" width="11.2" height="8.3" stroke-width="0.9" fill="none"/>
<path d="M549.1 676.6L549.1 696" stroke-width="1" class="k"/>
<use href="#c" transform="translate(555.7 690.5) rotate(45)"/>
<rect class="k" x="589.2" y="676.6" width="11.2" height="8.3" stroke-width="0.9" fill="none"/>
<path d="M588.8 676.6L588.8 696" stroke-width="1" class="k"/>
<use href="#c" transform="translate(582.2 690.5) rotate(-45)"/>
<path d="M570 696L570 710.2" stroke-width="1" class="k"/>
<path d="M601.5 710.2L601.5 676.6" stroke-width="1" class="k"/>
<path d="M603.5 710.2L603.5 676.6" stroke-width="1" class="k"/>
<path d="M468.5 676.6L482.5 676.6" stroke-width="1" class="k"/>
<path d="M522.5 676.6L549.5 676.6" stroke-width="1" class="k"/>
<path d="M589.5 676.6L602.4 676.6" stroke-width="1" class="k"/>
<path d="M468.5 724.4L535.5 724.4" stroke-width="1" class="k"/>
<rect class="k" x="470.5" y="735.9" width="11.2" height="8.3" stroke-width="0.9" fill="none"/>
<path d="M482.1 744.2L482.1 724.4" stroke-width="1" class="k"/>
<use href="#c" transform="translate(488.7 729.9) rotate(135)"/>
<rect class="k" x="522.3" y="735.9" width="11.2" height="8.3" stroke-width="0.9" fill="none"/>
<path d="M521.9 744.2L521.9 724.4" stroke-width="1" class="k"/>
<use href="#c" transform="translate(515.3 729.9) rotate(-135)"/>
<path d="M502 724.4L502 710.2" stroke-width="1" class="k"/>
<path d="M535.5 724.4L602.4 724.4" stroke-width="1" class="k"/>
<rect class="k" x="537.5" y="735.9" width="11.2" height="8.3" stroke-width="0.9" fill="none"/>
<path d="M549.1 744.2L549.1 724.4" stroke-width="1" class="k"/>
<use href="#c" transform="translate(555.7 729.9) rotate(135)"/>
<rect class="k" x="589.2" y="735.9" width="11.2" height="8.3" stroke-width="0.9" fill="none"/>
<path d="M588.8 744.2L588.8 724.4" stroke-width="1" class="k"/>
<use href="#c" transform="translate(582.2 729.9) rotate(-135)"/>
<path d="M570 724.4L570 710.2" stroke-width="1" class="k"/>
<path d="M601.5 710.2L601.5 744.2" stroke-width="1" class="k"/>
<path d="M603.5 710.2L603.5 744.2" stroke-width="1" class="k"/>
<path d="M468.5 744.2L482.5 744.2" stroke-width="1" class="k"/>
<path d="M522.5 744.2L549.5 744.2" stroke-width="1" class="k"/>
<path d="M589.5 744.2L602.4 744.2" stroke-width="1" class="k"/>
<path d="M464.7 790L603.4 790" stroke-width="1" class="k"/>
<path d="M467.5 757.5L467.5 790" stroke-width="1" class="k"/>
<path d="M469.5 757.5L469.5 790" stroke-width="1" class="k"/>
<path d="M534.5 757.5L534.5 790" stroke-width="1" class="k"/>
<path d="M536.5 757.5L536.5 790" stroke-width="1" class="k"/>
<path d="M468.5 775.8L535.5 775.8" stroke-width="1" class="k"/>
<rect class="k" x="470.5" y="757.5" width="11.2" height="8.3" stroke-width="0.9" fill="none"/>
<path d="M482.1 757.5L482.1 775.8" stroke-width="1" class="k"/>
<use href="#c" transform="translate(488.7 770.3) rotate(45)"/>
<rect class="k" x="522.3" y="757.5" width="11.2" height="8.3" stroke-width="0.9" fill="none"/>
<path d="M521.9 757.5L521.9 775.8" stroke-width="1" class="k"/>
<use href="#c" transform="translate(515.3 770.3) rotate(-45)"/>
<path d="M502 775.8L502 790" stroke-width="1" class="k"/>
<path d="M535.5 775.8L570 775.8" stroke-width="1" class="k"/>
<rect class="k" x="537.5" y="757.5" width="11.2" height="8.3" stroke-width="0.9" fill="none"/>
<path d="M549.1 757.5L549.1 775.8" stroke-width="1" class="k"/>
<use href="#c" transform="translate(555.7 770.3) rotate(45)"/>
<path d="M570 775.8L570 790" stroke-width="1" class="k"/>
<path d="M468.5 757.5L482.5 757.5" stroke-width="1" class="k"/>
<path d="M522.5 757.5L549.5 757.5" stroke-width="1" class="k"/>
<rect class="k" x="577.6" y="295.4" width="15.9" height="23.1" stroke-width="1" fill="#fff"/>
<path d="M577.6 295.4L593.5 318.5" stroke-width="0.8"/>
<path d="M577.6 318.5L593.5 295.4" stroke-width="0.8"/>
<rect class="k" x="578.7" y="373.3" width="14.8" height="18" stroke-width="1" fill="#fff"/>
<path d="M578.7 373.3L593.5 391.3" stroke-width="0.8"/>
<path d="M578.7 391.3L593.5 373.3" stroke-width="0.8"/>
<rect class="k" x="578.5" y="495.5" width="15" height="19.5" stroke-width="1" fill="#fff"/>
<path d="M578.5 495.5L593.5 515" stroke-width="0.8"/>
<path d="M578.5 515L593.5 495.5" stroke-width="0.8"/>
<rect class="k" x="578.5" y="535.5" width="15" height="18.7" stroke-width="1" fill="#fff"/>
<path d="M578.5 535.5L593.5 554.2" stroke-width="0.8"/>
<path d="M578.5 554.2L593.5 535.5" stroke-width="0.8"/>
<rect class="k" x="588.3" y="772" width="15.1" height="18.8" stroke-width="1" fill="#fff"/>
<path d="M588.3 772L603.4 790.8" stroke-width="0.8"/>
<path d="M588.3 790.8L603.4 772" stroke-width="0.8"/>
<rect class="k" x="459" y="291.9" width="5.7" height="11.8" fill="#000" stroke="none"/>
<rect class="k" x="459" y="318.2" width="5.7" height="8.2" fill="#000" stroke="none"/>
<rect class="k" x="459" y="342.3" width="5.7" height="11.5" fill="#000" stroke="none"/>
<rect class="k" x="459" y="376.1" width="5.7" height="11.5" fill="#000" stroke="none"/>
<rect class="k" x="459" y="404" width="5.7" height="8.8" fill="#000" stroke="none"/>
<rect class="k" x="459" y="429" width="5.7" height="12.5" fill="#000" stroke="none"/>
<rect class="k" x="459" y="464.2" width="5.7" height="11.8" fill="#000" stroke="none"/>
<rect class="k" x="459" y="492" width="5.7" height="10" fill="#000" stroke="none"/>
<rect class="k" x="459" y="517" width="5.7" height="11" fill="#000" stroke="none"/>
<rect class="k" x="459" y="551" width="5.7" height="11" fill="#000" stroke="none"/>
<rect class="k" x="459" y="578" width="5.7" height="9" fill="#000" stroke="none"/>
<rect class="k" x="459" y="602.4" width="5.7" height="11" fill="#000" stroke="none"/>
<rect class="k" x="459" y="637" width="5.7" height="11" fill="#000" stroke="none"/>
<rect class="k" x="459" y="663.3" width="5.7" height="8.2" fill="#000" stroke="none"/>
<rect class="k" x="459" y="688.3" width="5.7" height="11" fill="#000" stroke="none"/>
<rect class="k" x="459" y="722" width="5.7" height="11" fill="#000" stroke="none"/>
<rect class="k" x="459" y="746.5" width="5.7" height="8.5" fill="#000" stroke="none"/>
<rect class="k" x="459" y="767" width="5.7" height="15" fill="#000" stroke="none"/>
<rect class="k" x="456.8" y="283.3" width="5.7" height="5.5" fill="#000" stroke="none"/>
<rect class="k" x="456.8" y="358.4" width="5.7" height="5.2" fill="#000" stroke="none"/>
<rect class="k" x="456.8" y="446" width="5.7" height="6" fill="#000" stroke="none"/>
<rect class="k" x="456.8" y="533.5" width="5.7" height="6" fill="#000" stroke="none"/>
<rect class="k" x="456.8" y="618" width="5.7" height="6" fill="#000" stroke="none"/>
<rect class="k" x="456.8" y="704" width="5.7" height="5.5" fill="#000" stroke="none"/>
<rect class="k" x="456.8" y="785" width="5.7" height="6.5" fill="#000" stroke="none"/>
<path d="M603.3 285.5L603.3 790.8" stroke-width="1" class="k"/>
<path d="M607.5 285.5L607.5 790.8" stroke-width="0.9" class="k"/>
<path d="M610.7 285.5L610.7 790.8" stroke-width="1" class="k"/>
<rect class="k" x="603.4" y="328.7" width="7.1" height="11" stroke-width="0.9" fill="#fff"/>
<rect class="k" x="603.4" y="459" width="7.1" height="12" stroke-width="0.9" fill="#fff"/>
<rect class="k" x="603.4" y="594" width="7.1" height="11" stroke-width="0.9" fill="#fff"/>
<rect class="k" x="603.4" y="728" width="7.1" height="12" stroke-width="0.9" fill="#fff"/>
<path d="M436 273.3L588 273.3" stroke-width="1" class="k"/>
<path d="M436 280.4L588 280.4" stroke-width="1" class="k"/>
<rect class="k" x="592.3" y="558.8" width="11.1" height="28.7" stroke-width="0.8" fill="#fff"/>
<rect class="k" x="592.8" y="559.5" width="4.8" height="27.5" fill="#000" stroke="none"/>
<rect class="k" x="598.8" y="564" width="4" height="23" fill="#000" stroke="none"/>
<rect class="k" x="592.3" y="744" width="10.2" height="26.6" fill="#000" stroke="none"/>
<rect x="597" y="746.2" width="4.8" height="2.8" fill="#fff" stroke="none"/>
<path d="M464.7 587.6L604.5 587.6" stroke-width="0.8" class="k"/>
<rect class="k" x="469" y="581.8" width="5.8" height="3.7" fill="#000" stroke="none"/>
<rect class="k" x="499.8" y="583.8" width="11.2" height="3.4" fill="#000" stroke="none"/>
<rect class="k" x="536" y="581.8" width="7.5" height="3.7" fill="#000" stroke="none"/>
<rect class="k" x="564" y="583.8" width="12" height="3.4" fill="#000" stroke="none"/>
<rect class="k" x="582.3" y="579.5" width="5.7" height="4.3" fill="#000" stroke="none"/>
<path d="M281 528.5L407.2 528.5" stroke-width="1" class="k"/>
<path d="M281 533.6L407.2 533.6" stroke-width="1" class="k"/>
<path d="M281 537.2L407.2 537.2" stroke-width="1" class="k"/>
<path class="k" d="M268.5 540L268.5 601.6L340 601.6" stroke-width="1" fill="none"/>
<path class="k" d="M272.2 540L272.2 598L340 598" stroke-width="1" fill="none"/>
<path d="M303.5 537.2L303.5 567.2" stroke-width="0.9" class="k"/>
<path d="M308.66 537.2L308.66 567.2" stroke-width="0.9" class="k"/>
<path d="M313.82 537.2L313.82 567.2" stroke-width="0.9" class="k"/>
<path d="M318.98 537.2L318.98 567.2" stroke-width="0.9" class="k"/>
<path d="M324.14 537.2L324.14 567.2" stroke-width="0.9" class="k"/>
<path d="M329.3 537.2L329.3 567.2" stroke-width="0.9" class="k"/>
<path d="M334.46 537.2L334.46 567.2" stroke-width="0.9" class="k"/>
<path d="M339.62 537.2L339.62 567.2" stroke-width="0.9" class="k"/>
<path d="M303.5 567.2L339.6 567.2" stroke-width="0.9" class="k"/>
<path d="M300.3 568.6L300.3 598" stroke-width="0.9" class="k"/>
<path d="M305.46 568.6L305.46 598" stroke-width="0.9" class="k"/>
<path d="M310.62 568.6L310.62 598" stroke-width="0.9" class="k"/>
<path d="M315.78 568.6L315.78 598" stroke-width="0.9" class="k"/>
<path d="M320.94 568.6L320.94 598" stroke-width="0.9" class="k"/>
<path d="M326.1 568.6L326.1 598" stroke-width="0.9" class="k"/>
<path d="M331.26 568.6L331.26 598" stroke-width="0.9" class="k"/>
<path d="M336.42 568.6L336.42 598" stroke-width="0.9" class="k"/>
<path d="M300.3 568.6L336.4 568.6" stroke-width="0.9" class="k"/>
<path d="M339.8 567.2L339.8 601.6" stroke-width="0.9" class="k"/>
<path d="M324.3 552.5L348.2 552.5" stroke-width="0.8" class="k"/>
<path d="M328.5 550.8L324.3 552.5L328.5 554.2" stroke-width="0.8" fill="#000"/>
<rect class="k" x="347.3" y="550.1" width="6.4" height="4.7" fill="#000" stroke="none"/>
<path d="M321.5 583.4L345.4 583.4" stroke-width="0.8" class="k"/>
<path d="M325.7 581.7L321.5 583.4L325.7 585.1" stroke-width="0.8" fill="#000"/>
<rect class="k" x="344.5" y="581" width="6.5" height="4.7" fill="#000" stroke="none"/>
<rect class="k" x="255.6" y="529.8" width="9.7" height="31.5" stroke-width="0.8" fill="#fff"/>
<rect class="k" x="256" y="531.5" width="8.9" height="26.5" fill="#000" stroke="none"/>
<rect x="260" y="530.6" width="4.9" height="9" fill="#fff" stroke="none"/>
<rect class="k" x="255.6" y="564.3" width="9.7" height="32.7" stroke-width="0.8" fill="#fff"/>
<rect class="k" x="256" y="566" width="8.9" height="27" fill="#000" stroke="none"/>
<rect x="260" y="565" width="4.9" height="8" fill="#fff" stroke="none"/>
<rect class="k" x="371.2" y="537.2" width="49.8" height="53.4" stroke-width="1" fill="none"/>
<path class="k" d="M385 587.8L374.9 587.8L374.9 538.5L418.2 538.5L418.2 587.8L409 587.8" stroke-width="0.9" fill="none"/>
<path d="M385 589.2L409 589.2" stroke-width="0.7" class="k"/>
<rect class="k" x="421.9" y="542.7" width="11" height="32.2" stroke-width="0.8" fill="#fff"/>
<rect class="k" x="422.8" y="544.5" width="4.8" height="25" fill="#000" stroke="none"/>
<rect class="k" x="429.2" y="549.1" width="3.2" height="20.4" fill="#000" stroke="none"/>
<path d="M421 590.6L421 601" stroke-width="1" class="k"/>
<path d="M439.4 590.6L439.4 624" stroke-width="1" class="k"/>
<rect class="k" x="434.2" y="590.6" width="5.2" height="9.2" fill="#000" stroke="none"/>
<rect class="k" x="434.2" y="609.9" width="5.2" height="11.1" fill="#000" stroke="none"/>
<path d="M323.3 619.1L337.2 602.6L350.6 618.2" stroke-width="2" fill="none"/>
<path d="M323.3 619.1L337.2 602.6L350.6 618.2" stroke="#fff" stroke-width="0.6"/>
<path d="M323.3 619.1Q337 629.5 350.6 618.2" stroke-width="1" fill="none"/>
<path d="M321.5 601.6L321.5 648.6" stroke-width="1" class="k"/>
<path d="M337.2 624.7L337.2 648.6" stroke-width="1" class="k"/>
<path d="M321.5 624.3L337.2 624.3" stroke-width="0.7" class="k"/>
<rect class="k" x="317.5" y="605.3" width="4.9" height="11.1" fill="#000" stroke="none"/>
<rect class="k" x="317.5" y="631.1" width="4.9" height="11.6" fill="#000" stroke="none"/>
<path d="M408 606.2L421.3 621.9L435.3 604.4" stroke-width="2" fill="none"/>
<path d="M408 606.2L421.3 621.9L435.3 604.4" stroke="#fff" stroke-width="0.6"/>
<path d="M408 606.2Q421 596.5 435.3 604.4" stroke-width="1" fill="none"/>
<rect class="k" x="419.9" y="620.2" width="3" height="3.2" stroke-width="0.7" fill="none"/>
<path d="M421.3 623.4L421.3 624.7" stroke-width="0.7" class="k"/>
<rect class="k" x="348.2" y="636.6" width="23.4" height="12" stroke-width="0.9" fill="none"/>
<rect class="k" x="352.4" y="632.4" width="11.5" height="4.2" fill="#000" stroke="none"/>
<path d="M352.7 636.6L371.2 653" stroke-width="0.9"/>
<path d="M354 636.6L371.6 652" stroke-width="0.6"/>
<path d="M348.4 648.6Q349 640 352.7 636.6" stroke-width="0.8" fill="none"/>
<path d="M353 659L359 664L371.6 653" stroke-width="0.8" fill="none"/>
<rect class="k" x="209.9" y="635.1" width="24" height="14" stroke-width="0.9" fill="none"/>
<rect class="k" x="216.2" y="631.5" width="11.8" height="3.6" fill="#000" stroke="none"/>
<path d="M211 648.4L227.3 637.4" stroke-width="1.2"/>
<path d="M227.3 637.4Q232.5 641 233.7 649" stroke-width="0.8" fill="none"/>
<path d="M211.5 650.5L226 665" stroke-width="0.8" fill="none"/>
<path d="M233.9 649.4L372 649.4" stroke-width="1" class="k"/>
<path d="M233.9 652.3L372 652.3" stroke-width="1" class="k"/>
<path d="M308.6 652.3L308.6 723" stroke-width="1" class="k"/>
<path d="M317.5 652.3L317.5 797.5" stroke-width="1" class="k"/>
<path d="M320.5 652.3L320.5 797.5" stroke-width="1" class="k"/>
<rect class="k" x="371.8" y="624.7" width="63" height="51.6" stroke-width="1" fill="none"/>
<rect class="k" x="375.8" y="627.4" width="55.2" height="13.8" stroke-width="0.8" fill="none"/>
<path d="M401.6 627.4L401.6 641.2" stroke-width="0.7" class="k"/>
<path d="M410.8 627.4L410.8 641.2" stroke-width="0.7" class="k"/>
<path d="M418.2 627.4L418.2 641.2" stroke-width="0.7" class="k"/>
<path d="M427.4 627.4L427.4 641.2" stroke-width="0.7" class="k"/>
<path d="M375.8 634.5L401.6 634.5" stroke-width="0.5" class="k"/>
<path d="M376 659.8L399 659.8" stroke-width="0.6" class="k"/>
<rect class="k" x="376" y="660.8" width="12.5" height="11.7" stroke-width="0.9" fill="none"/>
<circle cx="381.9" cy="666.4" r="4.2" stroke-width="0.9" fill="none"/>
<circle cx="381.9" cy="666.4" r="2.3" stroke-width="0.8" fill="none"/>
<circle cx="381.9" cy="666.4" r="0.8" stroke-width="0.8" fill="none"/>
<path d="M371.8 674L407.2 674" stroke-width="0.8" class="k"/>
<path d="M413.5 665A17.5 17.5 0 0 1 431 647.5" stroke-width="0.9" fill="none"/>
<rect class="k" x="431" y="645" width="5.6" height="20" stroke-width="0.8" fill="#fff"/>
<rect class="k" x="431" y="650" width="5.6" height="8.8" fill="#000" stroke="none"/>
<path d="M115.8 709.6L175 709.6" stroke-width="1" class="k"/>
<path d="M121.25 713.3L235 713.3" stroke-width="1" class="k"/>
<path d="M167.5 676.5L167.5 709.6" stroke-width="0.9" class="k"/>
<path d="M171.4 676.5L171.4 709.6" stroke-width="0.9" class="k"/>
<path d="M171.4 687.7L190.5 687.7" stroke-width="0.8" class="k"/>
<path d="M155.2 708.6A12.3 12.3 0 0 1 165.79 696.42" stroke-width="0.9" fill="none"/>
<path d="M174.8 711.3A14.8 14.8 0 0 1 189.08 696.51" stroke-width="0.9" fill="none"/>
<path d="M190.5 676.5L190.5 713.3" stroke-width="1" class="k"/>
<path d="M194.5 676.5L194.5 713.3" stroke-width="1" class="k"/>
<rect class="k" x="194.6" y="678.5" width="11" height="32.5" stroke-width="0.8" fill="#fff"/>
<rect class="k" x="195.2" y="679.5" width="4.7" height="28.3" fill="#000" stroke="none"/>
<rect class="k" x="201.1" y="687.5" width="4" height="20.3" fill="#000" stroke="none"/>
<rect class="k" x="128.5" y="688.8" width="3.5" height="9.2" stroke-width="0.8" fill="none"/>
<path d="M132 689.5H137A4.3 3.8 0 0 1 137 697.3H132" stroke-width="0.9" fill="none"/>
<circle cx="138" cy="693.4" r="1.8" stroke-width="0.7" fill="none"/>
<path d="M121.5 686L128 686" stroke-width="0.8" class="k"/>
<path d="M121.5 700L128 700" stroke-width="0.8" class="k"/>
<rect class="k" x="124.3" y="692" width="3.7" height="13.5" stroke-width="0.7" fill="none"/>
<path d="M175.5 682.5A5 4 0 1 0 185.5 682.5A5 4 0 1 0 175.5 682.5Z" stroke-width="0.9" fill="none"/>
<path d="M177.3 682.5A3.2 2.4 0 1 0 183.7 682.5A3.2 2.4 0 1 0 177.3 682.5Z" stroke-width="0.7" fill="none"/>
<path d="M155.5 677.5v4M159.5 677.5v4M154 680h7" stroke-width="0.9" fill="none"/>
<path class="k" d="M128.5 741.5L137.3 741.5L137.3 782.9L167 782.9" stroke-width="0.8" fill="none"/>
<rect class="k" x="189.4" y="752.5" width="2.5" height="5.6" fill="#000" stroke="none"/>
<rect class="k" x="189.4" y="764.6" width="2.5" height="5.6" fill="#000" stroke="none"/>
<rect class="k" x="189.4" y="776.4" width="2.5" height="5.6" fill="#000" stroke="none"/>
<rect class="k" x="189.4" y="788.5" width="2.5" height="5.6" fill="#000" stroke="none"/>
<use href="#c" transform="translate(162.3 768.3) rotate(-90) scale(0.85)"/>
<rect class="k" x="218.8" y="745.8" width="13.7" height="36.2" stroke-width="0.9" fill="none"/>
<path d="M218.8 758.2L232.5 758.2" stroke-width="0.9" class="k"/>
<path d="M218.8 770.2L232.5 770.2" stroke-width="0.9" class="k"/>
<path d="M231.2 745.8L231.2 782" stroke-width="2.2" class="k"/>
<circle cx="227.5" cy="790.6" r="5.4" stroke-width="0.9" fill="#fff"/>
<path d="M235 724L235 809" stroke-width="1" class="k"/>
<path d="M237 724L237 797.5" stroke-width="1" class="k"/>
<path class="k" d="M235 697.7L249.2 697.7L249.2 665L304.7 665L304.7 710.8L271 710.8L271 723" stroke-width="0.8" fill="none"/>
<path d="M235 652.3L235 697.7" stroke-width="1" class="k"/>
<path d="M308 652.3L308 723" stroke-width="1" class="k"/>
<path d="M271 723L317.5 723" stroke-width="1" class="k"/>
<path d="M255.5 724.8L317.5 724.8" stroke-width="1" class="k"/>
<rect class="k" x="268.3" y="665" width="12.7" height="11.4" fill="#000" stroke="none"/>
<use href="#c" transform="translate(253.5 684.2) rotate(-90) scale(0.9)"/>
<use href="#c" transform="translate(300 685.5) rotate(90) scale(0.9)"/>
<use href="#c" transform="translate(286.6 706.5) rotate(180) scale(0.9)"/>
<use href="#c" transform="translate(261.2 742.3) rotate(0) scale(0.85)"/>
<use href="#c" transform="translate(276.7 740.9) rotate(0) scale(0.85)"/>
<use href="#c" transform="translate(293 742.3) rotate(0) scale(0.85)"/>
<use href="#c" transform="translate(261.2 774.8) rotate(180) scale(0.85)"/>
<use href="#c" transform="translate(276.7 776.2) rotate(180) scale(0.85)"/>
<use href="#c" transform="translate(292.6 774.8) rotate(180) scale(0.85)"/>
<path d="M313.6 737.5L313.6 761.5" stroke-width="1.8" class="k"/>
<path d="M306.5 776.5L318.6 773.5L331.8 777.5L319.1 792.8L306.5 776.5" stroke-width="0.9" fill="none"/>
<path d="M241 741L255.5 724.8" stroke-width="0.7" fill="none"/>
<use href="#c2" transform="translate(350.4 707.6) rotate(-90) scale(0.85)"/>
<use href="#c2" transform="translate(387.2 707.6) rotate(90) scale(0.85)"/>
<use href="#c2" transform="translate(350.4 722.3) rotate(-90) scale(0.85)"/>
<use href="#c2" transform="translate(387.2 722.3) rotate(90) scale(0.85)"/>
<use href="#c2" transform="translate(350.4 736.3) rotate(-90) scale(0.85)"/>
<use href="#c2" transform="translate(387.2 736.3) rotate(90) scale(0.85)"/>
<use href="#c2" transform="translate(350.4 749.6) rotate(-90) scale(0.85)"/>
<use href="#c2" transform="translate(387.2 749.6) rotate(90) scale(0.85)"/>
<use href="#c2" transform="translate(350.4 763) rotate(-90) scale(0.85)"/>
<use href="#c2" transform="translate(387.2 763) rotate(90) scale(0.85)"/>
<use href="#c2" transform="translate(368.1 696.3) rotate(0) scale(0.85)"/>
<use href="#c2" transform="translate(368.1 779.1) rotate(180) scale(0.85)"/>
<rect class="k" x="355.7" y="701.2" width="26.4" height="73" stroke-width="0.9" fill="#fff"/>
<path d="M346 794.5L391 794.5" stroke-width="0.7" class="k"/>
<path d="M351 792.8L385 792.8" stroke-width="0.6" class="k"/>
<path d="M413.5 676.5L413.5 809" stroke-width="1" class="k"/>
<path d="M419.2 676.5L419.2 809" stroke-width="1" class="k"/>
<rect class="k" x="419.2" y="677" width="15.6" height="95" stroke-width="0.9" fill="none"/>
<rect class="k" x="422.3" y="679.5" width="10" height="28.8" stroke-width="0.8" fill="#fff"/>
<rect class="k" x="422.8" y="680.3" width="4.5" height="25.5" fill="#000" stroke="none"/>
<rect class="k" x="428.3" y="683.5" width="3.7" height="22.3" fill="#000" stroke="none"/>
<rect class="k" x="422.3" y="713.3" width="10" height="28.7" stroke-width="0.8" fill="#fff"/>
<rect class="k" x="422.8" y="714.1" width="4.5" height="25.4" fill="#000" stroke="none"/>
<rect class="k" x="428.3" y="717.3" width="3.7" height="22.2" fill="#000" stroke="none"/>
<rect class="k" x="422.3" y="748.3" width="10" height="23.2" stroke-width="0.8" fill="#fff"/>
<rect class="k" x="422.8" y="749.1" width="4.5" height="19.9" fill="#000" stroke="none"/>
<rect class="k" x="428.3" y="752.3" width="3.7" height="16.7" fill="#000" stroke="none"/>
<rect class="k" x="419.8" y="772" width="15" height="18.8" stroke-width="1" fill="#fff"/>
<path d="M419.8 772L434.8 790.8" stroke-width="0.8"/>
<path d="M419.8 790.8L434.8 772" stroke-width="0.8"/></g>
<g fill="#000" stroke="#000" stroke-width="0.3" opacity="0.999" style="font-family:'Liberation Sans',sans-serif"><text x="308.4" y="45.4" text-anchor="start" style="font-size:18.8px;font-weight:700;" stroke-width="0.25" textLength="97.6" lengthAdjust="spacingAndGlyphs">BACK SIDE</text>
<text x="415.5" y="839.7" text-anchor="start" style="font-size:18.8px;font-weight:700;" stroke-width="0.25" textLength="112" lengthAdjust="spacingAndGlyphs">FRONT SIDE</text>
<text x="653.3" y="529.4" text-anchor="start" style="font-size:19.2px;" stroke-width="0.6" textLength="144.5" lengthAdjust="spacingAndGlyphs">OPEN TERRACE</text>
<text x="940.89" y="104" textLength="55.5" lengthAdjust="spacingAndGlyphs" style="font-size:7.2px;" transform="rotate(-90 940.89 104)">MEETING ROOM</text>
<text x="923.39" y="223.5" textLength="52.5" lengthAdjust="spacingAndGlyphs" style="font-size:7.2px;" transform="rotate(-90 923.39 223.5)">TOILET BLOCK</text>
<text x="135.8" y="108.2" text-anchor="start" style="font-size:6.6px;font-weight:700;" textLength="65.5" lengthAdjust="spacingAndGlyphs" stroke-width="0.5">ELECTRICAL ROOM</text>
<text x="214" y="94.3" text-anchor="start" style="font-size:6.6px;font-weight:700;" textLength="51" lengthAdjust="spacingAndGlyphs" stroke-width="0.5">SERVER ROOM</text>
<text x="289.3" y="132.1" text-anchor="start" style="font-size:6.6px;font-weight:700;" textLength="17.5" lengthAdjust="spacingAndGlyphs" stroke-width="0.5">MGR.</text>
<text x="289.3" y="139.9" text-anchor="start" style="font-size:6.6px;font-weight:700;" textLength="27.2" lengthAdjust="spacingAndGlyphs" stroke-width="0.5">CABIN-5</text>
<text x="152.6" y="175.9" text-anchor="start" style="font-size:6.6px;font-weight:700;" textLength="44" lengthAdjust="spacingAndGlyphs" stroke-width="0.5">MGR.CABIN-6</text>
<text x="152.6" y="255.9" text-anchor="start" style="font-size:6.6px;font-weight:700;" textLength="44" lengthAdjust="spacingAndGlyphs" stroke-width="0.5">MGR.CABIN-4</text>
<text x="152.6" y="433.4" text-anchor="start" style="font-size:6.6px;font-weight:700;" textLength="44" lengthAdjust="spacingAndGlyphs" stroke-width="0.5">MGR.CABIN-3</text>
<text x="152.6" y="513.2" text-anchor="start" style="font-size:6.6px;font-weight:700;" textLength="44" lengthAdjust="spacingAndGlyphs" stroke-width="0.5">MGR.CABIN-2</text>
<text x="163.8" y="564.2" text-anchor="start" style="font-size:6.6px;font-weight:700;" textLength="44" lengthAdjust="spacingAndGlyphs" stroke-width="0.5">MGR.CABIN-1</text>
<text x="166.1" y="632.9" text-anchor="start" style="font-size:6.6px;font-weight:700;" textLength="32.5" lengthAdjust="spacingAndGlyphs" stroke-width="0.5">VP CABIN</text>
<text x="322.7" y="176.7" textLength="63.1" lengthAdjust="spacingAndGlyphs" style="font-size:6.4px;font-weight:700;" stroke-width="0.55">SENIOR MANAGER</text>
<text x="249.3" y="241" text-anchor="start" style="font-size:4.5px;font-weight:700;">5</text>
<text x="242.34" y="272.5" textLength="55.7" lengthAdjust="spacingAndGlyphs" style="font-size:7.6px;font-weight:700;" stroke-width="0.5" transform="rotate(-90 242.34 272.5)">PRINTER SPACE</text>
<text x="230.04" y="480" textLength="82.4" lengthAdjust="spacingAndGlyphs" style="font-size:7.6px;font-weight:700;" stroke-width="0.5" transform="rotate(-90 230.04 480)">1500mm WIDE PASSAGE</text>
<text x="451.84" y="479.6" textLength="82" lengthAdjust="spacingAndGlyphs" style="font-size:7.6px;font-weight:700;" stroke-width="0.5" transform="rotate(-90 451.84 479.6)">1500mm WIDE PASSAGE</text>
<text x="298.9" y="300.8" textLength="51.9" lengthAdjust="spacingAndGlyphs" style="font-size:6.6px;font-weight:700;" stroke-width="0.5">WORKSTATION</text>
<text x="298.9" y="392.9" textLength="51.9" lengthAdjust="spacingAndGlyphs" style="font-size:6.6px;font-weight:700;" stroke-width="0.5">WORKSTATION</text>
<text x="298.9" y="491.7" textLength="51.9" lengthAdjust="spacingAndGlyphs" style="font-size:6.6px;font-weight:700;" stroke-width="0.5">WORKSTATION</text>
<text x="588.41" y="314.9" textLength="18.7" lengthAdjust="spacingAndGlyphs" style="font-size:7.4px;font-weight:700;" stroke-width="0.5" transform="rotate(-90 588.41 314.9)">DUCT</text>
<text x="588.96" y="390.5" textLength="16.4" lengthAdjust="spacingAndGlyphs" style="font-size:7.4px;font-weight:700;" stroke-width="0.5" transform="rotate(-90 588.96 390.5)">DUCT</text>
<text x="588.86" y="514.2" textLength="17.9" lengthAdjust="spacingAndGlyphs" style="font-size:7.4px;font-weight:700;" stroke-width="0.5" transform="rotate(-90 588.86 514.2)">DUCT</text>
<text x="588.86" y="553.4" textLength="17.1" lengthAdjust="spacingAndGlyphs" style="font-size:7.4px;font-weight:700;" stroke-width="0.5" transform="rotate(-90 588.86 553.4)">DUCT</text>
<text x="598.71" y="790" textLength="17.2" lengthAdjust="spacingAndGlyphs" style="font-size:7.4px;font-weight:700;" stroke-width="0.5" transform="rotate(-90 598.71 790)">DUCT</text>
<text x="499.6" y="326.9" textLength="51.2" lengthAdjust="spacingAndGlyphs" style="font-size:6.6px;font-weight:700;" stroke-width="0.5">WORKSTATION</text>
<text x="503" y="408.9" textLength="52.5" lengthAdjust="spacingAndGlyphs" style="font-size:6.6px;font-weight:700;" stroke-width="0.5">WORKSTATION</text>
<text x="503" y="500.7" textLength="52.5" lengthAdjust="spacingAndGlyphs" style="font-size:6.6px;font-weight:700;" stroke-width="0.5">WORKSTATION</text>
<text x="498.5" y="580.7" textLength="50.7" lengthAdjust="spacingAndGlyphs" style="font-size:6.6px;font-weight:700;" stroke-width="0.5">WORKSTATION</text>
<text x="509.8" y="671.2" textLength="52.5" lengthAdjust="spacingAndGlyphs" style="font-size:6.6px;font-weight:700;" stroke-width="0.5">WORKSTATION</text>
<text x="503" y="755.2" textLength="52.5" lengthAdjust="spacingAndGlyphs" style="font-size:6.6px;font-weight:700;" stroke-width="0.5">WORKSTATION</text>
<text x="390.6" y="568.1" textLength="13" lengthAdjust="spacingAndGlyphs" style="font-size:6.6px;font-weight:700;" stroke-width="0.5">LIFT</text>
<text x="377" y="633.2" text-anchor="start" style="font-size:5.2px;" textLength="53" lengthAdjust="spacingAndGlyphs">Tea, coffee vending</text>
<text x="377" y="639.8" text-anchor="start" style="font-size:5.2px;" textLength="23" lengthAdjust="spacingAndGlyphs">machines</text>
<text x="399.2" y="649.7" text-anchor="start" style="font-size:6.6px;font-weight:700;" textLength="13.4" lengthAdjust="spacingAndGlyphs" stroke-width="0.5">DRY</text>
<text x="399.2" y="657.9" text-anchor="start" style="font-size:6.6px;font-weight:700;" textLength="28" lengthAdjust="spacingAndGlyphs" stroke-width="0.5">PANTRY</text>
<text x="376.5" y="653.3" text-anchor="start" style="font-size:4.6px;" textLength="14" lengthAdjust="spacingAndGlyphs">water</text>
<text x="376.5" y="658.8" text-anchor="start" style="font-size:4.6px;" textLength="22" lengthAdjust="spacingAndGlyphs">dispenser</text>
<text x="146.3" y="694.9" textLength="23.3" lengthAdjust="spacingAndGlyphs" style="font-size:6.6px;font-weight:700;" stroke-width="0.5">TOILET</text>
<text x="155" y="738.7" textLength="63.8" lengthAdjust="spacingAndGlyphs" style="font-size:6.6px;font-weight:700;" stroke-width="0.5">DIRECTOR'S CABIN</text>
<text x="258.3" y="698.2" textLength="28.3" lengthAdjust="spacingAndGlyphs" style="font-size:6.6px;font-weight:700;" stroke-width="0.5">PA AREA</text>
<text x="252" y="792.2" textLength="53" lengthAdjust="spacingAndGlyphs" style="font-size:6.6px;font-weight:700;" stroke-width="0.5">MEETING ROOM</text>
<text x="337.3" y="688.1" textLength="68.7" lengthAdjust="spacingAndGlyphs" style="font-size:6.6px;font-weight:700;" stroke-width="0.5">CONFERENCE ROOM</text>
<text x="358.5" y="792.3" text-anchor="start" style="font-size:3.6px;" textLength="25" lengthAdjust="spacingAndGlyphs">GLASS DOOR</text>
<text x="430.16" y="790" textLength="17.2" lengthAdjust="spacingAndGlyphs" style="font-size:7.4px;font-weight:700;" stroke-width="0.5" transform="rotate(-90 430.16 790)">DUCT</text></g>
</svg>
</body></html>
